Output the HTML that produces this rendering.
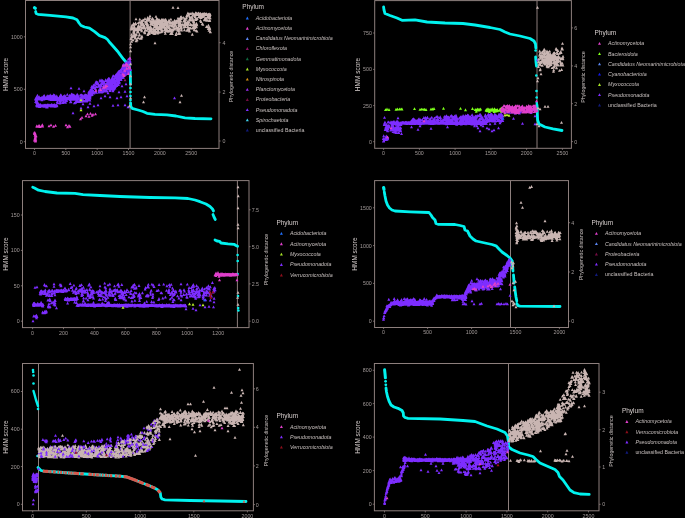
<!DOCTYPE html>
<html><head><meta charset="utf-8"><title>HMM score vs phylogenetic distance</title>
<style>
html,body{margin:0;padding:0;background:#000;}
body{width:685px;height:518px;overflow:hidden;font-family:"Liberation Sans",sans-serif;}
svg{display:block;filter:blur(0.35px);}
text{font-family:"Liberation Sans",sans-serif;}
</style></head><body>
<svg width="685" height="518" viewBox="0 0 685 518" font-family="Liberation Sans, sans-serif">
<line x1="130.1" y1="0.5" x2="130.1" y2="148.4" stroke="#8d7f7d" stroke-width="1"/>
<rect x="25.5" y="0.5" width="193.5" height="147.9" fill="none" stroke="#8d7f7d" stroke-width="1"/>
<text x="34.5" y="155.3" font-size="5.3" text-anchor="middle" fill="#a39b9a">0</text>
<text x="65.8" y="155.3" font-size="5.3" text-anchor="middle" fill="#a39b9a">500</text>
<text x="97.2" y="155.3" font-size="5.3" text-anchor="middle" fill="#a39b9a">1000</text>
<text x="128.5" y="155.3" font-size="5.3" text-anchor="middle" fill="#a39b9a">1500</text>
<text x="159.9" y="155.3" font-size="5.3" text-anchor="middle" fill="#a39b9a">2000</text>
<text x="191.2" y="155.3" font-size="5.3" text-anchor="middle" fill="#a39b9a">2500</text>
<text x="22.7" y="143.6" font-size="5.3" text-anchor="end" fill="#a39b9a">0</text>
<text x="22.7" y="91.2" font-size="5.3" text-anchor="end" fill="#a39b9a">500</text>
<text x="22.7" y="38.7" font-size="5.3" text-anchor="end" fill="#a39b9a">1000</text>
<text x="222.4" y="142.9" font-size="5.3" text-anchor="start" fill="#a39b9a">0</text>
<text x="222.4" y="94" font-size="5.3" text-anchor="start" fill="#a39b9a">2</text>
<text x="222.4" y="44.6" font-size="5.3" text-anchor="start" fill="#a39b9a">4</text>
<path stroke="#8d7f7d" stroke-width="0.8" fill="none" d="M34.5 148.4v1.6M65.8 148.4v1.6M97.2 148.4v1.6M128.5 148.4v1.6M159.9 148.4v1.6M191.2 148.4v1.6M25.5 141.7h-1.6M25.5 89.3h-1.6M25.5 36.8h-1.6M219 141h1.6M219 92.1h1.6M219 42.7h1.6"/>
<text x="8" y="74.5" font-size="6.5" text-anchor="middle" fill="#d8d0cf" transform="rotate(-90 8 74.5)">HMM score</text>
<text x="233.4" y="76.5" font-size="5.3" text-anchor="middle" fill="#c8c0bf" transform="rotate(-90 233.4 76.5)">Phylogenetic distance</text>
<polyline fill="none" stroke="#00f2ee" stroke-width="3.2" stroke-linecap="round" stroke-linejoin="round" points="34.5,7.7 35.3,8.3"/>
<polyline fill="none" stroke="#00f2ee" stroke-width="2.8" stroke-linecap="round" stroke-linejoin="round" points="35.6,11.5 36.2,13.5 38,14.3 50,15.3 66,16.8 73,18 77,19.8 79,23 81,25.5 84.5,27 89.5,28.2 94.6,31.6 99.5,35.6 105,37.6 107.5,39.5 110,42.8 114,47.3 117.5,51.2 120,54.6 123.6,59.3 126,62 128.5,64.4 129.5,68"/>
<polyline fill="none" stroke="#00f2ee" stroke-width="2.8" stroke-linecap="round" stroke-linejoin="round" points="129.5,68 130.2,72 130.4,78 130.5,84"/>
<circle cx="130.5" cy="88" r="1.35" fill="#00f2ee"/>
<circle cx="130.5" cy="92" r="1.35" fill="#00f2ee"/>
<circle cx="130.5" cy="96" r="1.35" fill="#00f2ee"/>
<circle cx="130.5" cy="100" r="1.35" fill="#00f2ee"/>
<polyline fill="none" stroke="#00f2ee" stroke-width="2.8" stroke-linecap="round" stroke-linejoin="round" points="130.6,103 130.8,106.5"/>
<polyline fill="none" stroke="#00f2ee" stroke-width="2.8" stroke-linecap="round" stroke-linejoin="round" points="130.8,106.5 132,108.3 138,110 143,111.5 147,113.3 155,114.3 167,114.8 176,116 185,117.8 195,118.5 211,118.8"/>
<polyline fill="none" stroke="#7d2dff" stroke-width="2.6" points="36,98.5 78,98.5"/>
<polyline fill="none" stroke="#7d2dff" stroke-width="2.4" points="36.5,105.6 56.5,105.6"/>
<path fill="#7d2dff" d="M62.1 97l1.5 2.9h-3zM73.6 96.5l1.5 2.9h-3zM68.5 96.8l1.5 2.9h-3zM45.1 96.6l1.5 2.9h-3zM48.3 97l1.5 2.9h-3zM72.6 96.7l1.5 2.9h-3zM35.7 96.8l1.5 2.9h-3zM70.4 96l1.5 2.9h-3zM69.4 96.4l1.5 2.9h-3zM55.4 98.1l1.5 2.9h-3zM48.4 96.5l1.5 2.9h-3zM47.3 96.3l1.5 2.9h-3zM46.3 97.2l1.5 2.9h-3zM54.4 98l1.5 2.9h-3zM56.9 96l1.5 2.9h-3zM59 96.8l1.5 2.9h-3zM77.8 96.5l1.5 2.9h-3zM69.2 95.8l1.5 2.9h-3zM61.9 97.5l1.5 2.9h-3zM77.5 97l1.5 2.9h-3zM44.7 97l1.5 2.9h-3zM42.3 96.5l1.5 2.9h-3zM61.5 97.3l1.5 2.9h-3zM37.4 96.6l1.5 2.9h-3zM37 96.9l1.5 2.9h-3zM57.4 96.2l1.5 2.9h-3zM55.3 96.1l1.5 2.9h-3zM74.5 97.9l1.5 2.9h-3zM62.2 96.6l1.5 2.9h-3zM57.3 97.2l1.5 2.9h-3zM56.6 97l1.5 2.9h-3zM46 96.7l1.5 2.9h-3zM36 96.6l1.5 2.9h-3zM43.7 97.4l1.5 2.9h-3zM64.9 96.8l1.5 2.9h-3zM44 96.9l1.5 2.9h-3zM51.2 97l1.5 2.9h-3zM35.7 97.8l1.5 2.9h-3zM70.8 97.5l1.5 2.9h-3zM42.1 97.3l1.5 2.9h-3zM46.9 96.6l1.5 2.9h-3zM72.9 96l1.5 2.9h-3zM57.2 97.7l1.5 2.9h-3zM71.5 97.7l1.5 2.9h-3zM62.7 96.9l1.5 2.9h-3zM67 97.4l1.5 2.9h-3zM39.4 97.5l1.5 2.9h-3zM58.5 97.6l1.5 2.9h-3zM57.1 97.6l1.5 2.9h-3zM72.5 96.7l1.5 2.9h-3zM50.9 98.1l1.5 2.9h-3zM60.9 96.1l1.5 2.9h-3zM38 97.6l1.5 2.9h-3zM52 97.3l1.5 2.9h-3zM49.2 97.6l1.5 2.9h-3zM41.9 98.3l1.5 2.9h-3zM70.2 98l1.5 2.9h-3zM51.6 96.2l1.5 2.9h-3zM77.1 95.8l1.5 2.9h-3zM60.6 97.6l1.5 2.9h-3zM61.2 96.3l1.5 2.9h-3zM62.6 97l1.5 2.9h-3zM64.2 97.6l1.5 2.9h-3zM41.9 95.8l1.5 2.9h-3zM54.2 95.5l1.5 2.9h-3zM45.7 97.2l1.5 2.9h-3zM52.6 97l1.5 2.9h-3zM39.6 96.8l1.5 2.9h-3zM76.6 97l1.5 2.9h-3zM44.6 96.4l1.5 2.9h-3zM64.1 95.9l1.5 2.9h-3zM48.3 96.9l1.5 2.9h-3zM72.6 96.3l1.5 2.9h-3zM63.6 95.8l1.5 2.9h-3zM41.1 97.3l1.5 2.9h-3zM71.4 96.9l1.5 2.9h-3zM75.7 97.3l1.5 2.9h-3zM73.9 96.3l1.5 2.9h-3zM59.7 96.5l1.5 2.9h-3zM41.7 96.3l1.5 2.9h-3zM43.7 96.4l1.5 2.9h-3zM74.9 97.1l1.5 2.9h-3zM59 96.4l1.5 2.9h-3zM43.2 97.2l1.5 2.9h-3zM73.1 97.2l1.5 2.9h-3zM62.8 98.4l1.5 2.9h-3zM59.7 96l1.5 2.9h-3zM51.5 97.6l1.5 2.9h-3zM53 96.9l1.5 2.9h-3zM45.7 97l1.5 2.9h-3zM37.1 96l1.5 2.9h-3zM72.7 96.7l1.5 2.9h-3zM55.4 97.5l1.5 2.9h-3zM58.8 96.9l1.5 2.9h-3zM49.2 97l1.5 2.9h-3zM67.4 96.8l1.5 2.9h-3zM36.6 97.8l1.5 2.9h-3zM51.3 97l1.5 2.9h-3zM36.8 95.5l1.5 2.9h-3zM40.7 96.5l1.5 2.9h-3zM76.6 95.6l1.5 2.9h-3zM63.5 94.7l1.5 2.9h-3zM53.7 96.6l1.5 2.9h-3zM57.8 97.9l1.5 2.9h-3zM72.6 97l1.5 2.9h-3zM50.1 96.2l1.5 2.9h-3zM60.6 96.3l1.5 2.9h-3zM64.6 97.8l1.5 2.9h-3zM50.6 97.1l1.5 2.9h-3zM57.6 97l1.5 2.9h-3zM68 97l1.5 2.9h-3zM74.1 97l1.5 2.9h-3zM41.9 97.6l1.5 2.9h-3zM75.2 97.4l1.5 2.9h-3zM35.7 97.1l1.5 2.9h-3zM67.5 96.3l1.5 2.9h-3zM69.9 97.3l1.5 2.9h-3zM41.3 96.5l1.5 2.9h-3zM53.3 97.8l1.5 2.9h-3zM70.1 96.1l1.5 2.9h-3zM36.1 96.9l1.5 2.9h-3zM62.2 97l1.5 2.9h-3zM69.2 96.1l1.5 2.9h-3zM57.3 98.2l1.5 2.9h-3zM66.3 98l1.5 2.9h-3zM45.1 96.7l1.5 2.9h-3zM43.9 97.5l1.5 2.9h-3zM50.9 97.3l1.5 2.9h-3zM43.1 95.2l1.5 2.9h-3zM50.2 97.2l1.5 2.9h-3zM75.8 96.9l1.5 2.9h-3zM59.9 97l1.5 2.9h-3zM50 96.2l1.5 2.9h-3zM47 96.8l1.5 2.9h-3zM76 96.9l1.5 2.9h-3zM54.4 97.8l1.5 2.9h-3zM77.2 97.2l1.5 2.9h-3zM57.4 97l1.5 2.9h-3zM57.6 98.1l1.5 2.9h-3zM73.6 96.6l1.5 2.9h-3zM67.1 96.7l1.5 2.9h-3zM60.2 95.7l1.5 2.9h-3zM53.6 98.1l1.5 2.9h-3zM72.8 97.7l1.5 2.9h-3zM53 97.6l1.5 2.9h-3zM74.7 97.5l1.5 2.9h-3zM38.4 97.1l1.5 2.9h-3zM53.8 97.1l1.5 2.9h-3zM57.6 96.8l1.5 2.9h-3zM75.9 96.8l1.5 2.9h-3zM51.9 102.9l1.5 2.9h-3zM51.1 103.2l1.5 2.9h-3zM45.3 104.6l1.5 2.9h-3zM43.9 104.5l1.5 2.9h-3zM44.8 104l1.5 2.9h-3zM36.7 103.1l1.5 2.9h-3zM53.7 103.9l1.5 2.9h-3zM47.4 103.7l1.5 2.9h-3zM44.1 104.5l1.5 2.9h-3zM47.5 105.4l1.5 2.9h-3zM51.2 104.2l1.5 2.9h-3zM44 103.6l1.5 2.9h-3zM53.4 103.4l1.5 2.9h-3zM55.3 104.1l1.5 2.9h-3zM44.1 104l1.5 2.9h-3zM38.9 103.4l1.5 2.9h-3zM52 104.2l1.5 2.9h-3zM56.9 103.4l1.5 2.9h-3zM39.1 104.8l1.5 2.9h-3zM51 104.7l1.5 2.9h-3zM53.3 104.7l1.5 2.9h-3zM55.3 103.8l1.5 2.9h-3zM38.6 104.4l1.5 2.9h-3zM37.9 104l1.5 2.9h-3zM56.7 103.9l1.5 2.9h-3zM38.5 103.9l1.5 2.9h-3zM39.7 103.3l1.5 2.9h-3zM48.1 103.2l1.5 2.9h-3zM45.4 104.6l1.5 2.9h-3zM51.8 104l1.5 2.9h-3zM40 104.2l1.5 2.9h-3zM55.2 104.7l1.5 2.9h-3zM40.6 103.1l1.5 2.9h-3zM52.2 103.6l1.5 2.9h-3zM37.4 104.2l1.5 2.9h-3zM45.9 104.3l1.5 2.9h-3zM36.7 103.9l1.5 2.9h-3zM42.6 104.7l1.5 2.9h-3zM42.6 104.2l1.5 2.9h-3zM51.1 103.4l1.5 2.9h-3zM45.6 103.5l1.5 2.9h-3zM37.2 104.6l1.5 2.9h-3zM56.9 104.4l1.5 2.9h-3zM54.7 103l1.5 2.9h-3zM55.2 104.9l1.5 2.9h-3zM41.2 104.5l1.5 2.9h-3zM44.3 104.9l1.5 2.9h-3zM40.8 103.9l1.5 2.9h-3zM38.6 103.9l1.5 2.9h-3zM36.7 103.4l1.5 2.9h-3zM46.6 105.6l1.5 2.9h-3zM38.6 104l1.5 2.9h-3zM39.7 105l1.5 2.9h-3zM54.1 103.7l1.5 2.9h-3zM46.2 104.2l1.5 2.9h-3zM39.9 103.1l1.5 2.9h-3zM50.1 103.9l1.5 2.9h-3zM41.6 104.7l1.5 2.9h-3zM47.1 103.3l1.5 2.9h-3zM41.9 104.7l1.5 2.9h-3zM46.8 104.3l1.5 2.9h-3zM49.2 103.5l1.5 2.9h-3zM47.3 103.8l1.5 2.9h-3zM44.3 103.8l1.5 2.9h-3zM52.6 104.1l1.5 2.9h-3zM54.3 103.8l1.5 2.9h-3zM39.8 103.6l1.5 2.9h-3zM38.9 103.9l1.5 2.9h-3zM38.4 103.5l1.5 2.9h-3zM56.6 103.3l1.5 2.9h-3zM37.6 100.8l1.5 2.9h-3zM35.6 100.2l1.5 2.9h-3zM36.4 99.6l1.5 2.9h-3zM37.3 101l1.5 2.9h-3zM37.1 100.2l1.5 2.9h-3zM36.7 101l1.5 2.9h-3zM37.4 100.3l1.5 2.9h-3zM36.4 99.3l1.5 2.9h-3zM36.9 100.3l1.5 2.9h-3zM37.5 100.4l1.5 2.9h-3zM50.2 93.6l1.5 2.9h-3zM70.7 94.4l1.5 2.9h-3zM52 95.8l1.5 2.9h-3zM71.5 92.4l1.5 2.9h-3zM69 95.1l1.5 2.9h-3zM54.8 93.8l1.5 2.9h-3zM65.9 95.5l1.5 2.9h-3zM37.4 93.8l1.5 2.9h-3zM52.4 94.5l1.5 2.9h-3zM72.1 93.5l1.5 2.9h-3zM60.3 93.9l1.5 2.9h-3zM59.4 95.8l1.5 2.9h-3zM63.9 95.3l1.5 2.9h-3zM64.5 94.4l1.5 2.9h-3zM60.5 94l1.5 2.9h-3zM53.7 93.2l1.5 2.9h-3zM43.7 94.4l1.5 2.9h-3zM48.3 94.7l1.5 2.9h-3zM48.3 94.6l1.5 2.9h-3zM54.1 94.6l1.5 2.9h-3zM78 93.8l1.5 2.9h-3zM50.8 94.6l1.5 2.9h-3zM54.8 94.7l1.5 2.9h-3zM51.6 95.7l1.5 2.9h-3zM60.4 96.2l1.5 2.9h-3zM75.8 94.6l1.5 2.9h-3zM73.3 94.1l1.5 2.9h-3zM51.8 94.6l1.5 2.9h-3zM47.2 94.2l1.5 2.9h-3zM73.1 94.1l1.5 2.9h-3zM56.7 94.6l1.5 2.9h-3zM64.8 93.9l1.5 2.9h-3zM39.1 95.2l1.5 2.9h-3zM72.4 94.6l1.5 2.9h-3zM49.1 94.9l1.5 2.9h-3zM56.8 94.5l1.5 2.9h-3zM44.3 94.1l1.5 2.9h-3zM53.7 93.9l1.5 2.9h-3zM70.8 94.5l1.5 2.9h-3zM70.8 94.3l1.5 2.9h-3zM73.1 96.2l1.5 2.9h-3zM72.8 92.9l1.5 2.9h-3zM64.2 100.4l1.5 2.9h-3zM62.4 96.9l1.5 2.9h-3zM66.2 96.6l1.5 2.9h-3zM67.3 92.9l1.5 2.9h-3zM60 98.9l1.5 2.9h-3zM66.3 96.9l1.5 2.9h-3zM70.4 100.3l1.5 2.9h-3zM59.9 101.1l1.5 2.9h-3zM59.9 101.7l1.5 2.9h-3zM60.6 95.3l1.5 2.9h-3zM62.9 96.1l1.5 2.9h-3zM77.2 92.7l1.5 2.9h-3zM57.5 100.4l1.5 2.9h-3zM60.9 98.7l1.5 2.9h-3zM60.5 100.4l1.5 2.9h-3zM67 96.9l1.5 2.9h-3zM57.3 100l1.5 2.9h-3zM66.6 99.1l1.5 2.9h-3zM60.4 96.1l1.5 2.9h-3zM62.7 101l1.5 2.9h-3zM73.6 93.5l1.5 2.9h-3zM60.9 93.3l1.5 2.9h-3zM70 94.7l1.5 2.9h-3zM65.5 100.9l1.5 2.9h-3zM65.8 99.4l1.5 2.9h-3zM74.2 93.7l1.5 2.9h-3zM60.4 99.2l1.5 2.9h-3zM76.4 99.1l1.5 2.9h-3zM75.8 94.4l1.5 2.9h-3zM71 100.4l1.5 2.9h-3zM58 98.7l1.5 2.9h-3zM70.9 96.4l1.5 2.9h-3zM69.6 93.8l1.5 2.9h-3zM73.2 97.9l1.5 2.9h-3zM61.5 94.2l1.5 2.9h-3zM77 95.1l1.5 2.9h-3zM75.6 100.9l1.5 2.9h-3zM59.4 95.6l1.5 2.9h-3zM63.6 99.9l1.5 2.9h-3zM57.7 101.2l1.5 2.9h-3zM74.4 101.4l1.5 2.9h-3zM76.2 99.3l1.5 2.9h-3zM77.8 95.4l1.5 2.9h-3zM76.7 96.8l1.5 2.9h-3zM79 96.6l1.5 2.9h-3zM77.8 95.7l1.5 2.9h-3zM82.5 97.5l1.5 2.9h-3zM81 95.4l1.5 2.9h-3zM84.2 93.6l1.5 2.9h-3zM79.9 98l1.5 2.9h-3zM76.5 95.9l1.5 2.9h-3zM80.6 98.6l1.5 2.9h-3zM86.6 99l1.5 2.9h-3zM79.6 97.1l1.5 2.9h-3zM81.7 99.7l1.5 2.9h-3zM86.6 99.6l1.5 2.9h-3zM81.7 93.6l1.5 2.9h-3zM88.4 94.7l1.5 2.9h-3zM88.9 98.3l1.5 2.9h-3zM80.3 93.5l1.5 2.9h-3zM86.3 97.5l1.5 2.9h-3zM79.5 100l1.5 2.9h-3zM78 94.9l1.5 2.9h-3zM82.1 93.9l1.5 2.9h-3zM84.4 94.2l1.5 2.9h-3zM89.1 98.6l1.5 2.9h-3zM78 96.8l1.5 2.9h-3zM86 93.7l1.5 2.9h-3zM82.7 99l1.5 2.9h-3zM77.8 95.5l1.5 2.9h-3zM89.6 93l1.5 2.9h-3zM85.7 95.3l1.5 2.9h-3zM77.8 99.1l1.5 2.9h-3zM88.7 96.6l1.5 2.9h-3zM77.4 100.2l1.5 2.9h-3zM77.3 98.1l1.5 2.9h-3zM80.6 96.9l1.5 2.9h-3zM89.1 97.3l1.5 2.9h-3zM76.5 94l1.5 2.9h-3zM88.9 96.4l1.5 2.9h-3zM84.6 96.1l1.5 2.9h-3zM76.9 98.5l1.5 2.9h-3zM84 99.7l1.5 2.9h-3zM82.4 98.5l1.5 2.9h-3zM83.9 99.2l1.5 2.9h-3zM86.3 94.2l1.5 2.9h-3zM85.5 93.3l1.5 2.9h-3zM90 95.7l1.5 2.9h-3zM78.2 95.5l1.5 2.9h-3zM87.4 95.3l1.5 2.9h-3zM81.8 99.6l1.5 2.9h-3zM87 96.4l1.5 2.9h-3zM88.5 94.3l1.5 2.9h-3zM89.9 98.5l1.5 2.9h-3zM79.7 98.9l1.5 2.9h-3zM82.3 95.1l1.5 2.9h-3zM89.2 97.5l1.5 2.9h-3zM89.2 93.8l1.5 2.9h-3zM81.2 93.5l1.5 2.9h-3zM89.2 95.6l1.5 2.9h-3zM81.7 97.8l1.5 2.9h-3zM81.2 97.9l1.5 2.9h-3zM86.6 96.1l1.5 2.9h-3zM82.6 99.1l1.5 2.9h-3zM82.3 93.8l1.5 2.9h-3zM81.4 99.9l1.5 2.9h-3zM82.1 96.1l1.5 2.9h-3zM78 94.4l1.5 2.9h-3zM76.9 97.9l1.5 2.9h-3zM86.6 93.8l1.5 2.9h-3zM83.9 94.5l1.5 2.9h-3zM85.4 98.5l1.5 2.9h-3zM87.2 97.9l1.5 2.9h-3zM130.2 67.9l1.5 2.9h-3zM118.6 70l1.5 2.9h-3zM106 89.5l1.5 2.9h-3zM105.6 83.3l1.5 2.9h-3zM121.1 69.3l1.5 2.9h-3zM95.5 90.1l1.5 2.9h-3zM115.2 76.2l1.5 2.9h-3zM118.6 74.6l1.5 2.9h-3zM109.9 88.6l1.5 2.9h-3zM125.1 73.1l1.5 2.9h-3zM107.9 87.1l1.5 2.9h-3zM107.8 86.2l1.5 2.9h-3zM100.1 83.5l1.5 2.9h-3zM127.1 63.4l1.5 2.9h-3zM101.4 84.4l1.5 2.9h-3zM117.5 75.6l1.5 2.9h-3zM105.4 85.7l1.5 2.9h-3zM127.8 71.9l1.5 2.9h-3zM128.3 57.5l1.5 2.9h-3zM89.3 90.5l1.5 2.9h-3zM130.3 67l1.5 2.9h-3zM113.7 84.9l1.5 2.9h-3zM91.1 93.3l1.5 2.9h-3zM109.1 84.9l1.5 2.9h-3zM90.1 96.5l1.5 2.9h-3zM111.3 86.9l1.5 2.9h-3zM95.9 85.3l1.5 2.9h-3zM103.6 84.2l1.5 2.9h-3zM100.9 83.7l1.5 2.9h-3zM113.6 78.8l1.5 2.9h-3zM123 74.6l1.5 2.9h-3zM127.8 60.4l1.5 2.9h-3zM102 81.1l1.5 2.9h-3zM112.2 76.3l1.5 2.9h-3zM88.3 93.6l1.5 2.9h-3zM103.8 89l1.5 2.9h-3zM128.8 60.5l1.5 2.9h-3zM93.1 89.2l1.5 2.9h-3zM125 72.5l1.5 2.9h-3zM115.7 74.6l1.5 2.9h-3zM100.5 87.7l1.5 2.9h-3zM121.1 78l1.5 2.9h-3zM100.3 84.5l1.5 2.9h-3zM126 60.7l1.5 2.9h-3zM91.5 92.8l1.5 2.9h-3zM93.1 91.2l1.5 2.9h-3zM119.9 72.1l1.5 2.9h-3zM107.1 87.2l1.5 2.9h-3zM94.3 85.9l1.5 2.9h-3zM109.8 85.6l1.5 2.9h-3zM100.6 83l1.5 2.9h-3zM111.3 83.4l1.5 2.9h-3zM119.6 77.9l1.5 2.9h-3zM124.4 67l1.5 2.9h-3zM90.5 93l1.5 2.9h-3zM113.2 88.2l1.5 2.9h-3zM129.8 56.9l1.5 2.9h-3zM107.5 79.1l1.5 2.9h-3zM120.7 74.3l1.5 2.9h-3zM92.1 91.6l1.5 2.9h-3zM125.1 65l1.5 2.9h-3zM112.7 78.3l1.5 2.9h-3zM125.8 72l1.5 2.9h-3zM121.5 73l1.5 2.9h-3zM124.9 64.2l1.5 2.9h-3zM90.4 90l1.5 2.9h-3zM118.4 83l1.5 2.9h-3zM96.4 90.9l1.5 2.9h-3zM99.3 88.9l1.5 2.9h-3zM101.8 78.6l1.5 2.9h-3zM113.1 81.1l1.5 2.9h-3zM114.7 85.1l1.5 2.9h-3zM127.6 60.8l1.5 2.9h-3zM88.5 96.6l1.5 2.9h-3zM96.2 90.7l1.5 2.9h-3zM103.4 80.1l1.5 2.9h-3zM122.8 64.9l1.5 2.9h-3zM111.4 85.9l1.5 2.9h-3zM109.8 88.2l1.5 2.9h-3zM120.3 72.4l1.5 2.9h-3zM115.8 79.3l1.5 2.9h-3zM100.3 79.7l1.5 2.9h-3zM91.7 85.1l1.5 2.9h-3zM107.6 81.3l1.5 2.9h-3zM125.4 62.9l1.5 2.9h-3zM113.4 79.6l1.5 2.9h-3zM90.3 88.3l1.5 2.9h-3zM106.7 89.7l1.5 2.9h-3zM104.3 84.4l1.5 2.9h-3zM112.8 77.4l1.5 2.9h-3zM113 76.8l1.5 2.9h-3zM128.4 69.7l1.5 2.9h-3zM102.4 82.3l1.5 2.9h-3zM105.3 79l1.5 2.9h-3zM114.1 80.9l1.5 2.9h-3zM125.7 65.8l1.5 2.9h-3zM118 72.5l1.5 2.9h-3zM108 84.5l1.5 2.9h-3zM122.6 72.8l1.5 2.9h-3zM108.6 76.8l1.5 2.9h-3zM128.9 67.8l1.5 2.9h-3zM100 90.1l1.5 2.9h-3zM93.4 83.5l1.5 2.9h-3zM123.3 63l1.5 2.9h-3zM100.6 88l1.5 2.9h-3zM124 64.8l1.5 2.9h-3zM113.9 79.3l1.5 2.9h-3zM109.6 83.2l1.5 2.9h-3zM91.7 86.8l1.5 2.9h-3zM121.4 70.1l1.5 2.9h-3zM90.8 90l1.5 2.9h-3zM129 64.2l1.5 2.9h-3zM125.3 62.8l1.5 2.9h-3zM100.9 87.9l1.5 2.9h-3zM93.4 84.2l1.5 2.9h-3zM125.6 72.3l1.5 2.9h-3zM108.4 78.9l1.5 2.9h-3zM93.3 86l1.5 2.9h-3zM109.2 82.7l1.5 2.9h-3zM98.5 82.7l1.5 2.9h-3zM105.3 89.5l1.5 2.9h-3zM115.2 84.9l1.5 2.9h-3zM126.9 63.9l1.5 2.9h-3zM122 70.2l1.5 2.9h-3zM94.8 83.3l1.5 2.9h-3zM108.3 77.9l1.5 2.9h-3zM108.9 80.4l1.5 2.9h-3zM130.1 59.3l1.5 2.9h-3zM91.7 89.9l1.5 2.9h-3zM109.7 83.7l1.5 2.9h-3zM126.9 68.7l1.5 2.9h-3zM105 83.8l1.5 2.9h-3zM99.1 90.7l1.5 2.9h-3zM111.6 80.4l1.5 2.9h-3zM101.6 79.6l1.5 2.9h-3zM127.4 61.6l1.5 2.9h-3zM91.6 88.8l1.5 2.9h-3zM96.8 80.3l1.5 2.9h-3zM91.6 91.4l1.5 2.9h-3zM118.3 76.8l1.5 2.9h-3zM100.5 86l1.5 2.9h-3zM126.3 62.7l1.5 2.9h-3zM126 61.5l1.5 2.9h-3zM127.8 61l1.5 2.9h-3zM98.9 83.6l1.5 2.9h-3zM88 97.4l1.5 2.9h-3zM104.5 81.1l1.5 2.9h-3zM128.9 70.8l1.5 2.9h-3zM120.5 68.5l1.5 2.9h-3zM90.5 92l1.5 2.9h-3zM117.9 81.5l1.5 2.9h-3zM127 68l1.5 2.9h-3zM129.1 67.4l1.5 2.9h-3zM118.4 74.1l1.5 2.9h-3zM124.7 64.1l1.5 2.9h-3zM123.8 63.5l1.5 2.9h-3zM103.2 81l1.5 2.9h-3zM92.2 93.2l1.5 2.9h-3zM118.9 71.9l1.5 2.9h-3zM93.8 89.8l1.5 2.9h-3zM104.3 85.9l1.5 2.9h-3zM130.3 60.8l1.5 2.9h-3zM111.8 81l1.5 2.9h-3zM110.2 89.1l1.5 2.9h-3zM128.3 69l1.5 2.9h-3zM100.1 88.7l1.5 2.9h-3zM130.5 68.2l1.5 2.9h-3zM126.8 68.3l1.5 2.9h-3zM103.5 87.3l1.5 2.9h-3zM101.9 90.5l1.5 2.9h-3zM93.4 90l1.5 2.9h-3zM126.9 63.2l1.5 2.9h-3zM95.9 80.4l1.5 2.9h-3zM88.4 92.6l1.5 2.9h-3zM125.8 70.6l1.5 2.9h-3zM113.4 81.7l1.5 2.9h-3zM116.6 77.9l1.5 2.9h-3zM119.2 77.5l1.5 2.9h-3zM89.8 93.9l1.5 2.9h-3zM91.9 91.7l1.5 2.9h-3zM109.2 86.7l1.5 2.9h-3zM90.1 94.9l1.5 2.9h-3zM109.4 77.1l1.5 2.9h-3zM119.3 69.5l1.5 2.9h-3zM115.9 84l1.5 2.9h-3zM114.2 86.4l1.5 2.9h-3zM90 91.1l1.5 2.9h-3zM98.1 81.7l1.5 2.9h-3zM126.1 67.1l1.5 2.9h-3zM93.2 90.2l1.5 2.9h-3zM110.7 83.9l1.5 2.9h-3zM90.1 94.2l1.5 2.9h-3zM127.9 70.5l1.5 2.9h-3zM95.3 87.2l1.5 2.9h-3zM105.4 88.4l1.5 2.9h-3zM111.2 79.6l1.5 2.9h-3zM118.5 73.7l1.5 2.9h-3zM127.8 63.9l1.5 2.9h-3zM119.3 80.1l1.5 2.9h-3zM102.8 79.1l1.5 2.9h-3zM91.2 89.1l1.5 2.9h-3zM118.1 79.1l1.5 2.9h-3zM129.3 61.4l1.5 2.9h-3zM88.7 93l1.5 2.9h-3zM120.9 76.7l1.5 2.9h-3zM95.5 81.5l1.5 2.9h-3zM107.5 77.9l1.5 2.9h-3zM110.2 84.8l1.5 2.9h-3zM114.1 86.4l1.5 2.9h-3zM130.1 56.8l1.5 2.9h-3zM117.2 82.8l1.5 2.9h-3zM104.7 85.9l1.5 2.9h-3zM118.4 79.6l1.5 2.9h-3zM107.8 84.5l1.5 2.9h-3zM105.6 78.3l1.5 2.9h-3zM103.5 79.9l1.5 2.9h-3zM109 84.8l1.5 2.9h-3zM100 78.6l1.5 2.9h-3zM98.3 84.9l1.5 2.9h-3zM94.3 85.9l1.5 2.9h-3zM106.7 89.5l1.5 2.9h-3zM100.5 79.5l1.5 2.9h-3zM123.6 72.3l1.5 2.9h-3zM124 70.9l1.5 2.9h-3zM102.6 90l1.5 2.9h-3zM114.3 83.4l1.5 2.9h-3zM126.3 68.5l1.5 2.9h-3zM103.3 86l1.5 2.9h-3zM111.6 83.1l1.5 2.9h-3zM106.9 81.3l1.5 2.9h-3zM115.6 73.5l1.5 2.9h-3zM128.8 68.7l1.5 2.9h-3zM93.9 91.7l1.5 2.9h-3zM129 61.6l1.5 2.9h-3zM116.3 82.8l1.5 2.9h-3zM121.8 72.1l1.5 2.9h-3zM115 86.5l1.5 2.9h-3zM125 67.7l1.5 2.9h-3zM101.9 89.6l1.5 2.9h-3zM118.1 77.7l1.5 2.9h-3zM99.2 89.6l1.5 2.9h-3zM109.6 79.5l1.5 2.9h-3zM117 78.1l1.5 2.9h-3zM96.5 85.1l1.5 2.9h-3zM90.6 92.8l1.5 2.9h-3zM121.6 73.3l1.5 2.9h-3zM122.4 71.3l1.5 2.9h-3zM116.3 76.2l1.5 2.9h-3zM101.7 79.3l1.5 2.9h-3zM116 75.7l1.5 2.9h-3zM91.6 88.2l1.5 2.9h-3zM116.2 83.8l1.5 2.9h-3zM112.5 86.9l1.5 2.9h-3zM114.2 77.6l1.5 2.9h-3zM107 89.3l1.5 2.9h-3zM97.6 80.9l1.5 2.9h-3zM118.8 75.8l1.5 2.9h-3zM107.7 85.4l1.5 2.9h-3zM119.7 72.6l1.5 2.9h-3zM103.5 84.4l1.5 2.9h-3zM91.7 89.3l1.5 2.9h-3zM111.1 83l1.5 2.9h-3zM114.5 81.4l1.5 2.9h-3zM127.2 66.3l1.5 2.9h-3zM125.7 61.3l1.5 2.9h-3zM90.4 89.1l1.5 2.9h-3zM120.8 74.2l1.5 2.9h-3zM99.1 88l1.5 2.9h-3zM117.6 79.2l1.5 2.9h-3zM104.1 84.1l1.5 2.9h-3zM101.7 82.2l1.5 2.9h-3zM108.8 79.9l1.5 2.9h-3zM110.5 79.2l1.5 2.9h-3zM117.5 78.5l1.5 2.9h-3zM115.1 84l1.5 2.9h-3zM116.8 78.4l1.5 2.9h-3zM104.3 83.8l1.5 2.9h-3zM116.8 78.1l1.5 2.9h-3zM102.7 82l1.5 2.9h-3zM113.8 87.4l1.5 2.9h-3zM107.5 82.1l1.5 2.9h-3zM111.9 82.8l1.5 2.9h-3zM88.7 90.6l1.5 2.9h-3zM109.2 81.5l1.5 2.9h-3zM97.3 82.1l1.5 2.9h-3zM104.4 86.5l1.5 2.9h-3zM91.1 90.1l1.5 2.9h-3zM115.9 78.3l1.5 2.9h-3zM126 66.6l1.5 2.9h-3zM103.1 87.1l1.5 2.9h-3zM110.6 82.2l1.5 2.9h-3zM125.2 66l1.5 2.9h-3zM112.1 83.7l1.5 2.9h-3zM119.2 81.1l1.5 2.9h-3zM112.8 83.8l1.5 2.9h-3zM122.7 72.5l1.5 2.9h-3zM111.6 80.4l1.5 2.9h-3zM115.6 83.7l1.5 2.9h-3zM112 80.3l1.5 2.9h-3zM123.5 68.7l1.5 2.9h-3zM119.1 70.5l1.5 2.9h-3zM119.4 81.4l1.5 2.9h-3zM113.7 74.3l1.5 2.9h-3zM111.2 79.4l1.5 2.9h-3zM123.4 75.8l1.5 2.9h-3zM121.8 75.1l1.5 2.9h-3zM121.2 68.6l1.5 2.9h-3zM125.9 66.3l1.5 2.9h-3zM118.1 70.4l1.5 2.9h-3zM111.2 78.8l1.5 2.9h-3zM119 73l1.5 2.9h-3zM113.2 80.1l1.5 2.9h-3zM117.2 73.4l1.5 2.9h-3zM116.3 78l1.5 2.9h-3zM118.1 78.7l1.5 2.9h-3zM124.6 63.6l1.5 2.9h-3zM122.6 71.9l1.5 2.9h-3zM115.5 84.5l1.5 2.9h-3zM122.7 74.5l1.5 2.9h-3zM123.5 67.4l1.5 2.9h-3zM121.9 75.6l1.5 2.9h-3zM117.9 75.2l1.5 2.9h-3zM124.2 69.5l1.5 2.9h-3zM116.9 83.3l1.5 2.9h-3zM109.9 78.8l1.5 2.9h-3zM112.9 74.6l1.5 2.9h-3zM119.8 76.6l1.5 2.9h-3zM114.8 80.5l1.5 2.9h-3zM115.6 74.6l1.5 2.9h-3zM115.2 81.4l1.5 2.9h-3zM111.5 82.1l1.5 2.9h-3zM109.7 80.5l1.5 2.9h-3zM108.9 85.5l1.5 2.9h-3zM120.1 76.4l1.5 2.9h-3zM113.8 79.5l1.5 2.9h-3zM116.2 73.3l1.5 2.9h-3zM124.8 69.2l1.5 2.9h-3zM119.3 72l1.5 2.9h-3zM122.6 65.9l1.5 2.9h-3zM121.7 67.1l1.5 2.9h-3zM125.2 63.9l1.5 2.9h-3zM109.2 81.8l1.5 2.9h-3zM114.9 79.3l1.5 2.9h-3zM125.1 69.9l1.5 2.9h-3zM116.4 84.2l1.5 2.9h-3zM125.1 63.1l1.5 2.9h-3zM111.3 80.7l1.5 2.9h-3zM109.1 78.2l1.5 2.9h-3zM124.1 67.4l1.5 2.9h-3zM115.4 74.5l1.5 2.9h-3zM117.1 79.9l1.5 2.9h-3zM124.9 69.6l1.5 2.9h-3zM111.9 87.7l1.5 2.9h-3zM125.4 68.8l1.5 2.9h-3zM115.1 80.6l1.5 2.9h-3zM112.5 83.4l1.5 2.9h-3zM112.2 78l1.5 2.9h-3zM117.3 74.7l1.5 2.9h-3zM116.4 82.4l1.5 2.9h-3zM123.9 70.5l1.5 2.9h-3zM108.9 79.1l1.5 2.9h-3zM108.8 84.9l1.5 2.9h-3zM110.8 85.4l1.5 2.9h-3zM118.9 74.3l1.5 2.9h-3zM122.1 76.2l1.5 2.9h-3zM116.6 83.8l1.5 2.9h-3zM119 80.2l1.5 2.9h-3zM119.6 76.2l1.5 2.9h-3zM108.3 86.6l1.5 2.9h-3zM112.4 75.8l1.5 2.9h-3zM126 68.8l1.5 2.9h-3zM114 80.4l1.5 2.9h-3zM125 69.6l1.5 2.9h-3zM116.9 72.2l1.5 2.9h-3zM112 85.2l1.5 2.9h-3zM108 80.9l1.5 2.9h-3zM111.9 78.1l1.5 2.9h-3zM113.8 84.5l1.5 2.9h-3zM115.9 73.9l1.5 2.9h-3zM116 76l1.5 2.9h-3zM73 111.4l1.5 2.9h-3zM81 106.4l1.5 2.9h-3zM88 105.4l1.5 2.9h-3zM94 104.4l1.5 2.9h-3zM98 103.4l1.5 2.9h-3zM113 103.9l1.5 2.9h-3zM118 103.4l1.5 2.9h-3zM125 103.4l1.5 2.9h-3zM128 105.4l1.5 2.9h-3zM119 90.4l1.5 2.9h-3zM125 89.9l1.5 2.9h-3zM117 96.4l1.5 2.9h-3zM121 95.4l1.5 2.9h-3zM110 95.4l1.5 2.9h-3zM105 94.4l1.5 2.9h-3zM71 86.4l1.5 2.9h-3zM79 86.9l1.5 2.9h-3zM84 89.4l1.5 2.9h-3zM83 102.4l1.5 2.9h-3zM90 101.9l1.5 2.9h-3zM101 96.4l1.5 2.9h-3zM108 91.4l1.5 2.9h-3zM113 89.4l1.5 2.9h-3zM122 84.4l1.5 2.9h-3zM126 82.4l1.5 2.9h-3zM127 94.4l1.5 2.9h-3zM174.5 96.4l1.5 2.9h-3z"/>
<path fill="#e03fcb" d="M34.3 130.9l1.5 2.9h-3zM35.1 131.5l1.5 2.9h-3zM34.4 132.1l1.5 2.9h-3zM35.3 132.7l1.5 2.9h-3zM35.3 133.2l1.5 2.9h-3zM35.1 133.8l1.5 2.9h-3zM36.1 134.4l1.5 2.9h-3zM35.4 135l1.5 2.9h-3zM35.4 135.6l1.5 2.9h-3zM35.2 136.2l1.5 2.9h-3zM35 136.8l1.5 2.9h-3zM35.6 137.3l1.5 2.9h-3zM35.7 137.9l1.5 2.9h-3zM34.4 138.5l1.5 2.9h-3zM35.6 139.1l1.5 2.9h-3zM35.4 139.7l1.5 2.9h-3zM37.3 124.9l1.5 2.9h-3zM39.5 124.7l1.5 2.9h-3zM36.7 124.5l1.5 2.9h-3zM39.6 124.9l1.5 2.9h-3zM40 125.1l1.5 2.9h-3zM42.3 123.2l1.5 2.9h-3zM36.9 124.5l1.5 2.9h-3zM39.2 124.1l1.5 2.9h-3zM42.2 123.8l1.5 2.9h-3zM38.7 124.3l1.5 2.9h-3zM42.7 124.6l1.5 2.9h-3zM41.7 124.5l1.5 2.9h-3zM49 124.4l1.5 2.9h-3zM51 123.4l1.5 2.9h-3zM53.5 124.9l1.5 2.9h-3zM55.5 123.9l1.5 2.9h-3zM66 123.4l1.5 2.9h-3zM67.5 125.4l1.5 2.9h-3zM69 123.9l1.5 2.9h-3zM70 124.9l1.5 2.9h-3zM80.5 117.4l1.5 2.9h-3zM82 115.9l1.5 2.9h-3zM86 114.4l1.5 2.9h-3zM87.5 112.4l1.5 2.9h-3zM89 114.9l1.5 2.9h-3zM90.5 111.9l1.5 2.9h-3zM92 113.9l1.5 2.9h-3zM93 112.9l1.5 2.9h-3zM95.5 112.4l1.5 2.9h-3zM126.8 66.6l1.5 2.9h-3zM129.6 65.3l1.5 2.9h-3zM126.9 66.8l1.5 2.9h-3zM124.3 73.8l1.5 2.9h-3zM129.9 56.6l1.5 2.9h-3zM125.2 63.7l1.5 2.9h-3zM123.8 74.1l1.5 2.9h-3zM126.4 62.3l1.5 2.9h-3zM124.8 68.9l1.5 2.9h-3zM122.9 72.6l1.5 2.9h-3zM127.7 63.4l1.5 2.9h-3zM127.5 63.8l1.5 2.9h-3zM129.8 66.6l1.5 2.9h-3zM123.1 63.8l1.5 2.9h-3zM129.3 65.6l1.5 2.9h-3zM128.4 72.1l1.5 2.9h-3zM105.6 84.3l1.5 2.9h-3zM105.5 85.5l1.5 2.9h-3zM106.9 84.2l1.5 2.9h-3zM100.7 88l1.5 2.9h-3zM96 88.8l1.5 2.9h-3zM103.4 85.8l1.5 2.9h-3z"/>
<path fill="#b9f028" d="M81 98.4l1.5 2.9h-3zM81 108.4l1.5 2.9h-3z"/>
<path fill="#8c1468" d="M125 78.4l1.5 2.9h-3z"/>
<path fill="#c9b5b2" d="M131.6 39.9l1.5 2.9h-3zM132.2 35.1l1.5 2.9h-3zM141.7 35.6l1.5 2.9h-3zM135.6 21.6l1.5 2.9h-3zM139.3 33.5l1.5 2.9h-3zM139.5 32.8l1.5 2.9h-3zM136.2 39l1.5 2.9h-3zM139.8 27.6l1.5 2.9h-3zM136.5 32.8l1.5 2.9h-3zM137.5 30.1l1.5 2.9h-3zM134.7 33.6l1.5 2.9h-3zM131 37l1.5 2.9h-3zM138.1 36l1.5 2.9h-3zM134.2 28.7l1.5 2.9h-3zM134.3 28.5l1.5 2.9h-3zM141.5 23l1.5 2.9h-3zM135.3 33.9l1.5 2.9h-3zM132.2 27.6l1.5 2.9h-3zM138.6 23.7l1.5 2.9h-3zM137.5 25.7l1.5 2.9h-3zM131.7 24.8l1.5 2.9h-3zM135.2 36.5l1.5 2.9h-3zM138.3 21.2l1.5 2.9h-3zM134.4 22.9l1.5 2.9h-3zM142.8 22.2l1.5 2.9h-3zM140.6 24.4l1.5 2.9h-3zM137.1 27l1.5 2.9h-3zM142 26.3l1.5 2.9h-3zM131.4 35.6l1.5 2.9h-3zM133.7 26.7l1.5 2.9h-3zM142 19.4l1.5 2.9h-3zM137.1 38.3l1.5 2.9h-3zM133 38.3l1.5 2.9h-3zM137.8 28.5l1.5 2.9h-3zM139.8 17.7l1.5 2.9h-3zM138.2 26l1.5 2.9h-3zM131.6 32.9l1.5 2.9h-3zM131.4 27.7l1.5 2.9h-3zM135.9 22.3l1.5 2.9h-3zM131.2 26.6l1.5 2.9h-3zM132 23.7l1.5 2.9h-3zM138.7 25l1.5 2.9h-3zM136.3 39.3l1.5 2.9h-3zM132 26.1l1.5 2.9h-3zM141.5 28l1.5 2.9h-3zM135.4 33.2l1.5 2.9h-3zM141.6 19.7l1.5 2.9h-3zM138.3 30.5l1.5 2.9h-3zM138.5 28l1.5 2.9h-3zM136.1 28.3l1.5 2.9h-3zM139.1 27.3l1.5 2.9h-3zM133.9 31.5l1.5 2.9h-3zM134.1 30.5l1.5 2.9h-3zM141.5 20.8l1.5 2.9h-3zM133.4 23.7l1.5 2.9h-3zM135.6 36.3l1.5 2.9h-3zM139.9 20.3l1.5 2.9h-3zM135 35l1.5 2.9h-3zM135.4 35.8l1.5 2.9h-3zM141.9 34.6l1.5 2.9h-3zM133.5 30.5l1.5 2.9h-3zM133.9 34.3l1.5 2.9h-3zM141.6 19.5l1.5 2.9h-3zM134.3 24.9l1.5 2.9h-3zM135 27.9l1.5 2.9h-3zM141.6 29.3l1.5 2.9h-3zM134.9 26.3l1.5 2.9h-3zM143 26.2l1.5 2.9h-3zM140.9 21.8l1.5 2.9h-3zM141.2 36.9l1.5 2.9h-3zM133.7 33.9l1.5 2.9h-3zM133.6 21.9l1.5 2.9h-3zM140 36.9l1.5 2.9h-3zM140.9 25.5l1.5 2.9h-3zM133.7 29.3l1.5 2.9h-3zM171.6 28.1l1.5 2.9h-3zM157.7 31.7l1.5 2.9h-3zM153.8 18.3l1.5 2.9h-3zM196.2 18l1.5 2.9h-3zM147.9 27l1.5 2.9h-3zM161.5 22.1l1.5 2.9h-3zM176.4 26.5l1.5 2.9h-3zM164.9 27.5l1.5 2.9h-3zM144 24.9l1.5 2.9h-3zM189.8 26.6l1.5 2.9h-3zM155.9 20l1.5 2.9h-3zM165.3 31.8l1.5 2.9h-3zM192.1 11.6l1.5 2.9h-3zM195.4 17.1l1.5 2.9h-3zM192.4 26.5l1.5 2.9h-3zM165.2 19.5l1.5 2.9h-3zM183.2 15.9l1.5 2.9h-3zM188.8 26.4l1.5 2.9h-3zM153.7 27l1.5 2.9h-3zM195.4 17.6l1.5 2.9h-3zM148.5 26.1l1.5 2.9h-3zM178.5 17.8l1.5 2.9h-3zM155.9 29.8l1.5 2.9h-3zM154.6 32.1l1.5 2.9h-3zM150.4 19.9l1.5 2.9h-3zM193.9 20.2l1.5 2.9h-3zM149.9 25.4l1.5 2.9h-3zM192.3 32.8l1.5 2.9h-3zM151.9 17.6l1.5 2.9h-3zM160.8 22.9l1.5 2.9h-3zM154.4 25l1.5 2.9h-3zM196.3 22l1.5 2.9h-3zM148 17.2l1.5 2.9h-3zM189.5 18l1.5 2.9h-3zM159.2 25.4l1.5 2.9h-3zM194.4 23.7l1.5 2.9h-3zM183.5 23.7l1.5 2.9h-3zM157.2 22l1.5 2.9h-3zM170.5 32.2l1.5 2.9h-3zM151.7 29l1.5 2.9h-3zM165 28l1.5 2.9h-3zM144.4 30.5l1.5 2.9h-3zM179.8 21.9l1.5 2.9h-3zM175 23.2l1.5 2.9h-3zM157.7 17.7l1.5 2.9h-3zM143.7 23.1l1.5 2.9h-3zM193.7 12.3l1.5 2.9h-3zM149.7 28.4l1.5 2.9h-3zM160.7 21.8l1.5 2.9h-3zM144.4 24.5l1.5 2.9h-3zM163.7 25.2l1.5 2.9h-3zM164.7 23.6l1.5 2.9h-3zM171.8 23.8l1.5 2.9h-3zM160.5 21.8l1.5 2.9h-3zM156.5 17.6l1.5 2.9h-3zM185.4 23.2l1.5 2.9h-3zM158.1 21.1l1.5 2.9h-3zM160.9 25.3l1.5 2.9h-3zM169.5 23.8l1.5 2.9h-3zM157.8 19.1l1.5 2.9h-3zM182.2 22.8l1.5 2.9h-3zM147.5 24.8l1.5 2.9h-3zM160.4 25.3l1.5 2.9h-3zM165.7 28.3l1.5 2.9h-3zM156.9 25l1.5 2.9h-3zM188.4 21.1l1.5 2.9h-3zM162.1 24l1.5 2.9h-3zM165.7 19.8l1.5 2.9h-3zM168.3 29.8l1.5 2.9h-3zM187.8 28.1l1.5 2.9h-3zM154.8 28.5l1.5 2.9h-3zM187.8 13.9l1.5 2.9h-3zM194.2 28.4l1.5 2.9h-3zM157.4 19.5l1.5 2.9h-3zM152.1 21.5l1.5 2.9h-3zM185.6 22.2l1.5 2.9h-3zM159.9 18.9l1.5 2.9h-3zM155.3 31.3l1.5 2.9h-3zM147.2 23.6l1.5 2.9h-3zM176.1 25.8l1.5 2.9h-3zM193.6 22.8l1.5 2.9h-3zM190.6 22.6l1.5 2.9h-3zM174.8 18.9l1.5 2.9h-3zM166.7 20.6l1.5 2.9h-3zM195.7 16.6l1.5 2.9h-3zM178.7 23.1l1.5 2.9h-3zM194.6 26.1l1.5 2.9h-3zM180.2 22.3l1.5 2.9h-3zM180.6 15.4l1.5 2.9h-3zM180.9 19.5l1.5 2.9h-3zM149.8 16.4l1.5 2.9h-3zM156.6 21.8l1.5 2.9h-3zM146.6 20.8l1.5 2.9h-3zM193.4 19.9l1.5 2.9h-3zM196.7 17.2l1.5 2.9h-3zM175.7 20.6l1.5 2.9h-3zM151.4 27.1l1.5 2.9h-3zM149.7 30.9l1.5 2.9h-3zM167.1 24.4l1.5 2.9h-3zM164.1 23.3l1.5 2.9h-3zM153.6 31.7l1.5 2.9h-3zM147.8 33.2l1.5 2.9h-3zM178 16.7l1.5 2.9h-3zM185.8 17.9l1.5 2.9h-3zM146.4 21.8l1.5 2.9h-3zM159.7 25.1l1.5 2.9h-3zM159.2 30.9l1.5 2.9h-3zM172.3 32.2l1.5 2.9h-3zM175.6 23.3l1.5 2.9h-3zM165.2 22.8l1.5 2.9h-3zM189.8 17.1l1.5 2.9h-3zM164.1 25.1l1.5 2.9h-3zM159.4 25.3l1.5 2.9h-3zM184.4 28.4l1.5 2.9h-3zM188.5 22.8l1.5 2.9h-3zM190.4 23.2l1.5 2.9h-3zM152.1 27.2l1.5 2.9h-3zM153.6 29l1.5 2.9h-3zM168 25.3l1.5 2.9h-3zM195.2 13.7l1.5 2.9h-3zM176.5 25.2l1.5 2.9h-3zM176.7 20.5l1.5 2.9h-3zM160.6 22.7l1.5 2.9h-3zM196.5 25.4l1.5 2.9h-3zM152.9 19.3l1.5 2.9h-3zM173.2 22.6l1.5 2.9h-3zM179.4 27.9l1.5 2.9h-3zM186.7 14l1.5 2.9h-3zM186.9 28.8l1.5 2.9h-3zM163.9 25.9l1.5 2.9h-3zM157.6 19.9l1.5 2.9h-3zM195.9 17.6l1.5 2.9h-3zM172.9 27.8l1.5 2.9h-3zM158.2 26.3l1.5 2.9h-3zM150.5 24.9l1.5 2.9h-3zM186.4 23l1.5 2.9h-3zM188.8 20l1.5 2.9h-3zM173.8 25.3l1.5 2.9h-3zM163.7 19.7l1.5 2.9h-3zM178.6 32l1.5 2.9h-3zM195.9 13.1l1.5 2.9h-3zM174.2 24.1l1.5 2.9h-3zM185.5 20.7l1.5 2.9h-3zM190.6 26.5l1.5 2.9h-3zM183.9 25.7l1.5 2.9h-3zM169.3 26.1l1.5 2.9h-3zM152.6 31.2l1.5 2.9h-3zM180.6 15.9l1.5 2.9h-3zM187.9 11.6l1.5 2.9h-3zM195 23.6l1.5 2.9h-3zM151.2 22.3l1.5 2.9h-3zM149.1 30.8l1.5 2.9h-3zM177.4 26.8l1.5 2.9h-3zM187.7 24.5l1.5 2.9h-3zM147.1 22.4l1.5 2.9h-3zM176.2 19.7l1.5 2.9h-3zM157.4 17.9l1.5 2.9h-3zM197 29.7l1.5 2.9h-3zM162.5 21.9l1.5 2.9h-3zM147.4 22.8l1.5 2.9h-3zM185.3 23.2l1.5 2.9h-3zM159.2 27l1.5 2.9h-3zM165.6 26.4l1.5 2.9h-3zM150 29.1l1.5 2.9h-3zM160.9 21.8l1.5 2.9h-3zM150.2 26.3l1.5 2.9h-3zM156.9 30.3l1.5 2.9h-3zM174.3 19.2l1.5 2.9h-3zM159.1 22.2l1.5 2.9h-3zM179 29.7l1.5 2.9h-3zM191.7 15.2l1.5 2.9h-3zM174.1 21.3l1.5 2.9h-3zM144.5 29.8l1.5 2.9h-3zM194.8 26.2l1.5 2.9h-3zM153.7 29.6l1.5 2.9h-3zM161.7 23.1l1.5 2.9h-3zM171.4 31.3l1.5 2.9h-3zM176.4 31.6l1.5 2.9h-3zM161.5 27l1.5 2.9h-3zM166.8 22.8l1.5 2.9h-3zM176.8 19.4l1.5 2.9h-3zM167.7 29l1.5 2.9h-3zM158.3 28.6l1.5 2.9h-3zM165.2 27.3l1.5 2.9h-3zM163.8 18l1.5 2.9h-3zM158.8 19.8l1.5 2.9h-3zM175.4 20.1l1.5 2.9h-3zM170.7 20.9l1.5 2.9h-3zM165.2 27.6l1.5 2.9h-3zM181.3 25.3l1.5 2.9h-3zM186.9 14.6l1.5 2.9h-3zM178 27l1.5 2.9h-3zM161.4 27.8l1.5 2.9h-3zM193.6 19.1l1.5 2.9h-3zM148.6 17.5l1.5 2.9h-3zM186.5 16.4l1.5 2.9h-3zM165.7 17.8l1.5 2.9h-3zM164.4 28.2l1.5 2.9h-3zM188.5 22.8l1.5 2.9h-3zM178.4 26.3l1.5 2.9h-3zM195.6 11.3l1.5 2.9h-3zM190.4 12.2l1.5 2.9h-3zM149.3 32l1.5 2.9h-3zM170.2 23.2l1.5 2.9h-3zM184.5 18.4l1.5 2.9h-3zM147.5 18.9l1.5 2.9h-3zM172.3 24l1.5 2.9h-3zM196.6 22l1.5 2.9h-3zM155.9 27l1.5 2.9h-3zM149.3 28.6l1.5 2.9h-3zM158.6 29.9l1.5 2.9h-3zM161.6 18l1.5 2.9h-3zM158.4 30.4l1.5 2.9h-3zM166.3 18.9l1.5 2.9h-3zM188 25.5l1.5 2.9h-3zM170.9 17.7l1.5 2.9h-3zM174.8 19.3l1.5 2.9h-3zM148.9 17.4l1.5 2.9h-3zM146.5 21.4l1.5 2.9h-3zM194.4 24.3l1.5 2.9h-3zM161.7 25.6l1.5 2.9h-3zM194.2 23.3l1.5 2.9h-3zM161.1 19l1.5 2.9h-3zM177.5 28l1.5 2.9h-3zM178.7 23.1l1.5 2.9h-3zM147.9 17.7l1.5 2.9h-3zM146.8 25.9l1.5 2.9h-3zM166.9 29.2l1.5 2.9h-3zM149.9 26.7l1.5 2.9h-3zM159 18.1l1.5 2.9h-3zM153.6 21.7l1.5 2.9h-3zM159.9 22.7l1.5 2.9h-3zM167.6 22l1.5 2.9h-3zM159.8 26.1l1.5 2.9h-3zM161.1 23.4l1.5 2.9h-3zM169.2 28.4l1.5 2.9h-3zM179.9 31.8l1.5 2.9h-3zM145.3 20.7l1.5 2.9h-3zM196.9 11.5l1.5 2.9h-3zM166.3 23.3l1.5 2.9h-3zM192.8 13.8l1.5 2.9h-3zM143.4 24.4l1.5 2.9h-3zM146.1 22.3l1.5 2.9h-3zM148.4 31.3l1.5 2.9h-3zM192.3 11.7l1.5 2.9h-3zM165.2 19.2l1.5 2.9h-3zM188.7 27.2l1.5 2.9h-3zM180.5 19.7l1.5 2.9h-3zM147.7 16l1.5 2.9h-3zM162.5 20.8l1.5 2.9h-3zM160.9 30.4l1.5 2.9h-3zM167.5 23.4l1.5 2.9h-3zM183.7 19.5l1.5 2.9h-3zM147.5 18.2l1.5 2.9h-3zM193 18l1.5 2.9h-3zM168.7 25.6l1.5 2.9h-3zM162.8 18.9l1.5 2.9h-3zM180.7 23.7l1.5 2.9h-3zM157.9 28.7l1.5 2.9h-3zM181.5 28.5l1.5 2.9h-3zM165.5 23.2l1.5 2.9h-3zM168.8 19.4l1.5 2.9h-3zM153.2 20.1l1.5 2.9h-3zM154 21.2l1.5 2.9h-3zM189.5 29.6l1.5 2.9h-3zM174.1 20.4l1.5 2.9h-3zM165.8 20.5l1.5 2.9h-3zM184.8 16.9l1.5 2.9h-3zM192.3 16.2l1.5 2.9h-3zM151.6 20l1.5 2.9h-3zM196.9 23.3l1.5 2.9h-3zM143.8 18.8l1.5 2.9h-3zM176.2 20l1.5 2.9h-3zM157.2 21.6l1.5 2.9h-3zM156.6 26.3l1.5 2.9h-3zM169.7 28.6l1.5 2.9h-3zM175.6 23.4l1.5 2.9h-3zM166.6 26.8l1.5 2.9h-3zM181.6 28.6l1.5 2.9h-3zM194.3 28.1l1.5 2.9h-3zM152.1 29.9l1.5 2.9h-3zM155.8 19.4l1.5 2.9h-3zM175.9 33.2l1.5 2.9h-3zM165.2 30l1.5 2.9h-3zM160 20l1.5 2.9h-3zM170.2 21.2l1.5 2.9h-3zM180.6 22.3l1.5 2.9h-3zM192.1 18.6l1.5 2.9h-3zM193.8 25.8l1.5 2.9h-3zM187.3 20.1l1.5 2.9h-3zM161.7 25.8l1.5 2.9h-3zM190.7 18.7l1.5 2.9h-3zM181.3 15.3l1.5 2.9h-3zM152.4 16.7l1.5 2.9h-3zM194.5 23.8l1.5 2.9h-3zM156.4 21.6l1.5 2.9h-3zM179.8 24.3l1.5 2.9h-3zM180.5 17.1l1.5 2.9h-3zM192 23.6l1.5 2.9h-3zM179 24.4l1.5 2.9h-3zM196.1 28.9l1.5 2.9h-3zM146.2 19.6l1.5 2.9h-3zM145 31.4l1.5 2.9h-3zM153.6 29.6l1.5 2.9h-3zM174.1 20.3l1.5 2.9h-3zM165.9 21.2l1.5 2.9h-3zM147.5 22l1.5 2.9h-3zM153.9 21.5l1.5 2.9h-3zM174.3 27.1l1.5 2.9h-3zM164.7 21.5l1.5 2.9h-3zM184.2 22.4l1.5 2.9h-3zM168.2 20.7l1.5 2.9h-3zM190.4 16.9l1.5 2.9h-3zM184 18.8l1.5 2.9h-3zM169.7 29.3l1.5 2.9h-3zM162.3 21.9l1.5 2.9h-3zM154.5 23.6l1.5 2.9h-3zM158.8 30.4l1.5 2.9h-3zM162.2 18l1.5 2.9h-3zM162.5 23.3l1.5 2.9h-3zM152.7 23.1l1.5 2.9h-3zM168.6 25.3l1.5 2.9h-3zM149 17.8l1.5 2.9h-3zM189.9 15.2l1.5 2.9h-3zM172.7 20.9l1.5 2.9h-3zM148.1 23.7l1.5 2.9h-3zM160.7 19.4l1.5 2.9h-3zM156.8 22.8l1.5 2.9h-3zM151.4 30.8l1.5 2.9h-3zM169 20.7l1.5 2.9h-3zM152.9 29.7l1.5 2.9h-3zM151.2 26.7l1.5 2.9h-3zM180.9 26.6l1.5 2.9h-3zM166.2 29.1l1.5 2.9h-3zM179.3 19.6l1.5 2.9h-3zM168.4 24.9l1.5 2.9h-3zM170.2 27l1.5 2.9h-3zM159.8 24.4l1.5 2.9h-3zM166 22.2l1.5 2.9h-3zM169 18.6l1.5 2.9h-3zM161.5 30l1.5 2.9h-3zM187.6 22.4l1.5 2.9h-3zM156.3 24.7l1.5 2.9h-3zM154.9 23.5l1.5 2.9h-3zM161.6 25.3l1.5 2.9h-3zM185.4 25l1.5 2.9h-3zM188.8 13.7l1.5 2.9h-3zM173.5 21.4l1.5 2.9h-3zM162.5 20.3l1.5 2.9h-3zM178 28.9l1.5 2.9h-3zM187.6 21.5l1.5 2.9h-3zM156.1 24l1.5 2.9h-3zM179 17.8l1.5 2.9h-3zM181.3 26.7l1.5 2.9h-3zM164.1 18.2l1.5 2.9h-3zM150.8 21.9l1.5 2.9h-3zM175.8 21.3l1.5 2.9h-3zM154.3 20.8l1.5 2.9h-3zM162.9 19.6l1.5 2.9h-3zM172.4 22l1.5 2.9h-3zM195 15.1l1.5 2.9h-3zM150.9 26.4l1.5 2.9h-3zM147 28.8l1.5 2.9h-3zM172.1 29.5l1.5 2.9h-3zM193.9 20.6l1.5 2.9h-3zM145.5 28.4l1.5 2.9h-3zM177.7 26.6l1.5 2.9h-3zM144.5 26.5l1.5 2.9h-3zM172.8 28.6l1.5 2.9h-3zM149.4 18.6l1.5 2.9h-3zM178.6 21.3l1.5 2.9h-3zM162.5 29.3l1.5 2.9h-3zM178.3 18.9l1.5 2.9h-3zM156.9 17.4l1.5 2.9h-3zM147 17.9l1.5 2.9h-3zM152.8 21.7l1.5 2.9h-3zM157.8 26.9l1.5 2.9h-3zM151.9 21.6l1.5 2.9h-3zM153.7 21.5l1.5 2.9h-3zM172.4 24.6l1.5 2.9h-3zM166.6 21.5l1.5 2.9h-3zM187.6 21.8l1.5 2.9h-3zM169.9 28.5l1.5 2.9h-3zM172.1 29.8l1.5 2.9h-3zM181.3 17.2l1.5 2.9h-3zM189.1 12.2l1.5 2.9h-3zM174.6 27.5l1.5 2.9h-3zM145 17l1.5 2.9h-3zM167.8 23.7l1.5 2.9h-3zM144.7 26.1l1.5 2.9h-3zM175.7 20.3l1.5 2.9h-3zM146.5 20.5l1.5 2.9h-3zM172.1 20.4l1.5 2.9h-3zM151.1 28.2l1.5 2.9h-3zM189.2 28.6l1.5 2.9h-3zM148.1 32l1.5 2.9h-3zM178.6 25.8l1.5 2.9h-3zM181 25.7l1.5 2.9h-3zM157.9 24.9l1.5 2.9h-3zM175 19.4l1.5 2.9h-3zM199.1 12.9l1.5 2.9h-3zM198.9 13.2l1.5 2.9h-3zM206.5 25.1l1.5 2.9h-3zM201.1 15l1.5 2.9h-3zM204.4 17.8l1.5 2.9h-3zM201.1 20l1.5 2.9h-3zM209.8 18.6l1.5 2.9h-3zM204.7 12l1.5 2.9h-3zM198.8 15.1l1.5 2.9h-3zM207.1 15.8l1.5 2.9h-3zM200.8 13.7l1.5 2.9h-3zM202.9 22.8l1.5 2.9h-3zM200.7 16.2l1.5 2.9h-3zM203.4 14.3l1.5 2.9h-3zM201 16.1l1.5 2.9h-3zM201.2 15.9l1.5 2.9h-3zM199 15.4l1.5 2.9h-3zM209.5 16.3l1.5 2.9h-3zM199.7 14.4l1.5 2.9h-3zM200.7 12l1.5 2.9h-3zM202.3 12.6l1.5 2.9h-3zM198.5 11.4l1.5 2.9h-3zM200 11.9l1.5 2.9h-3zM202.3 22.2l1.5 2.9h-3zM204.6 18.4l1.5 2.9h-3zM204 12.5l1.5 2.9h-3zM201.8 15.2l1.5 2.9h-3zM205.8 16.4l1.5 2.9h-3zM206.7 18.8l1.5 2.9h-3zM200.4 18.9l1.5 2.9h-3zM200.1 13.3l1.5 2.9h-3zM205.1 17.4l1.5 2.9h-3zM202.3 15.2l1.5 2.9h-3zM207.8 18.7l1.5 2.9h-3zM197.1 17l1.5 2.9h-3zM204 14.9l1.5 2.9h-3zM210.2 30.3l1.5 2.9h-3zM209.5 19.2l1.5 2.9h-3zM210.2 12.8l1.5 2.9h-3zM209.7 13.6l1.5 2.9h-3zM209.6 26l1.5 2.9h-3zM209.1 26.4l1.5 2.9h-3zM208.1 14.2l1.5 2.9h-3zM208.3 27.2l1.5 2.9h-3zM209.9 27.3l1.5 2.9h-3zM208.4 23.7l1.5 2.9h-3zM209.6 12.6l1.5 2.9h-3zM208.4 15.9l1.5 2.9h-3zM209.7 14l1.5 2.9h-3zM210.2 16.4l1.5 2.9h-3zM208.4 12.8l1.5 2.9h-3zM204.2 12.5l1.5 2.9h-3zM206.4 13l1.5 2.9h-3zM202.5 12.6l1.5 2.9h-3zM198.1 12.8l1.5 2.9h-3zM208.7 12.7l1.5 2.9h-3zM199 12.2l1.5 2.9h-3zM197.6 12.9l1.5 2.9h-3zM204.7 12.6l1.5 2.9h-3zM196.3 12.2l1.5 2.9h-3zM206.5 12.3l1.5 2.9h-3zM205.7 12.9l1.5 2.9h-3zM200.7 12.5l1.5 2.9h-3zM202.7 12.6l1.5 2.9h-3zM202.3 12.8l1.5 2.9h-3zM196.1 12.6l1.5 2.9h-3zM196.2 12.1l1.5 2.9h-3zM200.3 12.8l1.5 2.9h-3zM195.1 12.9l1.5 2.9h-3zM197.8 12.9l1.5 2.9h-3zM200.5 13.2l1.5 2.9h-3zM204.4 12.7l1.5 2.9h-3zM202.7 12.9l1.5 2.9h-3zM197.6 13.1l1.5 2.9h-3zM206.4 12.5l1.5 2.9h-3zM206.9 13.2l1.5 2.9h-3zM204.9 13.2l1.5 2.9h-3zM205.3 12.9l1.5 2.9h-3zM198.8 13.2l1.5 2.9h-3zM207.6 12.9l1.5 2.9h-3zM203.8 12.3l1.5 2.9h-3zM197.7 13l1.5 2.9h-3zM205.3 12.7l1.5 2.9h-3zM204.4 12.7l1.5 2.9h-3zM203.5 12.6l1.5 2.9h-3zM202.1 13.1l1.5 2.9h-3zM206.5 12.8l1.5 2.9h-3zM206 12.3l1.5 2.9h-3zM203.8 12.8l1.5 2.9h-3zM196 12.8l1.5 2.9h-3zM198.5 12.3l1.5 2.9h-3zM209.7 12.4l1.5 2.9h-3zM201 12.5l1.5 2.9h-3zM204.5 12.4l1.5 2.9h-3zM197 12.7l1.5 2.9h-3zM203.6 12.9l1.5 2.9h-3zM204.1 13.3l1.5 2.9h-3zM206.4 13l1.5 2.9h-3zM209.5 12.9l1.5 2.9h-3zM201.8 13l1.5 2.9h-3zM130.6 42.4l1.5 2.9h-3zM130.6 45.4l1.5 2.9h-3zM130.6 49.4l1.5 2.9h-3zM130.6 62.4l1.5 2.9h-3zM130.6 74.4l1.5 2.9h-3zM130.6 82.4l1.5 2.9h-3zM130.6 96.4l1.5 2.9h-3zM129.5 104.4l1.5 2.9h-3zM173 5.9l1.5 2.9h-3zM178 6.2l1.5 2.9h-3zM150 14.4l1.5 2.9h-3zM156 14.9l1.5 2.9h-3zM136 17.4l1.5 2.9h-3zM143 18.4l1.5 2.9h-3zM155 41.4l1.5 2.9h-3zM208 25.4l1.5 2.9h-3zM209 28.9l1.5 2.9h-3zM210.5 30.4l1.5 2.9h-3zM144.5 95.4l1.5 2.9h-3zM143.5 100.4l1.5 2.9h-3zM181.5 93.9l1.5 2.9h-3zM180 100.4l1.5 2.9h-3z"/>
<line x1="537" y1="0.6" x2="537" y2="148.3" stroke="#8d7f7d" stroke-width="1"/>
<rect x="374.7" y="0.6" width="196.7" height="147.7" fill="none" stroke="#8d7f7d" stroke-width="1"/>
<text x="383.6" y="155.2" font-size="5.3" text-anchor="middle" fill="#a39b9a">0</text>
<text x="419.4" y="155.2" font-size="5.3" text-anchor="middle" fill="#a39b9a">500</text>
<text x="455.1" y="155.2" font-size="5.3" text-anchor="middle" fill="#a39b9a">1000</text>
<text x="490.9" y="155.2" font-size="5.3" text-anchor="middle" fill="#a39b9a">1500</text>
<text x="526.6" y="155.2" font-size="5.3" text-anchor="middle" fill="#a39b9a">2000</text>
<text x="562.4" y="155.2" font-size="5.3" text-anchor="middle" fill="#a39b9a">2500</text>
<text x="371.9" y="143.6" font-size="5.3" text-anchor="end" fill="#a39b9a">0</text>
<text x="371.9" y="107.5" font-size="5.3" text-anchor="end" fill="#a39b9a">250</text>
<text x="371.9" y="71.3" font-size="5.3" text-anchor="end" fill="#a39b9a">500</text>
<text x="371.9" y="34.9" font-size="5.3" text-anchor="end" fill="#a39b9a">750</text>
<text x="574.3" y="143.5" font-size="5.3" text-anchor="start" fill="#a39b9a">0</text>
<text x="574.3" y="105.6" font-size="5.3" text-anchor="start" fill="#a39b9a">2</text>
<text x="574.3" y="67.8" font-size="5.3" text-anchor="start" fill="#a39b9a">4</text>
<text x="574.3" y="29.8" font-size="5.3" text-anchor="start" fill="#a39b9a">6</text>
<path stroke="#8d7f7d" stroke-width="0.8" fill="none" d="M383.6 148.3v1.6M419.4 148.3v1.6M455.1 148.3v1.6M490.9 148.3v1.6M526.6 148.3v1.6M562.4 148.3v1.6M374.7 141.7h-1.6M374.7 105.6h-1.6M374.7 69.4h-1.6M374.7 33h-1.6M571.4 141.6h1.6M571.4 103.7h1.6M571.4 65.9h1.6M571.4 27.9h1.6"/>
<text x="360.1" y="74.5" font-size="6.5" text-anchor="middle" fill="#d8d0cf" transform="rotate(-90 360.1 74.5)">HMM score</text>
<text x="585.3" y="77.1" font-size="5.3" text-anchor="middle" fill="#c8c0bf" transform="rotate(-90 585.3 77.1)">Phylogenetic distance</text>
<polyline fill="none" stroke="#00f2ee" stroke-width="2.8" stroke-linecap="round" stroke-linejoin="round" points="383.6,7 384,10 385,13.5 390,15.5 397,18 402,20.3 415,19.8 427,22 445,23 463,23.5 475,25 490,27.5 500,29.5 505,32 510,34 520,36 530,38.5 534,41 535.5,44 535.8,48"/>
<circle cx="535.6" cy="50.5" r="1.3" fill="#00f2ee"/>
<circle cx="536.3" cy="75.5" r="1.3" fill="#00f2ee"/>
<circle cx="536.5" cy="91" r="1.3" fill="#00f2ee"/>
<circle cx="536.7" cy="97.5" r="1.3" fill="#00f2ee"/>
<circle cx="536.8" cy="103" r="1.3" fill="#00f2ee"/>
<polyline fill="none" stroke="#00f2ee" stroke-width="2.8" stroke-linecap="round" stroke-linejoin="round" points="535.6,57 536,62 536.5,66"/>
<polyline fill="none" stroke="#00f2ee" stroke-width="2.8" stroke-linecap="round" stroke-linejoin="round" points="537,105 537.3,113 537.6,120 539,124 545,127 553,128.8 562,130.5"/>
<path fill="#7dff1a" d="M385.5 108.2l1.5 2.9h-3zM387 107.5l1.5 2.9h-3zM389 108l1.5 2.9h-3zM396 107.8l1.5 2.9h-3zM397.5 107.6l1.5 2.9h-3zM399.5 107.5l1.5 2.9h-3zM401 107.5l1.5 2.9h-3zM402 107.6l1.5 2.9h-3zM414.5 107.2l1.5 2.9h-3zM420 107.9l1.5 2.9h-3zM421.5 107.7l1.5 2.9h-3zM423 107.7l1.5 2.9h-3zM424.5 107.8l1.5 2.9h-3zM426 108l1.5 2.9h-3zM431 107.5l1.5 2.9h-3zM432.5 107.6l1.5 2.9h-3zM434 107l1.5 2.9h-3zM443.5 106.8l1.5 2.9h-3zM460.5 106.9l1.5 2.9h-3zM465.5 108.3l1.5 2.9h-3zM472.5 107l1.5 2.9h-3zM477.5 107.6l1.5 2.9h-3zM476.2 109.8l1.5 2.9h-3zM479 108.1l1.5 2.9h-3zM479.3 108.4l1.5 2.9h-3zM479.4 108l1.5 2.9h-3zM477.1 108.5l1.5 2.9h-3zM478.6 108.3l1.5 2.9h-3zM476.2 108.2l1.5 2.9h-3zM480.6 107.7l1.5 2.9h-3zM480.6 107.5l1.5 2.9h-3zM475.2 108l1.5 2.9h-3zM478.4 108.6l1.5 2.9h-3zM493.7 108.8l1.5 2.9h-3zM491.6 108.4l1.5 2.9h-3zM499.8 108.8l1.5 2.9h-3zM496.7 109.4l1.5 2.9h-3zM492.2 107.2l1.5 2.9h-3zM487.9 108.5l1.5 2.9h-3zM494.1 108.3l1.5 2.9h-3zM502 108.4l1.5 2.9h-3zM500.3 107.2l1.5 2.9h-3zM487.1 109.1l1.5 2.9h-3zM491.7 108l1.5 2.9h-3zM493.5 108.5l1.5 2.9h-3zM492.5 108.3l1.5 2.9h-3zM487.8 107.4l1.5 2.9h-3zM489 108.3l1.5 2.9h-3zM494.6 107.3l1.5 2.9h-3zM497.5 108l1.5 2.9h-3zM497.5 108.4l1.5 2.9h-3zM496.8 108.6l1.5 2.9h-3zM496.8 108.7l1.5 2.9h-3zM486.1 108.5l1.5 2.9h-3zM489.5 110.1l1.5 2.9h-3zM491.4 108.9l1.5 2.9h-3zM490.1 107.8l1.5 2.9h-3zM492.2 108.2l1.5 2.9h-3zM492.4 108.2l1.5 2.9h-3zM491.4 108.5l1.5 2.9h-3zM486.2 108.2l1.5 2.9h-3zM499.8 108l1.5 2.9h-3zM501.3 109.8l1.5 2.9h-3zM495.9 108.6l1.5 2.9h-3zM490.4 108.4l1.5 2.9h-3zM493.2 108.4l1.5 2.9h-3zM500.6 108.5l1.5 2.9h-3zM495.6 109.6l1.5 2.9h-3zM497.1 108.9l1.5 2.9h-3zM497.2 109.4l1.5 2.9h-3zM501.7 106.4l1.5 2.9h-3zM496.5 108.8l1.5 2.9h-3zM487.7 109.4l1.5 2.9h-3zM494.1 110l1.5 2.9h-3zM500.8 108.6l1.5 2.9h-3zM488.1 107.4l1.5 2.9h-3zM486.8 109l1.5 2.9h-3zM486.8 108.2l1.5 2.9h-3z"/>
<polyline fill="none" stroke="#7d2dff" stroke-width="2.6" points="402,122.9 486,123.2"/>
<path fill="#7d2dff" d="M482.4 121.5l1.5 2.9h-3zM438 121.3l1.5 2.9h-3zM482 121.9l1.5 2.9h-3zM416.9 121l1.5 2.9h-3zM439.4 121.7l1.5 2.9h-3zM439.4 121.3l1.5 2.9h-3zM422.5 121.6l1.5 2.9h-3zM442.9 121.6l1.5 2.9h-3zM465.9 121.7l1.5 2.9h-3zM410.8 121l1.5 2.9h-3zM442.6 121.2l1.5 2.9h-3zM446.4 121.2l1.5 2.9h-3zM418.3 121.5l1.5 2.9h-3zM456.4 121.9l1.5 2.9h-3zM423.1 121.9l1.5 2.9h-3zM450.3 121.4l1.5 2.9h-3zM450.4 121.6l1.5 2.9h-3zM465.5 121l1.5 2.9h-3zM481.4 120.8l1.5 2.9h-3zM480.7 121.3l1.5 2.9h-3zM444.4 121.3l1.5 2.9h-3zM424 120.8l1.5 2.9h-3zM422.2 120.8l1.5 2.9h-3zM468.7 121.8l1.5 2.9h-3zM466.5 121.3l1.5 2.9h-3zM469.4 121l1.5 2.9h-3zM472.8 122.6l1.5 2.9h-3zM449.8 121.6l1.5 2.9h-3zM478.2 121.5l1.5 2.9h-3zM457.7 121.9l1.5 2.9h-3zM455.5 121.3l1.5 2.9h-3zM473.1 122.3l1.5 2.9h-3zM457.3 121l1.5 2.9h-3zM467.2 121.1l1.5 2.9h-3zM481 121.6l1.5 2.9h-3zM435.3 121.2l1.5 2.9h-3zM465.7 122.2l1.5 2.9h-3zM427 120.8l1.5 2.9h-3zM443.1 121.2l1.5 2.9h-3zM476.2 121.7l1.5 2.9h-3zM484.7 121.9l1.5 2.9h-3zM482.5 122.1l1.5 2.9h-3zM466.3 121.7l1.5 2.9h-3zM474 122.5l1.5 2.9h-3zM477.1 121.5l1.5 2.9h-3zM453.6 121.6l1.5 2.9h-3zM422.3 121.8l1.5 2.9h-3zM403 121.3l1.5 2.9h-3zM466.6 121.5l1.5 2.9h-3zM466.5 121.4l1.5 2.9h-3zM464 121.3l1.5 2.9h-3zM451.1 121.1l1.5 2.9h-3zM457.7 121.4l1.5 2.9h-3zM462.9 121l1.5 2.9h-3zM447 121.7l1.5 2.9h-3zM457.8 120.9l1.5 2.9h-3zM420.7 122.3l1.5 2.9h-3zM447.2 122.2l1.5 2.9h-3zM455.2 122l1.5 2.9h-3zM450.1 121.5l1.5 2.9h-3zM423.5 121.2l1.5 2.9h-3zM412.3 121.9l1.5 2.9h-3zM457.5 121.6l1.5 2.9h-3zM411.1 121.6l1.5 2.9h-3zM469.4 121.3l1.5 2.9h-3zM417.1 121.9l1.5 2.9h-3zM467.5 121.3l1.5 2.9h-3zM431.9 121.5l1.5 2.9h-3zM478.6 121l1.5 2.9h-3zM420.8 121.2l1.5 2.9h-3zM415 121.6l1.5 2.9h-3zM459.2 121.4l1.5 2.9h-3zM467.6 121.4l1.5 2.9h-3zM431.4 121.8l1.5 2.9h-3zM441.9 121.5l1.5 2.9h-3zM458.1 122.1l1.5 2.9h-3zM426.7 120.5l1.5 2.9h-3zM434.8 121.7l1.5 2.9h-3zM449.9 121.7l1.5 2.9h-3zM427.4 120.8l1.5 2.9h-3zM414 120.9l1.5 2.9h-3zM479.2 122l1.5 2.9h-3zM412 121l1.5 2.9h-3zM485.9 121.4l1.5 2.9h-3zM473.7 121.9l1.5 2.9h-3zM439.7 121.4l1.5 2.9h-3zM475.1 121.8l1.5 2.9h-3zM407 121l1.5 2.9h-3zM449.6 121.7l1.5 2.9h-3zM431.7 121.9l1.5 2.9h-3zM427.2 121.6l1.5 2.9h-3zM478 120.8l1.5 2.9h-3zM404.8 121.6l1.5 2.9h-3zM475.2 121.7l1.5 2.9h-3zM408.2 121l1.5 2.9h-3zM459.4 122.1l1.5 2.9h-3zM425.9 120.8l1.5 2.9h-3zM446.6 122.3l1.5 2.9h-3zM480.6 121.4l1.5 2.9h-3zM469.7 122.2l1.5 2.9h-3zM410 121.4l1.5 2.9h-3zM427.6 120.9l1.5 2.9h-3zM443.2 121.6l1.5 2.9h-3zM462.8 121.7l1.5 2.9h-3zM402 121.6l1.5 2.9h-3zM475.4 122.1l1.5 2.9h-3zM473.5 121.3l1.5 2.9h-3zM483.3 121.9l1.5 2.9h-3zM418.8 121.7l1.5 2.9h-3zM419.7 121.3l1.5 2.9h-3zM472.7 121.2l1.5 2.9h-3zM445.5 121.1l1.5 2.9h-3zM422.5 121.7l1.5 2.9h-3zM403 121.7l1.5 2.9h-3zM420 121.1l1.5 2.9h-3zM459.2 121l1.5 2.9h-3zM464.2 122.1l1.5 2.9h-3zM431.8 120.9l1.5 2.9h-3zM480 121.7l1.5 2.9h-3zM445.1 121.2l1.5 2.9h-3zM445.8 120.8l1.5 2.9h-3zM435.2 121.5l1.5 2.9h-3zM436 121.4l1.5 2.9h-3zM432.2 122l1.5 2.9h-3zM472 122.5l1.5 2.9h-3zM439.1 121.4l1.5 2.9h-3zM421.3 121.8l1.5 2.9h-3zM438.7 121.9l1.5 2.9h-3zM480.6 121.4l1.5 2.9h-3zM456.1 121.2l1.5 2.9h-3zM410.5 122l1.5 2.9h-3zM437.3 121.3l1.5 2.9h-3zM441.4 121.5l1.5 2.9h-3zM402.7 121.3l1.5 2.9h-3zM483.7 121.6l1.5 2.9h-3zM479.8 121.4l1.5 2.9h-3zM410.2 121.7l1.5 2.9h-3zM448.7 122l1.5 2.9h-3zM428.2 121.3l1.5 2.9h-3zM419.6 120.9l1.5 2.9h-3zM424.9 121.5l1.5 2.9h-3zM406.1 120.8l1.5 2.9h-3zM460.3 121.3l1.5 2.9h-3zM432.8 122l1.5 2.9h-3zM461.3 122.5l1.5 2.9h-3zM471.2 121.8l1.5 2.9h-3zM450.5 121.1l1.5 2.9h-3zM430.9 121.8l1.5 2.9h-3zM413.5 120.5l1.5 2.9h-3zM457.2 121.3l1.5 2.9h-3zM459.2 122.2l1.5 2.9h-3zM468.3 121.9l1.5 2.9h-3zM413.3 120.9l1.5 2.9h-3zM405.4 120.7l1.5 2.9h-3zM476.7 122l1.5 2.9h-3zM453.3 121.5l1.5 2.9h-3zM409.6 121.2l1.5 2.9h-3zM462.1 121.7l1.5 2.9h-3zM406.3 121.2l1.5 2.9h-3zM455.5 120.8l1.5 2.9h-3zM448.9 121.9l1.5 2.9h-3zM462.7 121.3l1.5 2.9h-3zM409.5 121l1.5 2.9h-3zM479.2 121.1l1.5 2.9h-3zM481.9 121.8l1.5 2.9h-3zM485.7 121.3l1.5 2.9h-3zM467 121.8l1.5 2.9h-3zM428.1 121.4l1.5 2.9h-3zM485.2 122.1l1.5 2.9h-3zM454 121.4l1.5 2.9h-3zM462.9 121.3l1.5 2.9h-3zM458 120.8l1.5 2.9h-3zM419.2 121l1.5 2.9h-3zM474.4 121.9l1.5 2.9h-3zM456.8 122.8l1.5 2.9h-3zM420.4 120.9l1.5 2.9h-3zM433.8 121.1l1.5 2.9h-3zM413.8 121.5l1.5 2.9h-3zM438.5 121.7l1.5 2.9h-3zM486.1 121.4l1.5 2.9h-3zM434.3 121.5l1.5 2.9h-3zM435.3 120.8l1.5 2.9h-3zM470.2 121.5l1.5 2.9h-3zM408.6 121.8l1.5 2.9h-3zM411.7 122.1l1.5 2.9h-3zM465.3 121.5l1.5 2.9h-3zM412.6 121.3l1.5 2.9h-3zM453.8 121.7l1.5 2.9h-3zM471.3 122.1l1.5 2.9h-3zM449.6 121.7l1.5 2.9h-3zM408.4 121.1l1.5 2.9h-3zM419.2 121.6l1.5 2.9h-3zM447.7 121.9l1.5 2.9h-3zM483.1 121.4l1.5 2.9h-3zM457.4 121l1.5 2.9h-3zM461.1 121.8l1.5 2.9h-3zM452.4 121.7l1.5 2.9h-3zM429.4 121.9l1.5 2.9h-3zM453.5 121.6l1.5 2.9h-3zM402.3 121.1l1.5 2.9h-3zM436.9 121.3l1.5 2.9h-3zM470.9 121.2l1.5 2.9h-3zM419 121.1l1.5 2.9h-3zM456.9 121.3l1.5 2.9h-3zM463.1 121.4l1.5 2.9h-3zM414.9 121.9l1.5 2.9h-3zM474.8 121.1l1.5 2.9h-3zM422.3 121.4l1.5 2.9h-3zM483.8 121.4l1.5 2.9h-3zM431 122.1l1.5 2.9h-3zM453.8 121.7l1.5 2.9h-3zM482.6 121.5l1.5 2.9h-3zM471.6 121.9l1.5 2.9h-3zM443 121.5l1.5 2.9h-3zM418.1 121.2l1.5 2.9h-3zM454.1 122.2l1.5 2.9h-3zM451.8 121.8l1.5 2.9h-3zM407 122.1l1.5 2.9h-3zM434.2 121.9l1.5 2.9h-3zM480.2 122l1.5 2.9h-3zM446.5 121.6l1.5 2.9h-3zM417 121l1.5 2.9h-3zM456.6 121.8l1.5 2.9h-3zM440.3 121.5l1.5 2.9h-3zM479.6 121.9l1.5 2.9h-3zM443.4 121.5l1.5 2.9h-3zM403.7 121.1l1.5 2.9h-3zM415.3 121l1.5 2.9h-3zM416.5 121.7l1.5 2.9h-3zM482.8 122.2l1.5 2.9h-3zM432.2 121.4l1.5 2.9h-3zM431.3 121.7l1.5 2.9h-3zM485 122.2l1.5 2.9h-3zM419.1 121.1l1.5 2.9h-3zM454.7 121.4l1.5 2.9h-3zM482.5 121.2l1.5 2.9h-3zM479.3 122.1l1.5 2.9h-3zM415.2 121.5l1.5 2.9h-3zM441.8 121.3l1.5 2.9h-3zM423.1 120.8l1.5 2.9h-3zM461.3 121.5l1.5 2.9h-3zM422.5 121.8l1.5 2.9h-3zM416.6 121.3l1.5 2.9h-3zM424.7 121.3l1.5 2.9h-3zM412.7 121.7l1.5 2.9h-3zM462.8 121.1l1.5 2.9h-3zM425.4 121.5l1.5 2.9h-3zM435.7 121.7l1.5 2.9h-3zM425 121.1l1.5 2.9h-3zM434 121.2l1.5 2.9h-3zM427.6 121.6l1.5 2.9h-3zM431.7 121.4l1.5 2.9h-3zM462.1 121.5l1.5 2.9h-3zM416.4 121.5l1.5 2.9h-3zM460.2 121.7l1.5 2.9h-3zM431.2 121.1l1.5 2.9h-3zM409.5 121.1l1.5 2.9h-3zM411.7 121.6l1.5 2.9h-3zM478.5 122.1l1.5 2.9h-3zM405.1 121.9l1.5 2.9h-3zM425.1 121.1l1.5 2.9h-3zM475.3 122.1l1.5 2.9h-3zM408.3 121.7l1.5 2.9h-3zM419.5 121.4l1.5 2.9h-3zM424.5 121.7l1.5 2.9h-3zM473 122l1.5 2.9h-3zM411.4 122.1l1.5 2.9h-3zM482.3 121.2l1.5 2.9h-3zM411.8 121.7l1.5 2.9h-3zM449.9 121.5l1.5 2.9h-3zM467.6 121.5l1.5 2.9h-3zM449.3 122l1.5 2.9h-3zM444.9 121.9l1.5 2.9h-3zM438.9 121.1l1.5 2.9h-3zM423.1 121.3l1.5 2.9h-3zM486.4 121.8l1.5 2.9h-3zM436 120.9l1.5 2.9h-3zM456.2 121.9l1.5 2.9h-3zM451.3 121.5l1.5 2.9h-3zM483.7 121.7l1.5 2.9h-3zM422.4 121.6l1.5 2.9h-3zM414.8 122.1l1.5 2.9h-3zM478.4 121.7l1.5 2.9h-3zM445 121.4l1.5 2.9h-3zM456.3 122.3l1.5 2.9h-3zM455 121.4l1.5 2.9h-3zM468.4 121.4l1.5 2.9h-3zM473.1 121.1l1.5 2.9h-3zM461.5 122l1.5 2.9h-3zM401.9 121.5l1.5 2.9h-3zM473.1 121.8l1.5 2.9h-3zM405.1 121.5l1.5 2.9h-3zM474.8 121.6l1.5 2.9h-3zM401.6 121.1l1.5 2.9h-3zM467.7 121.3l1.5 2.9h-3zM456.1 121.7l1.5 2.9h-3zM403.7 121.4l1.5 2.9h-3zM465.9 122.3l1.5 2.9h-3zM451.1 121.3l1.5 2.9h-3zM411.8 121.2l1.5 2.9h-3zM476.5 121.2l1.5 2.9h-3zM452 122.1l1.5 2.9h-3zM441.1 121l1.5 2.9h-3zM482.3 122l1.5 2.9h-3zM418.9 122l1.5 2.9h-3zM416.6 121.4l1.5 2.9h-3zM477.8 121.9l1.5 2.9h-3zM415.2 120.6l1.5 2.9h-3zM471.4 121.5l1.5 2.9h-3zM419.4 120.8l1.5 2.9h-3zM471.1 121.7l1.5 2.9h-3zM436.4 121.5l1.5 2.9h-3zM454.3 121.3l1.5 2.9h-3zM453.4 121.9l1.5 2.9h-3zM435.3 121.6l1.5 2.9h-3zM445.8 121.3l1.5 2.9h-3zM457 121.4l1.5 2.9h-3zM413.2 120.8l1.5 2.9h-3zM479.8 121.6l1.5 2.9h-3zM471.9 122.5l1.5 2.9h-3zM419.3 121.2l1.5 2.9h-3zM420.8 121.6l1.5 2.9h-3zM435.2 121.3l1.5 2.9h-3zM467.5 121.9l1.5 2.9h-3zM445.7 121.7l1.5 2.9h-3zM428.4 121.4l1.5 2.9h-3zM467.2 120.9l1.5 2.9h-3zM418.2 121.2l1.5 2.9h-3zM462.1 122.1l1.5 2.9h-3zM465.9 121.5l1.5 2.9h-3zM400.6 126l1.5 2.9h-3zM387.6 125.9l1.5 2.9h-3zM392.8 122.7l1.5 2.9h-3zM399.1 123l1.5 2.9h-3zM391.7 122.1l1.5 2.9h-3zM384.5 121.6l1.5 2.9h-3zM393.5 121.3l1.5 2.9h-3zM392.3 127l1.5 2.9h-3zM400.7 121.2l1.5 2.9h-3zM396 122.8l1.5 2.9h-3zM398 120.7l1.5 2.9h-3zM390.6 128.6l1.5 2.9h-3zM400.1 128.4l1.5 2.9h-3zM398.9 122.6l1.5 2.9h-3zM385.6 126.7l1.5 2.9h-3zM395.9 120.5l1.5 2.9h-3zM400.3 127.5l1.5 2.9h-3zM395.7 122.2l1.5 2.9h-3zM401.5 132.2l1.5 2.9h-3zM388.7 124l1.5 2.9h-3zM394.6 121.3l1.5 2.9h-3zM393.6 125.2l1.5 2.9h-3zM389.3 125.7l1.5 2.9h-3zM398.1 121.6l1.5 2.9h-3zM391.8 123.4l1.5 2.9h-3zM395.7 130.5l1.5 2.9h-3zM398.1 131l1.5 2.9h-3zM397.1 128.2l1.5 2.9h-3zM385.8 125.4l1.5 2.9h-3zM385 120.7l1.5 2.9h-3zM398.8 128.1l1.5 2.9h-3zM395.7 126.7l1.5 2.9h-3zM386.7 123l1.5 2.9h-3zM386.3 126.6l1.5 2.9h-3zM393 130.2l1.5 2.9h-3zM387.2 125.8l1.5 2.9h-3zM400.8 129.3l1.5 2.9h-3zM388 120.5l1.5 2.9h-3zM401 123l1.5 2.9h-3zM396.9 121.1l1.5 2.9h-3zM394 127.9l1.5 2.9h-3zM396.1 126.6l1.5 2.9h-3zM396.5 128.8l1.5 2.9h-3zM389.1 123.9l1.5 2.9h-3zM392.8 121.5l1.5 2.9h-3zM385.2 128.1l1.5 2.9h-3zM384.9 123.1l1.5 2.9h-3zM401 122.2l1.5 2.9h-3zM399.3 127.1l1.5 2.9h-3zM397.6 126.7l1.5 2.9h-3zM385.9 126.5l1.5 2.9h-3zM395.2 128.4l1.5 2.9h-3zM396.9 126.7l1.5 2.9h-3zM391.7 126.8l1.5 2.9h-3zM390.8 121l1.5 2.9h-3zM397.1 122.9l1.5 2.9h-3zM384.2 123l1.5 2.9h-3zM392.5 123.1l1.5 2.9h-3zM388.6 125l1.5 2.9h-3zM392 124.8l1.5 2.9h-3zM393.9 126.6l1.5 2.9h-3zM391.6 128l1.5 2.9h-3zM399.8 122l1.5 2.9h-3zM399.9 121.3l1.5 2.9h-3zM397.7 126.5l1.5 2.9h-3zM398.3 120.9l1.5 2.9h-3zM393 120.5l1.5 2.9h-3zM388.9 120.5l1.5 2.9h-3zM398.7 128.1l1.5 2.9h-3zM386.1 126.3l1.5 2.9h-3zM394.7 130.6l1.5 2.9h-3zM395.4 126.9l1.5 2.9h-3zM386 128.2l1.5 2.9h-3zM387.7 129.4l1.5 2.9h-3zM396.1 128.7l1.5 2.9h-3zM399.4 122.7l1.5 2.9h-3zM391 120.2l1.5 2.9h-3zM393.6 128.2l1.5 2.9h-3zM396.7 127.3l1.5 2.9h-3zM394.5 121.7l1.5 2.9h-3zM392.3 121.5l1.5 2.9h-3zM395.5 126.1l1.5 2.9h-3zM396.8 125.3l1.5 2.9h-3zM398.4 123.5l1.5 2.9h-3zM394.1 119.9l1.5 2.9h-3zM395.9 121.3l1.5 2.9h-3zM387.5 128.8l1.5 2.9h-3zM386.9 127.6l1.5 2.9h-3zM398.6 125l1.5 2.9h-3zM388 127.3l1.5 2.9h-3zM391.9 127.7l1.5 2.9h-3zM399.9 129l1.5 2.9h-3zM386.6 125.2l1.5 2.9h-3zM396.2 131l1.5 2.9h-3zM388.5 123.9l1.5 2.9h-3zM395.3 122l1.5 2.9h-3zM398.7 121.4l1.5 2.9h-3zM398.8 131l1.5 2.9h-3zM398 120.2l1.5 2.9h-3zM393.3 120.3l1.5 2.9h-3zM393.8 122.1l1.5 2.9h-3zM387.1 125.4l1.5 2.9h-3zM386.1 128.1l1.5 2.9h-3zM397.5 120.6l1.5 2.9h-3zM384.9 120.7l1.5 2.9h-3zM400.8 126.3l1.5 2.9h-3zM387.3 124.1l1.5 2.9h-3zM397 119.4l1.5 2.9h-3zM392.1 120.7l1.5 2.9h-3zM395 128.7l1.5 2.9h-3zM383.3 137.1l1.5 2.9h-3zM386.2 138.2l1.5 2.9h-3zM383.8 139.5l1.5 2.9h-3zM387.2 136.5l1.5 2.9h-3zM386.3 134.6l1.5 2.9h-3zM385.6 135.7l1.5 2.9h-3zM387.7 135.7l1.5 2.9h-3zM383.7 134.3l1.5 2.9h-3zM384.5 137.9l1.5 2.9h-3zM385.5 137.8l1.5 2.9h-3zM387.8 137.3l1.5 2.9h-3zM383.4 139.5l1.5 2.9h-3zM386 136.3l1.5 2.9h-3zM387.6 136l1.5 2.9h-3zM383.7 138.8l1.5 2.9h-3zM386.5 138.2l1.5 2.9h-3zM386.5 136.7l1.5 2.9h-3zM384.8 137.5l1.5 2.9h-3zM413.8 118.4l1.5 2.9h-3zM436.1 115.4l1.5 2.9h-3zM436.4 115.3l1.5 2.9h-3zM432.5 118.9l1.5 2.9h-3zM427.6 116l1.5 2.9h-3zM426.7 118.2l1.5 2.9h-3zM431.2 119.1l1.5 2.9h-3zM414.7 118.1l1.5 2.9h-3zM438 119.9l1.5 2.9h-3zM437.4 117.5l1.5 2.9h-3zM434.1 117.1l1.5 2.9h-3zM419 117.2l1.5 2.9h-3zM418.3 119.8l1.5 2.9h-3zM444.3 117.7l1.5 2.9h-3zM443.3 118.5l1.5 2.9h-3zM436.4 118.7l1.5 2.9h-3zM437.7 115.1l1.5 2.9h-3zM426.6 118.1l1.5 2.9h-3zM440.8 117.9l1.5 2.9h-3zM434.5 116.7l1.5 2.9h-3zM425.9 117.6l1.5 2.9h-3zM434.2 118l1.5 2.9h-3zM413.7 120.5l1.5 2.9h-3zM424.4 119.7l1.5 2.9h-3zM439.7 116.2l1.5 2.9h-3zM427.3 115.9l1.5 2.9h-3zM429.9 117.7l1.5 2.9h-3zM430.1 116.9l1.5 2.9h-3zM443.1 117.8l1.5 2.9h-3zM417.8 120.6l1.5 2.9h-3zM434.2 116.8l1.5 2.9h-3zM426.3 119.7l1.5 2.9h-3zM419 117.4l1.5 2.9h-3zM412.6 117.8l1.5 2.9h-3zM431.8 115.8l1.5 2.9h-3zM417.2 119.3l1.5 2.9h-3zM430.8 119.7l1.5 2.9h-3zM425.6 115.9l1.5 2.9h-3zM424.8 118.8l1.5 2.9h-3zM441.2 119.1l1.5 2.9h-3zM414.1 119.5l1.5 2.9h-3zM430.1 120.4l1.5 2.9h-3zM425.1 118.1l1.5 2.9h-3zM416.1 119.1l1.5 2.9h-3zM424.4 120.5l1.5 2.9h-3zM440.5 116.2l1.5 2.9h-3zM417.7 119.5l1.5 2.9h-3zM434.1 119l1.5 2.9h-3zM420.1 118.5l1.5 2.9h-3zM428.7 119l1.5 2.9h-3zM429.7 120.5l1.5 2.9h-3zM413.4 117.2l1.5 2.9h-3zM438.5 118l1.5 2.9h-3zM423.9 116l1.5 2.9h-3zM418.1 119l1.5 2.9h-3zM418.1 118.3l1.5 2.9h-3zM444.5 117.9l1.5 2.9h-3zM443.1 120.2l1.5 2.9h-3zM427 118.7l1.5 2.9h-3zM420.2 119.8l1.5 2.9h-3zM435.1 120l1.5 2.9h-3zM412.8 119.3l1.5 2.9h-3zM440.2 115.3l1.5 2.9h-3zM411.2 119.6l1.5 2.9h-3zM412.7 119.4l1.5 2.9h-3zM422.4 118.1l1.5 2.9h-3zM426.5 117.9l1.5 2.9h-3zM411.2 119.3l1.5 2.9h-3zM420.7 118.2l1.5 2.9h-3zM444.4 114.9l1.5 2.9h-3zM476.7 115.3l1.5 2.9h-3zM454.2 115.6l1.5 2.9h-3zM466.5 114.8l1.5 2.9h-3zM490 114.9l1.5 2.9h-3zM452.7 115.3l1.5 2.9h-3zM483.5 120.1l1.5 2.9h-3zM463.7 115.5l1.5 2.9h-3zM498.2 115.1l1.5 2.9h-3zM465.3 118.8l1.5 2.9h-3zM463.7 116.3l1.5 2.9h-3zM460.8 115.3l1.5 2.9h-3zM476.3 116.5l1.5 2.9h-3zM500.3 114.4l1.5 2.9h-3zM476.3 114.5l1.5 2.9h-3zM488 118l1.5 2.9h-3zM475.2 119.8l1.5 2.9h-3zM449.8 120.5l1.5 2.9h-3zM479 114l1.5 2.9h-3zM479.5 119.6l1.5 2.9h-3zM479.6 118.1l1.5 2.9h-3zM462.3 118.9l1.5 2.9h-3zM460.5 119.8l1.5 2.9h-3zM464.1 115.1l1.5 2.9h-3zM446.8 117.5l1.5 2.9h-3zM454.3 115.2l1.5 2.9h-3zM461.6 120.3l1.5 2.9h-3zM474.7 118.8l1.5 2.9h-3zM497.9 117.4l1.5 2.9h-3zM485.7 114.6l1.5 2.9h-3zM474.9 115.7l1.5 2.9h-3zM486.6 116l1.5 2.9h-3zM470.8 116.7l1.5 2.9h-3zM447.7 115.6l1.5 2.9h-3zM484.8 114.4l1.5 2.9h-3zM485.9 119.9l1.5 2.9h-3zM483 117l1.5 2.9h-3zM494.4 117.5l1.5 2.9h-3zM490.3 114.8l1.5 2.9h-3zM493.1 119.5l1.5 2.9h-3zM447.7 117.3l1.5 2.9h-3zM503 114.6l1.5 2.9h-3zM479.1 118l1.5 2.9h-3zM479.4 117.2l1.5 2.9h-3zM480.6 113.1l1.5 2.9h-3zM460.7 117.8l1.5 2.9h-3zM462.6 117.2l1.5 2.9h-3zM495.9 116.9l1.5 2.9h-3zM479.8 114l1.5 2.9h-3zM500.7 116.2l1.5 2.9h-3zM457.1 117.6l1.5 2.9h-3zM479 120l1.5 2.9h-3zM479.8 113l1.5 2.9h-3zM447.1 117.9l1.5 2.9h-3zM481.3 116.6l1.5 2.9h-3zM467.3 117.7l1.5 2.9h-3zM469.9 117.1l1.5 2.9h-3zM455.8 114.9l1.5 2.9h-3zM479.5 120l1.5 2.9h-3zM484.1 120.3l1.5 2.9h-3zM496.7 115.1l1.5 2.9h-3zM493.8 116.5l1.5 2.9h-3zM501.9 114l1.5 2.9h-3zM501.6 119l1.5 2.9h-3zM485.6 117.2l1.5 2.9h-3zM461.3 118.3l1.5 2.9h-3zM476.3 119.6l1.5 2.9h-3zM449.8 117.3l1.5 2.9h-3zM477.8 114.2l1.5 2.9h-3zM462.7 119.2l1.5 2.9h-3zM476.1 118.4l1.5 2.9h-3zM488.5 119.7l1.5 2.9h-3zM448.5 115.4l1.5 2.9h-3zM495.8 115.1l1.5 2.9h-3zM447.2 119.5l1.5 2.9h-3zM473.4 120.6l1.5 2.9h-3zM457.7 117.7l1.5 2.9h-3zM447.3 115.9l1.5 2.9h-3zM472.8 117.3l1.5 2.9h-3zM460.2 118.5l1.5 2.9h-3zM449.6 118.3l1.5 2.9h-3zM492.8 115.8l1.5 2.9h-3zM459.2 116.5l1.5 2.9h-3zM499.4 118.3l1.5 2.9h-3zM480.3 116.8l1.5 2.9h-3zM465.6 114.1l1.5 2.9h-3zM448.5 118.1l1.5 2.9h-3zM494.6 115.1l1.5 2.9h-3zM451.3 118.7l1.5 2.9h-3zM490 119.2l1.5 2.9h-3zM475.7 117.9l1.5 2.9h-3zM471.4 116.6l1.5 2.9h-3zM449.7 118.1l1.5 2.9h-3zM469.4 120l1.5 2.9h-3zM446 115.3l1.5 2.9h-3zM489.3 118.1l1.5 2.9h-3zM486 119.4l1.5 2.9h-3zM452.9 120l1.5 2.9h-3zM474.6 120.1l1.5 2.9h-3zM455.3 118.4l1.5 2.9h-3zM486.3 118.8l1.5 2.9h-3zM456 113.7l1.5 2.9h-3zM455 117.3l1.5 2.9h-3zM461.5 116.9l1.5 2.9h-3zM501.4 118.2l1.5 2.9h-3zM492.5 118.8l1.5 2.9h-3zM468.4 113.8l1.5 2.9h-3zM491.1 117.9l1.5 2.9h-3zM466 116.7l1.5 2.9h-3zM455.9 119.6l1.5 2.9h-3zM497 117.4l1.5 2.9h-3zM447.1 115.8l1.5 2.9h-3zM491 117.4l1.5 2.9h-3zM500.7 119.8l1.5 2.9h-3zM449.9 119.1l1.5 2.9h-3zM494.8 113.5l1.5 2.9h-3zM490.2 117.6l1.5 2.9h-3zM447.5 120.2l1.5 2.9h-3zM470.8 118.4l1.5 2.9h-3zM460.1 115.9l1.5 2.9h-3zM467.3 114.9l1.5 2.9h-3zM467.1 116.4l1.5 2.9h-3zM467.9 116.5l1.5 2.9h-3zM445.6 115.2l1.5 2.9h-3zM460.7 115.6l1.5 2.9h-3zM461.8 117.8l1.5 2.9h-3zM482.7 116.5l1.5 2.9h-3zM485.4 113.3l1.5 2.9h-3zM488.5 119.3l1.5 2.9h-3zM481.9 115.2l1.5 2.9h-3zM496.9 114.5l1.5 2.9h-3zM477.3 120.1l1.5 2.9h-3zM463.2 115.9l1.5 2.9h-3zM447.3 120.4l1.5 2.9h-3zM487.2 118.5l1.5 2.9h-3zM477.6 114.3l1.5 2.9h-3zM454.5 114.6l1.5 2.9h-3zM474.7 116.1l1.5 2.9h-3zM499.8 114.8l1.5 2.9h-3zM480.1 113.4l1.5 2.9h-3zM462.9 117.2l1.5 2.9h-3zM491.8 116.3l1.5 2.9h-3zM467.9 117.6l1.5 2.9h-3zM445.9 116.6l1.5 2.9h-3zM449.6 118.4l1.5 2.9h-3zM500.8 115l1.5 2.9h-3zM450.4 118l1.5 2.9h-3zM490.4 118.7l1.5 2.9h-3zM446.8 118.8l1.5 2.9h-3zM469.6 115.2l1.5 2.9h-3zM461.4 115.6l1.5 2.9h-3zM465 116.7l1.5 2.9h-3zM450.3 118.5l1.5 2.9h-3zM468.3 119.6l1.5 2.9h-3zM489 115.6l1.5 2.9h-3zM475.4 120l1.5 2.9h-3zM452.7 115.6l1.5 2.9h-3zM491.7 115.8l1.5 2.9h-3zM495.5 119.7l1.5 2.9h-3zM471.5 119.2l1.5 2.9h-3zM465.8 120.2l1.5 2.9h-3zM446 115.1l1.5 2.9h-3zM449.1 120l1.5 2.9h-3zM466.8 117.9l1.5 2.9h-3zM451.6 118.1l1.5 2.9h-3zM501.2 112.7l1.5 2.9h-3zM482.4 118.7l1.5 2.9h-3zM463.1 114.1l1.5 2.9h-3zM478.9 119.8l1.5 2.9h-3zM454.8 115.3l1.5 2.9h-3zM498.2 117.4l1.5 2.9h-3zM474 117.8l1.5 2.9h-3zM485.6 120.2l1.5 2.9h-3zM455.6 117.3l1.5 2.9h-3zM472.5 118.9l1.5 2.9h-3zM486.4 115.8l1.5 2.9h-3zM467.5 113.4l1.5 2.9h-3zM448.8 118.4l1.5 2.9h-3zM472.2 117.1l1.5 2.9h-3zM492.8 116.9l1.5 2.9h-3zM471.8 116.8l1.5 2.9h-3zM501.8 116.5l1.5 2.9h-3zM477.5 119.8l1.5 2.9h-3zM496.2 116.3l1.5 2.9h-3zM446.9 115l1.5 2.9h-3zM481.6 115.7l1.5 2.9h-3zM474.6 115.6l1.5 2.9h-3zM465.8 117.7l1.5 2.9h-3zM497.3 119l1.5 2.9h-3zM450.3 114.9l1.5 2.9h-3zM473.2 115.3l1.5 2.9h-3zM462.8 118.5l1.5 2.9h-3zM500.7 115.1l1.5 2.9h-3zM490.3 115.5l1.5 2.9h-3zM456.6 118.3l1.5 2.9h-3zM452.4 117.9l1.5 2.9h-3zM446.4 114.2l1.5 2.9h-3zM455.4 117.3l1.5 2.9h-3zM498.9 112.8l1.5 2.9h-3zM495.6 115.9l1.5 2.9h-3zM491.4 112.6l1.5 2.9h-3zM468.2 116.9l1.5 2.9h-3zM472.9 119.5l1.5 2.9h-3zM478.4 120.5l1.5 2.9h-3zM492 113l1.5 2.9h-3zM445.2 118.1l1.5 2.9h-3zM455.5 115.7l1.5 2.9h-3zM478.7 118.8l1.5 2.9h-3zM453.2 116.8l1.5 2.9h-3zM499.4 119.4l1.5 2.9h-3zM447.6 118l1.5 2.9h-3zM501.5 119.2l1.5 2.9h-3zM457.4 117.7l1.5 2.9h-3zM456.2 120l1.5 2.9h-3zM469.6 119.4l1.5 2.9h-3zM482 117.2l1.5 2.9h-3zM501.8 115.6l1.5 2.9h-3zM472.6 120.3l1.5 2.9h-3zM497.1 115.7l1.5 2.9h-3zM496.6 116.5l1.5 2.9h-3zM502.1 117.6l1.5 2.9h-3zM465.9 118.8l1.5 2.9h-3zM472.5 118.1l1.5 2.9h-3zM446.3 116.2l1.5 2.9h-3zM467.3 117.2l1.5 2.9h-3zM465.5 117.3l1.5 2.9h-3zM452.2 119.9l1.5 2.9h-3zM493.3 119.1l1.5 2.9h-3zM461.2 115.3l1.5 2.9h-3zM452.6 117.5l1.5 2.9h-3zM451.7 114l1.5 2.9h-3zM446.4 117.6l1.5 2.9h-3zM488.8 114.2l1.5 2.9h-3zM475.9 118.6l1.5 2.9h-3zM475.4 114.6l1.5 2.9h-3zM469 116.6l1.5 2.9h-3zM500.9 114.7l1.5 2.9h-3zM466.9 119.4l1.5 2.9h-3zM472.5 114.5l1.5 2.9h-3zM485 114.1l1.5 2.9h-3zM498.9 118.4l1.5 2.9h-3zM494.8 112.4l1.5 2.9h-3zM496.1 116.5l1.5 2.9h-3zM455.6 115.2l1.5 2.9h-3zM499.8 112.9l1.5 2.9h-3zM492.8 114.3l1.5 2.9h-3zM464.1 117.8l1.5 2.9h-3zM491.7 113.8l1.5 2.9h-3zM500.3 112.8l1.5 2.9h-3zM488.1 112.9l1.5 2.9h-3zM487.8 119.7l1.5 2.9h-3zM493.6 118.8l1.5 2.9h-3zM496 113.8l1.5 2.9h-3zM490.3 112.7l1.5 2.9h-3zM449.5 118.5l1.5 2.9h-3zM457.1 117.7l1.5 2.9h-3zM452 120.1l1.5 2.9h-3zM472 117.9l1.5 2.9h-3zM448.8 118.5l1.5 2.9h-3zM476.9 120.4l1.5 2.9h-3zM498.6 114.3l1.5 2.9h-3zM501.9 113l1.5 2.9h-3zM447.2 117.6l1.5 2.9h-3zM484.6 118.9l1.5 2.9h-3zM453.3 115.7l1.5 2.9h-3zM495 116.7l1.5 2.9h-3zM446.8 117.9l1.5 2.9h-3zM451 114.4l1.5 2.9h-3zM463.8 116l1.5 2.9h-3zM445.3 116.8l1.5 2.9h-3zM483.4 119.1l1.5 2.9h-3zM456.9 116.1l1.5 2.9h-3zM486.8 120.2l1.5 2.9h-3zM500.1 114.5l1.5 2.9h-3zM472.3 115.7l1.5 2.9h-3zM472.3 115.8l1.5 2.9h-3zM502.8 119.1l1.5 2.9h-3zM463.2 117.6l1.5 2.9h-3zM496.4 114.8l1.5 2.9h-3zM486.4 119l1.5 2.9h-3zM445.5 117l1.5 2.9h-3zM462.3 120.1l1.5 2.9h-3zM486.8 115.5l1.5 2.9h-3zM447.6 118.6l1.5 2.9h-3zM494.7 119.4l1.5 2.9h-3zM497.9 118.4l1.5 2.9h-3zM489 113.9l1.5 2.9h-3zM492 113.5l1.5 2.9h-3zM479.7 118.7l1.5 2.9h-3zM491.9 119.4l1.5 2.9h-3zM472.1 113.2l1.5 2.9h-3zM468.7 115.5l1.5 2.9h-3zM485.8 115.6l1.5 2.9h-3zM472 118.2l1.5 2.9h-3zM463 115l1.5 2.9h-3zM460.4 118.5l1.5 2.9h-3zM470.4 115.3l1.5 2.9h-3zM467.2 116.6l1.5 2.9h-3zM488.7 113l1.5 2.9h-3zM490.5 113.8l1.5 2.9h-3zM491.3 118.3l1.5 2.9h-3zM474.5 124.4l1.5 2.9h-3zM478 126.4l1.5 2.9h-3zM480 129.4l1.5 2.9h-3zM483 124.4l1.5 2.9h-3zM487 126.4l1.5 2.9h-3zM489 127.4l1.5 2.9h-3zM492 129.4l1.5 2.9h-3zM494 128.4l1.5 2.9h-3zM498.5 126.4l1.5 2.9h-3zM476 122.9l1.5 2.9h-3zM481 123.4l1.5 2.9h-3zM490 122.4l1.5 2.9h-3zM495 121.9l1.5 2.9h-3zM500 121.4l1.5 2.9h-3zM384.5 115.9l1.5 2.9h-3zM398 116.4l1.5 2.9h-3zM411.5 125.4l1.5 2.9h-3zM418 127.9l1.5 2.9h-3zM420 124.4l1.5 2.9h-3zM431 126.9l1.5 2.9h-3zM447.5 125.4l1.5 2.9h-3zM477 124.4l1.5 2.9h-3zM513.5 116.9l1.5 2.9h-3zM522.5 121.9l1.5 2.9h-3zM535 114.4l1.5 2.9h-3zM535 122.4l1.5 2.9h-3zM537.5 58.4l1.5 2.9h-3zM519.4 110.9l1.5 2.9h-3zM521 109.9l1.5 2.9h-3zM532.4 108.2l1.5 2.9h-3zM531.3 109.9l1.5 2.9h-3zM505 110l1.5 2.9h-3zM507.5 110.5l1.5 2.9h-3zM515.2 111.7l1.5 2.9h-3zM528 109.1l1.5 2.9h-3zM508.3 110.3l1.5 2.9h-3zM527.8 107.6l1.5 2.9h-3zM522 107.7l1.5 2.9h-3zM531.1 111l1.5 2.9h-3zM514 110.3l1.5 2.9h-3zM515.9 110.7l1.5 2.9h-3zM504.9 110.5l1.5 2.9h-3zM519.6 110.2l1.5 2.9h-3zM527.8 110.1l1.5 2.9h-3zM519.4 111.5l1.5 2.9h-3zM519.7 109l1.5 2.9h-3zM532.3 107.7l1.5 2.9h-3zM527.5 109.7l1.5 2.9h-3zM513.1 110.3l1.5 2.9h-3zM533.2 108.1l1.5 2.9h-3zM526.2 109l1.5 2.9h-3zM512.6 110.6l1.5 2.9h-3zM509.8 110.9l1.5 2.9h-3z"/>
<path fill="#e03fcb" d="M530.2 107.7l1.5 2.9h-3zM515.5 108.7l1.5 2.9h-3zM534.5 105.8l1.5 2.9h-3zM514.1 110.1l1.5 2.9h-3zM518.7 111.2l1.5 2.9h-3zM504.8 104.3l1.5 2.9h-3zM511 107.7l1.5 2.9h-3zM516 108.3l1.5 2.9h-3zM533.1 104.3l1.5 2.9h-3zM522.1 107.2l1.5 2.9h-3zM530.1 108.5l1.5 2.9h-3zM531.7 106.5l1.5 2.9h-3zM504.2 108.4l1.5 2.9h-3zM512.3 105.4l1.5 2.9h-3zM531 104.8l1.5 2.9h-3zM528.2 108.8l1.5 2.9h-3zM521.3 107.8l1.5 2.9h-3zM515.5 111.4l1.5 2.9h-3zM519 104.2l1.5 2.9h-3zM501.5 106.9l1.5 2.9h-3zM505.6 108.5l1.5 2.9h-3zM513.8 110.5l1.5 2.9h-3zM506 108.4l1.5 2.9h-3zM509.3 104.1l1.5 2.9h-3zM530 104.7l1.5 2.9h-3zM528.7 104l1.5 2.9h-3zM527.3 110.1l1.5 2.9h-3zM521.4 105.3l1.5 2.9h-3zM534.2 110l1.5 2.9h-3zM509.3 108l1.5 2.9h-3zM523.3 110.7l1.5 2.9h-3zM516.1 105.6l1.5 2.9h-3zM534.9 106.9l1.5 2.9h-3zM513.4 108l1.5 2.9h-3zM509.6 106.6l1.5 2.9h-3zM528.6 108.4l1.5 2.9h-3zM530.2 109.5l1.5 2.9h-3zM526.9 105.9l1.5 2.9h-3zM529.2 106.7l1.5 2.9h-3zM507.9 110.2l1.5 2.9h-3zM522.8 106.5l1.5 2.9h-3zM520.3 108.5l1.5 2.9h-3zM533.7 107.6l1.5 2.9h-3zM515.3 105.4l1.5 2.9h-3zM509.8 104.7l1.5 2.9h-3zM512.1 110.5l1.5 2.9h-3zM519.4 106.5l1.5 2.9h-3zM536.4 109.3l1.5 2.9h-3zM526.1 105.9l1.5 2.9h-3zM526.9 109l1.5 2.9h-3zM517.8 111.1l1.5 2.9h-3zM515.3 104.6l1.5 2.9h-3zM534.5 107.6l1.5 2.9h-3zM517.2 110.2l1.5 2.9h-3zM505.5 108.6l1.5 2.9h-3zM529.1 107.4l1.5 2.9h-3zM508.3 105.1l1.5 2.9h-3zM515 107.4l1.5 2.9h-3zM523 106.8l1.5 2.9h-3zM531 110.3l1.5 2.9h-3zM501.2 107.8l1.5 2.9h-3zM524.5 106l1.5 2.9h-3zM505.9 107.4l1.5 2.9h-3zM523.7 107.7l1.5 2.9h-3zM522.8 110.4l1.5 2.9h-3zM519.6 108.3l1.5 2.9h-3zM516.3 107.9l1.5 2.9h-3zM520.5 108.8l1.5 2.9h-3zM535.5 109.7l1.5 2.9h-3zM513.7 109.9l1.5 2.9h-3zM518 109.5l1.5 2.9h-3zM506.3 104.7l1.5 2.9h-3zM515 109l1.5 2.9h-3zM502.9 109.7l1.5 2.9h-3zM533.7 107l1.5 2.9h-3zM513.4 106.3l1.5 2.9h-3zM534.8 107.8l1.5 2.9h-3zM505.9 105.5l1.5 2.9h-3zM524.8 110.7l1.5 2.9h-3zM522.7 106.1l1.5 2.9h-3zM524.8 109.1l1.5 2.9h-3zM529.6 110.7l1.5 2.9h-3zM503.7 109.1l1.5 2.9h-3zM527.6 105.5l1.5 2.9h-3zM501.9 109.1l1.5 2.9h-3zM511.9 107.6l1.5 2.9h-3zM531.5 109.3l1.5 2.9h-3zM521.5 105.4l1.5 2.9h-3zM534.5 109.8l1.5 2.9h-3zM532 109.6l1.5 2.9h-3zM516.2 105.5l1.5 2.9h-3zM511.1 105.5l1.5 2.9h-3zM508.3 109.5l1.5 2.9h-3zM502.5 105.9l1.5 2.9h-3zM526.8 107.3l1.5 2.9h-3zM530 108l1.5 2.9h-3zM502.7 109.2l1.5 2.9h-3zM518.7 109.5l1.5 2.9h-3zM530.9 106.3l1.5 2.9h-3zM524 110.5l1.5 2.9h-3zM516 104.3l1.5 2.9h-3zM535.2 104l1.5 2.9h-3zM516.2 107.2l1.5 2.9h-3zM512.2 109.4l1.5 2.9h-3zM518.9 106.9l1.5 2.9h-3zM513.5 110.4l1.5 2.9h-3zM515.1 107.2l1.5 2.9h-3zM518.9 107.7l1.5 2.9h-3zM503.8 104.3l1.5 2.9h-3zM522.7 105.4l1.5 2.9h-3zM522 107.6l1.5 2.9h-3zM526.6 104.7l1.5 2.9h-3zM509.7 109.6l1.5 2.9h-3zM502.5 106.2l1.5 2.9h-3zM526.5 109.4l1.5 2.9h-3zM514.3 106.1l1.5 2.9h-3zM522.5 107.3l1.5 2.9h-3zM510.7 108.6l1.5 2.9h-3zM513.5 107.2l1.5 2.9h-3zM510.5 107.9l1.5 2.9h-3zM518.7 108.4l1.5 2.9h-3zM524.3 108.5l1.5 2.9h-3zM509.5 104.4l1.5 2.9h-3zM512.4 104.8l1.5 2.9h-3zM517.6 108.5l1.5 2.9h-3zM526.1 110.7l1.5 2.9h-3zM514.3 105.8l1.5 2.9h-3zM503.2 109.8l1.5 2.9h-3zM519.7 105l1.5 2.9h-3zM517.4 104.3l1.5 2.9h-3zM536.9 108.9l1.5 2.9h-3zM521.9 108.3l1.5 2.9h-3zM502.7 108.4l1.5 2.9h-3zM524.2 106.5l1.5 2.9h-3zM504 108.2l1.5 2.9h-3zM514.4 108.9l1.5 2.9h-3zM502.3 109.7l1.5 2.9h-3zM522.6 108l1.5 2.9h-3zM507.2 104.3l1.5 2.9h-3zM535 104.5l1.5 2.9h-3zM508 106.2l1.5 2.9h-3zM535.9 106.3l1.5 2.9h-3zM533.9 105.7l1.5 2.9h-3zM519.6 105.8l1.5 2.9h-3zM517.7 110.4l1.5 2.9h-3zM515 109.4l1.5 2.9h-3zM528 105.5l1.5 2.9h-3zM507.8 108.2l1.5 2.9h-3zM513.8 106.8l1.5 2.9h-3zM503.1 106.7l1.5 2.9h-3zM516.4 107.9l1.5 2.9h-3zM507.9 109.7l1.5 2.9h-3zM534.1 104.3l1.5 2.9h-3zM517.2 109.4l1.5 2.9h-3zM509 107.5l1.5 2.9h-3zM510.9 107.2l1.5 2.9h-3zM507.4 109.3l1.5 2.9h-3zM504.2 107.8l1.5 2.9h-3zM502.9 107.3l1.5 2.9h-3zM526.8 109.3l1.5 2.9h-3zM504.8 111.3l1.5 2.9h-3zM531.3 106.1l1.5 2.9h-3zM535.8 108.9l1.5 2.9h-3zM533.9 105.9l1.5 2.9h-3zM507.4 104l1.5 2.9h-3zM529.5 107.1l1.5 2.9h-3zM522.5 104.4l1.5 2.9h-3zM535 105.4l1.5 2.9h-3zM511.6 107.4l1.5 2.9h-3zM522.8 110.6l1.5 2.9h-3zM387.5 135.4l1.5 2.9h-3zM391 126.4l1.5 2.9h-3zM424 119.4l1.5 2.9h-3zM536.5 99.4l1.5 2.9h-3z"/>
<path fill="#b9f028" d="M505 113.6l1.5 2.9h-3zM507 113.2l1.5 2.9h-3zM509 113.8l1.5 2.9h-3z"/>
<path fill="#2a62ff" d="M503 116.9l1.5 2.9h-3z"/>
<path fill="#c9b5b2" d="M558.4 54.4l1.5 2.9h-3zM555.2 54.6l1.5 2.9h-3zM555.3 54.3l1.5 2.9h-3zM552 57l1.5 2.9h-3zM546.1 55l1.5 2.9h-3zM557.9 49l1.5 2.9h-3zM541.3 60.1l1.5 2.9h-3zM552.5 54.9l1.5 2.9h-3zM540.7 63.4l1.5 2.9h-3zM556.6 60.1l1.5 2.9h-3zM550.5 60.5l1.5 2.9h-3zM553.8 58.4l1.5 2.9h-3zM542.3 63.9l1.5 2.9h-3zM548.4 55.8l1.5 2.9h-3zM554.5 52.5l1.5 2.9h-3zM549 59.2l1.5 2.9h-3zM556.1 46.9l1.5 2.9h-3zM540.1 55.6l1.5 2.9h-3zM547 58.5l1.5 2.9h-3zM540.7 55.4l1.5 2.9h-3zM556.5 63.7l1.5 2.9h-3zM547.9 60.9l1.5 2.9h-3zM556.7 58l1.5 2.9h-3zM556.9 55.5l1.5 2.9h-3zM538.9 62.9l1.5 2.9h-3zM553.5 54.1l1.5 2.9h-3zM558.1 55.4l1.5 2.9h-3zM560.9 61.1l1.5 2.9h-3zM540.2 60.4l1.5 2.9h-3zM540.3 67.5l1.5 2.9h-3zM549.1 56.4l1.5 2.9h-3zM556.8 48.1l1.5 2.9h-3zM540.8 60.7l1.5 2.9h-3zM562.9 63.7l1.5 2.9h-3zM555.8 56.6l1.5 2.9h-3zM538.4 65.2l1.5 2.9h-3zM556.6 66.3l1.5 2.9h-3zM548.7 54.1l1.5 2.9h-3zM542.4 55l1.5 2.9h-3zM554.6 51.2l1.5 2.9h-3zM555.9 60.1l1.5 2.9h-3zM553.5 61l1.5 2.9h-3zM544.3 60.4l1.5 2.9h-3zM542.5 51.3l1.5 2.9h-3zM539.5 53.6l1.5 2.9h-3zM542.2 50.3l1.5 2.9h-3zM547 49.4l1.5 2.9h-3zM546.4 50.7l1.5 2.9h-3zM539.7 49.6l1.5 2.9h-3zM559.1 56.5l1.5 2.9h-3zM542.7 59.5l1.5 2.9h-3zM540 60.5l1.5 2.9h-3zM543.2 57.3l1.5 2.9h-3zM549 54.1l1.5 2.9h-3zM553.6 57.4l1.5 2.9h-3zM540 60.2l1.5 2.9h-3zM541.8 55.9l1.5 2.9h-3zM538.7 57.7l1.5 2.9h-3zM548 55.9l1.5 2.9h-3zM563 54.8l1.5 2.9h-3zM557.5 57.6l1.5 2.9h-3zM559.3 51.9l1.5 2.9h-3zM560.8 62.6l1.5 2.9h-3zM543.5 49.7l1.5 2.9h-3zM554.2 59.7l1.5 2.9h-3zM548.4 50.7l1.5 2.9h-3zM547.1 64.9l1.5 2.9h-3zM557 61.7l1.5 2.9h-3zM552.1 53.4l1.5 2.9h-3zM553.6 55.2l1.5 2.9h-3zM544.8 51.8l1.5 2.9h-3zM561.5 57.1l1.5 2.9h-3zM554.4 59.4l1.5 2.9h-3zM553.7 68.4l1.5 2.9h-3zM557 50.6l1.5 2.9h-3zM560.8 63.5l1.5 2.9h-3zM542.4 54.5l1.5 2.9h-3zM544.6 58.8l1.5 2.9h-3zM562.3 61.7l1.5 2.9h-3zM554.8 60.1l1.5 2.9h-3zM560.2 59.5l1.5 2.9h-3zM546.3 56.4l1.5 2.9h-3zM562.7 57.4l1.5 2.9h-3zM548.8 58.1l1.5 2.9h-3zM558.1 63.3l1.5 2.9h-3zM560.8 50.1l1.5 2.9h-3zM550.9 55l1.5 2.9h-3zM548.4 51.2l1.5 2.9h-3zM550.4 52.6l1.5 2.9h-3zM541.2 53.5l1.5 2.9h-3zM539.8 62.8l1.5 2.9h-3zM561.6 68l1.5 2.9h-3zM554.3 64.1l1.5 2.9h-3zM540.1 51.5l1.5 2.9h-3zM552.7 57.8l1.5 2.9h-3zM544.2 51.8l1.5 2.9h-3zM559 59.6l1.5 2.9h-3zM547 63.7l1.5 2.9h-3zM538.4 60.3l1.5 2.9h-3zM554.6 61.7l1.5 2.9h-3zM562.9 56.7l1.5 2.9h-3zM556.4 47.7l1.5 2.9h-3zM562 47.6l1.5 2.9h-3zM540.6 56.9l1.5 2.9h-3zM545.3 60.2l1.5 2.9h-3zM557.4 63.7l1.5 2.9h-3zM549.6 55.7l1.5 2.9h-3zM542.5 57.8l1.5 2.9h-3zM546.6 58.7l1.5 2.9h-3zM545.1 62.6l1.5 2.9h-3zM555.6 57l1.5 2.9h-3zM557.3 52l1.5 2.9h-3zM556.4 62.7l1.5 2.9h-3zM554.7 59.4l1.5 2.9h-3zM556.7 59.3l1.5 2.9h-3zM561.1 51.1l1.5 2.9h-3zM544.6 57.4l1.5 2.9h-3zM545 48.9l1.5 2.9h-3zM562.5 47.5l1.5 2.9h-3zM560 56.2l1.5 2.9h-3zM554.6 55.2l1.5 2.9h-3zM557.8 60.2l1.5 2.9h-3zM554.1 64.5l1.5 2.9h-3zM545.7 57.2l1.5 2.9h-3zM552.1 66.2l1.5 2.9h-3zM544.1 54.5l1.5 2.9h-3zM540.5 61.2l1.5 2.9h-3zM546.5 51.1l1.5 2.9h-3zM558.2 58l1.5 2.9h-3zM541.5 55.8l1.5 2.9h-3zM548.2 54.8l1.5 2.9h-3zM551.1 54.1l1.5 2.9h-3zM542.2 54.9l1.5 2.9h-3zM549.4 61.5l1.5 2.9h-3zM546.1 55.1l1.5 2.9h-3zM549.4 55.9l1.5 2.9h-3zM550.4 55.8l1.5 2.9h-3zM547.7 59.9l1.5 2.9h-3zM547.7 64.5l1.5 2.9h-3zM544.9 54.1l1.5 2.9h-3zM551 59.4l1.5 2.9h-3zM546.6 57.8l1.5 2.9h-3zM550.6 56.3l1.5 2.9h-3zM543.9 59.2l1.5 2.9h-3zM553.9 52.8l1.5 2.9h-3zM545.3 60.4l1.5 2.9h-3zM553.2 58.2l1.5 2.9h-3zM547.4 53.8l1.5 2.9h-3zM551 63.1l1.5 2.9h-3zM548.5 60.4l1.5 2.9h-3zM551.4 61.6l1.5 2.9h-3zM549 52.2l1.5 2.9h-3zM553.6 56.4l1.5 2.9h-3zM551.4 55.5l1.5 2.9h-3zM551.4 59.6l1.5 2.9h-3zM555 62.2l1.5 2.9h-3zM546.5 50.6l1.5 2.9h-3zM553.7 57.5l1.5 2.9h-3zM549.3 56.9l1.5 2.9h-3zM543.7 61l1.5 2.9h-3zM550.7 57.2l1.5 2.9h-3zM548.3 52.8l1.5 2.9h-3zM555.1 56.7l1.5 2.9h-3zM547.2 53.7l1.5 2.9h-3zM549.2 54.6l1.5 2.9h-3zM549.8 57.5l1.5 2.9h-3zM542.2 55.7l1.5 2.9h-3zM550.8 58.4l1.5 2.9h-3zM545.4 52l1.5 2.9h-3zM554.1 65.7l1.5 2.9h-3zM555 61.9l1.5 2.9h-3zM549 60l1.5 2.9h-3zM543.3 52.8l1.5 2.9h-3zM549.7 49.7l1.5 2.9h-3zM549.6 54.3l1.5 2.9h-3zM551.6 56.6l1.5 2.9h-3zM547.9 65.4l1.5 2.9h-3zM544.7 62.1l1.5 2.9h-3zM548.5 55.5l1.5 2.9h-3zM545.7 61.7l1.5 2.9h-3zM555.4 61.8l1.5 2.9h-3zM546.5 57.4l1.5 2.9h-3zM546.7 61.7l1.5 2.9h-3zM548.8 58.6l1.5 2.9h-3zM544.5 55l1.5 2.9h-3zM547.4 53.2l1.5 2.9h-3zM548.5 57l1.5 2.9h-3zM547.2 61l1.5 2.9h-3zM548.1 52.5l1.5 2.9h-3zM553.5 51.6l1.5 2.9h-3zM550.6 59.4l1.5 2.9h-3zM544.2 47.7l1.5 2.9h-3zM547.5 63.9l1.5 2.9h-3zM551.7 55.8l1.5 2.9h-3zM546.7 60l1.5 2.9h-3zM549.3 64l1.5 2.9h-3zM548.9 52.2l1.5 2.9h-3zM550.9 53.6l1.5 2.9h-3zM548.4 65.4l1.5 2.9h-3zM548.5 56.4l1.5 2.9h-3zM545.9 56.9l1.5 2.9h-3zM550.3 58.2l1.5 2.9h-3zM545.7 61.2l1.5 2.9h-3zM555.2 62.1l1.5 2.9h-3zM548.9 57.8l1.5 2.9h-3zM548.2 56.2l1.5 2.9h-3zM551.8 57.3l1.5 2.9h-3zM548.7 58.5l1.5 2.9h-3zM549.3 62.1l1.5 2.9h-3zM548.8 57.9l1.5 2.9h-3zM562.5 41.9l1.5 2.9h-3zM562 46.4l1.5 2.9h-3zM537.5 5.9l1.5 2.9h-3zM553.5 69.9l1.5 2.9h-3zM559.5 68.9l1.5 2.9h-3zM540 68.4l1.5 2.9h-3zM541 72.4l1.5 2.9h-3zM538 76.4l1.5 2.9h-3zM537.5 79.4l1.5 2.9h-3zM538 106.4l1.5 2.9h-3zM540 107.4l1.5 2.9h-3zM545 104.9l1.5 2.9h-3zM548 104.9l1.5 2.9h-3zM561.5 120.9l1.5 2.9h-3zM537 122.4l1.5 2.9h-3zM539 124.4l1.5 2.9h-3z"/>
<line x1="237.4" y1="180.6" x2="237.4" y2="327.6" stroke="#8d7f7d" stroke-width="1"/>
<rect x="22.5" y="180.6" width="226.5" height="147" fill="none" stroke="#8d7f7d" stroke-width="1"/>
<text x="32.6" y="334.5" font-size="5.3" text-anchor="middle" fill="#a39b9a">0</text>
<text x="63.5" y="334.5" font-size="5.3" text-anchor="middle" fill="#a39b9a">200</text>
<text x="94.4" y="334.5" font-size="5.3" text-anchor="middle" fill="#a39b9a">400</text>
<text x="125.3" y="334.5" font-size="5.3" text-anchor="middle" fill="#a39b9a">600</text>
<text x="156.3" y="334.5" font-size="5.3" text-anchor="middle" fill="#a39b9a">800</text>
<text x="187.2" y="334.5" font-size="5.3" text-anchor="middle" fill="#a39b9a">1000</text>
<text x="218.2" y="334.5" font-size="5.3" text-anchor="middle" fill="#a39b9a">1200</text>
<text x="19.7" y="323.1" font-size="5.3" text-anchor="end" fill="#a39b9a">0</text>
<text x="19.7" y="287.7" font-size="5.3" text-anchor="end" fill="#a39b9a">50</text>
<text x="19.7" y="252.3" font-size="5.3" text-anchor="end" fill="#a39b9a">100</text>
<text x="19.7" y="216.9" font-size="5.3" text-anchor="end" fill="#a39b9a">150</text>
<text x="251.7" y="323.1" font-size="5.3" text-anchor="start" fill="#a39b9a">0.0</text>
<text x="251.7" y="285.8" font-size="5.3" text-anchor="start" fill="#a39b9a">2.5</text>
<text x="251.7" y="248.6" font-size="5.3" text-anchor="start" fill="#a39b9a">5.0</text>
<text x="251.7" y="211.7" font-size="5.3" text-anchor="start" fill="#a39b9a">7.5</text>
<path stroke="#8d7f7d" stroke-width="0.8" fill="none" d="M32.6 327.6v1.6M63.5 327.6v1.6M94.4 327.6v1.6M125.3 327.6v1.6M156.3 327.6v1.6M187.2 327.6v1.6M218.2 327.6v1.6M22.5 321.2h-1.6M22.5 285.8h-1.6M22.5 250.4h-1.6M22.5 215h-1.6M249 321.2h1.6M249 283.9h1.6M249 246.7h1.6M249 209.8h1.6"/>
<text x="8" y="254.1" font-size="6.5" text-anchor="middle" fill="#d8d0cf" transform="rotate(-90 8 254.1)">HMM score</text>
<text x="267.9" y="259.5" font-size="5.3" text-anchor="middle" fill="#c8c0bf" transform="rotate(-90 267.9 259.5)">Phylogenetic distance</text>
<polyline fill="none" stroke="#00f2ee" stroke-width="2.8" stroke-linecap="round" stroke-linejoin="round" points="32.7,187.2 34.5,188 38.5,190.2 45,191.5 57,193 75,193.4 83,194.6 100,195.5 120,196.5 150,197.5 175,197.8 188,198.5 195,200 200,201.7 206,204 210,206.5 212.5,209 213.5,211"/>
<polyline fill="none" stroke="#00f2ee" stroke-width="2.8" stroke-linecap="round" stroke-linejoin="round" points="213,214.5 214,217 215.3,219.5"/>
<polyline fill="none" stroke="#00f2ee" stroke-width="2.8" stroke-linecap="round" stroke-linejoin="round" points="215,240 217,241 219.5,241.3 221,243 228,243.8 234,244.3 236,245.5 237.6,246.3"/>
<circle cx="237.6" cy="255" r="1.3" fill="#00f2ee"/>
<circle cx="237.7" cy="261" r="1.3" fill="#00f2ee"/>
<circle cx="237.6" cy="274" r="1.3" fill="#00f2ee"/>
<circle cx="238" cy="296" r="1.3" fill="#00f2ee"/>
<circle cx="238.2" cy="308" r="1.3" fill="#00f2ee"/>
<circle cx="238.4" cy="310.5" r="1.3" fill="#00f2ee"/>
<polyline fill="none" stroke="#7d2dff" stroke-width="2.4" points="77,304.9 186,305.7"/>
<polyline fill="none" stroke="#7d2dff" stroke-width="2.3" points="65.5,299.1 77.5,299.1"/>
<polyline fill="none" stroke="#7d2dff" stroke-width="2.3" points="56,290.9 66.5,290.9"/>
<polyline fill="none" stroke="#e03fcb" stroke-width="2.5" points="215.5,274.6 237,274.6"/>
<path fill="#7d2dff" d="M180.7 303.5l1.5 2.9h-3zM125.9 304.1l1.5 2.9h-3zM142.7 303.7l1.5 2.9h-3zM112.4 304.2l1.5 2.9h-3zM181.9 304.3l1.5 2.9h-3zM106.7 303l1.5 2.9h-3zM178.5 304.4l1.5 2.9h-3zM113.8 303.2l1.5 2.9h-3zM160.5 304.1l1.5 2.9h-3zM147.3 304.5l1.5 2.9h-3zM161.7 305l1.5 2.9h-3zM98.8 303.5l1.5 2.9h-3zM185.9 304.5l1.5 2.9h-3zM130.9 303.9l1.5 2.9h-3zM84.6 303.8l1.5 2.9h-3zM151.2 302.8l1.5 2.9h-3zM84.9 303.3l1.5 2.9h-3zM147.4 304.1l1.5 2.9h-3zM155 304.2l1.5 2.9h-3zM98.7 303.2l1.5 2.9h-3zM89.1 303.9l1.5 2.9h-3zM91.2 304l1.5 2.9h-3zM148.4 304l1.5 2.9h-3zM158.3 303.9l1.5 2.9h-3zM177.2 304l1.5 2.9h-3zM112 303.7l1.5 2.9h-3zM87.1 304l1.5 2.9h-3zM145.4 304.6l1.5 2.9h-3zM168.1 303.9l1.5 2.9h-3zM156 303.6l1.5 2.9h-3zM130.1 303.4l1.5 2.9h-3zM105.8 304.1l1.5 2.9h-3zM156.3 304.1l1.5 2.9h-3zM170.3 304.2l1.5 2.9h-3zM100.4 303.8l1.5 2.9h-3zM154.3 304.2l1.5 2.9h-3zM160.9 304l1.5 2.9h-3zM185.6 303.7l1.5 2.9h-3zM117.5 303.4l1.5 2.9h-3zM119.5 303.8l1.5 2.9h-3zM81.3 303.6l1.5 2.9h-3zM93.9 303.4l1.5 2.9h-3zM158 303.8l1.5 2.9h-3zM106.3 304.3l1.5 2.9h-3zM176.3 303.9l1.5 2.9h-3zM111.3 303.8l1.5 2.9h-3zM163.7 303.9l1.5 2.9h-3zM115.9 303.3l1.5 2.9h-3zM159.3 303.3l1.5 2.9h-3zM124.4 303.5l1.5 2.9h-3zM99.5 303.2l1.5 2.9h-3zM98.9 304l1.5 2.9h-3zM107.8 303.1l1.5 2.9h-3zM89.4 303.3l1.5 2.9h-3zM171.4 304.4l1.5 2.9h-3zM177.4 304.1l1.5 2.9h-3zM163.7 304.3l1.5 2.9h-3zM76.9 303.8l1.5 2.9h-3zM173.1 303.4l1.5 2.9h-3zM163.5 303.9l1.5 2.9h-3zM168.7 303.6l1.5 2.9h-3zM145.6 304.5l1.5 2.9h-3zM99.2 303.5l1.5 2.9h-3zM109 303.9l1.5 2.9h-3zM119 304.5l1.5 2.9h-3zM96.6 303.4l1.5 2.9h-3zM79.5 303.5l1.5 2.9h-3zM180.9 304.4l1.5 2.9h-3zM119.1 303.6l1.5 2.9h-3zM143.1 304.5l1.5 2.9h-3zM88.2 303.9l1.5 2.9h-3zM170.4 304.6l1.5 2.9h-3zM158.8 304l1.5 2.9h-3zM80.8 303.3l1.5 2.9h-3zM98.4 303.4l1.5 2.9h-3zM158 303.8l1.5 2.9h-3zM82.6 302.7l1.5 2.9h-3zM79 303.6l1.5 2.9h-3zM89.4 303.9l1.5 2.9h-3zM92 303.5l1.5 2.9h-3zM161.2 303.8l1.5 2.9h-3zM162.1 304.1l1.5 2.9h-3zM139.1 304l1.5 2.9h-3zM109.9 303.8l1.5 2.9h-3zM162.3 304.9l1.5 2.9h-3zM145.9 303.5l1.5 2.9h-3zM83.1 303.6l1.5 2.9h-3zM97.1 303.9l1.5 2.9h-3zM152.6 304l1.5 2.9h-3zM138.5 303.8l1.5 2.9h-3zM119.6 303.3l1.5 2.9h-3zM134.5 303.6l1.5 2.9h-3zM103 303.9l1.5 2.9h-3zM140.6 304.5l1.5 2.9h-3zM91.5 303.2l1.5 2.9h-3zM184.6 304.4l1.5 2.9h-3zM166.7 304.3l1.5 2.9h-3zM130.9 304.3l1.5 2.9h-3zM183.6 304.3l1.5 2.9h-3zM150.7 304.2l1.5 2.9h-3zM139.8 304.3l1.5 2.9h-3zM147.3 303.4l1.5 2.9h-3zM153.3 304l1.5 2.9h-3zM184.9 303.4l1.5 2.9h-3zM162.3 303.1l1.5 2.9h-3zM102.4 303.2l1.5 2.9h-3zM82.9 302.8l1.5 2.9h-3zM177.3 304.4l1.5 2.9h-3zM157.3 304.5l1.5 2.9h-3zM140.3 303.7l1.5 2.9h-3zM130 303.7l1.5 2.9h-3zM180.5 304.1l1.5 2.9h-3zM81 303.3l1.5 2.9h-3zM93.4 303.6l1.5 2.9h-3zM111.2 303.8l1.5 2.9h-3zM185.7 304l1.5 2.9h-3zM152.6 303.6l1.5 2.9h-3zM142.2 303.7l1.5 2.9h-3zM114 304l1.5 2.9h-3zM93.7 303.3l1.5 2.9h-3zM78.2 304.1l1.5 2.9h-3zM92 303.4l1.5 2.9h-3zM95.5 304.2l1.5 2.9h-3zM132.4 303.3l1.5 2.9h-3zM116.5 303.4l1.5 2.9h-3zM183.6 304.4l1.5 2.9h-3zM177.4 304.4l1.5 2.9h-3zM137.3 303.8l1.5 2.9h-3zM94.6 304.5l1.5 2.9h-3zM111.2 303.7l1.5 2.9h-3zM79.3 303.6l1.5 2.9h-3zM148.9 303.7l1.5 2.9h-3zM118.6 304.5l1.5 2.9h-3zM178 304.5l1.5 2.9h-3zM111.1 303.8l1.5 2.9h-3zM169.7 303.3l1.5 2.9h-3zM119.6 303.9l1.5 2.9h-3zM148 303.7l1.5 2.9h-3zM115.3 303.9l1.5 2.9h-3zM165.1 304.5l1.5 2.9h-3zM101 303.2l1.5 2.9h-3zM93.9 303.6l1.5 2.9h-3zM82.1 303.8l1.5 2.9h-3zM118.2 303.8l1.5 2.9h-3zM156.8 303.8l1.5 2.9h-3zM127.1 303.3l1.5 2.9h-3zM168.8 303.8l1.5 2.9h-3zM140.7 303.3l1.5 2.9h-3zM134.9 304.3l1.5 2.9h-3zM131.1 303.9l1.5 2.9h-3zM80.8 302.9l1.5 2.9h-3zM141.1 303.9l1.5 2.9h-3zM97.3 303l1.5 2.9h-3zM85.5 302l1.5 2.9h-3zM87.6 304l1.5 2.9h-3zM94.5 304.1l1.5 2.9h-3zM144.4 303.2l1.5 2.9h-3zM107.8 303.3l1.5 2.9h-3zM108.7 303.7l1.5 2.9h-3zM121.7 303.6l1.5 2.9h-3zM181.2 303.8l1.5 2.9h-3zM104.7 303.4l1.5 2.9h-3zM109.4 303.5l1.5 2.9h-3zM103.9 303.4l1.5 2.9h-3zM110.9 303.8l1.5 2.9h-3zM109 303.5l1.5 2.9h-3zM167.4 303.7l1.5 2.9h-3zM183.7 304.2l1.5 2.9h-3zM119.5 303l1.5 2.9h-3zM171.5 304.8l1.5 2.9h-3zM88 302.7l1.5 2.9h-3zM129.2 303.8l1.5 2.9h-3zM166.5 304.2l1.5 2.9h-3zM86.3 303.7l1.5 2.9h-3zM185.8 304.3l1.5 2.9h-3zM120.2 304.3l1.5 2.9h-3zM131.1 303.3l1.5 2.9h-3zM180.1 304.1l1.5 2.9h-3zM177.2 304.2l1.5 2.9h-3zM99.3 303.3l1.5 2.9h-3zM126.4 303.5l1.5 2.9h-3zM157 304.6l1.5 2.9h-3zM126.8 303.5l1.5 2.9h-3zM179.4 303.9l1.5 2.9h-3zM98.3 303.4l1.5 2.9h-3zM183.3 304.1l1.5 2.9h-3zM144.5 304l1.5 2.9h-3zM143.7 303.8l1.5 2.9h-3zM151.3 304.1l1.5 2.9h-3zM105.4 303.7l1.5 2.9h-3zM125.1 304l1.5 2.9h-3zM100.4 304.2l1.5 2.9h-3zM164.7 303.7l1.5 2.9h-3zM112.7 304.4l1.5 2.9h-3zM92.1 303.3l1.5 2.9h-3zM173.9 304.4l1.5 2.9h-3zM114.1 303.8l1.5 2.9h-3zM180.5 304l1.5 2.9h-3zM125.2 302.9l1.5 2.9h-3zM147.7 304.6l1.5 2.9h-3zM162.5 303.7l1.5 2.9h-3zM132.9 303.5l1.5 2.9h-3zM179.9 304.6l1.5 2.9h-3zM165.1 304.1l1.5 2.9h-3zM174.1 305l1.5 2.9h-3zM134.7 304.6l1.5 2.9h-3zM90.6 303.8l1.5 2.9h-3zM95.3 303.7l1.5 2.9h-3zM92.4 303.9l1.5 2.9h-3zM135 303.2l1.5 2.9h-3zM180.6 304.2l1.5 2.9h-3zM137 303.9l1.5 2.9h-3zM123.5 303.5l1.5 2.9h-3zM88.7 303.6l1.5 2.9h-3zM117.5 303l1.5 2.9h-3zM96.6 304l1.5 2.9h-3zM126.4 304.3l1.5 2.9h-3zM126.7 303.2l1.5 2.9h-3zM178.8 304.2l1.5 2.9h-3zM119.8 304.4l1.5 2.9h-3zM173.2 304.3l1.5 2.9h-3zM81 303l1.5 2.9h-3zM114.3 303.2l1.5 2.9h-3zM155.5 304.4l1.5 2.9h-3zM125.4 304.6l1.5 2.9h-3zM85.1 303l1.5 2.9h-3zM115.5 303.7l1.5 2.9h-3zM137.1 303.5l1.5 2.9h-3zM181.2 304l1.5 2.9h-3zM102.4 303.7l1.5 2.9h-3zM86.2 303.5l1.5 2.9h-3zM159.4 303.7l1.5 2.9h-3zM143.9 304.8l1.5 2.9h-3zM114.7 303.6l1.5 2.9h-3zM119.3 303.6l1.5 2.9h-3zM112.3 304.2l1.5 2.9h-3zM149.1 303.9l1.5 2.9h-3zM171.3 304l1.5 2.9h-3zM109.3 304.1l1.5 2.9h-3zM176.1 303.7l1.5 2.9h-3zM122.3 304.1l1.5 2.9h-3zM130.3 304.3l1.5 2.9h-3zM104.5 303.9l1.5 2.9h-3zM85.9 303.4l1.5 2.9h-3zM98.5 303.6l1.5 2.9h-3zM103.9 302.8l1.5 2.9h-3zM124.4 303.7l1.5 2.9h-3zM130.5 303.9l1.5 2.9h-3zM169 304.5l1.5 2.9h-3zM115.8 303.8l1.5 2.9h-3zM160.3 303.8l1.5 2.9h-3zM104.2 303.2l1.5 2.9h-3zM128.8 303.8l1.5 2.9h-3zM84.8 303.5l1.5 2.9h-3zM174.2 304.7l1.5 2.9h-3zM115 303.7l1.5 2.9h-3zM146.6 303.7l1.5 2.9h-3zM138 303.8l1.5 2.9h-3zM129.9 303.6l1.5 2.9h-3zM102.6 303.5l1.5 2.9h-3zM166.7 303.1l1.5 2.9h-3zM128.2 303.1l1.5 2.9h-3zM90.8 303l1.5 2.9h-3zM87.3 303.7l1.5 2.9h-3zM131.6 303.8l1.5 2.9h-3zM138.3 303.9l1.5 2.9h-3zM106.7 304.1l1.5 2.9h-3zM102.1 303.1l1.5 2.9h-3zM167.4 304.6l1.5 2.9h-3zM151.4 304.1l1.5 2.9h-3zM92.1 303.2l1.5 2.9h-3zM165 304.7l1.5 2.9h-3zM82.7 302.8l1.5 2.9h-3zM168.8 303.6l1.5 2.9h-3zM168.1 304l1.5 2.9h-3zM90 303.7l1.5 2.9h-3zM185 304.1l1.5 2.9h-3zM175.1 303.2l1.5 2.9h-3zM96 303.4l1.5 2.9h-3zM148 303.9l1.5 2.9h-3zM127.3 304.9l1.5 2.9h-3zM92.3 304.1l1.5 2.9h-3zM99 303.6l1.5 2.9h-3zM99 303.1l1.5 2.9h-3zM150 304.1l1.5 2.9h-3zM139.1 303.3l1.5 2.9h-3zM182.8 304.3l1.5 2.9h-3zM110 303.8l1.5 2.9h-3zM129.1 303.6l1.5 2.9h-3zM117.2 303.8l1.5 2.9h-3zM118.3 303.6l1.5 2.9h-3zM140.4 303.6l1.5 2.9h-3zM162.5 304.7l1.5 2.9h-3zM151.3 304.2l1.5 2.9h-3zM89 303.4l1.5 2.9h-3zM106.6 303.3l1.5 2.9h-3zM145.1 304l1.5 2.9h-3zM159.9 304.3l1.5 2.9h-3zM171.5 304.5l1.5 2.9h-3zM116 304.3l1.5 2.9h-3zM75 297.2l1.5 2.9h-3zM77.5 297.2l1.5 2.9h-3zM76.3 296.6l1.5 2.9h-3zM68.1 297.1l1.5 2.9h-3zM70.5 297.1l1.5 2.9h-3zM76.2 298.4l1.5 2.9h-3zM75.9 298.1l1.5 2.9h-3zM65.8 297l1.5 2.9h-3zM68.6 298.5l1.5 2.9h-3zM72.7 297.9l1.5 2.9h-3zM67.5 297.5l1.5 2.9h-3zM65.3 298l1.5 2.9h-3zM67.9 297.8l1.5 2.9h-3zM72 297.3l1.5 2.9h-3zM74.3 296.8l1.5 2.9h-3zM74.6 297.2l1.5 2.9h-3zM72.4 297.6l1.5 2.9h-3zM72.8 297.4l1.5 2.9h-3zM71.8 297.3l1.5 2.9h-3zM75.3 298l1.5 2.9h-3zM73.5 297.1l1.5 2.9h-3zM73.9 298l1.5 2.9h-3zM76.7 297.4l1.5 2.9h-3zM66.5 297.6l1.5 2.9h-3zM65.5 297.1l1.5 2.9h-3zM71.9 297.6l1.5 2.9h-3zM70.8 297.2l1.5 2.9h-3zM76.8 296.8l1.5 2.9h-3zM69 297.6l1.5 2.9h-3zM73.8 297.6l1.5 2.9h-3zM74 298l1.5 2.9h-3zM68.1 297.7l1.5 2.9h-3zM65.1 297.1l1.5 2.9h-3zM70.4 297.3l1.5 2.9h-3zM67.6 296.5l1.5 2.9h-3zM67.5 297.1l1.5 2.9h-3zM71 298.2l1.5 2.9h-3zM67.3 298.3l1.5 2.9h-3zM72.3 297.9l1.5 2.9h-3zM73 297.7l1.5 2.9h-3zM58.3 289.1l1.5 2.9h-3zM57.2 290.1l1.5 2.9h-3zM66.1 289.5l1.5 2.9h-3zM63.9 288.5l1.5 2.9h-3zM59.1 289.3l1.5 2.9h-3zM57.7 289l1.5 2.9h-3zM65.3 288.9l1.5 2.9h-3zM57.2 289.1l1.5 2.9h-3zM61.5 289.2l1.5 2.9h-3zM63.2 289.4l1.5 2.9h-3zM66.3 289l1.5 2.9h-3zM63.4 288.6l1.5 2.9h-3zM56.7 289.2l1.5 2.9h-3zM61.5 289.8l1.5 2.9h-3zM66 288.8l1.5 2.9h-3zM58.6 289.7l1.5 2.9h-3zM56.5 289.6l1.5 2.9h-3zM56.2 289.2l1.5 2.9h-3zM65.1 289.5l1.5 2.9h-3zM66.2 289.1l1.5 2.9h-3zM60.8 289.2l1.5 2.9h-3zM59 288.9l1.5 2.9h-3zM60.1 289.6l1.5 2.9h-3zM57.5 290l1.5 2.9h-3zM60.5 289.1l1.5 2.9h-3zM60.9 289.9l1.5 2.9h-3zM61.6 288.4l1.5 2.9h-3zM56.7 289l1.5 2.9h-3zM66.7 288.9l1.5 2.9h-3zM62.7 290.2l1.5 2.9h-3zM62.1 289.1l1.5 2.9h-3zM65 289.7l1.5 2.9h-3zM56.1 288.5l1.5 2.9h-3zM62.2 289.4l1.5 2.9h-3zM59.7 289.6l1.5 2.9h-3zM62.9 289.4l1.5 2.9h-3zM54.9 293.3l1.5 2.9h-3zM45.5 291.7l1.5 2.9h-3zM52.2 291.9l1.5 2.9h-3zM48.5 290.5l1.5 2.9h-3zM51.8 294l1.5 2.9h-3zM52.6 289.1l1.5 2.9h-3zM49.4 293.7l1.5 2.9h-3zM44.6 289.4l1.5 2.9h-3zM48.5 290.1l1.5 2.9h-3zM51.6 292.3l1.5 2.9h-3zM52.1 288.9l1.5 2.9h-3zM49.1 289.1l1.5 2.9h-3zM46.3 293.9l1.5 2.9h-3zM40.3 290l1.5 2.9h-3zM40.9 291.1l1.5 2.9h-3zM49.3 294.1l1.5 2.9h-3zM45.3 288.4l1.5 2.9h-3zM49.8 289l1.5 2.9h-3zM47.3 293.2l1.5 2.9h-3zM45.4 291.6l1.5 2.9h-3zM42.3 291.3l1.5 2.9h-3zM52.6 289.5l1.5 2.9h-3zM43.3 289.9l1.5 2.9h-3zM49.1 290.5l1.5 2.9h-3zM40.6 292.6l1.5 2.9h-3zM54.4 291.4l1.5 2.9h-3zM41.4 290.4l1.5 2.9h-3zM47.1 293.4l1.5 2.9h-3zM52 288.8l1.5 2.9h-3zM42.7 291.8l1.5 2.9h-3zM49.3 289.6l1.5 2.9h-3zM45.5 290.6l1.5 2.9h-3zM54.4 290.5l1.5 2.9h-3zM41.1 289.2l1.5 2.9h-3zM42.1 290.2l1.5 2.9h-3zM47.7 291.9l1.5 2.9h-3zM49.9 290.4l1.5 2.9h-3zM48.2 289.3l1.5 2.9h-3zM41.9 289.4l1.5 2.9h-3zM46.8 293.2l1.5 2.9h-3zM40 291.9l1.5 2.9h-3zM49.8 294l1.5 2.9h-3zM44.3 292l1.5 2.9h-3zM54.4 289.3l1.5 2.9h-3zM45.4 291.8l1.5 2.9h-3zM38.3 303.6l1.5 2.9h-3zM33.6 304.1l1.5 2.9h-3zM33.3 302l1.5 2.9h-3zM41.1 300.8l1.5 2.9h-3zM38 302.3l1.5 2.9h-3zM42.4 302.7l1.5 2.9h-3zM43.1 303.2l1.5 2.9h-3zM37.3 302.4l1.5 2.9h-3zM38.5 302.8l1.5 2.9h-3zM42.2 303l1.5 2.9h-3zM34.6 301.5l1.5 2.9h-3zM42.7 304.5l1.5 2.9h-3zM37.4 301.9l1.5 2.9h-3zM36 303.1l1.5 2.9h-3zM38.6 303.9l1.5 2.9h-3zM40.8 302.2l1.5 2.9h-3zM43.1 302.9l1.5 2.9h-3zM42.9 304.4l1.5 2.9h-3zM33.4 302.6l1.5 2.9h-3zM35 303.8l1.5 2.9h-3zM37.1 303.2l1.5 2.9h-3zM33.7 303.1l1.5 2.9h-3zM38.4 303.5l1.5 2.9h-3zM38.4 302.7l1.5 2.9h-3zM39.3 302.7l1.5 2.9h-3zM37.2 303.8l1.5 2.9h-3zM35.9 303.1l1.5 2.9h-3zM40.1 303.3l1.5 2.9h-3zM33.7 301.8l1.5 2.9h-3zM33.5 302.9l1.5 2.9h-3zM41.9 304l1.5 2.9h-3zM35.3 303.7l1.5 2.9h-3zM49.8 297.6l1.5 2.9h-3zM49.1 298.5l1.5 2.9h-3zM55.1 301.4l1.5 2.9h-3zM56.5 306.4l1.5 2.9h-3zM52.9 300.8l1.5 2.9h-3zM49.5 298.7l1.5 2.9h-3zM49.4 305.7l1.5 2.9h-3zM53.9 302.8l1.5 2.9h-3zM54.2 300.9l1.5 2.9h-3zM55.2 299l1.5 2.9h-3zM48.4 304l1.5 2.9h-3zM49 302.2l1.5 2.9h-3zM50.4 299l1.5 2.9h-3zM51.3 301.4l1.5 2.9h-3zM55.1 303.6l1.5 2.9h-3zM47.9 298.6l1.5 2.9h-3zM50 305.1l1.5 2.9h-3zM48.2 305.3l1.5 2.9h-3zM55 298.4l1.5 2.9h-3zM54.1 300.1l1.5 2.9h-3zM46.5 309.7l1.5 2.9h-3zM45.1 310.1l1.5 2.9h-3zM45.1 309.6l1.5 2.9h-3zM44.5 310.2l1.5 2.9h-3zM42.6 310.5l1.5 2.9h-3zM44.4 311.4l1.5 2.9h-3zM43 311.4l1.5 2.9h-3zM45.5 310.9l1.5 2.9h-3zM44.7 311.1l1.5 2.9h-3zM46.2 310.6l1.5 2.9h-3zM33.9 314.5l1.5 2.9h-3zM35.2 314.6l1.5 2.9h-3zM36.5 313.7l1.5 2.9h-3zM36.3 315.1l1.5 2.9h-3zM33.7 314.5l1.5 2.9h-3zM37 315l1.5 2.9h-3zM33 319.4l1.5 2.9h-3zM36.5 316.4l1.5 2.9h-3zM35 285.9l1.5 2.9h-3zM37 285.4l1.5 2.9h-3zM45 283.9l1.5 2.9h-3zM46.5 284.4l1.5 2.9h-3zM54 282.4l1.5 2.9h-3zM60 282.9l1.5 2.9h-3zM65 286.4l1.5 2.9h-3zM54 284.9l1.5 2.9h-3zM69 288.4l1.5 2.9h-3zM110 287.2l1.5 2.9h-3zM71 286l1.5 2.9h-3zM120.7 296.4l1.5 2.9h-3zM71.2 297.2l1.5 2.9h-3zM115.4 298.1l1.5 2.9h-3zM87.9 298.3l1.5 2.9h-3zM76.5 301.1l1.5 2.9h-3zM75.9 287.4l1.5 2.9h-3zM133.1 292.8l1.5 2.9h-3zM81.3 289.1l1.5 2.9h-3zM98.4 292.1l1.5 2.9h-3zM76.8 295.2l1.5 2.9h-3zM99.8 288.2l1.5 2.9h-3zM122.6 290.4l1.5 2.9h-3zM83.2 299.6l1.5 2.9h-3zM115.3 288.1l1.5 2.9h-3zM90.5 293.5l1.5 2.9h-3zM74.6 300.7l1.5 2.9h-3zM122.1 292.6l1.5 2.9h-3zM89.7 287.5l1.5 2.9h-3zM110.1 293.7l1.5 2.9h-3zM131.7 285.7l1.5 2.9h-3zM115.9 298.2l1.5 2.9h-3zM88.8 294l1.5 2.9h-3zM108.4 301.1l1.5 2.9h-3zM117.7 289.3l1.5 2.9h-3zM80.9 289.3l1.5 2.9h-3zM131.9 299.6l1.5 2.9h-3zM81.7 294l1.5 2.9h-3zM68.6 287.7l1.5 2.9h-3zM102.7 297.5l1.5 2.9h-3zM98.7 293.8l1.5 2.9h-3zM76.7 291.1l1.5 2.9h-3zM99.3 298.1l1.5 2.9h-3zM84.8 289.2l1.5 2.9h-3zM122.1 291.4l1.5 2.9h-3zM99.9 298l1.5 2.9h-3zM102.2 301.6l1.5 2.9h-3zM75.9 292l1.5 2.9h-3zM131.3 296l1.5 2.9h-3zM83.5 299.1l1.5 2.9h-3zM106.3 289.8l1.5 2.9h-3zM119.6 296.2l1.5 2.9h-3zM101.9 294.4l1.5 2.9h-3zM88.1 291.8l1.5 2.9h-3zM110.4 293.9l1.5 2.9h-3zM115.5 297.2l1.5 2.9h-3zM75.6 298.4l1.5 2.9h-3zM83.6 296.4l1.5 2.9h-3zM78.6 291.4l1.5 2.9h-3zM67.6 301.5l1.5 2.9h-3zM108.9 291.8l1.5 2.9h-3zM134.9 298.9l1.5 2.9h-3zM84.8 302.1l1.5 2.9h-3zM130.7 291.5l1.5 2.9h-3zM92.6 289.1l1.5 2.9h-3zM129 295.4l1.5 2.9h-3zM72.5 288.5l1.5 2.9h-3zM87.9 291.4l1.5 2.9h-3zM124.4 295.6l1.5 2.9h-3zM128.7 290.3l1.5 2.9h-3zM121.4 296l1.5 2.9h-3zM113.1 289l1.5 2.9h-3zM87.4 290.4l1.5 2.9h-3zM134 293.9l1.5 2.9h-3zM105.6 289.1l1.5 2.9h-3zM122.5 295.8l1.5 2.9h-3zM93.5 300.9l1.5 2.9h-3zM130.7 292l1.5 2.9h-3zM109 300.9l1.5 2.9h-3zM82 292.9l1.5 2.9h-3zM76.3 286.4l1.5 2.9h-3zM81.9 286.7l1.5 2.9h-3zM81.9 292.4l1.5 2.9h-3zM78.8 289.5l1.5 2.9h-3zM80.3 289.3l1.5 2.9h-3zM79.3 289.1l1.5 2.9h-3zM80.1 287.8l1.5 2.9h-3zM81.8 290.2l1.5 2.9h-3zM78.2 289.2l1.5 2.9h-3zM82.3 289.4l1.5 2.9h-3zM81.9 291.9l1.5 2.9h-3zM86.1 296.7l1.5 2.9h-3zM93.6 291l1.5 2.9h-3zM82.7 293.1l1.5 2.9h-3zM98.1 289.9l1.5 2.9h-3zM85.5 290.4l1.5 2.9h-3zM91.8 291l1.5 2.9h-3zM92.9 295l1.5 2.9h-3zM89.9 294.9l1.5 2.9h-3zM92.3 292.5l1.5 2.9h-3zM89.6 296.1l1.5 2.9h-3zM84.2 289.8l1.5 2.9h-3zM91 292.2l1.5 2.9h-3zM93.7 289.6l1.5 2.9h-3zM88.1 294.3l1.5 2.9h-3zM84.4 290.9l1.5 2.9h-3zM88 293.4l1.5 2.9h-3zM91 295.4l1.5 2.9h-3zM90.9 285.4l1.5 2.9h-3zM93.5 296.6l1.5 2.9h-3zM91.7 291.7l1.5 2.9h-3zM91.6 290l1.5 2.9h-3zM83.4 285.8l1.5 2.9h-3zM105.5 299.1l1.5 2.9h-3zM96.4 290.5l1.5 2.9h-3zM107.3 301.3l1.5 2.9h-3zM106.2 292.4l1.5 2.9h-3zM115.3 291.7l1.5 2.9h-3zM105.4 296.4l1.5 2.9h-3zM111.9 291.6l1.5 2.9h-3zM112.3 293.5l1.5 2.9h-3zM116.4 289.2l1.5 2.9h-3zM105.8 288.5l1.5 2.9h-3zM110.4 290.1l1.5 2.9h-3zM100 293.1l1.5 2.9h-3zM101.8 290.3l1.5 2.9h-3zM105.7 286.3l1.5 2.9h-3zM106.8 293.8l1.5 2.9h-3zM101.4 291.9l1.5 2.9h-3zM105.1 291.5l1.5 2.9h-3zM110.2 290.5l1.5 2.9h-3zM104.9 285.4l1.5 2.9h-3zM106.2 297.3l1.5 2.9h-3zM102.9 290.9l1.5 2.9h-3zM113.3 294l1.5 2.9h-3zM115.2 296.7l1.5 2.9h-3zM107.9 295.9l1.5 2.9h-3zM106.4 293l1.5 2.9h-3zM114.6 292.4l1.5 2.9h-3zM109.2 293.3l1.5 2.9h-3zM103.9 295.2l1.5 2.9h-3zM100.7 294.2l1.5 2.9h-3zM104.2 291l1.5 2.9h-3zM123.4 293.1l1.5 2.9h-3zM123.2 293.1l1.5 2.9h-3zM124.1 297.6l1.5 2.9h-3zM122.6 294.6l1.5 2.9h-3zM126.2 293.2l1.5 2.9h-3zM122.6 296.2l1.5 2.9h-3zM124.7 291.1l1.5 2.9h-3zM122.1 294.7l1.5 2.9h-3zM120.2 294.3l1.5 2.9h-3zM119.1 294.1l1.5 2.9h-3zM121.5 291.5l1.5 2.9h-3zM123.6 296.8l1.5 2.9h-3zM125.9 298.5l1.5 2.9h-3zM121.7 291.1l1.5 2.9h-3zM134.4 286.8l1.5 2.9h-3zM136 286.7l1.5 2.9h-3zM140.9 296.2l1.5 2.9h-3zM132.7 295.8l1.5 2.9h-3zM131.1 289.1l1.5 2.9h-3zM134 295l1.5 2.9h-3zM140.2 293.5l1.5 2.9h-3zM134.2 294.1l1.5 2.9h-3zM134.8 290.9l1.5 2.9h-3zM139.5 292l1.5 2.9h-3zM142.4 291.3l1.5 2.9h-3zM146.2 294.3l1.5 2.9h-3zM145.1 287.6l1.5 2.9h-3zM152.9 294.6l1.5 2.9h-3zM148.6 285.7l1.5 2.9h-3zM139.5 296.7l1.5 2.9h-3zM147.7 285.2l1.5 2.9h-3zM151.9 282.7l1.5 2.9h-3zM147.2 293.6l1.5 2.9h-3zM150.5 290.7l1.5 2.9h-3zM172.5 286.5l1.5 2.9h-3zM173.8 289.1l1.5 2.9h-3zM171.9 295.8l1.5 2.9h-3zM168.4 290.3l1.5 2.9h-3zM172.9 293.9l1.5 2.9h-3zM173.4 288.4l1.5 2.9h-3zM174 293.2l1.5 2.9h-3zM180.1 288.6l1.5 2.9h-3zM169 287.9l1.5 2.9h-3zM172.3 291.9l1.5 2.9h-3zM174.3 291.6l1.5 2.9h-3zM170.2 297.4l1.5 2.9h-3zM108 283.4l1.5 2.9h-3zM117.5 283.4l1.5 2.9h-3zM119 284.9l1.5 2.9h-3zM133 285.4l1.5 2.9h-3zM100 284.4l1.5 2.9h-3zM72 285.4l1.5 2.9h-3zM163.7 282.7l1.5 2.9h-3zM88.7 283.5l1.5 2.9h-3zM81.5 283.2l1.5 2.9h-3zM139 284.1l1.5 2.9h-3zM61.1 283.5l1.5 2.9h-3zM80.1 284l1.5 2.9h-3zM181 282.4l1.5 2.9h-3zM166.9 284.3l1.5 2.9h-3zM44.5 283l1.5 2.9h-3zM118.3 282.5l1.5 2.9h-3zM109.8 282.6l1.5 2.9h-3zM169.3 283.1l1.5 2.9h-3zM114.5 284.4l1.5 2.9h-3zM79.8 284.1l1.5 2.9h-3zM187.3 282.7l1.5 2.9h-3zM73.9 283.7l1.5 2.9h-3zM153.3 283.5l1.5 2.9h-3zM89.4 282.5l1.5 2.9h-3zM148.3 282.9l1.5 2.9h-3zM70.2 282.1l1.5 2.9h-3zM193.3 283l1.5 2.9h-3zM104.7 281.7l1.5 2.9h-3zM159.1 283l1.5 2.9h-3zM171.2 282.9l1.5 2.9h-3zM121.8 283l1.5 2.9h-3zM134.3 283l1.5 2.9h-3zM60.8 284.4l1.5 2.9h-3zM134.7 283.3l1.5 2.9h-3zM133.1 283.8l1.5 2.9h-3zM196.6 284.1l1.5 2.9h-3zM90.1 288.4l1.5 2.9h-3zM73.4 290.8l1.5 2.9h-3zM116.4 288.7l1.5 2.9h-3zM75.4 290.7l1.5 2.9h-3zM111.4 289.8l1.5 2.9h-3zM100.5 289.8l1.5 2.9h-3zM120.9 288.6l1.5 2.9h-3zM99.8 289.6l1.5 2.9h-3zM109.4 289.7l1.5 2.9h-3zM84.9 288.5l1.5 2.9h-3zM127 288.2l1.5 2.9h-3zM82.1 288.6l1.5 2.9h-3zM118.5 290.4l1.5 2.9h-3zM109.6 289.3l1.5 2.9h-3zM97.9 290l1.5 2.9h-3zM91.7 289.4l1.5 2.9h-3zM75 289.3l1.5 2.9h-3zM116 289.4l1.5 2.9h-3zM83.2 288.9l1.5 2.9h-3zM120.6 290.2l1.5 2.9h-3zM121.5 289.3l1.5 2.9h-3zM82.2 289.4l1.5 2.9h-3zM86.9 288.1l1.5 2.9h-3zM111.2 289.4l1.5 2.9h-3zM114.3 288.6l1.5 2.9h-3zM72.8 288.8l1.5 2.9h-3zM117.9 290l1.5 2.9h-3zM117.4 288.3l1.5 2.9h-3zM106.1 289l1.5 2.9h-3zM121.7 289.7l1.5 2.9h-3zM126.6 290.1l1.5 2.9h-3zM81.9 288.8l1.5 2.9h-3zM124.7 289.5l1.5 2.9h-3zM120 289.4l1.5 2.9h-3zM157 289.1l1.5 2.9h-3zM175.8 289.4l1.5 2.9h-3zM161 291.2l1.5 2.9h-3zM151.2 288.8l1.5 2.9h-3zM169 289.5l1.5 2.9h-3zM179.6 288.8l1.5 2.9h-3zM166.5 288.9l1.5 2.9h-3zM158.5 288.7l1.5 2.9h-3zM170.3 293.1l1.5 2.9h-3zM176 290.7l1.5 2.9h-3zM139.1 294.7l1.5 2.9h-3zM136.2 291.4l1.5 2.9h-3zM139.5 299.1l1.5 2.9h-3zM174.3 298.4l1.5 2.9h-3zM162.8 296.6l1.5 2.9h-3zM152.9 292.4l1.5 2.9h-3zM178.9 296.6l1.5 2.9h-3zM177.5 294.4l1.5 2.9h-3zM154.1 285l1.5 2.9h-3zM151.6 300.1l1.5 2.9h-3zM159 297.1l1.5 2.9h-3zM161.7 291.4l1.5 2.9h-3zM172.9 300l1.5 2.9h-3zM174.5 292.2l1.5 2.9h-3zM147.8 294.6l1.5 2.9h-3zM173.4 298.2l1.5 2.9h-3zM138.5 293.4l1.5 2.9h-3zM144.4 301.4l1.5 2.9h-3zM153.9 300.6l1.5 2.9h-3zM138.4 294.6l1.5 2.9h-3zM150.6 292.8l1.5 2.9h-3zM136.2 285.7l1.5 2.9h-3zM171.3 291.3l1.5 2.9h-3zM165.4 295.5l1.5 2.9h-3zM146.7 299.9l1.5 2.9h-3zM158.5 298.2l1.5 2.9h-3zM152.5 296l1.5 2.9h-3zM171.9 290.4l1.5 2.9h-3zM148.2 293.8l1.5 2.9h-3zM145.6 286.1l1.5 2.9h-3zM169.9 284.8l1.5 2.9h-3zM169 291.1l1.5 2.9h-3zM199 291.5l1.5 2.9h-3zM191.3 294.4l1.5 2.9h-3zM184.5 289.5l1.5 2.9h-3zM195.2 292.4l1.5 2.9h-3zM201.8 288.2l1.5 2.9h-3zM198.6 292.5l1.5 2.9h-3zM193.8 289.2l1.5 2.9h-3zM200 293.1l1.5 2.9h-3zM198.2 295.3l1.5 2.9h-3zM181 290.9l1.5 2.9h-3zM204.8 293.6l1.5 2.9h-3zM208.4 284.2l1.5 2.9h-3zM196.6 287.3l1.5 2.9h-3zM203.5 295.4l1.5 2.9h-3zM188.7 288.3l1.5 2.9h-3zM206.3 289.6l1.5 2.9h-3zM196.4 291.3l1.5 2.9h-3zM203.1 293.4l1.5 2.9h-3zM204.2 291.7l1.5 2.9h-3zM195.5 290.9l1.5 2.9h-3zM186.7 295.3l1.5 2.9h-3zM213.8 288.5l1.5 2.9h-3zM209.8 292.7l1.5 2.9h-3zM193.8 289.1l1.5 2.9h-3zM193.6 294.6l1.5 2.9h-3zM210.5 294.2l1.5 2.9h-3zM207.1 289.7l1.5 2.9h-3zM190 292.3l1.5 2.9h-3zM209.6 287.5l1.5 2.9h-3zM192.2 285l1.5 2.9h-3zM210.3 285.3l1.5 2.9h-3zM184 288.2l1.5 2.9h-3zM214.1 296.8l1.5 2.9h-3zM193.2 289.1l1.5 2.9h-3zM213.2 290.5l1.5 2.9h-3zM188.9 289.6l1.5 2.9h-3zM193.4 288.1l1.5 2.9h-3zM189.1 286l1.5 2.9h-3zM201.1 288.6l1.5 2.9h-3zM189.1 292.2l1.5 2.9h-3zM204.3 290.7l1.5 2.9h-3zM204.5 287.4l1.5 2.9h-3zM207.6 290.3l1.5 2.9h-3zM196.3 289.6l1.5 2.9h-3zM195.4 295.4l1.5 2.9h-3zM189 289.5l1.5 2.9h-3zM197.5 290.1l1.5 2.9h-3zM199 289.4l1.5 2.9h-3zM190 294.7l1.5 2.9h-3zM200.1 293.6l1.5 2.9h-3zM186.2 292.7l1.5 2.9h-3zM195.1 291l1.5 2.9h-3zM191.7 290.1l1.5 2.9h-3zM199.2 294.9l1.5 2.9h-3zM207.9 291.4l1.5 2.9h-3zM181.1 298.4l1.5 2.9h-3zM195.8 295.5l1.5 2.9h-3zM183.6 293l1.5 2.9h-3zM192.8 291.7l1.5 2.9h-3zM206.5 293.6l1.5 2.9h-3zM202.9 295.4l1.5 2.9h-3zM205.8 291.1l1.5 2.9h-3zM209.3 290.6l1.5 2.9h-3zM192.3 292.6l1.5 2.9h-3zM193.4 294l1.5 2.9h-3zM186.8 292.6l1.5 2.9h-3zM191.8 288.3l1.5 2.9h-3zM202.3 286.6l1.5 2.9h-3zM204.1 290.3l1.5 2.9h-3zM205.6 298.3l1.5 2.9h-3zM199.3 288.6l1.5 2.9h-3zM181.8 294.5l1.5 2.9h-3zM203.2 296.9l1.5 2.9h-3zM210.5 293.7l1.5 2.9h-3zM211.4 294.5l1.5 2.9h-3zM180.8 293.5l1.5 2.9h-3zM193.6 294.9l1.5 2.9h-3zM197.7 293.3l1.5 2.9h-3zM202.5 289l1.5 2.9h-3zM208.7 287.2l1.5 2.9h-3zM181 289.3l1.5 2.9h-3zM212.4 281l1.5 2.9h-3zM195.7 296.8l1.5 2.9h-3zM214.8 286.1l1.5 2.9h-3zM208.4 286.7l1.5 2.9h-3zM194.3 294l1.5 2.9h-3zM214.2 289.6l1.5 2.9h-3zM196.7 287.2l1.5 2.9h-3zM183.9 293.2l1.5 2.9h-3zM187.2 295.8l1.5 2.9h-3zM199.3 290.4l1.5 2.9h-3zM207.3 290.4l1.5 2.9h-3zM191.2 286.2l1.5 2.9h-3zM213.8 287.1l1.5 2.9h-3zM189.2 290.3l1.5 2.9h-3zM215.2 288.4l1.5 2.9h-3zM203.4 293.3l1.5 2.9h-3zM206.4 286l1.5 2.9h-3zM193.9 284.8l1.5 2.9h-3zM199.1 295.1l1.5 2.9h-3zM192.7 290.5l1.5 2.9h-3zM198.2 285.9l1.5 2.9h-3zM210.3 298.7l1.5 2.9h-3zM207.6 286.5l1.5 2.9h-3zM209.7 294.1l1.5 2.9h-3zM186 307.4l1.5 2.9h-3zM193 306.9l1.5 2.9h-3zM196 308.4l1.5 2.9h-3zM200 303.4l1.5 2.9h-3zM205 305.4l1.5 2.9h-3zM209 304.9l1.5 2.9h-3zM213.5 305.4l1.5 2.9h-3zM214 300.4l1.5 2.9h-3z"/>
<path fill="#e03fcb" d="M218.7 273l1.5 2.9h-3zM235.5 273.3l1.5 2.9h-3zM215.9 272.6l1.5 2.9h-3zM221 272.1l1.5 2.9h-3zM227.8 273l1.5 2.9h-3zM217.1 273l1.5 2.9h-3zM225.7 272.6l1.5 2.9h-3zM225.9 272.6l1.5 2.9h-3zM228.4 273.5l1.5 2.9h-3zM235.8 273l1.5 2.9h-3zM224.1 272.8l1.5 2.9h-3zM235.4 272.7l1.5 2.9h-3zM219.8 273.2l1.5 2.9h-3zM229.6 273.1l1.5 2.9h-3zM224.5 273l1.5 2.9h-3zM232.4 272.3l1.5 2.9h-3zM226.6 272.9l1.5 2.9h-3zM234.2 272.7l1.5 2.9h-3zM218.3 273.1l1.5 2.9h-3zM220.8 273.8l1.5 2.9h-3zM227.2 273.6l1.5 2.9h-3zM229.2 273.4l1.5 2.9h-3zM223.4 273.1l1.5 2.9h-3zM233 272.9l1.5 2.9h-3zM223.4 273.3l1.5 2.9h-3zM236 272.8l1.5 2.9h-3zM235.9 272.9l1.5 2.9h-3zM215.8 272.6l1.5 2.9h-3zM229.4 273l1.5 2.9h-3zM234.3 273l1.5 2.9h-3zM215.9 274.1l1.5 2.9h-3zM231.6 273.4l1.5 2.9h-3zM228 272.8l1.5 2.9h-3zM226.5 273.5l1.5 2.9h-3zM221 272.8l1.5 2.9h-3zM231.5 273.7l1.5 2.9h-3zM219.8 273.5l1.5 2.9h-3zM218.9 274.8l1.5 2.9h-3zM222.7 272.4l1.5 2.9h-3zM237.3 273l1.5 2.9h-3zM224 273l1.5 2.9h-3zM218 273.2l1.5 2.9h-3zM223.9 273.5l1.5 2.9h-3zM232.2 272.5l1.5 2.9h-3zM229 272.6l1.5 2.9h-3zM231.1 273.2l1.5 2.9h-3zM233.6 273.6l1.5 2.9h-3zM221.4 272.4l1.5 2.9h-3zM222.7 272.2l1.5 2.9h-3zM234.3 273.7l1.5 2.9h-3zM223.5 273.6l1.5 2.9h-3zM226.4 273.7l1.5 2.9h-3zM233.7 272.5l1.5 2.9h-3zM229.1 273l1.5 2.9h-3zM235.5 273.2l1.5 2.9h-3zM215.1 273.3l1.5 2.9h-3zM228.9 273l1.5 2.9h-3zM226.4 273l1.5 2.9h-3zM224.1 273.7l1.5 2.9h-3zM221.5 272.8l1.5 2.9h-3zM223.3 272.8l1.5 2.9h-3zM233.4 272.8l1.5 2.9h-3zM225.6 272.8l1.5 2.9h-3zM219.8 273.1l1.5 2.9h-3zM230.5 272.9l1.5 2.9h-3zM233.4 272.8l1.5 2.9h-3zM224 273.9l1.5 2.9h-3zM217.8 273.2l1.5 2.9h-3zM231.7 272.9l1.5 2.9h-3zM230.5 273.8l1.5 2.9h-3zM230.5 272.8l1.5 2.9h-3zM215.1 273.1l1.5 2.9h-3zM217.5 273l1.5 2.9h-3zM236.7 272.7l1.5 2.9h-3zM227.4 272.8l1.5 2.9h-3zM219.5 278.4l1.5 2.9h-3zM237 278.4l1.5 2.9h-3zM216 271.4l1.5 2.9h-3zM218 271l1.5 2.9h-3z"/>
<path fill="#9c0f22" d="M210 290.4l1.5 2.9h-3zM211 292.4l1.5 2.9h-3zM210.3 294.4l1.5 2.9h-3zM211 295.9l1.5 2.9h-3zM213 290.4l1.5 2.9h-3z"/>
<path fill="#2a62ff" d="M204.5 298.4l1.5 2.9h-3z"/>
<path fill="#b9f028" d="M123 305.9l1.5 2.9h-3zM189.5 302.4l1.5 2.9h-3zM193 302.9l1.5 2.9h-3zM203 303.4l1.5 2.9h-3z"/>
<path fill="#c9b5b2" d="M238 185.4l1.5 2.9h-3zM238.2 194.4l1.5 2.9h-3zM238 206.4l1.5 2.9h-3zM238 222.9l1.5 2.9h-3zM238.1 226.4l1.5 2.9h-3zM238 290.9l1.5 2.9h-3zM237.6 295.9l1.5 2.9h-3zM238 302.9l1.5 2.9h-3z"/>
<line x1="510.5" y1="180.6" x2="510.5" y2="327.5" stroke="#8d7f7d" stroke-width="1"/>
<rect x="374.6" y="180.6" width="193.9" height="146.9" fill="none" stroke="#8d7f7d" stroke-width="1"/>
<text x="383.6" y="334.4" font-size="5.3" text-anchor="middle" fill="#a39b9a">0</text>
<text x="427.6" y="334.4" font-size="5.3" text-anchor="middle" fill="#a39b9a">500</text>
<text x="471.6" y="334.4" font-size="5.3" text-anchor="middle" fill="#a39b9a">1000</text>
<text x="515.5" y="334.4" font-size="5.3" text-anchor="middle" fill="#a39b9a">1500</text>
<text x="559.4" y="334.4" font-size="5.3" text-anchor="middle" fill="#a39b9a">2000</text>
<text x="371.8" y="323.1" font-size="5.3" text-anchor="end" fill="#a39b9a">0</text>
<text x="371.8" y="285.3" font-size="5.3" text-anchor="end" fill="#a39b9a">500</text>
<text x="371.8" y="247.5" font-size="5.3" text-anchor="end" fill="#a39b9a">1000</text>
<text x="371.8" y="209.7" font-size="5.3" text-anchor="end" fill="#a39b9a">1500</text>
<text x="571.3" y="323.1" font-size="5.3" text-anchor="start" fill="#a39b9a">0</text>
<text x="571.3" y="273.9" font-size="5.3" text-anchor="start" fill="#a39b9a">2</text>
<text x="571.3" y="224.6" font-size="5.3" text-anchor="start" fill="#a39b9a">4</text>
<path stroke="#8d7f7d" stroke-width="0.8" fill="none" d="M383.6 327.5v1.6M427.6 327.5v1.6M471.6 327.5v1.6M515.5 327.5v1.6M559.4 327.5v1.6M374.6 321.2h-1.6M374.6 283.4h-1.6M374.6 245.6h-1.6M374.6 207.8h-1.6M568.5 321.2h1.6M568.5 272h1.6M568.5 222.7h1.6"/>
<text x="357.4" y="254.1" font-size="6.5" text-anchor="middle" fill="#d8d0cf" transform="rotate(-90 357.4 254.1)">HMM score</text>
<text x="582.7" y="254.5" font-size="5.3" text-anchor="middle" fill="#c8c0bf" transform="rotate(-90 582.7 254.5)">Phylogenetic distance</text>
<polyline fill="none" stroke="#00f2ee" stroke-width="3.2" stroke-linecap="round" stroke-linejoin="round" points="383.6,187.5 384,189.5"/>
<polyline fill="none" stroke="#00f2ee" stroke-width="2.8" stroke-linecap="round" stroke-linejoin="round" points="384.3,192 385,196 386,201 387.5,205 389.5,208 392,210 395,211 410,211.8 429,212.5 431,215 432.5,217.5 435,220 436,223.5 438,224.3 455,224.5 460,225.5 464,226.5 465,230 467.5,231 470,236 473,239 476,241 485,243 492,244.5 496,245.8 499,249 502,252 507,255.5 510.5,258.5 512,261"/>
<polyline fill="none" stroke="#00f2ee" stroke-width="2.8" stroke-linecap="round" stroke-linejoin="round" points="512,261 512.6,266 513,271"/>
<polyline fill="none" stroke="#00f2ee" stroke-width="2.8" stroke-linecap="round" stroke-linejoin="round" points="513.5,275 513.8,279 514.2,283"/>
<polyline fill="none" stroke="#00f2ee" stroke-width="2.8" stroke-linecap="round" stroke-linejoin="round" points="514.7,287 515.3,292 516,297 516.8,301"/>
<polyline fill="none" stroke="#00f2ee" stroke-width="2.8" stroke-linecap="round" stroke-linejoin="round" points="516.8,303.5 518,305.6 520,306.2 540,306.4 560,306.5"/>
<polyline fill="none" stroke="#7d2dff" stroke-width="3.2" points="393,302.9 433,302.4"/>
<polyline fill="none" stroke="#7d2dff" stroke-width="2.3" points="437.5,296.5 465.5,296.5"/>
<path fill="#7d2dff" d="M388.3 305.1l1.5 2.9h-3zM392.8 301.1l1.5 2.9h-3zM390 303.6l1.5 2.9h-3zM390.8 302.3l1.5 2.9h-3zM383.8 316.3l1.5 2.9h-3zM387.3 307l1.5 2.9h-3zM390.6 301.8l1.5 2.9h-3zM385.1 310l1.5 2.9h-3zM390.9 301.6l1.5 2.9h-3zM392.3 301.8l1.5 2.9h-3zM390.7 302.9l1.5 2.9h-3zM390.4 303.4l1.5 2.9h-3zM386.1 307.6l1.5 2.9h-3zM384.6 310.9l1.5 2.9h-3zM392.4 301.8l1.5 2.9h-3zM387.5 306.2l1.5 2.9h-3zM392.1 302.6l1.5 2.9h-3zM389.8 305l1.5 2.9h-3zM392.3 302.1l1.5 2.9h-3zM383.7 316.1l1.5 2.9h-3zM391.1 301.9l1.5 2.9h-3zM390.5 302.8l1.5 2.9h-3zM388.8 304.9l1.5 2.9h-3zM385 309.4l1.5 2.9h-3zM385.4 309.3l1.5 2.9h-3zM392.3 302.2l1.5 2.9h-3zM387.2 305.3l1.5 2.9h-3zM390.6 303.1l1.5 2.9h-3zM392.8 300.9l1.5 2.9h-3zM385.7 308.1l1.5 2.9h-3zM384.1 314.2l1.5 2.9h-3zM383.8 316.4l1.5 2.9h-3zM387.6 304.5l1.5 2.9h-3zM391.3 302.6l1.5 2.9h-3zM391.1 300.7l1.5 2.9h-3zM389.1 303.6l1.5 2.9h-3zM383.5 317.8l1.5 2.9h-3zM385.8 309.1l1.5 2.9h-3zM384.9 311.2l1.5 2.9h-3zM385 310.1l1.5 2.9h-3zM384.8 310.8l1.5 2.9h-3zM383.8 316.3l1.5 2.9h-3zM388.3 304.1l1.5 2.9h-3zM386.7 308.3l1.5 2.9h-3zM386.8 304.4l1.5 2.9h-3zM398.1 302.4l1.5 2.9h-3zM412.6 301.2l1.5 2.9h-3zM420 301.1l1.5 2.9h-3zM405.4 302.7l1.5 2.9h-3zM425.7 302.1l1.5 2.9h-3zM429.3 300.1l1.5 2.9h-3zM401.7 301.5l1.5 2.9h-3zM408.4 299.4l1.5 2.9h-3zM426.4 301l1.5 2.9h-3zM413.1 301.5l1.5 2.9h-3zM422.9 299.2l1.5 2.9h-3zM405.5 302.9l1.5 2.9h-3zM425.7 303.1l1.5 2.9h-3zM426.4 301.5l1.5 2.9h-3zM424 302l1.5 2.9h-3zM428.2 302.5l1.5 2.9h-3zM408.6 301l1.5 2.9h-3zM413.7 302.2l1.5 2.9h-3zM425.3 301.4l1.5 2.9h-3zM421.9 299.4l1.5 2.9h-3zM414.5 300.2l1.5 2.9h-3zM394.4 300.8l1.5 2.9h-3zM401.7 302.4l1.5 2.9h-3zM411.2 301.3l1.5 2.9h-3zM423.1 302.1l1.5 2.9h-3zM429.2 300.4l1.5 2.9h-3zM432.5 299.5l1.5 2.9h-3zM408.4 303.4l1.5 2.9h-3zM431.6 303.8l1.5 2.9h-3zM408.3 301.6l1.5 2.9h-3zM400.3 301.1l1.5 2.9h-3zM430.1 302.2l1.5 2.9h-3zM397.2 300.2l1.5 2.9h-3zM412.1 300.9l1.5 2.9h-3zM424 299.5l1.5 2.9h-3zM418.1 301.6l1.5 2.9h-3zM427 301.2l1.5 2.9h-3zM414.2 300.7l1.5 2.9h-3zM410.8 300.5l1.5 2.9h-3zM406.5 299.6l1.5 2.9h-3zM417.9 300.2l1.5 2.9h-3zM415.6 302.4l1.5 2.9h-3zM413.3 300.8l1.5 2.9h-3zM420.2 302.4l1.5 2.9h-3zM413.2 300.2l1.5 2.9h-3zM420.8 301l1.5 2.9h-3zM413 300.7l1.5 2.9h-3zM424 300.7l1.5 2.9h-3zM401.1 302.1l1.5 2.9h-3zM407.4 299l1.5 2.9h-3zM405.2 302l1.5 2.9h-3zM428.1 301.7l1.5 2.9h-3zM416.2 301.1l1.5 2.9h-3zM430.7 301l1.5 2.9h-3zM415.3 300.9l1.5 2.9h-3zM430.4 301.7l1.5 2.9h-3zM422.6 301.1l1.5 2.9h-3zM428.8 300l1.5 2.9h-3zM404.9 301.4l1.5 2.9h-3zM432.8 301.9l1.5 2.9h-3zM405 301.6l1.5 2.9h-3zM423 301.1l1.5 2.9h-3zM417.8 301.3l1.5 2.9h-3zM407.2 300.7l1.5 2.9h-3zM397.2 300.9l1.5 2.9h-3zM394.8 299.4l1.5 2.9h-3zM393.4 301.2l1.5 2.9h-3zM415 302.2l1.5 2.9h-3zM415.4 300.7l1.5 2.9h-3zM397.3 300.4l1.5 2.9h-3zM394.5 302.3l1.5 2.9h-3zM393.8 301.6l1.5 2.9h-3zM416.2 301.3l1.5 2.9h-3zM423.2 301.5l1.5 2.9h-3zM428.9 301.7l1.5 2.9h-3zM411.8 301.1l1.5 2.9h-3zM422.7 300.1l1.5 2.9h-3zM402.5 303.1l1.5 2.9h-3zM395 301.4l1.5 2.9h-3zM416 300.3l1.5 2.9h-3zM406 301.4l1.5 2.9h-3zM409 302.5l1.5 2.9h-3zM397.6 299.8l1.5 2.9h-3zM420.7 302.4l1.5 2.9h-3zM428.3 300.8l1.5 2.9h-3zM422.7 303.1l1.5 2.9h-3zM398.4 302l1.5 2.9h-3zM403.9 301.1l1.5 2.9h-3zM400.8 302.6l1.5 2.9h-3zM432.6 302.2l1.5 2.9h-3zM408.6 300.8l1.5 2.9h-3zM398.9 301.6l1.5 2.9h-3zM425.6 300.4l1.5 2.9h-3zM401.5 302.3l1.5 2.9h-3zM396.1 299.9l1.5 2.9h-3zM407.9 301l1.5 2.9h-3zM394.5 299.1l1.5 2.9h-3zM411.3 301.8l1.5 2.9h-3zM410.4 298.8l1.5 2.9h-3zM405.5 300.1l1.5 2.9h-3zM415.3 301.4l1.5 2.9h-3zM424.5 300.6l1.5 2.9h-3zM406.7 300.8l1.5 2.9h-3zM403.9 300.2l1.5 2.9h-3zM418.5 300.6l1.5 2.9h-3zM409.8 299.3l1.5 2.9h-3zM403.4 301.6l1.5 2.9h-3zM430.8 301.8l1.5 2.9h-3zM401.4 302.1l1.5 2.9h-3zM409 301.2l1.5 2.9h-3zM404.7 302.5l1.5 2.9h-3zM425.4 301.5l1.5 2.9h-3zM419.6 302.1l1.5 2.9h-3zM429.4 301.4l1.5 2.9h-3zM403.8 301.3l1.5 2.9h-3zM426 300.2l1.5 2.9h-3zM419.7 298.3l1.5 2.9h-3zM397.5 302l1.5 2.9h-3zM403 301.2l1.5 2.9h-3zM426.6 303.1l1.5 2.9h-3zM410.4 299.1l1.5 2.9h-3zM399.5 302.2l1.5 2.9h-3zM398.2 300.3l1.5 2.9h-3zM404.7 301.2l1.5 2.9h-3zM418.9 300.1l1.5 2.9h-3zM398.4 301.7l1.5 2.9h-3zM399.3 301.3l1.5 2.9h-3zM427.2 301.9l1.5 2.9h-3zM403.5 301.4l1.5 2.9h-3zM420.3 301.6l1.5 2.9h-3zM426.3 302.3l1.5 2.9h-3zM422.9 301.6l1.5 2.9h-3zM418.1 300.9l1.5 2.9h-3zM411 302.5l1.5 2.9h-3zM421.2 300.9l1.5 2.9h-3zM407.6 301.6l1.5 2.9h-3zM423.5 300.7l1.5 2.9h-3zM420.9 300.4l1.5 2.9h-3zM397.6 298.2l1.5 2.9h-3zM393.3 302.1l1.5 2.9h-3zM419.6 299.9l1.5 2.9h-3zM412.1 301.9l1.5 2.9h-3zM417.3 303l1.5 2.9h-3zM419.6 299.7l1.5 2.9h-3zM411.7 302.1l1.5 2.9h-3zM398.3 301.2l1.5 2.9h-3zM416.2 301.6l1.5 2.9h-3zM404.6 300l1.5 2.9h-3zM413 301.2l1.5 2.9h-3zM394.1 301.5l1.5 2.9h-3zM431.4 302.4l1.5 2.9h-3zM400.3 303.6l1.5 2.9h-3zM432.7 301.2l1.5 2.9h-3zM424.7 300.6l1.5 2.9h-3zM408.4 303.5l1.5 2.9h-3zM415.6 301l1.5 2.9h-3zM401.8 301.2l1.5 2.9h-3zM393.5 301.5l1.5 2.9h-3zM412.8 301.6l1.5 2.9h-3zM395.8 302.1l1.5 2.9h-3zM400.1 300.7l1.5 2.9h-3zM395.6 301.3l1.5 2.9h-3zM415.1 303.1l1.5 2.9h-3zM419.7 302.7l1.5 2.9h-3zM431.4 301.4l1.5 2.9h-3zM402.7 301.6l1.5 2.9h-3zM426.5 300.7l1.5 2.9h-3zM416.5 302.2l1.5 2.9h-3zM393.5 300.9l1.5 2.9h-3zM407.6 301.4l1.5 2.9h-3zM432.2 300.4l1.5 2.9h-3zM422.3 300.4l1.5 2.9h-3zM419.8 301.1l1.5 2.9h-3zM421 301.1l1.5 2.9h-3zM431.3 300.3l1.5 2.9h-3zM414.5 301.1l1.5 2.9h-3zM398.4 301.4l1.5 2.9h-3zM395 300.9l1.5 2.9h-3zM415.7 300.4l1.5 2.9h-3zM400.1 301.2l1.5 2.9h-3zM430.4 301.7l1.5 2.9h-3zM432.1 302.1l1.5 2.9h-3zM415.6 301.3l1.5 2.9h-3zM417.4 300.8l1.5 2.9h-3zM398.2 301.3l1.5 2.9h-3zM425.4 303l1.5 2.9h-3zM410 302.2l1.5 2.9h-3zM423.2 300l1.5 2.9h-3zM410.1 301.1l1.5 2.9h-3zM425.1 300.5l1.5 2.9h-3zM397.9 301l1.5 2.9h-3zM432 299.2l1.5 2.9h-3zM420.4 301.1l1.5 2.9h-3zM406.8 299.8l1.5 2.9h-3zM409.4 300.6l1.5 2.9h-3zM401.6 302.9l1.5 2.9h-3zM413.4 302.2l1.5 2.9h-3zM428.8 300.1l1.5 2.9h-3zM412.1 300.1l1.5 2.9h-3zM406.3 300.3l1.5 2.9h-3zM411.5 299.2l1.5 2.9h-3zM409.7 300.2l1.5 2.9h-3zM409.9 300.9l1.5 2.9h-3zM413.7 300.1l1.5 2.9h-3zM421.8 301.8l1.5 2.9h-3zM421.7 301l1.5 2.9h-3zM394.1 300.8l1.5 2.9h-3zM430.6 302.8l1.5 2.9h-3zM407.1 302l1.5 2.9h-3zM410.6 301.3l1.5 2.9h-3zM413.7 303.1l1.5 2.9h-3zM429.3 302.3l1.5 2.9h-3zM394.6 300.7l1.5 2.9h-3zM426.7 301.3l1.5 2.9h-3zM420.1 300.6l1.5 2.9h-3zM414.4 299.6l1.5 2.9h-3zM409.1 303.2l1.5 2.9h-3zM414.4 302.7l1.5 2.9h-3zM421 299.7l1.5 2.9h-3zM411.1 301.7l1.5 2.9h-3zM430 299.2l1.5 2.9h-3zM415.7 302.3l1.5 2.9h-3zM411.3 301.1l1.5 2.9h-3zM429.3 300.7l1.5 2.9h-3zM394.1 302.7l1.5 2.9h-3zM429.1 301l1.5 2.9h-3zM412.5 300.9l1.5 2.9h-3zM398.6 302.3l1.5 2.9h-3zM420.8 300.7l1.5 2.9h-3zM403.1 302.2l1.5 2.9h-3zM412.2 301.2l1.5 2.9h-3zM414.5 302l1.5 2.9h-3zM431.8 301.6l1.5 2.9h-3zM420.3 301.9l1.5 2.9h-3zM411.1 300.1l1.5 2.9h-3zM419 303.1l1.5 2.9h-3zM419.2 300.9l1.5 2.9h-3zM399 303.2l1.5 2.9h-3zM408.3 300.6l1.5 2.9h-3zM400 301l1.5 2.9h-3zM397.7 301.1l1.5 2.9h-3zM406.3 302.5l1.5 2.9h-3zM394.5 300.9l1.5 2.9h-3zM400.5 301.8l1.5 2.9h-3zM400.4 299.7l1.5 2.9h-3zM414.7 300.6l1.5 2.9h-3zM410.1 301.4l1.5 2.9h-3zM397.4 301.2l1.5 2.9h-3zM432.8 298.9l1.5 2.9h-3zM423.1 301.6l1.5 2.9h-3zM420.4 300.1l1.5 2.9h-3zM418.8 303.1l1.5 2.9h-3zM422.2 300.8l1.5 2.9h-3zM400.8 303.7l1.5 2.9h-3zM422.2 301.7l1.5 2.9h-3zM407.7 301.7l1.5 2.9h-3zM401.1 300.8l1.5 2.9h-3zM404.7 301.1l1.5 2.9h-3zM426.2 301.5l1.5 2.9h-3zM409.5 299.1l1.5 2.9h-3zM428.1 302l1.5 2.9h-3zM432.8 299.7l1.5 2.9h-3zM430.6 300.7l1.5 2.9h-3zM412.3 298.3l1.5 2.9h-3zM415.6 301.6l1.5 2.9h-3zM417.2 301.9l1.5 2.9h-3zM396.7 301.7l1.5 2.9h-3zM423.3 301.4l1.5 2.9h-3zM425.2 300.6l1.5 2.9h-3zM401.1 301.5l1.5 2.9h-3zM406.6 302.5l1.5 2.9h-3zM418.4 300.6l1.5 2.9h-3zM431.2 301.5l1.5 2.9h-3zM407.4 302l1.5 2.9h-3zM428.2 300.7l1.5 2.9h-3zM395.8 301.6l1.5 2.9h-3zM415 301.4l1.5 2.9h-3zM405 300.7l1.5 2.9h-3zM427.5 303.6l1.5 2.9h-3zM400.5 300.9l1.5 2.9h-3zM407.5 297.2l1.5 2.9h-3zM406 297.6l1.5 2.9h-3zM409.2 298.9l1.5 2.9h-3zM424.2 297.1l1.5 2.9h-3zM394.2 297l1.5 2.9h-3zM426.6 297.9l1.5 2.9h-3zM420.6 298.6l1.5 2.9h-3zM404.2 297l1.5 2.9h-3zM433.7 297.8l1.5 2.9h-3zM413.7 297.1l1.5 2.9h-3zM410 298.7l1.5 2.9h-3zM411 298.3l1.5 2.9h-3zM401.5 298.1l1.5 2.9h-3zM410.9 297.9l1.5 2.9h-3zM388.8 297.8l1.5 2.9h-3zM414.9 298l1.5 2.9h-3zM436.8 294l1.5 2.9h-3zM433.3 299.1l1.5 2.9h-3zM433.8 299l1.5 2.9h-3zM435 296.3l1.5 2.9h-3zM436 294.9l1.5 2.9h-3zM436.8 295.9l1.5 2.9h-3zM436.9 294.3l1.5 2.9h-3zM436.7 293.5l1.5 2.9h-3zM436.1 295.2l1.5 2.9h-3zM434.8 297.3l1.5 2.9h-3zM434.1 298.8l1.5 2.9h-3zM436.5 294.5l1.5 2.9h-3zM436 295.9l1.5 2.9h-3zM435.8 295.2l1.5 2.9h-3zM436.1 296.4l1.5 2.9h-3zM436.7 295l1.5 2.9h-3zM435.2 296.5l1.5 2.9h-3zM434 296.4l1.5 2.9h-3zM433 298l1.5 2.9h-3zM434 297.1l1.5 2.9h-3zM440.2 295.3l1.5 2.9h-3zM464.9 295l1.5 2.9h-3zM451.5 294.6l1.5 2.9h-3zM456.5 294.4l1.5 2.9h-3zM459.2 294.8l1.5 2.9h-3zM444.3 295.6l1.5 2.9h-3zM437.8 294.4l1.5 2.9h-3zM454.8 295.2l1.5 2.9h-3zM463.4 295.2l1.5 2.9h-3zM462.8 294l1.5 2.9h-3zM462.4 295.5l1.5 2.9h-3zM442.9 295l1.5 2.9h-3zM462.6 296.1l1.5 2.9h-3zM439.2 295.8l1.5 2.9h-3zM445.3 294.9l1.5 2.9h-3zM460.9 294.9l1.5 2.9h-3zM439.7 294.5l1.5 2.9h-3zM459.6 294.3l1.5 2.9h-3zM460.1 295.4l1.5 2.9h-3zM463.3 294.9l1.5 2.9h-3zM461.8 294.8l1.5 2.9h-3zM457.8 294.9l1.5 2.9h-3zM441.9 295.3l1.5 2.9h-3zM440.4 295.5l1.5 2.9h-3zM439.3 295l1.5 2.9h-3zM446 294.9l1.5 2.9h-3zM446 295.1l1.5 2.9h-3zM465.7 296l1.5 2.9h-3zM461.8 294l1.5 2.9h-3zM439.7 294.4l1.5 2.9h-3zM450.7 295.2l1.5 2.9h-3zM460.2 295.1l1.5 2.9h-3zM448.4 295.6l1.5 2.9h-3zM452.1 295.6l1.5 2.9h-3zM462.4 296l1.5 2.9h-3zM463.6 294.6l1.5 2.9h-3zM442 295.3l1.5 2.9h-3zM460.8 294.9l1.5 2.9h-3zM450 295.5l1.5 2.9h-3zM437.7 295.1l1.5 2.9h-3zM445.8 295.4l1.5 2.9h-3zM462.8 294.6l1.5 2.9h-3zM442.3 295.1l1.5 2.9h-3zM441.8 294.8l1.5 2.9h-3zM464.7 294.9l1.5 2.9h-3zM449.6 294.8l1.5 2.9h-3zM463.5 294.5l1.5 2.9h-3zM445.1 295.5l1.5 2.9h-3zM438.8 295.1l1.5 2.9h-3zM463.6 295.5l1.5 2.9h-3zM446.3 294.5l1.5 2.9h-3zM464.3 294l1.5 2.9h-3zM456.5 294.7l1.5 2.9h-3zM461.2 294.9l1.5 2.9h-3zM446.3 295.4l1.5 2.9h-3zM457.7 295.5l1.5 2.9h-3zM460.7 295.6l1.5 2.9h-3zM456.7 295.8l1.5 2.9h-3zM463.8 295.4l1.5 2.9h-3zM463.3 295.1l1.5 2.9h-3zM453.4 294.6l1.5 2.9h-3zM464.3 295.3l1.5 2.9h-3zM457.7 294.8l1.5 2.9h-3zM463.4 294.6l1.5 2.9h-3zM441.1 295.3l1.5 2.9h-3zM445.7 295.1l1.5 2.9h-3zM441.4 295.4l1.5 2.9h-3zM437.7 294.7l1.5 2.9h-3zM456 295.6l1.5 2.9h-3zM465.2 295.2l1.5 2.9h-3zM455.2 294.9l1.5 2.9h-3zM465.2 294.6l1.5 2.9h-3zM460.8 294.5l1.5 2.9h-3zM454.9 294.3l1.5 2.9h-3zM448.6 295.7l1.5 2.9h-3zM442.7 294.3l1.5 2.9h-3zM464.8 295.3l1.5 2.9h-3zM464.3 294.9l1.5 2.9h-3zM463.1 294.7l1.5 2.9h-3zM446.7 294.8l1.5 2.9h-3zM458.7 295l1.5 2.9h-3zM452.5 295.4l1.5 2.9h-3zM460.9 295.3l1.5 2.9h-3zM453.4 295l1.5 2.9h-3zM437.3 294.3l1.5 2.9h-3zM445 294.1l1.5 2.9h-3zM444.8 295.9l1.5 2.9h-3zM446.5 294.5l1.5 2.9h-3zM447 294.2l1.5 2.9h-3zM437.5 295.6l1.5 2.9h-3zM451.8 294.3l1.5 2.9h-3zM464.3 295.4l1.5 2.9h-3zM454.9 295.5l1.5 2.9h-3zM443.2 295.1l1.5 2.9h-3zM465.2 295.5l1.5 2.9h-3zM462.4 294.3l1.5 2.9h-3zM462.6 294.4l1.5 2.9h-3zM440.4 294.9l1.5 2.9h-3zM457.4 295l1.5 2.9h-3zM446.5 295l1.5 2.9h-3zM460.1 295.2l1.5 2.9h-3zM447.9 294.6l1.5 2.9h-3zM444.1 294l1.5 2.9h-3zM465.1 295.2l1.5 2.9h-3zM461.8 294.9l1.5 2.9h-3zM455.8 295.4l1.5 2.9h-3zM450.9 296l1.5 2.9h-3zM453.4 295l1.5 2.9h-3zM456.1 295.3l1.5 2.9h-3zM449.4 294.6l1.5 2.9h-3zM448.8 295.4l1.5 2.9h-3zM444.7 295.2l1.5 2.9h-3zM455.1 295.1l1.5 2.9h-3zM445.3 295.5l1.5 2.9h-3zM449.1 294.4l1.5 2.9h-3zM445.4 295.3l1.5 2.9h-3zM463.5 295.2l1.5 2.9h-3zM452.1 295.8l1.5 2.9h-3zM441.4 294.1l1.5 2.9h-3zM440.5 295l1.5 2.9h-3zM459.4 296.1l1.5 2.9h-3zM464.2 294.8l1.5 2.9h-3zM443.5 294.8l1.5 2.9h-3zM453.5 295.9l1.5 2.9h-3zM451.1 296.2l1.5 2.9h-3zM449.7 295.1l1.5 2.9h-3zM457.3 294.7l1.5 2.9h-3zM460.3 294.7l1.5 2.9h-3zM460.8 294.8l1.5 2.9h-3zM443.4 294.6l1.5 2.9h-3zM454.5 294.6l1.5 2.9h-3zM441.5 295.1l1.5 2.9h-3zM442.4 295l1.5 2.9h-3zM447 295.2l1.5 2.9h-3zM453.6 295l1.5 2.9h-3zM451.3 294.4l1.5 2.9h-3zM438.4 295.4l1.5 2.9h-3zM451.3 295.1l1.5 2.9h-3zM441.9 294.7l1.5 2.9h-3zM442 294.9l1.5 2.9h-3zM462 295.2l1.5 2.9h-3zM455.8 295l1.5 2.9h-3zM444.2 294.9l1.5 2.9h-3zM459.4 295.4l1.5 2.9h-3zM465.5 295.5l1.5 2.9h-3zM461.8 294.8l1.5 2.9h-3zM441.3 295l1.5 2.9h-3zM456.1 294.5l1.5 2.9h-3zM448.9 294.9l1.5 2.9h-3zM449.8 295.2l1.5 2.9h-3zM463.3 296.4l1.5 2.9h-3zM464.5 297.9l1.5 2.9h-3zM462.6 298.2l1.5 2.9h-3zM454.6 297.6l1.5 2.9h-3zM459.2 296.1l1.5 2.9h-3zM461.8 297l1.5 2.9h-3zM459.1 296.4l1.5 2.9h-3zM459.1 296.6l1.5 2.9h-3zM456.5 295.7l1.5 2.9h-3zM454.4 298.3l1.5 2.9h-3zM464.6 297.3l1.5 2.9h-3zM457.1 295.7l1.5 2.9h-3zM452.4 297.8l1.5 2.9h-3zM457 298.2l1.5 2.9h-3zM466 294.7l1.5 2.9h-3zM452.3 298.4l1.5 2.9h-3zM465.8 294.7l1.5 2.9h-3zM454.7 298.3l1.5 2.9h-3zM452.5 296.3l1.5 2.9h-3zM465.9 295.5l1.5 2.9h-3zM455.6 295.8l1.5 2.9h-3zM465.6 298l1.5 2.9h-3zM503.6 267.7l1.5 2.9h-3zM483.5 285.9l1.5 2.9h-3zM475 286.5l1.5 2.9h-3zM472.7 282.5l1.5 2.9h-3zM472.5 282.3l1.5 2.9h-3zM500.2 279.6l1.5 2.9h-3zM481.6 281.7l1.5 2.9h-3zM491.8 280.7l1.5 2.9h-3zM480.7 278.8l1.5 2.9h-3zM507 264.8l1.5 2.9h-3zM488.3 284.8l1.5 2.9h-3zM486 281.4l1.5 2.9h-3zM507.8 263.4l1.5 2.9h-3zM501.9 279.3l1.5 2.9h-3zM509.4 263.5l1.5 2.9h-3zM499.7 281.9l1.5 2.9h-3zM475.4 285.7l1.5 2.9h-3zM485.9 285.3l1.5 2.9h-3zM500.8 271l1.5 2.9h-3zM475.5 282.4l1.5 2.9h-3zM485.2 278.7l1.5 2.9h-3zM470.8 290.5l1.5 2.9h-3zM485.1 283l1.5 2.9h-3zM490.2 281.5l1.5 2.9h-3zM472.9 283l1.5 2.9h-3zM492.1 279l1.5 2.9h-3zM471.7 278.9l1.5 2.9h-3zM487.4 287.5l1.5 2.9h-3zM496.4 280.3l1.5 2.9h-3zM498.1 279.5l1.5 2.9h-3zM484.6 279.4l1.5 2.9h-3zM472.8 284.6l1.5 2.9h-3zM509.2 262.3l1.5 2.9h-3zM489.6 281.7l1.5 2.9h-3zM487.1 283.8l1.5 2.9h-3zM466.7 288l1.5 2.9h-3zM499.4 279l1.5 2.9h-3zM500.6 278.9l1.5 2.9h-3zM497.6 281.3l1.5 2.9h-3zM485.7 283.4l1.5 2.9h-3zM486 282.2l1.5 2.9h-3zM502.3 270.4l1.5 2.9h-3zM507.2 266.3l1.5 2.9h-3zM491.9 280.5l1.5 2.9h-3zM494 278.8l1.5 2.9h-3zM503 274.4l1.5 2.9h-3zM480.3 279.6l1.5 2.9h-3zM473 283.5l1.5 2.9h-3zM499.1 280.5l1.5 2.9h-3zM492.9 283.5l1.5 2.9h-3zM480.4 282.5l1.5 2.9h-3zM503.1 272.1l1.5 2.9h-3zM499.2 279.8l1.5 2.9h-3zM466.5 289.8l1.5 2.9h-3zM487.9 280.4l1.5 2.9h-3zM496.9 281.5l1.5 2.9h-3zM506.1 267.2l1.5 2.9h-3zM497.1 280.5l1.5 2.9h-3zM475.7 286.7l1.5 2.9h-3zM471.8 285.7l1.5 2.9h-3zM508.7 260.8l1.5 2.9h-3zM503.9 271l1.5 2.9h-3zM484.2 287.2l1.5 2.9h-3zM483.6 281.2l1.5 2.9h-3zM499.7 276.9l1.5 2.9h-3zM494.2 279.1l1.5 2.9h-3zM476.9 284.7l1.5 2.9h-3zM487 279.4l1.5 2.9h-3zM509.3 262.4l1.5 2.9h-3zM485.4 284.3l1.5 2.9h-3zM465.9 289.6l1.5 2.9h-3zM469.8 284.4l1.5 2.9h-3zM471.9 281.6l1.5 2.9h-3zM494.6 281l1.5 2.9h-3zM481.7 280.6l1.5 2.9h-3zM494.9 279.3l1.5 2.9h-3zM478 282.8l1.5 2.9h-3zM500.9 273.8l1.5 2.9h-3zM487.5 284.2l1.5 2.9h-3zM507.4 269.2l1.5 2.9h-3zM499.7 271.4l1.5 2.9h-3zM486.7 280.5l1.5 2.9h-3zM509.1 262.3l1.5 2.9h-3zM479.6 281l1.5 2.9h-3zM486.3 281.2l1.5 2.9h-3zM481.1 283.7l1.5 2.9h-3zM466.5 292.3l1.5 2.9h-3zM479.1 286.2l1.5 2.9h-3zM468.2 286.7l1.5 2.9h-3zM470.2 286.3l1.5 2.9h-3zM470.4 285.1l1.5 2.9h-3zM481.8 282.7l1.5 2.9h-3zM490.2 279.1l1.5 2.9h-3zM490.7 277.5l1.5 2.9h-3zM493.8 280.2l1.5 2.9h-3zM473.5 286.8l1.5 2.9h-3zM478.1 285.5l1.5 2.9h-3zM470.7 281.6l1.5 2.9h-3zM506 266.3l1.5 2.9h-3zM472.1 283.5l1.5 2.9h-3zM493.6 281.8l1.5 2.9h-3zM487.4 279.7l1.5 2.9h-3zM468.4 288.9l1.5 2.9h-3zM502.6 272.2l1.5 2.9h-3zM488 283.5l1.5 2.9h-3zM490.4 283.9l1.5 2.9h-3zM499 272.8l1.5 2.9h-3zM478.9 283.1l1.5 2.9h-3zM482.6 286.5l1.5 2.9h-3zM471.5 285.2l1.5 2.9h-3zM504.8 272.2l1.5 2.9h-3zM482.3 284l1.5 2.9h-3zM503.4 269.8l1.5 2.9h-3zM503.6 271.9l1.5 2.9h-3zM483.4 285.3l1.5 2.9h-3zM492 284.5l1.5 2.9h-3zM475.7 287.4l1.5 2.9h-3zM486.8 279.8l1.5 2.9h-3zM479.3 285.4l1.5 2.9h-3zM507.1 260.8l1.5 2.9h-3zM495.3 280.4l1.5 2.9h-3zM505.7 266.8l1.5 2.9h-3zM476.3 285.5l1.5 2.9h-3zM474.4 285.1l1.5 2.9h-3zM465.1 294.1l1.5 2.9h-3zM491.6 280.1l1.5 2.9h-3zM478.3 285.6l1.5 2.9h-3zM477.4 284.7l1.5 2.9h-3zM485.4 282.6l1.5 2.9h-3zM490.7 278.9l1.5 2.9h-3zM499 280l1.5 2.9h-3zM505.1 269.4l1.5 2.9h-3zM473.8 286.3l1.5 2.9h-3zM487.3 282.2l1.5 2.9h-3zM506.6 265l1.5 2.9h-3zM479.4 284.4l1.5 2.9h-3zM490.1 282.9l1.5 2.9h-3zM485.2 284.2l1.5 2.9h-3zM498.9 283.9l1.5 2.9h-3zM498 277.7l1.5 2.9h-3zM483.1 287.5l1.5 2.9h-3zM477 277.3l1.5 2.9h-3zM493.5 283.4l1.5 2.9h-3zM507.3 262.1l1.5 2.9h-3zM483.2 287.5l1.5 2.9h-3zM487.6 280.2l1.5 2.9h-3zM476.2 286.5l1.5 2.9h-3zM505.2 265.3l1.5 2.9h-3zM467.5 286.2l1.5 2.9h-3zM482.3 284.9l1.5 2.9h-3zM469.1 288.5l1.5 2.9h-3zM485 281l1.5 2.9h-3zM492.2 287.1l1.5 2.9h-3zM470 285.5l1.5 2.9h-3zM495.2 284.6l1.5 2.9h-3zM477 281.7l1.5 2.9h-3zM474.5 282.3l1.5 2.9h-3zM480.3 283.5l1.5 2.9h-3zM507.1 261.9l1.5 2.9h-3zM505 270.1l1.5 2.9h-3zM478.7 278.8l1.5 2.9h-3zM466.4 290.3l1.5 2.9h-3zM469.4 285.3l1.5 2.9h-3zM485.5 280.3l1.5 2.9h-3zM466.2 290.8l1.5 2.9h-3zM496.2 280l1.5 2.9h-3zM492.1 280.4l1.5 2.9h-3zM483.7 284.7l1.5 2.9h-3zM471.8 285.7l1.5 2.9h-3zM508.3 264l1.5 2.9h-3zM481.7 286.2l1.5 2.9h-3zM476.2 283.9l1.5 2.9h-3zM509.6 263.1l1.5 2.9h-3zM499 277.2l1.5 2.9h-3zM489.6 283.4l1.5 2.9h-3zM480.9 284.5l1.5 2.9h-3zM501.6 272.9l1.5 2.9h-3zM496.8 276.5l1.5 2.9h-3zM505.1 264.7l1.5 2.9h-3zM509.3 258.4l1.5 2.9h-3zM491.3 282.9l1.5 2.9h-3zM502.5 272.7l1.5 2.9h-3zM506.4 265.3l1.5 2.9h-3zM474.3 285.5l1.5 2.9h-3zM493.4 282.9l1.5 2.9h-3zM503.4 275.5l1.5 2.9h-3zM501.2 273.5l1.5 2.9h-3zM498.5 280.4l1.5 2.9h-3zM485.8 284.2l1.5 2.9h-3zM504.2 267.2l1.5 2.9h-3zM487.2 282.6l1.5 2.9h-3zM478.3 281.6l1.5 2.9h-3zM485.1 282.1l1.5 2.9h-3zM502.4 274.5l1.5 2.9h-3zM468.6 283.6l1.5 2.9h-3zM465.6 290.1l1.5 2.9h-3zM467.9 286.1l1.5 2.9h-3zM471 285.7l1.5 2.9h-3zM475.5 282.6l1.5 2.9h-3zM471.2 286.2l1.5 2.9h-3zM465.8 289.6l1.5 2.9h-3zM477.2 282.7l1.5 2.9h-3zM492.4 282.8l1.5 2.9h-3zM498.7 279.6l1.5 2.9h-3zM486.4 282.8l1.5 2.9h-3zM507 265.1l1.5 2.9h-3zM467 290.9l1.5 2.9h-3zM504.9 273l1.5 2.9h-3zM467.2 288.1l1.5 2.9h-3zM492.2 279.7l1.5 2.9h-3zM474.3 282.1l1.5 2.9h-3zM497.5 284.5l1.5 2.9h-3zM498.8 276l1.5 2.9h-3zM501.9 270.1l1.5 2.9h-3zM478.4 284.3l1.5 2.9h-3zM472.2 287.2l1.5 2.9h-3zM499.4 274.3l1.5 2.9h-3zM496.1 280.3l1.5 2.9h-3zM485.6 279.2l1.5 2.9h-3zM484.6 281.1l1.5 2.9h-3zM487.7 286l1.5 2.9h-3zM508.3 263.4l1.5 2.9h-3zM470.7 285.1l1.5 2.9h-3zM492 281.6l1.5 2.9h-3zM503.9 271.4l1.5 2.9h-3zM469.6 286.2l1.5 2.9h-3zM498.7 275.4l1.5 2.9h-3zM502.1 270.2l1.5 2.9h-3zM476.3 288.6l1.5 2.9h-3zM480.6 281.6l1.5 2.9h-3zM484.4 285.5l1.5 2.9h-3zM509.8 258.1l1.5 2.9h-3zM506.1 270.5l1.5 2.9h-3zM507.1 267.1l1.5 2.9h-3zM481.6 282.7l1.5 2.9h-3zM505.1 274.5l1.5 2.9h-3zM487.5 280.1l1.5 2.9h-3zM492.1 280.9l1.5 2.9h-3zM494.9 278.8l1.5 2.9h-3zM498.4 276.8l1.5 2.9h-3zM480.2 282.5l1.5 2.9h-3zM481.9 280.9l1.5 2.9h-3zM470.7 285l1.5 2.9h-3zM504.4 274.4l1.5 2.9h-3zM485.5 278.5l1.5 2.9h-3zM508.5 258.8l1.5 2.9h-3zM477 281.8l1.5 2.9h-3zM493.5 280l1.5 2.9h-3zM510.2 262.6l1.5 2.9h-3zM496.7 282.3l1.5 2.9h-3zM505.6 269.1l1.5 2.9h-3zM507.3 265.3l1.5 2.9h-3zM489.2 287.6l1.5 2.9h-3zM473.3 282.2l1.5 2.9h-3zM493.5 278.4l1.5 2.9h-3zM494.6 280.9l1.5 2.9h-3zM479.6 283.9l1.5 2.9h-3zM473.3 284.1l1.5 2.9h-3zM480.8 281.4l1.5 2.9h-3zM500.3 272.9l1.5 2.9h-3zM479.4 282.9l1.5 2.9h-3zM501 273.5l1.5 2.9h-3zM481.4 282.1l1.5 2.9h-3zM501.4 271.8l1.5 2.9h-3zM492.6 284.5l1.5 2.9h-3zM507.6 265.5l1.5 2.9h-3zM475.2 288.4l1.5 2.9h-3zM499.9 276l1.5 2.9h-3zM485.3 282.7l1.5 2.9h-3zM474.3 283.9l1.5 2.9h-3zM472.5 284.8l1.5 2.9h-3zM476.2 283.5l1.5 2.9h-3zM495.8 280.2l1.5 2.9h-3zM503.5 265.4l1.5 2.9h-3zM478.8 283l1.5 2.9h-3zM480.4 284.9l1.5 2.9h-3zM470.5 281.5l1.5 2.9h-3zM489 281.2l1.5 2.9h-3zM470 287.4l1.5 2.9h-3zM479.2 286.4l1.5 2.9h-3zM506 266.6l1.5 2.9h-3zM488.5 283.2l1.5 2.9h-3zM479 287.5l1.5 2.9h-3zM499.2 282l1.5 2.9h-3zM465 291.6l1.5 2.9h-3zM498.5 277.2l1.5 2.9h-3zM501.5 277.7l1.5 2.9h-3zM487.1 282.8l1.5 2.9h-3zM474.6 283.2l1.5 2.9h-3zM475.1 283.8l1.5 2.9h-3zM505.8 268.2l1.5 2.9h-3zM497.4 279.4l1.5 2.9h-3zM509.1 260.7l1.5 2.9h-3zM473.7 284.1l1.5 2.9h-3zM484 279.4l1.5 2.9h-3zM500.4 281.8l1.5 2.9h-3zM491.6 284.4l1.5 2.9h-3zM486.9 285.9l1.5 2.9h-3zM471 285.2l1.5 2.9h-3zM507.7 264.3l1.5 2.9h-3zM474.6 285.7l1.5 2.9h-3zM497.6 282l1.5 2.9h-3zM492.4 277.1l1.5 2.9h-3zM500.4 277.7l1.5 2.9h-3zM499.9 274.5l1.5 2.9h-3zM485.9 282.3l1.5 2.9h-3zM489.4 280.4l1.5 2.9h-3zM468.5 290.4l1.5 2.9h-3zM499 279.9l1.5 2.9h-3zM477.8 283.7l1.5 2.9h-3zM470.4 289l1.5 2.9h-3zM467 289l1.5 2.9h-3zM478.2 282.1l1.5 2.9h-3zM470.9 285.2l1.5 2.9h-3zM472.7 284l1.5 2.9h-3zM483.3 283l1.5 2.9h-3zM480.7 285.2l1.5 2.9h-3zM477.2 283.7l1.5 2.9h-3zM473.1 284.5l1.5 2.9h-3zM492.6 283.7l1.5 2.9h-3zM489.4 282.6l1.5 2.9h-3zM482.7 285.2l1.5 2.9h-3zM473.8 284.9l1.5 2.9h-3zM500.5 272.6l1.5 2.9h-3zM469.6 284l1.5 2.9h-3zM482.3 279.3l1.5 2.9h-3zM474.4 287l1.5 2.9h-3zM497.9 280.6l1.5 2.9h-3zM489.2 280.9l1.5 2.9h-3zM506.2 263.5l1.5 2.9h-3zM495.2 281.6l1.5 2.9h-3zM494.2 280.7l1.5 2.9h-3zM468.6 287.7l1.5 2.9h-3zM465.5 290.2l1.5 2.9h-3zM494 278.4l1.5 2.9h-3zM500.5 281.1l1.5 2.9h-3zM504 267.5l1.5 2.9h-3zM509.8 260.2l1.5 2.9h-3zM504.7 273.1l1.5 2.9h-3zM490 277.6l1.5 2.9h-3zM463 302.4l1.5 2.9h-3zM464.5 302l1.5 2.9h-3zM466 302.6l1.5 2.9h-3zM474 302.4l1.5 2.9h-3zM480 302.4l1.5 2.9h-3zM481.5 301.9l1.5 2.9h-3zM497 302.4l1.5 2.9h-3zM498.5 302l1.5 2.9h-3zM500 302.6l1.5 2.9h-3zM501.5 302.2l1.5 2.9h-3zM504 302.4l1.5 2.9h-3zM506 301.9l1.5 2.9h-3zM507.5 302.4l1.5 2.9h-3zM500.5 287.4l1.5 2.9h-3zM502 282.4l1.5 2.9h-3zM510 293.9l1.5 2.9h-3zM463 299.9l1.5 2.9h-3zM472 299.4l1.5 2.9h-3z"/>
<path fill="#e03fcb" d="M473 287.4l1.5 2.9h-3zM474.5 287l1.5 2.9h-3zM476 287.7l1.5 2.9h-3zM488 284.4l1.5 2.9h-3zM490 283.4l1.5 2.9h-3zM492 284.9l1.5 2.9h-3zM494 282.9l1.5 2.9h-3zM496 283.9l1.5 2.9h-3zM498 281.9l1.5 2.9h-3zM491 285.4l1.5 2.9h-3zM495 281.6l1.5 2.9h-3zM510 282.9l1.5 2.9h-3zM483 284.9l1.5 2.9h-3z"/>
<path fill="#c9b5b2" d="M558.6 233.6l1.5 2.9h-3zM550.5 232.9l1.5 2.9h-3zM556.7 236.1l1.5 2.9h-3zM541.7 236.3l1.5 2.9h-3zM518.6 232.7l1.5 2.9h-3zM549.2 233.6l1.5 2.9h-3zM532.1 234.6l1.5 2.9h-3zM545 234.1l1.5 2.9h-3zM535.5 235.9l1.5 2.9h-3zM541.3 236.4l1.5 2.9h-3zM523.2 235.7l1.5 2.9h-3zM556 236.5l1.5 2.9h-3zM530 236.3l1.5 2.9h-3zM554.3 234.6l1.5 2.9h-3zM556.4 234l1.5 2.9h-3zM541.4 233.5l1.5 2.9h-3zM523.2 236.1l1.5 2.9h-3zM533.9 236.2l1.5 2.9h-3zM538.6 236.4l1.5 2.9h-3zM528.9 234.2l1.5 2.9h-3zM519.4 234.1l1.5 2.9h-3zM558.3 235.2l1.5 2.9h-3zM542.9 236.8l1.5 2.9h-3zM538.8 235.3l1.5 2.9h-3zM520.5 235.1l1.5 2.9h-3zM539.2 233.3l1.5 2.9h-3zM551.9 235.5l1.5 2.9h-3zM524.1 235.6l1.5 2.9h-3zM556.7 233.1l1.5 2.9h-3zM525 237.7l1.5 2.9h-3zM521.9 233.2l1.5 2.9h-3zM550.2 236.3l1.5 2.9h-3zM524.3 234.4l1.5 2.9h-3zM555.4 235l1.5 2.9h-3zM527.8 233.4l1.5 2.9h-3zM519.8 233.8l1.5 2.9h-3zM543.6 235.9l1.5 2.9h-3zM516.8 234.4l1.5 2.9h-3zM520.9 234.1l1.5 2.9h-3zM542.1 236.2l1.5 2.9h-3zM549 235.9l1.5 2.9h-3zM538.4 235l1.5 2.9h-3zM553 235.1l1.5 2.9h-3zM523.5 237.6l1.5 2.9h-3zM551.7 234.4l1.5 2.9h-3zM536 235.4l1.5 2.9h-3zM554.2 235.4l1.5 2.9h-3zM522.2 232.4l1.5 2.9h-3zM540 231.5l1.5 2.9h-3zM520.2 234.9l1.5 2.9h-3zM523.5 236.2l1.5 2.9h-3zM531.7 235.1l1.5 2.9h-3zM540.6 233.8l1.5 2.9h-3zM541 233.6l1.5 2.9h-3zM526.8 236.1l1.5 2.9h-3zM529.5 234.2l1.5 2.9h-3zM559 232l1.5 2.9h-3zM517.2 235.9l1.5 2.9h-3zM533.7 235.1l1.5 2.9h-3zM553.7 235.4l1.5 2.9h-3zM546.4 236.5l1.5 2.9h-3zM541.7 236.9l1.5 2.9h-3zM523 235.7l1.5 2.9h-3zM527.3 234.4l1.5 2.9h-3zM560.2 231.2l1.5 2.9h-3zM541.2 235.2l1.5 2.9h-3zM528.9 234.5l1.5 2.9h-3zM557.4 236.9l1.5 2.9h-3zM552.4 236.9l1.5 2.9h-3zM549.7 235.5l1.5 2.9h-3zM526.3 237l1.5 2.9h-3zM534 234.6l1.5 2.9h-3zM553.6 234.6l1.5 2.9h-3zM528.6 233.3l1.5 2.9h-3zM558.9 234.2l1.5 2.9h-3zM534.6 235.1l1.5 2.9h-3zM538.5 236.5l1.5 2.9h-3zM550.1 233.5l1.5 2.9h-3zM520.4 236.1l1.5 2.9h-3zM543.7 238.6l1.5 2.9h-3zM542.8 232.5l1.5 2.9h-3zM523.5 234.3l1.5 2.9h-3zM523.6 234.7l1.5 2.9h-3zM517.3 236.4l1.5 2.9h-3zM532.4 238l1.5 2.9h-3zM544.6 236.8l1.5 2.9h-3zM519.3 234.7l1.5 2.9h-3zM539 233.3l1.5 2.9h-3zM523.7 234.6l1.5 2.9h-3zM552.5 234.6l1.5 2.9h-3zM519.1 235.1l1.5 2.9h-3zM516.2 233.2l1.5 2.9h-3zM545.6 237.3l1.5 2.9h-3zM531.7 233.5l1.5 2.9h-3zM556.5 235.9l1.5 2.9h-3zM533.3 235.1l1.5 2.9h-3zM551.2 232.9l1.5 2.9h-3zM537.3 234.8l1.5 2.9h-3zM537.8 234.7l1.5 2.9h-3zM533.3 234.4l1.5 2.9h-3zM547.1 236.1l1.5 2.9h-3zM517.5 233.9l1.5 2.9h-3zM552.1 239l1.5 2.9h-3zM545.4 236.6l1.5 2.9h-3zM548.6 233.2l1.5 2.9h-3zM520.6 230.5l1.5 2.9h-3zM547.9 236.8l1.5 2.9h-3zM538.9 235.1l1.5 2.9h-3zM547.9 234.8l1.5 2.9h-3zM539.4 233.1l1.5 2.9h-3zM555.6 232.3l1.5 2.9h-3zM552.1 231.6l1.5 2.9h-3zM541.4 239l1.5 2.9h-3zM559.9 237.4l1.5 2.9h-3zM539.1 233.8l1.5 2.9h-3zM531.4 237.9l1.5 2.9h-3zM554.4 231.6l1.5 2.9h-3zM524.3 235.9l1.5 2.9h-3zM550.2 235.9l1.5 2.9h-3zM540.4 233.3l1.5 2.9h-3zM559.7 233.9l1.5 2.9h-3zM518.2 233l1.5 2.9h-3zM529.2 234.8l1.5 2.9h-3zM557.1 236.9l1.5 2.9h-3zM541.9 236.4l1.5 2.9h-3zM525.4 235.4l1.5 2.9h-3zM547.3 236.6l1.5 2.9h-3zM538 231.7l1.5 2.9h-3zM541.4 238.1l1.5 2.9h-3zM523.7 234.6l1.5 2.9h-3zM517.4 232.5l1.5 2.9h-3zM556.3 234.1l1.5 2.9h-3zM545.6 233.6l1.5 2.9h-3zM559.1 234.9l1.5 2.9h-3zM538.1 235.2l1.5 2.9h-3zM528 230.8l1.5 2.9h-3zM518.3 236.8l1.5 2.9h-3zM540.8 237.6l1.5 2.9h-3zM550.7 233l1.5 2.9h-3zM557.2 237.2l1.5 2.9h-3zM532.8 236.8l1.5 2.9h-3zM528 236.4l1.5 2.9h-3zM526.6 237.5l1.5 2.9h-3zM557.7 232.4l1.5 2.9h-3zM546.2 235.9l1.5 2.9h-3zM539.7 233l1.5 2.9h-3zM556.9 238.7l1.5 2.9h-3zM549.2 233.1l1.5 2.9h-3zM539.8 232.6l1.5 2.9h-3zM550.4 236.6l1.5 2.9h-3zM545.6 235.7l1.5 2.9h-3zM549.4 234.7l1.5 2.9h-3zM530.9 234.9l1.5 2.9h-3zM547.3 235.7l1.5 2.9h-3zM523.2 237.6l1.5 2.9h-3zM518 233.5l1.5 2.9h-3zM538.3 233.7l1.5 2.9h-3zM550 233.7l1.5 2.9h-3zM525.9 234.6l1.5 2.9h-3zM555.5 234.7l1.5 2.9h-3zM536.8 232.5l1.5 2.9h-3zM545.6 235.2l1.5 2.9h-3zM554.7 232.6l1.5 2.9h-3zM551.5 234.2l1.5 2.9h-3zM545 234.3l1.5 2.9h-3zM528.4 234.3l1.5 2.9h-3zM523.9 237.2l1.5 2.9h-3zM541.4 237.5l1.5 2.9h-3zM542.3 236.5l1.5 2.9h-3zM542.6 237.4l1.5 2.9h-3zM544.3 231.1l1.5 2.9h-3zM536.3 230.2l1.5 2.9h-3zM555.2 230.8l1.5 2.9h-3zM542 232.4l1.5 2.9h-3zM551.4 229.1l1.5 2.9h-3zM558.8 230.8l1.5 2.9h-3zM551.4 231.5l1.5 2.9h-3zM525.6 231.1l1.5 2.9h-3zM531.2 231.4l1.5 2.9h-3zM518.1 230.2l1.5 2.9h-3zM534 229.4l1.5 2.9h-3zM535.8 229.7l1.5 2.9h-3zM530.4 230.6l1.5 2.9h-3zM532.8 231.7l1.5 2.9h-3zM525.1 231.1l1.5 2.9h-3zM552.6 232.6l1.5 2.9h-3zM533.5 231.1l1.5 2.9h-3zM516.9 231.2l1.5 2.9h-3zM535.8 231.2l1.5 2.9h-3zM532.3 229.3l1.5 2.9h-3zM524 231.6l1.5 2.9h-3zM547.2 229.9l1.5 2.9h-3zM534.5 230.6l1.5 2.9h-3zM550.7 233.3l1.5 2.9h-3zM543.3 229.8l1.5 2.9h-3zM558.5 231.1l1.5 2.9h-3zM531 231.3l1.5 2.9h-3zM517.7 231.1l1.5 2.9h-3zM524.2 231l1.5 2.9h-3zM549.7 230.4l1.5 2.9h-3zM524.7 233l1.5 2.9h-3zM542.4 229l1.5 2.9h-3zM521.1 230l1.5 2.9h-3zM554.1 232.5l1.5 2.9h-3zM516.9 224.4l1.5 2.9h-3zM516.2 225.5l1.5 2.9h-3zM516.2 226.7l1.5 2.9h-3zM516.5 227.8l1.5 2.9h-3zM517.9 228.9l1.5 2.9h-3zM516.8 230.1l1.5 2.9h-3zM516.1 231.2l1.5 2.9h-3zM516.7 232.3l1.5 2.9h-3zM516.3 233.5l1.5 2.9h-3zM517.3 234.6l1.5 2.9h-3zM516.7 235.7l1.5 2.9h-3zM517.2 236.9l1.5 2.9h-3zM516.7 238l1.5 2.9h-3zM517.6 239.1l1.5 2.9h-3zM516.8 240.3l1.5 2.9h-3zM516.7 241.4l1.5 2.9h-3zM529.7 185.9l1.5 2.9h-3zM531.5 185.1l1.5 2.9h-3zM521 200.9l1.5 2.9h-3zM522.5 205.9l1.5 2.9h-3zM545 219.4l1.5 2.9h-3zM516.5 221.4l1.5 2.9h-3zM511.5 260.4l1.5 2.9h-3zM512.5 262.4l1.5 2.9h-3zM513 264.4l1.5 2.9h-3zM512 266.4l1.5 2.9h-3zM513.5 261.4l1.5 2.9h-3zM513 281.4l1.5 2.9h-3zM515.5 279.9l1.5 2.9h-3zM514 288.4l1.5 2.9h-3zM512 299.4l1.5 2.9h-3zM513.5 300.9l1.5 2.9h-3zM514.5 302.4l1.5 2.9h-3zM513 303.4l1.5 2.9h-3zM516 305.4l1.5 2.9h-3zM554 304.4l1.5 2.9h-3z"/>
<line x1="38.5" y1="363.5" x2="38.5" y2="510.8" stroke="#8d7f7d" stroke-width="1"/>
<rect x="22.5" y="363.5" width="230.9" height="147.3" fill="none" stroke="#8d7f7d" stroke-width="1"/>
<text x="32.7" y="517.7" font-size="5.3" text-anchor="middle" fill="#a39b9a">0</text>
<text x="86.3" y="517.7" font-size="5.3" text-anchor="middle" fill="#a39b9a">500</text>
<text x="140.2" y="517.7" font-size="5.3" text-anchor="middle" fill="#a39b9a">1000</text>
<text x="193.8" y="517.7" font-size="5.3" text-anchor="middle" fill="#a39b9a">1500</text>
<text x="247.4" y="517.7" font-size="5.3" text-anchor="middle" fill="#a39b9a">2000</text>
<text x="19.7" y="506.2" font-size="5.3" text-anchor="end" fill="#a39b9a">0</text>
<text x="19.7" y="468.5" font-size="5.3" text-anchor="end" fill="#a39b9a">200</text>
<text x="19.7" y="431.1" font-size="5.3" text-anchor="end" fill="#a39b9a">400</text>
<text x="19.7" y="393.4" font-size="5.3" text-anchor="end" fill="#a39b9a">600</text>
<text x="255.7" y="506.5" font-size="5.3" text-anchor="start" fill="#a39b9a">0</text>
<text x="255.7" y="467.8" font-size="5.3" text-anchor="start" fill="#a39b9a">2</text>
<text x="255.7" y="429.2" font-size="5.3" text-anchor="start" fill="#a39b9a">4</text>
<text x="255.7" y="390.7" font-size="5.3" text-anchor="start" fill="#a39b9a">6</text>
<path stroke="#8d7f7d" stroke-width="0.8" fill="none" d="M32.7 510.8v1.6M86.3 510.8v1.6M140.2 510.8v1.6M193.8 510.8v1.6M247.4 510.8v1.6M22.5 504.3h-1.6M22.5 466.6h-1.6M22.5 429.2h-1.6M22.5 391.5h-1.6M253.4 504.6h1.6M253.4 465.9h1.6M253.4 427.3h1.6M253.4 388.8h1.6"/>
<text x="8" y="437.1" font-size="6.5" text-anchor="middle" fill="#d8d0cf" transform="rotate(-90 8 437.1)">HMM score</text>
<text x="267.9" y="440.6" font-size="5.3" text-anchor="middle" fill="#c8c0bf" transform="rotate(-90 267.9 440.6)">Phylogenetic distance</text>
<circle cx="33" cy="370" r="1.3" fill="#00f2ee"/>
<circle cx="33.2" cy="372" r="1.3" fill="#00f2ee"/>
<circle cx="33.5" cy="375.5" r="1.3" fill="#00f2ee"/>
<circle cx="33.5" cy="383.5" r="1.3" fill="#00f2ee"/>
<circle cx="38" cy="409" r="1.3" fill="#00f2ee"/>
<circle cx="37.5" cy="456" r="1.3" fill="#00f2ee"/>
<polyline fill="none" stroke="#00f2ee" stroke-width="2.4" stroke-linecap="round" stroke-linejoin="round" points="33.5,391 34.5,394.5 36,400 38,406"/>
<polyline fill="none" stroke="#00f2ee" stroke-width="2.8" stroke-linecap="round" stroke-linejoin="round" points="38,467.5 39.5,469 41,470.5 44,471.2 70,473 100,475 120,476.2 127,477 135,480 143,483.3 150,486 155,488.3 158,490 160.3,493 160.8,497 162,499 165,499.8 190,500.5 220,501 246,501.5"/>
<path fill="#7d2dff" d="M35.3 480.1l1.5 2.9h-3zM35.9 477.4l1.5 2.9h-3zM33.2 472.5l1.5 2.9h-3zM36.5 478.9l1.5 2.9h-3zM34.8 478.1l1.5 2.9h-3zM36.3 479.7l1.5 2.9h-3zM34.2 475.2l1.5 2.9h-3zM34.2 473.6l1.5 2.9h-3zM35.1 479.8l1.5 2.9h-3zM35.8 479l1.5 2.9h-3zM36.4 472.4l1.5 2.9h-3zM34.1 480l1.5 2.9h-3zM35.6 477.6l1.5 2.9h-3zM33.7 472.4l1.5 2.9h-3zM36 480.3l1.5 2.9h-3zM34.4 479.1l1.5 2.9h-3zM37.2 476.7l1.5 2.9h-3zM36.2 478l1.5 2.9h-3zM32.7 477.5l1.5 2.9h-3zM35.7 480l1.5 2.9h-3zM34.3 477l1.5 2.9h-3zM34 479l1.5 2.9h-3zM33.4 472.6l1.5 2.9h-3zM36 474.5l1.5 2.9h-3zM36.8 473.1l1.5 2.9h-3zM34.7 480.1l1.5 2.9h-3zM34.9 479.4l1.5 2.9h-3zM34.1 473.7l1.5 2.9h-3zM36.6 477.8l1.5 2.9h-3zM37.5 472.5l1.5 2.9h-3zM34.7 475.3l1.5 2.9h-3zM34.7 475.1l1.5 2.9h-3zM33.3 474.1l1.5 2.9h-3zM33.8 474.7l1.5 2.9h-3zM34.4 475.5l1.5 2.9h-3zM34.5 478.8l1.5 2.9h-3zM33.2 478l1.5 2.9h-3zM34.2 478.7l1.5 2.9h-3zM32.6 474.4l1.5 2.9h-3zM33.8 478.2l1.5 2.9h-3zM35.8 473l1.5 2.9h-3zM37.1 476.8l1.5 2.9h-3zM33.5 472.6l1.5 2.9h-3zM36 477.8l1.5 2.9h-3zM33.5 476.2l1.5 2.9h-3zM37.3 472.9l1.5 2.9h-3zM33.6 476.4l1.5 2.9h-3zM32.6 476.4l1.5 2.9h-3zM37.3 474.1l1.5 2.9h-3zM34.1 475.3l1.5 2.9h-3zM33.4 475.5l1.5 2.9h-3zM34.7 474.1l1.5 2.9h-3zM36.8 476.9l1.5 2.9h-3zM34.4 477.1l1.5 2.9h-3zM34.7 475.8l1.5 2.9h-3zM37.1 484.8l1.5 2.9h-3zM37 488.3l1.5 2.9h-3zM37.9 488.2l1.5 2.9h-3zM35.7 489.5l1.5 2.9h-3zM37.5 484.8l1.5 2.9h-3zM35.5 490.1l1.5 2.9h-3zM35.9 489.3l1.5 2.9h-3zM35.3 484.3l1.5 2.9h-3zM36.6 489.5l1.5 2.9h-3zM35.3 485.8l1.5 2.9h-3zM35.5 489.1l1.5 2.9h-3zM37 489.2l1.5 2.9h-3zM37.1 489.9l1.5 2.9h-3zM35.6 490.3l1.5 2.9h-3zM33.5 498.4l1.5 2.9h-3zM33.1 502.4l1.5 2.9h-3zM38.6 467.2l1.5 2.9h-3z"/>
<path fill="#7d2dff" d="M45.6 439.7l1.5 2.9h-3zM75.9 438.3l1.5 2.9h-3zM45.1 438.8l1.5 2.9h-3zM75.5 439.4l1.5 2.9h-3zM60.3 439l1.5 2.9h-3zM58.6 439.7l1.5 2.9h-3zM46.4 440.3l1.5 2.9h-3zM55.4 438.7l1.5 2.9h-3zM53.9 439.2l1.5 2.9h-3zM65.7 436.7l1.5 2.9h-3zM75.4 438.7l1.5 2.9h-3zM53 439.5l1.5 2.9h-3zM42.9 438.1l1.5 2.9h-3zM74.8 440.1l1.5 2.9h-3zM58.5 437.5l1.5 2.9h-3zM56 440.1l1.5 2.9h-3zM67.8 438.6l1.5 2.9h-3zM63.8 438.2l1.5 2.9h-3zM60.3 438.6l1.5 2.9h-3zM46.8 438.8l1.5 2.9h-3zM97.5 438.9l1.5 2.9h-3zM99.7 438.9l1.5 2.9h-3zM83.8 439.4l1.5 2.9h-3zM91.4 439.7l1.5 2.9h-3zM88.2 441l1.5 2.9h-3zM94.5 439.9l1.5 2.9h-3zM93.8 439.4l1.5 2.9h-3zM120.8 436.6l1.5 2.9h-3zM101.7 438.6l1.5 2.9h-3zM106.3 441.9l1.5 2.9h-3zM117.8 438.2l1.5 2.9h-3zM110.5 436.5l1.5 2.9h-3zM116.8 440.7l1.5 2.9h-3zM102 437.9l1.5 2.9h-3zM124.4 438.4l1.5 2.9h-3zM110.2 438.4l1.5 2.9h-3zM121.5 439.6l1.5 2.9h-3zM110.8 439.6l1.5 2.9h-3zM121.6 438.4l1.5 2.9h-3zM100.8 440.1l1.5 2.9h-3zM107.2 437.4l1.5 2.9h-3zM125.8 439.5l1.5 2.9h-3zM101.9 437.8l1.5 2.9h-3zM55.5 433.9l1.5 2.9h-3zM118 435.4l1.5 2.9h-3zM144 426.4l1.5 2.9h-3zM120.7 446.8l1.5 2.9h-3zM151.8 445.2l1.5 2.9h-3zM95.2 447.5l1.5 2.9h-3zM63.2 453.2l1.5 2.9h-3zM79 447.3l1.5 2.9h-3zM135.3 440.2l1.5 2.9h-3zM152.2 438.5l1.5 2.9h-3zM71 453.5l1.5 2.9h-3zM138.5 447.7l1.5 2.9h-3zM130.9 443.6l1.5 2.9h-3zM65.9 453.9l1.5 2.9h-3zM138.6 438.4l1.5 2.9h-3zM89.7 454.8l1.5 2.9h-3zM56.1 448.3l1.5 2.9h-3zM106.8 451.8l1.5 2.9h-3zM69.3 444.9l1.5 2.9h-3zM104 444.2l1.5 2.9h-3zM154.5 439.1l1.5 2.9h-3zM62.7 445.5l1.5 2.9h-3zM105.6 446.3l1.5 2.9h-3zM100.8 449.6l1.5 2.9h-3zM59.1 446.3l1.5 2.9h-3zM112.5 453.3l1.5 2.9h-3zM68.7 446.8l1.5 2.9h-3zM148.7 426.1l1.5 2.9h-3zM142.5 441.9l1.5 2.9h-3zM102.9 447.2l1.5 2.9h-3zM68.3 451.7l1.5 2.9h-3zM55.9 447.4l1.5 2.9h-3zM66.4 447.4l1.5 2.9h-3zM102.5 451.7l1.5 2.9h-3zM109.6 454.1l1.5 2.9h-3zM55.1 447.7l1.5 2.9h-3zM129.4 444.8l1.5 2.9h-3zM97.6 446.4l1.5 2.9h-3zM156.9 434.6l1.5 2.9h-3zM86.6 446.7l1.5 2.9h-3zM94.7 445.3l1.5 2.9h-3zM134.6 447.4l1.5 2.9h-3zM88.4 447.4l1.5 2.9h-3zM133.5 451.2l1.5 2.9h-3zM104 444.9l1.5 2.9h-3zM52.8 449l1.5 2.9h-3zM148.4 427.8l1.5 2.9h-3zM147.8 426.6l1.5 2.9h-3zM53.9 447.5l1.5 2.9h-3zM78.6 453.7l1.5 2.9h-3zM107.4 446.9l1.5 2.9h-3zM51.3 452.1l1.5 2.9h-3zM87.5 449.5l1.5 2.9h-3zM46.5 447.5l1.5 2.9h-3zM103.1 449.4l1.5 2.9h-3zM97.1 446.9l1.5 2.9h-3zM151.3 422.5l1.5 2.9h-3zM136.2 436.4l1.5 2.9h-3zM71.3 448.1l1.5 2.9h-3zM121.2 454l1.5 2.9h-3zM154.8 421.1l1.5 2.9h-3zM54.1 444.7l1.5 2.9h-3zM103.1 454.7l1.5 2.9h-3zM56 446.1l1.5 2.9h-3zM69.3 454.6l1.5 2.9h-3zM98.5 454.4l1.5 2.9h-3zM39.7 450.9l1.5 2.9h-3zM97 450.1l1.5 2.9h-3zM74.5 447.8l1.5 2.9h-3zM46.1 448.8l1.5 2.9h-3zM103.1 454l1.5 2.9h-3zM62.9 454.8l1.5 2.9h-3zM62.9 454.4l1.5 2.9h-3zM152.9 437.2l1.5 2.9h-3zM91.5 452.1l1.5 2.9h-3zM104.9 448.3l1.5 2.9h-3zM51 450.3l1.5 2.9h-3zM154.1 418.9l1.5 2.9h-3zM109.8 448.3l1.5 2.9h-3zM74.3 453.6l1.5 2.9h-3zM119.1 442.8l1.5 2.9h-3zM116.8 442.5l1.5 2.9h-3zM97.5 450.8l1.5 2.9h-3zM90.3 450.4l1.5 2.9h-3zM50 447.2l1.5 2.9h-3zM130.8 440.4l1.5 2.9h-3zM43.2 450.6l1.5 2.9h-3zM46.3 450.9l1.5 2.9h-3zM114.4 450.9l1.5 2.9h-3zM144.6 435.7l1.5 2.9h-3zM147.8 438l1.5 2.9h-3zM65.3 445.9l1.5 2.9h-3zM137.5 445.1l1.5 2.9h-3zM60.7 451.9l1.5 2.9h-3zM61.8 453.9l1.5 2.9h-3zM94.6 451.7l1.5 2.9h-3zM108.3 448.8l1.5 2.9h-3zM103 447.8l1.5 2.9h-3zM149.6 443.7l1.5 2.9h-3zM99 444.9l1.5 2.9h-3zM82.5 447.2l1.5 2.9h-3zM94.7 453.9l1.5 2.9h-3zM61 451.6l1.5 2.9h-3zM126.1 439.7l1.5 2.9h-3zM60 454.7l1.5 2.9h-3zM97.1 448.2l1.5 2.9h-3zM49.7 447.6l1.5 2.9h-3zM126.2 451l1.5 2.9h-3zM82.6 445.6l1.5 2.9h-3zM133.9 437.3l1.5 2.9h-3zM58.9 453.4l1.5 2.9h-3zM97.8 450.2l1.5 2.9h-3zM144.6 431.5l1.5 2.9h-3zM127.2 438.5l1.5 2.9h-3zM63.6 446.7l1.5 2.9h-3zM50.4 449.5l1.5 2.9h-3zM111 443.9l1.5 2.9h-3zM157.5 433.8l1.5 2.9h-3zM87.7 455.4l1.5 2.9h-3zM123.9 449.1l1.5 2.9h-3zM121.3 449.3l1.5 2.9h-3zM157.3 417.8l1.5 2.9h-3zM87.9 454.5l1.5 2.9h-3zM49.4 447.1l1.5 2.9h-3zM50.5 444.9l1.5 2.9h-3zM149 440.1l1.5 2.9h-3zM64.6 446.5l1.5 2.9h-3zM109.5 446.5l1.5 2.9h-3zM115.9 444.3l1.5 2.9h-3zM147.9 447l1.5 2.9h-3zM90.1 451.4l1.5 2.9h-3zM69 454.3l1.5 2.9h-3zM148.7 440l1.5 2.9h-3zM113.1 454.5l1.5 2.9h-3zM159 432.1l1.5 2.9h-3zM133.1 445.7l1.5 2.9h-3zM119.2 452.6l1.5 2.9h-3zM96 450.8l1.5 2.9h-3zM38.6 452.5l1.5 2.9h-3zM138.4 443.7l1.5 2.9h-3zM81.9 448.4l1.5 2.9h-3zM45.5 453.1l1.5 2.9h-3zM128.3 444.2l1.5 2.9h-3zM158.2 435.6l1.5 2.9h-3zM127.9 439.8l1.5 2.9h-3zM59.7 451.5l1.5 2.9h-3zM80.3 447.4l1.5 2.9h-3zM80 444.6l1.5 2.9h-3zM75.4 450.2l1.5 2.9h-3zM121.5 441.1l1.5 2.9h-3zM126.2 448.1l1.5 2.9h-3zM72.4 445.1l1.5 2.9h-3zM86 449l1.5 2.9h-3zM77.5 449.6l1.5 2.9h-3zM69.9 447.8l1.5 2.9h-3zM118.2 450.1l1.5 2.9h-3zM135.9 434.9l1.5 2.9h-3zM125.4 450.7l1.5 2.9h-3zM155.4 433.7l1.5 2.9h-3zM152.9 439.9l1.5 2.9h-3zM155.5 421.6l1.5 2.9h-3zM133.6 436.6l1.5 2.9h-3zM83.4 445.1l1.5 2.9h-3zM129.1 453.7l1.5 2.9h-3zM156 430l1.5 2.9h-3zM71.9 448.4l1.5 2.9h-3zM81.2 445l1.5 2.9h-3zM41.4 451.7l1.5 2.9h-3zM148.7 441.2l1.5 2.9h-3zM135.2 439.9l1.5 2.9h-3zM53.4 449.3l1.5 2.9h-3zM92.5 446.2l1.5 2.9h-3zM73.8 446.1l1.5 2.9h-3zM135.7 436.4l1.5 2.9h-3zM128.9 436.1l1.5 2.9h-3zM128.8 436.6l1.5 2.9h-3zM130.6 438.6l1.5 2.9h-3zM130 439.3l1.5 2.9h-3zM129.4 437.2l1.5 2.9h-3zM132.2 435.6l1.5 2.9h-3zM128 435l1.5 2.9h-3zM127.8 438.2l1.5 2.9h-3zM131.4 432.7l1.5 2.9h-3zM135.5 436.8l1.5 2.9h-3zM128.8 436.2l1.5 2.9h-3z"/>
<path fill="#c9b5b2" d="M45.8 450.9l1.5 2.9h-3zM89.1 451.5l1.5 2.9h-3zM64.6 454.3l1.5 2.9h-3zM50.4 449.8l1.5 2.9h-3zM63.8 450l1.5 2.9h-3zM67.8 454.8l1.5 2.9h-3zM84.6 448.2l1.5 2.9h-3zM48.5 453.6l1.5 2.9h-3zM69.2 454.8l1.5 2.9h-3zM85.5 444l1.5 2.9h-3zM88.6 449.7l1.5 2.9h-3zM47.8 453.9l1.5 2.9h-3zM60.9 447.5l1.5 2.9h-3zM81.7 445.7l1.5 2.9h-3zM59.3 447.3l1.5 2.9h-3zM79.1 452.6l1.5 2.9h-3zM54.6 454.4l1.5 2.9h-3zM58.4 449.5l1.5 2.9h-3zM43.1 455.1l1.5 2.9h-3zM78 447.4l1.5 2.9h-3zM56.6 451.6l1.5 2.9h-3zM43.8 453.1l1.5 2.9h-3zM54.6 452.1l1.5 2.9h-3zM49.6 455.1l1.5 2.9h-3zM61.5 454.7l1.5 2.9h-3zM97.2 447.8l1.5 2.9h-3zM95 452.8l1.5 2.9h-3zM90.1 448.5l1.5 2.9h-3zM87.7 453.5l1.5 2.9h-3zM94.2 447.7l1.5 2.9h-3zM48.9 452.1l1.5 2.9h-3zM69.1 453.3l1.5 2.9h-3zM86.8 450.1l1.5 2.9h-3zM96.3 452.3l1.5 2.9h-3zM76.1 451.1l1.5 2.9h-3zM46.8 453.1l1.5 2.9h-3zM59.9 449.9l1.5 2.9h-3zM50.1 445.9l1.5 2.9h-3zM85.6 451.2l1.5 2.9h-3zM88 448.9l1.5 2.9h-3zM62.9 446.5l1.5 2.9h-3zM38.5 446.5l1.5 2.9h-3zM95.3 454.4l1.5 2.9h-3zM92.6 447.6l1.5 2.9h-3zM95.7 451.1l1.5 2.9h-3zM84.4 451.2l1.5 2.9h-3zM99.4 453.7l1.5 2.9h-3zM55.3 450.6l1.5 2.9h-3zM46.3 451.1l1.5 2.9h-3zM89.7 455.2l1.5 2.9h-3zM88.6 451.7l1.5 2.9h-3zM54.9 452.4l1.5 2.9h-3zM75.4 446.6l1.5 2.9h-3zM44.2 449l1.5 2.9h-3zM47.6 446.8l1.5 2.9h-3zM98.2 451.1l1.5 2.9h-3zM92.1 444.7l1.5 2.9h-3zM49.2 448.6l1.5 2.9h-3zM78.7 451.3l1.5 2.9h-3zM82.2 454.7l1.5 2.9h-3zM71.1 446.8l1.5 2.9h-3zM69.3 451.6l1.5 2.9h-3zM80.4 451.7l1.5 2.9h-3zM40.1 450.2l1.5 2.9h-3zM97.8 450.4l1.5 2.9h-3zM76 451.9l1.5 2.9h-3zM67.8 453.7l1.5 2.9h-3zM55.8 453.4l1.5 2.9h-3zM55.3 450.5l1.5 2.9h-3zM76.4 451.8l1.5 2.9h-3zM50.4 454.9l1.5 2.9h-3zM81.6 454.1l1.5 2.9h-3zM43.8 454.1l1.5 2.9h-3zM62.3 445.6l1.5 2.9h-3zM55.9 454.7l1.5 2.9h-3zM38.6 453.4l1.5 2.9h-3zM81.3 451l1.5 2.9h-3zM93.1 448.8l1.5 2.9h-3zM62.4 447.3l1.5 2.9h-3zM53.3 451.6l1.5 2.9h-3zM78.9 452.6l1.5 2.9h-3zM45.5 447.5l1.5 2.9h-3zM90.9 454.2l1.5 2.9h-3zM69.6 449l1.5 2.9h-3zM80.4 451l1.5 2.9h-3zM57.3 446.7l1.5 2.9h-3zM70.9 449.5l1.5 2.9h-3zM73.3 444.7l1.5 2.9h-3zM76.7 449.4l1.5 2.9h-3zM87.1 449.4l1.5 2.9h-3zM65 455.1l1.5 2.9h-3zM65 445.3l1.5 2.9h-3zM64.8 451.6l1.5 2.9h-3zM40.9 451.5l1.5 2.9h-3zM61.3 453.5l1.5 2.9h-3zM95.5 452.6l1.5 2.9h-3zM80.3 450.5l1.5 2.9h-3zM61.5 451.6l1.5 2.9h-3zM88.9 449.2l1.5 2.9h-3zM55.3 444.8l1.5 2.9h-3zM64.1 447.2l1.5 2.9h-3zM56.3 450.1l1.5 2.9h-3zM63.6 450.5l1.5 2.9h-3zM47.1 448.4l1.5 2.9h-3zM73.7 449.6l1.5 2.9h-3zM47.2 450.2l1.5 2.9h-3zM66.3 447.1l1.5 2.9h-3zM85.3 444.5l1.5 2.9h-3zM93.6 454l1.5 2.9h-3zM79.1 452.6l1.5 2.9h-3zM62 445l1.5 2.9h-3zM51 449.4l1.5 2.9h-3zM55.7 448.6l1.5 2.9h-3zM55.2 453.9l1.5 2.9h-3zM79.4 449.9l1.5 2.9h-3zM85.7 452.4l1.5 2.9h-3zM47.3 449.9l1.5 2.9h-3zM66.4 447.3l1.5 2.9h-3zM85.1 455.1l1.5 2.9h-3zM81.4 451.8l1.5 2.9h-3zM45.2 452.4l1.5 2.9h-3zM73.8 449.5l1.5 2.9h-3zM96 451.8l1.5 2.9h-3zM91.2 448.4l1.5 2.9h-3zM53.1 453.3l1.5 2.9h-3zM90.2 451.4l1.5 2.9h-3zM99 451.2l1.5 2.9h-3zM96 452.2l1.5 2.9h-3zM91.9 455.7l1.5 2.9h-3zM45.9 452.1l1.5 2.9h-3zM65.2 455.2l1.5 2.9h-3zM79 452.6l1.5 2.9h-3zM91.9 451.2l1.5 2.9h-3zM89.6 454.7l1.5 2.9h-3zM63.9 455.5l1.5 2.9h-3zM60.4 452.4l1.5 2.9h-3zM81.5 450.6l1.5 2.9h-3zM55.5 454.8l1.5 2.9h-3zM64.4 449.8l1.5 2.9h-3zM90.9 454.1l1.5 2.9h-3zM55.8 450.3l1.5 2.9h-3zM90.7 450.8l1.5 2.9h-3zM42 445.6l1.5 2.9h-3zM43.8 448.9l1.5 2.9h-3zM60.9 453l1.5 2.9h-3zM80.3 453.5l1.5 2.9h-3zM52.2 445.5l1.5 2.9h-3zM97.6 452.5l1.5 2.9h-3zM75.3 452.5l1.5 2.9h-3zM43.3 448.7l1.5 2.9h-3zM53 450.4l1.5 2.9h-3zM91.4 452.2l1.5 2.9h-3zM45.4 451.8l1.5 2.9h-3zM40 454l1.5 2.9h-3zM53.7 453.6l1.5 2.9h-3zM40.2 454.4l1.5 2.9h-3zM50.9 454.4l1.5 2.9h-3zM68.6 449.7l1.5 2.9h-3zM89.5 446.8l1.5 2.9h-3zM66.6 448.3l1.5 2.9h-3zM72.6 451.4l1.5 2.9h-3zM45.6 447.8l1.5 2.9h-3zM59.7 450.6l1.5 2.9h-3zM78.5 446l1.5 2.9h-3zM68.1 447.5l1.5 2.9h-3zM96.3 445.5l1.5 2.9h-3zM64.2 450.8l1.5 2.9h-3zM95.3 452l1.5 2.9h-3zM51.4 447l1.5 2.9h-3zM80.2 446l1.5 2.9h-3zM85.8 453.8l1.5 2.9h-3zM97.9 448.8l1.5 2.9h-3zM49.1 450.8l1.5 2.9h-3zM76.5 453.5l1.5 2.9h-3zM95.7 449.6l1.5 2.9h-3zM69.2 446.6l1.5 2.9h-3zM99 454.1l1.5 2.9h-3zM94.2 449.2l1.5 2.9h-3zM56.7 455.3l1.5 2.9h-3zM68.4 449l1.5 2.9h-3zM58.5 445.4l1.5 2.9h-3zM88.1 451.8l1.5 2.9h-3zM41.9 453.5l1.5 2.9h-3zM80.8 449.4l1.5 2.9h-3zM38.8 453.7l1.5 2.9h-3zM41.9 446l1.5 2.9h-3zM86.4 450.3l1.5 2.9h-3zM51.6 451.5l1.5 2.9h-3zM73.6 448.1l1.5 2.9h-3zM94.6 452.8l1.5 2.9h-3zM49.4 452.5l1.5 2.9h-3zM62.7 450.2l1.5 2.9h-3zM86.3 446.1l1.5 2.9h-3zM76.3 455.2l1.5 2.9h-3zM77 454.8l1.5 2.9h-3zM50.3 451.2l1.5 2.9h-3zM70.8 453.8l1.5 2.9h-3zM90.1 452.1l1.5 2.9h-3zM70.9 447.5l1.5 2.9h-3zM77.8 446.4l1.5 2.9h-3zM81.5 448.3l1.5 2.9h-3zM61 455.3l1.5 2.9h-3zM70.2 448.7l1.5 2.9h-3zM60.4 444.8l1.5 2.9h-3zM55.5 453.6l1.5 2.9h-3zM43.1 453.6l1.5 2.9h-3zM93.1 445.1l1.5 2.9h-3zM59.6 450.5l1.5 2.9h-3zM82.3 448.4l1.5 2.9h-3zM51.2 447.4l1.5 2.9h-3zM75.2 444l1.5 2.9h-3zM84.1 453.5l1.5 2.9h-3zM81.4 448.6l1.5 2.9h-3zM67.8 454.1l1.5 2.9h-3zM99.2 446.9l1.5 2.9h-3zM47.9 447.4l1.5 2.9h-3zM84.2 451.2l1.5 2.9h-3zM46 450.9l1.5 2.9h-3zM69.4 454.2l1.5 2.9h-3zM38.9 447.5l1.5 2.9h-3zM42.3 452.4l1.5 2.9h-3zM93.9 453.1l1.5 2.9h-3zM84.1 455.1l1.5 2.9h-3zM40.8 454l1.5 2.9h-3zM43.7 451.1l1.5 2.9h-3zM45 452.1l1.5 2.9h-3zM90.3 454.3l1.5 2.9h-3zM67.9 443.4l1.5 2.9h-3zM89.8 454l1.5 2.9h-3zM75.5 452.4l1.5 2.9h-3zM85.7 454.9l1.5 2.9h-3zM46.5 450.3l1.5 2.9h-3zM82.8 451.8l1.5 2.9h-3zM56.7 455.5l1.5 2.9h-3zM77.7 453.7l1.5 2.9h-3zM47.9 453.8l1.5 2.9h-3zM58.7 453.7l1.5 2.9h-3zM87.8 449.9l1.5 2.9h-3zM43.1 447.5l1.5 2.9h-3zM48 451.1l1.5 2.9h-3zM56.1 453.5l1.5 2.9h-3zM51.4 447.6l1.5 2.9h-3zM89.6 445.7l1.5 2.9h-3zM92.5 445l1.5 2.9h-3zM89.5 451.2l1.5 2.9h-3zM65.4 454.3l1.5 2.9h-3zM77.4 448l1.5 2.9h-3zM73.6 452.7l1.5 2.9h-3zM78 445.8l1.5 2.9h-3zM76.3 454.7l1.5 2.9h-3zM95.3 447.4l1.5 2.9h-3zM78.5 451.6l1.5 2.9h-3zM40.5 451.7l1.5 2.9h-3zM84.7 454l1.5 2.9h-3zM72.7 449.1l1.5 2.9h-3zM86.9 449.3l1.5 2.9h-3zM59.2 445l1.5 2.9h-3zM51.3 446.1l1.5 2.9h-3zM69.6 448.9l1.5 2.9h-3zM52.5 454.7l1.5 2.9h-3zM74.7 449.5l1.5 2.9h-3zM72 453.7l1.5 2.9h-3zM81 454.4l1.5 2.9h-3zM40 448.6l1.5 2.9h-3zM86.9 455l1.5 2.9h-3zM45.9 448.9l1.5 2.9h-3zM67.7 451.8l1.5 2.9h-3zM64.2 452.1l1.5 2.9h-3zM98.8 452.3l1.5 2.9h-3zM87.5 454.7l1.5 2.9h-3zM94.6 448.5l1.5 2.9h-3zM55 444.9l1.5 2.9h-3zM69.3 453.3l1.5 2.9h-3zM92.3 447.9l1.5 2.9h-3zM91.2 451.2l1.5 2.9h-3zM75 450.7l1.5 2.9h-3zM69.4 448.8l1.5 2.9h-3zM54 448l1.5 2.9h-3zM71 453.6l1.5 2.9h-3zM91.7 454.3l1.5 2.9h-3zM82.7 450.3l1.5 2.9h-3zM89 451.9l1.5 2.9h-3zM75.7 451.5l1.5 2.9h-3zM44.4 450.5l1.5 2.9h-3zM50 449.1l1.5 2.9h-3zM64.4 452.9l1.5 2.9h-3zM93.2 447l1.5 2.9h-3zM67.8 450.1l1.5 2.9h-3zM96.2 454.4l1.5 2.9h-3zM67.9 451.4l1.5 2.9h-3zM83.5 449l1.5 2.9h-3zM81.1 450.6l1.5 2.9h-3zM39.2 449.9l1.5 2.9h-3zM65.2 453.3l1.5 2.9h-3zM73.7 446.6l1.5 2.9h-3zM99 450.6l1.5 2.9h-3zM88.7 448.8l1.5 2.9h-3zM53.1 454.3l1.5 2.9h-3zM56.7 451.5l1.5 2.9h-3zM68.5 450.1l1.5 2.9h-3zM60.7 453.8l1.5 2.9h-3zM61 445.3l1.5 2.9h-3zM73.4 454.5l1.5 2.9h-3zM41.4 453.4l1.5 2.9h-3zM64.9 451.1l1.5 2.9h-3zM42.9 448.9l1.5 2.9h-3zM39.5 455.3l1.5 2.9h-3zM90.9 446.6l1.5 2.9h-3zM42.2 453l1.5 2.9h-3zM78.9 455.6l1.5 2.9h-3zM86 450l1.5 2.9h-3zM43.5 447.8l1.5 2.9h-3zM43.3 446.3l1.5 2.9h-3zM40.3 453.5l1.5 2.9h-3zM92.3 448l1.5 2.9h-3zM67.9 449.6l1.5 2.9h-3zM47.7 452.6l1.5 2.9h-3zM98.7 447.4l1.5 2.9h-3zM76.3 452.1l1.5 2.9h-3zM92.9 444.3l1.5 2.9h-3zM44.5 454.6l1.5 2.9h-3zM74.4 453.9l1.5 2.9h-3zM85.1 451.8l1.5 2.9h-3zM65.8 453.5l1.5 2.9h-3zM69 454.8l1.5 2.9h-3zM41.7 449.6l1.5 2.9h-3zM51.6 455.3l1.5 2.9h-3zM54.3 447.9l1.5 2.9h-3zM65.7 452.2l1.5 2.9h-3zM39.4 454.4l1.5 2.9h-3zM43.9 445.5l1.5 2.9h-3zM74.7 445.5l1.5 2.9h-3zM99.1 454.2l1.5 2.9h-3zM54.3 455.5l1.5 2.9h-3zM71 452.6l1.5 2.9h-3zM69 454.7l1.5 2.9h-3zM86 454.9l1.5 2.9h-3zM71.2 446.5l1.5 2.9h-3zM69.9 453.8l1.5 2.9h-3zM41 448.5l1.5 2.9h-3zM39.4 449.7l1.5 2.9h-3zM65.8 455.1l1.5 2.9h-3zM46.1 454.1l1.5 2.9h-3zM58.2 453.4l1.5 2.9h-3zM47.7 454.6l1.5 2.9h-3zM87.3 450.3l1.5 2.9h-3zM56.5 448.7l1.5 2.9h-3zM78.4 444.8l1.5 2.9h-3zM74.9 455l1.5 2.9h-3zM81.5 449.7l1.5 2.9h-3zM55.2 447.9l1.5 2.9h-3zM48.4 455.4l1.5 2.9h-3zM92 452.3l1.5 2.9h-3zM68.8 454.4l1.5 2.9h-3zM82.6 454l1.5 2.9h-3zM65.8 450.5l1.5 2.9h-3zM40.1 448l1.5 2.9h-3zM46 454.1l1.5 2.9h-3zM47.6 451l1.5 2.9h-3zM40.5 445.8l1.5 2.9h-3zM139.2 451l1.5 2.9h-3zM140.7 447l1.5 2.9h-3zM116 450.8l1.5 2.9h-3zM111.9 449.8l1.5 2.9h-3zM143.7 441.9l1.5 2.9h-3zM148.1 438.2l1.5 2.9h-3zM117.3 447.8l1.5 2.9h-3zM118.9 443l1.5 2.9h-3zM147.6 445.4l1.5 2.9h-3zM148.2 442.8l1.5 2.9h-3zM110.3 452.5l1.5 2.9h-3zM115.7 447.6l1.5 2.9h-3zM145.5 437.9l1.5 2.9h-3zM142.4 449.2l1.5 2.9h-3zM122.9 450.1l1.5 2.9h-3zM148 431.6l1.5 2.9h-3zM141.4 442.7l1.5 2.9h-3zM126.2 454.5l1.5 2.9h-3zM129.8 438l1.5 2.9h-3zM112.6 451.6l1.5 2.9h-3zM124.4 443l1.5 2.9h-3zM106.8 445.9l1.5 2.9h-3zM131 441.5l1.5 2.9h-3zM104.4 453.8l1.5 2.9h-3zM100.6 446.2l1.5 2.9h-3zM157.8 426.5l1.5 2.9h-3zM108.2 444.1l1.5 2.9h-3zM119.2 450.3l1.5 2.9h-3zM153 421.2l1.5 2.9h-3zM105 446.8l1.5 2.9h-3zM134.6 452.1l1.5 2.9h-3zM130 440.4l1.5 2.9h-3zM135.2 439.7l1.5 2.9h-3zM139.3 443.4l1.5 2.9h-3zM129.8 440.7l1.5 2.9h-3zM154.1 423.8l1.5 2.9h-3zM138.5 451.9l1.5 2.9h-3zM109.4 449.7l1.5 2.9h-3zM134.7 453.2l1.5 2.9h-3zM103.1 454.6l1.5 2.9h-3zM115.7 452.5l1.5 2.9h-3zM154.2 440.9l1.5 2.9h-3zM103.4 451.9l1.5 2.9h-3zM120.6 454.1l1.5 2.9h-3zM104.1 452.7l1.5 2.9h-3zM153.6 426l1.5 2.9h-3zM103.4 448l1.5 2.9h-3zM133.8 445.7l1.5 2.9h-3zM127.7 438.7l1.5 2.9h-3zM152.9 433.8l1.5 2.9h-3zM102.9 445.8l1.5 2.9h-3zM100.9 449.4l1.5 2.9h-3zM149.5 431.7l1.5 2.9h-3zM111 455l1.5 2.9h-3zM126.3 452.2l1.5 2.9h-3zM154.6 438.7l1.5 2.9h-3zM119.1 449.1l1.5 2.9h-3zM112.8 450.1l1.5 2.9h-3zM149.6 447.3l1.5 2.9h-3zM148.1 445.4l1.5 2.9h-3zM159.6 416.8l1.5 2.9h-3zM147.6 440.9l1.5 2.9h-3zM136 440.8l1.5 2.9h-3zM112.5 451.3l1.5 2.9h-3zM145.2 444.8l1.5 2.9h-3zM133.3 449.6l1.5 2.9h-3zM125.3 447.7l1.5 2.9h-3zM135.1 446.5l1.5 2.9h-3zM109.3 448.8l1.5 2.9h-3zM156 424.7l1.5 2.9h-3zM122.4 440.4l1.5 2.9h-3zM155.8 429.4l1.5 2.9h-3zM146.8 432.1l1.5 2.9h-3zM138.9 434.6l1.5 2.9h-3zM116.9 454.2l1.5 2.9h-3zM142 448.2l1.5 2.9h-3zM122 449.3l1.5 2.9h-3zM155.1 439.2l1.5 2.9h-3zM121.7 446.5l1.5 2.9h-3zM151.5 426.3l1.5 2.9h-3zM102.8 449.8l1.5 2.9h-3zM148.4 424.8l1.5 2.9h-3zM130.1 449.4l1.5 2.9h-3zM136 438.7l1.5 2.9h-3zM137.2 434.7l1.5 2.9h-3zM158.9 426.9l1.5 2.9h-3zM137.2 441.4l1.5 2.9h-3zM156.8 424l1.5 2.9h-3zM142.4 449.8l1.5 2.9h-3zM127 447.3l1.5 2.9h-3zM155.2 425.2l1.5 2.9h-3zM145.4 444.1l1.5 2.9h-3zM141.9 434l1.5 2.9h-3zM155.1 435.4l1.5 2.9h-3zM111.4 443.9l1.5 2.9h-3zM110.8 448.9l1.5 2.9h-3zM136.2 452.1l1.5 2.9h-3zM121 444.2l1.5 2.9h-3zM109.4 447.4l1.5 2.9h-3zM116.2 446.5l1.5 2.9h-3zM102.4 451.2l1.5 2.9h-3zM150 426.7l1.5 2.9h-3zM107.3 449.4l1.5 2.9h-3zM101.6 448.7l1.5 2.9h-3zM133.3 445.6l1.5 2.9h-3zM115.8 448.4l1.5 2.9h-3zM109.1 449.6l1.5 2.9h-3zM131.2 450.7l1.5 2.9h-3zM125 449.8l1.5 2.9h-3zM123.2 439.7l1.5 2.9h-3zM139.6 442.8l1.5 2.9h-3zM109.9 447.9l1.5 2.9h-3zM129.4 449l1.5 2.9h-3zM155.2 429.3l1.5 2.9h-3zM121.7 449.1l1.5 2.9h-3zM144.1 445.6l1.5 2.9h-3zM122.5 452.4l1.5 2.9h-3zM114.5 452.4l1.5 2.9h-3zM123.5 453l1.5 2.9h-3zM104.3 443.9l1.5 2.9h-3zM117.2 445l1.5 2.9h-3zM118.6 441.2l1.5 2.9h-3zM149.7 425.3l1.5 2.9h-3zM151.1 438.3l1.5 2.9h-3zM145.9 448.2l1.5 2.9h-3zM129.8 449.3l1.5 2.9h-3zM104.3 451.5l1.5 2.9h-3zM141.3 449.8l1.5 2.9h-3zM130.2 453.2l1.5 2.9h-3zM148.5 423.9l1.5 2.9h-3zM128.9 448.3l1.5 2.9h-3zM102.7 449.2l1.5 2.9h-3zM131.2 452.5l1.5 2.9h-3zM107.5 454.6l1.5 2.9h-3zM153.5 442.2l1.5 2.9h-3zM103 447.4l1.5 2.9h-3zM126.1 448.6l1.5 2.9h-3zM108.2 452.9l1.5 2.9h-3zM133.6 437.6l1.5 2.9h-3zM103 452.2l1.5 2.9h-3zM158.7 433.5l1.5 2.9h-3zM139.1 434l1.5 2.9h-3zM150.2 445.9l1.5 2.9h-3zM122.8 443.7l1.5 2.9h-3zM120.6 452.9l1.5 2.9h-3zM124.6 442.1l1.5 2.9h-3zM101.5 447.8l1.5 2.9h-3zM141.7 448.6l1.5 2.9h-3zM132.4 443.1l1.5 2.9h-3zM137 441.8l1.5 2.9h-3zM118.5 455.5l1.5 2.9h-3zM103.3 454.9l1.5 2.9h-3zM139.9 449.1l1.5 2.9h-3zM150.1 442.2l1.5 2.9h-3zM124.1 440.1l1.5 2.9h-3zM124.4 441.1l1.5 2.9h-3zM115.6 447.1l1.5 2.9h-3zM113.6 452.3l1.5 2.9h-3zM144.7 445.5l1.5 2.9h-3zM132.3 443.9l1.5 2.9h-3zM159.1 433.4l1.5 2.9h-3zM136.7 451.6l1.5 2.9h-3zM110.6 452.7l1.5 2.9h-3zM115.7 453.8l1.5 2.9h-3zM140.5 441.8l1.5 2.9h-3zM121.4 453.6l1.5 2.9h-3zM142.3 444.7l1.5 2.9h-3zM139.4 452.2l1.5 2.9h-3zM147 436l1.5 2.9h-3zM136.1 441.1l1.5 2.9h-3zM129.8 453.1l1.5 2.9h-3zM130.3 448.6l1.5 2.9h-3zM115.8 448.3l1.5 2.9h-3zM111.9 449.8l1.5 2.9h-3zM150.1 427l1.5 2.9h-3zM140.7 436.2l1.5 2.9h-3zM134.5 443.7l1.5 2.9h-3zM147.4 426.3l1.5 2.9h-3zM105.5 455l1.5 2.9h-3zM135.9 441.6l1.5 2.9h-3zM150.4 430l1.5 2.9h-3zM134.3 452.4l1.5 2.9h-3zM152.5 436.4l1.5 2.9h-3zM107.5 450.2l1.5 2.9h-3zM157.1 419.1l1.5 2.9h-3zM117.5 450.3l1.5 2.9h-3zM142.1 439.7l1.5 2.9h-3zM157.8 426.4l1.5 2.9h-3zM133.5 438.2l1.5 2.9h-3zM117.1 450.4l1.5 2.9h-3zM158.8 427.5l1.5 2.9h-3zM115.5 445.9l1.5 2.9h-3zM143 445.1l1.5 2.9h-3zM135.4 445.8l1.5 2.9h-3zM130.9 450.4l1.5 2.9h-3zM146.7 443.6l1.5 2.9h-3zM155.5 437.2l1.5 2.9h-3zM157.2 421.6l1.5 2.9h-3zM146.8 425.4l1.5 2.9h-3zM149.4 440.9l1.5 2.9h-3zM101.8 448.8l1.5 2.9h-3zM122.3 448.3l1.5 2.9h-3zM133.7 441.6l1.5 2.9h-3zM128.5 450.8l1.5 2.9h-3zM156.1 429.6l1.5 2.9h-3zM155 419.1l1.5 2.9h-3zM128.9 441.1l1.5 2.9h-3zM155.2 425.5l1.5 2.9h-3zM121.3 453.3l1.5 2.9h-3zM147.6 439.1l1.5 2.9h-3zM108 448.1l1.5 2.9h-3zM159.4 438.1l1.5 2.9h-3zM127.1 446.2l1.5 2.9h-3zM158.4 420.3l1.5 2.9h-3zM115.4 454.6l1.5 2.9h-3zM116.7 452.1l1.5 2.9h-3zM116.8 452.8l1.5 2.9h-3zM117.6 454l1.5 2.9h-3zM105.3 453.8l1.5 2.9h-3zM147.3 431.1l1.5 2.9h-3zM130.6 450l1.5 2.9h-3zM130.9 453.9l1.5 2.9h-3zM115.9 455.5l1.5 2.9h-3zM128.9 451.1l1.5 2.9h-3zM127.6 449.6l1.5 2.9h-3zM101 455.2l1.5 2.9h-3zM118 449.1l1.5 2.9h-3zM110.3 445.3l1.5 2.9h-3zM117.9 447.1l1.5 2.9h-3zM125.7 449.1l1.5 2.9h-3zM159.2 438.2l1.5 2.9h-3zM122.5 439.4l1.5 2.9h-3zM153.5 420.9l1.5 2.9h-3zM144.4 430.9l1.5 2.9h-3zM159.2 424l1.5 2.9h-3zM149 447l1.5 2.9h-3zM156.5 423.4l1.5 2.9h-3zM108.8 453.1l1.5 2.9h-3zM147 446.3l1.5 2.9h-3zM121 455l1.5 2.9h-3zM123.5 445.3l1.5 2.9h-3zM106.6 444.6l1.5 2.9h-3zM108.6 449.2l1.5 2.9h-3zM140.7 431l1.5 2.9h-3zM113.2 451.1l1.5 2.9h-3zM138.8 435.7l1.5 2.9h-3zM121.3 443.7l1.5 2.9h-3zM138.1 450.9l1.5 2.9h-3zM137.6 443.2l1.5 2.9h-3zM112.9 451.7l1.5 2.9h-3zM154.5 424.4l1.5 2.9h-3zM142.8 443.5l1.5 2.9h-3zM133.9 448.1l1.5 2.9h-3zM137.1 437.4l1.5 2.9h-3zM138.9 441.8l1.5 2.9h-3zM121.3 449.1l1.5 2.9h-3zM136.6 443.9l1.5 2.9h-3zM109.4 451.3l1.5 2.9h-3zM159.3 429.5l1.5 2.9h-3zM142 435.1l1.5 2.9h-3zM146 441l1.5 2.9h-3zM144.8 449.6l1.5 2.9h-3zM151 444.2l1.5 2.9h-3zM127.7 453l1.5 2.9h-3zM115.3 445.7l1.5 2.9h-3zM101.9 448.1l1.5 2.9h-3zM130.9 437.7l1.5 2.9h-3zM109.3 451.8l1.5 2.9h-3zM127.9 448.5l1.5 2.9h-3zM103.7 447.9l1.5 2.9h-3zM146.6 448.6l1.5 2.9h-3zM121.4 440.4l1.5 2.9h-3zM118.4 452.7l1.5 2.9h-3zM148.1 432.9l1.5 2.9h-3zM123.9 452.4l1.5 2.9h-3zM128.2 441.5l1.5 2.9h-3zM139.8 451.9l1.5 2.9h-3zM102 444.2l1.5 2.9h-3zM118.6 454.3l1.5 2.9h-3zM159.7 420.6l1.5 2.9h-3zM141.1 439.6l1.5 2.9h-3zM107.8 451.5l1.5 2.9h-3zM157 417.6l1.5 2.9h-3zM155.8 430.8l1.5 2.9h-3zM139.3 451.6l1.5 2.9h-3zM101 454.4l1.5 2.9h-3zM125 452.9l1.5 2.9h-3zM123.1 451.2l1.5 2.9h-3zM110.7 446.1l1.5 2.9h-3zM136.2 434.8l1.5 2.9h-3zM117.3 448.4l1.5 2.9h-3zM140.2 433.8l1.5 2.9h-3zM114.8 448.7l1.5 2.9h-3zM154.7 425.7l1.5 2.9h-3zM116.5 444.3l1.5 2.9h-3zM100.9 449.8l1.5 2.9h-3zM150.9 431.9l1.5 2.9h-3zM113.4 453.9l1.5 2.9h-3zM102.6 444.9l1.5 2.9h-3zM156.9 428.6l1.5 2.9h-3zM198.6 411.1l1.5 2.9h-3zM225.6 416.8l1.5 2.9h-3zM227.1 416.3l1.5 2.9h-3zM216.7 415.3l1.5 2.9h-3zM175.5 417.4l1.5 2.9h-3zM240.4 417.5l1.5 2.9h-3zM201.3 422.7l1.5 2.9h-3zM220.7 416.5l1.5 2.9h-3zM182.4 413.8l1.5 2.9h-3zM169.3 414.5l1.5 2.9h-3zM164.5 417.8l1.5 2.9h-3zM165 421.2l1.5 2.9h-3zM241.5 417.5l1.5 2.9h-3zM167.2 417.3l1.5 2.9h-3zM171.9 416.6l1.5 2.9h-3zM235.7 414.6l1.5 2.9h-3zM160.7 416.1l1.5 2.9h-3zM229.2 412.5l1.5 2.9h-3zM224.9 417.9l1.5 2.9h-3zM236.2 417.2l1.5 2.9h-3zM213.7 416.4l1.5 2.9h-3zM181.2 413.5l1.5 2.9h-3zM242.8 415.1l1.5 2.9h-3zM224.8 414.3l1.5 2.9h-3zM182.1 416.7l1.5 2.9h-3zM182.9 415.1l1.5 2.9h-3zM224 416.9l1.5 2.9h-3zM206 418.4l1.5 2.9h-3zM234.5 419.3l1.5 2.9h-3zM189.9 413.1l1.5 2.9h-3zM176.4 415l1.5 2.9h-3zM222.1 412.9l1.5 2.9h-3zM165.2 419.3l1.5 2.9h-3zM185.5 413.5l1.5 2.9h-3zM194.8 419.6l1.5 2.9h-3zM206.8 414.5l1.5 2.9h-3zM203.2 418.7l1.5 2.9h-3zM234.2 414.4l1.5 2.9h-3zM229.2 415.3l1.5 2.9h-3zM173.8 416.2l1.5 2.9h-3zM172 416.1l1.5 2.9h-3zM215.1 415.5l1.5 2.9h-3zM191.3 417.7l1.5 2.9h-3zM241.9 419.2l1.5 2.9h-3zM185 418.2l1.5 2.9h-3zM176.6 414.6l1.5 2.9h-3zM188.8 410.8l1.5 2.9h-3zM218.8 416.2l1.5 2.9h-3zM207.4 408.1l1.5 2.9h-3zM180.8 417.7l1.5 2.9h-3zM235.9 417.6l1.5 2.9h-3zM238.1 412.5l1.5 2.9h-3zM227.6 417.5l1.5 2.9h-3zM184.9 414.1l1.5 2.9h-3zM164.9 419.4l1.5 2.9h-3zM213.9 413.8l1.5 2.9h-3zM215.3 413.6l1.5 2.9h-3zM234.8 414.1l1.5 2.9h-3zM162.1 416.5l1.5 2.9h-3zM179.6 413l1.5 2.9h-3zM238.1 422.1l1.5 2.9h-3zM243.2 414.9l1.5 2.9h-3zM188.7 420.7l1.5 2.9h-3zM232.5 415.1l1.5 2.9h-3zM228.6 415l1.5 2.9h-3zM169.3 413.9l1.5 2.9h-3zM224.1 413.8l1.5 2.9h-3zM193.8 417.1l1.5 2.9h-3zM187.1 419.2l1.5 2.9h-3zM219.5 416.2l1.5 2.9h-3zM195.9 413.4l1.5 2.9h-3zM233.8 416.5l1.5 2.9h-3zM183.5 413.7l1.5 2.9h-3zM180.3 408.5l1.5 2.9h-3zM166.5 416.2l1.5 2.9h-3zM231 411.1l1.5 2.9h-3zM191.8 414.2l1.5 2.9h-3zM165.1 416l1.5 2.9h-3zM241.6 414.8l1.5 2.9h-3zM173 415.2l1.5 2.9h-3zM178.4 420.1l1.5 2.9h-3zM216.5 418.5l1.5 2.9h-3zM241.1 420l1.5 2.9h-3zM240.6 416.5l1.5 2.9h-3zM242.6 416.5l1.5 2.9h-3zM188.6 420.7l1.5 2.9h-3zM189.4 414.2l1.5 2.9h-3zM165 416.8l1.5 2.9h-3zM224.4 416.3l1.5 2.9h-3zM231.8 416.7l1.5 2.9h-3zM161.9 417.5l1.5 2.9h-3zM187.4 416.2l1.5 2.9h-3zM234.4 418.1l1.5 2.9h-3zM194.4 413.6l1.5 2.9h-3zM226.2 417.2l1.5 2.9h-3zM194.9 413l1.5 2.9h-3zM240.4 418.8l1.5 2.9h-3zM167.4 418.6l1.5 2.9h-3zM221.2 415.3l1.5 2.9h-3zM238.5 414.5l1.5 2.9h-3zM226.3 415.8l1.5 2.9h-3zM231 417.4l1.5 2.9h-3zM186.4 411.7l1.5 2.9h-3zM205.8 413.1l1.5 2.9h-3zM202 418.4l1.5 2.9h-3zM162.8 415.3l1.5 2.9h-3zM226.2 412.4l1.5 2.9h-3zM165.5 409.8l1.5 2.9h-3zM178.9 414.6l1.5 2.9h-3zM184 411.1l1.5 2.9h-3zM238.1 416.2l1.5 2.9h-3zM236.1 415.6l1.5 2.9h-3zM188.8 420.9l1.5 2.9h-3zM190.9 412.4l1.5 2.9h-3zM175 417.6l1.5 2.9h-3zM183.2 412.6l1.5 2.9h-3zM166.9 413l1.5 2.9h-3zM236.4 415.3l1.5 2.9h-3zM188.7 413.5l1.5 2.9h-3zM176.9 420.8l1.5 2.9h-3zM167.6 415.7l1.5 2.9h-3zM172.2 413.8l1.5 2.9h-3zM162.9 422.1l1.5 2.9h-3zM194.1 413.6l1.5 2.9h-3zM228.8 414.8l1.5 2.9h-3zM236.8 415.2l1.5 2.9h-3zM180.3 413.7l1.5 2.9h-3zM169.3 417.4l1.5 2.9h-3zM191.4 419l1.5 2.9h-3zM161.7 412.3l1.5 2.9h-3zM227.8 414.5l1.5 2.9h-3zM185.6 414.8l1.5 2.9h-3zM185.5 412l1.5 2.9h-3zM233.6 412.2l1.5 2.9h-3zM238.1 414.8l1.5 2.9h-3zM235.6 413.3l1.5 2.9h-3zM202.4 416.6l1.5 2.9h-3zM188 418l1.5 2.9h-3zM166.8 416.3l1.5 2.9h-3zM239.8 416.5l1.5 2.9h-3zM163 413.3l1.5 2.9h-3zM228.8 414.1l1.5 2.9h-3zM231.3 416.8l1.5 2.9h-3zM227.8 417.3l1.5 2.9h-3zM230.8 415.5l1.5 2.9h-3zM195.6 417.2l1.5 2.9h-3zM232.2 415.1l1.5 2.9h-3zM190.1 412.6l1.5 2.9h-3zM238.7 416.6l1.5 2.9h-3zM164.2 414.6l1.5 2.9h-3zM232.2 411.1l1.5 2.9h-3zM191.5 418l1.5 2.9h-3zM208.1 416.8l1.5 2.9h-3zM163 417.7l1.5 2.9h-3zM161 414.5l1.5 2.9h-3zM168.5 419.8l1.5 2.9h-3zM178.9 417l1.5 2.9h-3zM185.2 418.4l1.5 2.9h-3zM213.5 414l1.5 2.9h-3zM195.4 414.9l1.5 2.9h-3zM211.5 419.2l1.5 2.9h-3zM182.8 415.7l1.5 2.9h-3zM168.6 415.8l1.5 2.9h-3zM223.7 419.8l1.5 2.9h-3zM209.3 418.9l1.5 2.9h-3zM232.9 416.4l1.5 2.9h-3zM236.6 420.9l1.5 2.9h-3zM198.6 411.7l1.5 2.9h-3zM176.4 415.6l1.5 2.9h-3zM174.4 414.3l1.5 2.9h-3zM197.5 419.7l1.5 2.9h-3zM184.5 420l1.5 2.9h-3zM219.4 414.5l1.5 2.9h-3zM199 416.2l1.5 2.9h-3zM208.4 418.3l1.5 2.9h-3zM188.9 417.2l1.5 2.9h-3zM224.9 416.5l1.5 2.9h-3zM203 418.5l1.5 2.9h-3zM231 421l1.5 2.9h-3zM199.4 416.1l1.5 2.9h-3zM230.9 412.8l1.5 2.9h-3zM228.3 415.5l1.5 2.9h-3zM183.7 415.7l1.5 2.9h-3zM184.6 414.8l1.5 2.9h-3zM242.6 417.7l1.5 2.9h-3zM193.9 417.8l1.5 2.9h-3zM212.4 418.2l1.5 2.9h-3zM235.9 417.1l1.5 2.9h-3zM205 416.5l1.5 2.9h-3zM165.6 413l1.5 2.9h-3zM194.2 414.9l1.5 2.9h-3zM204.2 413.5l1.5 2.9h-3zM239 416.6l1.5 2.9h-3zM238.5 415.5l1.5 2.9h-3zM182.8 415.7l1.5 2.9h-3zM169.4 417.2l1.5 2.9h-3zM201.4 415l1.5 2.9h-3zM194.9 418.6l1.5 2.9h-3zM223.2 418.6l1.5 2.9h-3zM200.4 413.3l1.5 2.9h-3zM173.3 419.3l1.5 2.9h-3zM193.3 414.9l1.5 2.9h-3zM175.8 413.9l1.5 2.9h-3zM225.9 414.9l1.5 2.9h-3zM204.1 412.4l1.5 2.9h-3zM222.8 416.7l1.5 2.9h-3zM170.6 419l1.5 2.9h-3zM243.5 411.7l1.5 2.9h-3zM196.9 416.9l1.5 2.9h-3zM212.2 417.3l1.5 2.9h-3zM225.9 417.5l1.5 2.9h-3zM218.7 417.5l1.5 2.9h-3zM238.4 417l1.5 2.9h-3zM172.6 414.5l1.5 2.9h-3zM222.7 418.2l1.5 2.9h-3zM239.9 416.7l1.5 2.9h-3zM225.5 417.9l1.5 2.9h-3zM227.9 416.6l1.5 2.9h-3zM170.5 415.1l1.5 2.9h-3zM180.8 415.7l1.5 2.9h-3zM242.2 417.4l1.5 2.9h-3zM187.8 418.6l1.5 2.9h-3zM213.1 410.7l1.5 2.9h-3zM208.1 412.4l1.5 2.9h-3zM242.5 411.4l1.5 2.9h-3zM188 414.4l1.5 2.9h-3zM180.9 414l1.5 2.9h-3zM201.4 416.3l1.5 2.9h-3zM227.7 415l1.5 2.9h-3zM181.2 419.3l1.5 2.9h-3zM167.7 414.1l1.5 2.9h-3zM177.5 413.9l1.5 2.9h-3zM220.2 413.6l1.5 2.9h-3zM168.4 415l1.5 2.9h-3zM209.4 416.2l1.5 2.9h-3zM241.1 414.5l1.5 2.9h-3zM234.4 413.3l1.5 2.9h-3zM181.9 412.1l1.5 2.9h-3zM161 416.3l1.5 2.9h-3zM162.4 414.3l1.5 2.9h-3zM226.1 413.2l1.5 2.9h-3zM227.6 415.1l1.5 2.9h-3zM170.4 416.7l1.5 2.9h-3zM213.5 421.2l1.5 2.9h-3zM176.9 420.1l1.5 2.9h-3zM186.6 413.4l1.5 2.9h-3zM205.6 414.6l1.5 2.9h-3zM240.4 410.6l1.5 2.9h-3zM164.7 410.5l1.5 2.9h-3zM219.8 410.8l1.5 2.9h-3zM233.6 418.2l1.5 2.9h-3zM198.8 415.4l1.5 2.9h-3zM236.1 411.8l1.5 2.9h-3zM191.9 414l1.5 2.9h-3zM162.8 414.4l1.5 2.9h-3zM194.8 414l1.5 2.9h-3zM201 419.7l1.5 2.9h-3zM210.6 410.6l1.5 2.9h-3zM164.5 414.5l1.5 2.9h-3zM163.7 416.4l1.5 2.9h-3zM170.8 417l1.5 2.9h-3zM172.1 410l1.5 2.9h-3zM177.7 416.2l1.5 2.9h-3zM212.4 412.4l1.5 2.9h-3zM189.8 414.2l1.5 2.9h-3zM232.7 411.5l1.5 2.9h-3zM233.1 417.8l1.5 2.9h-3zM234.6 424l1.5 2.9h-3zM231 418.4l1.5 2.9h-3zM243.3 415l1.5 2.9h-3zM205.9 411.1l1.5 2.9h-3zM192.9 418.1l1.5 2.9h-3zM196 418.9l1.5 2.9h-3zM169.1 412.8l1.5 2.9h-3zM173.4 418.3l1.5 2.9h-3zM240.4 411l1.5 2.9h-3zM219.1 412.4l1.5 2.9h-3zM233.5 416.1l1.5 2.9h-3zM233.9 412l1.5 2.9h-3zM229.5 417.8l1.5 2.9h-3zM190.8 419.6l1.5 2.9h-3zM164.1 415.9l1.5 2.9h-3zM196.4 417.1l1.5 2.9h-3zM241.9 420l1.5 2.9h-3zM170.1 417.2l1.5 2.9h-3zM204.9 419.3l1.5 2.9h-3zM173.8 419.6l1.5 2.9h-3zM228.1 413l1.5 2.9h-3zM230.5 421.6l1.5 2.9h-3zM169.5 419l1.5 2.9h-3zM212.8 416.2l1.5 2.9h-3zM242.8 418l1.5 2.9h-3zM186.5 416.7l1.5 2.9h-3zM201.6 416.4l1.5 2.9h-3zM196.5 413.2l1.5 2.9h-3zM192 414.8l1.5 2.9h-3zM201.8 415l1.5 2.9h-3zM176.6 418.7l1.5 2.9h-3zM202.2 417.1l1.5 2.9h-3zM197.1 416.9l1.5 2.9h-3zM238.8 415.6l1.5 2.9h-3zM192.4 419.2l1.5 2.9h-3zM236 409.3l1.5 2.9h-3zM219.1 413.4l1.5 2.9h-3zM236.8 418.4l1.5 2.9h-3zM239.2 414.8l1.5 2.9h-3zM232.8 417.6l1.5 2.9h-3zM199.5 420.1l1.5 2.9h-3zM216.6 418l1.5 2.9h-3zM174.3 411.9l1.5 2.9h-3zM239.5 415.3l1.5 2.9h-3zM231 412.8l1.5 2.9h-3zM199.9 417.1l1.5 2.9h-3zM227.5 418.6l1.5 2.9h-3zM212.8 415.2l1.5 2.9h-3zM165.2 417.2l1.5 2.9h-3zM185.7 415.3l1.5 2.9h-3zM164.7 421l1.5 2.9h-3zM213.6 416.2l1.5 2.9h-3zM231.3 416.5l1.5 2.9h-3zM172.4 417.4l1.5 2.9h-3zM169.7 418.7l1.5 2.9h-3zM165.3 417.7l1.5 2.9h-3zM202.9 415.8l1.5 2.9h-3zM241.3 416l1.5 2.9h-3zM239.1 417.2l1.5 2.9h-3zM215.2 417.5l1.5 2.9h-3zM187.7 414.9l1.5 2.9h-3zM233.2 414.3l1.5 2.9h-3zM161.7 415.3l1.5 2.9h-3zM201 417.1l1.5 2.9h-3zM208.6 414.7l1.5 2.9h-3zM242.8 413l1.5 2.9h-3zM188.7 415l1.5 2.9h-3zM242.1 414.6l1.5 2.9h-3zM192.3 417.5l1.5 2.9h-3zM239.7 414.5l1.5 2.9h-3zM209 414.8l1.5 2.9h-3zM187 420.9l1.5 2.9h-3zM205.6 417.1l1.5 2.9h-3zM221 423.2l1.5 2.9h-3zM229 420.7l1.5 2.9h-3zM162.8 413.4l1.5 2.9h-3zM208.2 417l1.5 2.9h-3zM185.3 422.3l1.5 2.9h-3zM209.9 420.2l1.5 2.9h-3zM212.9 424.1l1.5 2.9h-3zM193.7 410.9l1.5 2.9h-3zM231.7 418.3l1.5 2.9h-3zM228.1 424l1.5 2.9h-3zM165 418l1.5 2.9h-3zM234.3 421l1.5 2.9h-3zM222 409.6l1.5 2.9h-3zM231 411.6l1.5 2.9h-3zM185.5 409.7l1.5 2.9h-3zM193.9 421l1.5 2.9h-3zM222.4 411.4l1.5 2.9h-3zM232.3 410.9l1.5 2.9h-3zM184.5 409.9l1.5 2.9h-3zM216.9 422.2l1.5 2.9h-3zM192.7 419.1l1.5 2.9h-3zM199.2 422.8l1.5 2.9h-3zM200.8 417.8l1.5 2.9h-3zM192.2 422.2l1.5 2.9h-3zM234.2 415.6l1.5 2.9h-3zM229.8 419l1.5 2.9h-3zM163.6 418.6l1.5 2.9h-3zM165.3 414.6l1.5 2.9h-3zM166.7 420.4l1.5 2.9h-3zM172.2 413.5l1.5 2.9h-3zM177.9 418.6l1.5 2.9h-3zM176.5 415.7l1.5 2.9h-3zM183.7 411l1.5 2.9h-3zM192.6 423.8l1.5 2.9h-3zM220.5 416.5l1.5 2.9h-3zM209.9 422.8l1.5 2.9h-3zM170.4 420.7l1.5 2.9h-3zM216.2 412.9l1.5 2.9h-3zM208.5 423.9l1.5 2.9h-3zM160.2 411.4l1.5 2.9h-3zM232.6 422.1l1.5 2.9h-3zM177.3 410.8l1.5 2.9h-3zM201.8 423.8l1.5 2.9h-3zM203.3 414.1l1.5 2.9h-3zM164.8 419l1.5 2.9h-3zM172.1 420.2l1.5 2.9h-3zM174.3 422l1.5 2.9h-3zM236.9 420.6l1.5 2.9h-3zM235 411.2l1.5 2.9h-3zM233.6 424.1l1.5 2.9h-3zM180.6 419.6l1.5 2.9h-3zM194.9 418.3l1.5 2.9h-3zM205.5 415.1l1.5 2.9h-3zM164.6 424.9l1.5 2.9h-3zM171.3 413.4l1.5 2.9h-3zM199.6 418.8l1.5 2.9h-3zM169.2 425.2l1.5 2.9h-3zM198.5 419.7l1.5 2.9h-3zM204.3 415.5l1.5 2.9h-3zM162.5 423.2l1.5 2.9h-3zM224.7 421.1l1.5 2.9h-3zM192.3 409.6l1.5 2.9h-3zM199.7 412.7l1.5 2.9h-3zM214.8 416.1l1.5 2.9h-3zM232.7 420.4l1.5 2.9h-3zM173.3 412.6l1.5 2.9h-3zM175 413.9l1.5 2.9h-3zM213 420.2l1.5 2.9h-3zM234.3 418.7l1.5 2.9h-3zM178.2 411.3l1.5 2.9h-3zM199.1 425l1.5 2.9h-3zM163.4 422l1.5 2.9h-3zM160.7 425.1l1.5 2.9h-3zM237.5 410.4l1.5 2.9h-3zM223.7 411.7l1.5 2.9h-3zM218.2 413.3l1.5 2.9h-3zM164.5 423.6l1.5 2.9h-3zM218.4 410.3l1.5 2.9h-3zM220 419.1l1.5 2.9h-3zM188.3 423.7l1.5 2.9h-3zM227.5 415.9l1.5 2.9h-3zM243.3 423.3l1.5 2.9h-3zM180.7 423.6l1.5 2.9h-3zM163.1 423.1l1.5 2.9h-3zM184.1 422.7l1.5 2.9h-3zM216.5 411.8l1.5 2.9h-3zM235.1 413.1l1.5 2.9h-3zM238.6 419.1l1.5 2.9h-3zM227.8 418l1.5 2.9h-3zM211.2 425.3l1.5 2.9h-3zM177.6 414.5l1.5 2.9h-3zM186.7 415.6l1.5 2.9h-3zM177.5 411.5l1.5 2.9h-3zM208.2 412.1l1.5 2.9h-3zM168 412.8l1.5 2.9h-3zM226.4 412.9l1.5 2.9h-3zM213.9 423.5l1.5 2.9h-3zM226.4 413.4l1.5 2.9h-3zM219.2 423.8l1.5 2.9h-3zM215.6 413.2l1.5 2.9h-3zM191 412.3l1.5 2.9h-3zM207.2 412.1l1.5 2.9h-3zM192.3 412.1l1.5 2.9h-3zM200.1 412.2l1.5 2.9h-3zM194.9 412.3l1.5 2.9h-3zM209.8 411.5l1.5 2.9h-3zM194.9 412.5l1.5 2.9h-3zM197.5 412.4l1.5 2.9h-3zM207.5 412.6l1.5 2.9h-3zM192.1 411.9l1.5 2.9h-3zM204.2 412l1.5 2.9h-3zM194.2 412.8l1.5 2.9h-3zM194.7 412.1l1.5 2.9h-3zM215.9 412.7l1.5 2.9h-3zM192.1 412.1l1.5 2.9h-3zM196.5 411.8l1.5 2.9h-3zM198.9 411.7l1.5 2.9h-3zM208.5 412.1l1.5 2.9h-3zM195.1 412.2l1.5 2.9h-3zM193.4 411.8l1.5 2.9h-3zM197 413.1l1.5 2.9h-3zM205.6 412.4l1.5 2.9h-3zM215.2 412l1.5 2.9h-3zM205 413.2l1.5 2.9h-3zM190.4 412.8l1.5 2.9h-3zM199.9 412l1.5 2.9h-3zM204.2 411.9l1.5 2.9h-3zM210.9 412.3l1.5 2.9h-3zM215.6 412.8l1.5 2.9h-3zM193.5 411.7l1.5 2.9h-3zM211.2 413l1.5 2.9h-3zM208.4 412.2l1.5 2.9h-3zM206.8 412.8l1.5 2.9h-3zM204.3 412.3l1.5 2.9h-3zM206.9 412.7l1.5 2.9h-3zM198.4 412.7l1.5 2.9h-3zM191.8 413.1l1.5 2.9h-3zM196.8 412.1l1.5 2.9h-3zM190.6 413.4l1.5 2.9h-3zM210.3 411.8l1.5 2.9h-3zM239.5 367.9l1.5 2.9h-3zM214 385.9l1.5 2.9h-3zM231.5 390.9l1.5 2.9h-3zM242 388.4l1.5 2.9h-3zM243 391.4l1.5 2.9h-3zM241 393.9l1.5 2.9h-3zM241.5 400.9l1.5 2.9h-3zM188 402.4l1.5 2.9h-3zM190.5 402.4l1.5 2.9h-3zM203.5 399.9l1.5 2.9h-3zM225 406.4l1.5 2.9h-3zM227 406.4l1.5 2.9h-3zM240.5 406.9l1.5 2.9h-3zM194.5 430.4l1.5 2.9h-3zM235 435.9l1.5 2.9h-3zM195.5 453.9l1.5 2.9h-3zM62.5 433.9l1.5 2.9h-3zM170 437.4l1.5 2.9h-3zM160.5 407.4l1.5 2.9h-3zM192 427.4l1.5 2.9h-3zM200 429.4l1.5 2.9h-3zM215 428.4l1.5 2.9h-3zM228 429.4l1.5 2.9h-3z"/>
<path fill="#7d2dff" d="M123.2 454.7l1.5 2.9h-3zM136.3 442.3l1.5 2.9h-3zM69.4 454.5l1.5 2.9h-3zM143.6 437l1.5 2.9h-3zM66.8 454.9l1.5 2.9h-3zM84.3 445.3l1.5 2.9h-3zM136.5 445.3l1.5 2.9h-3zM146.1 443.2l1.5 2.9h-3zM150.7 428.6l1.5 2.9h-3zM132.4 442.6l1.5 2.9h-3zM41 451.4l1.5 2.9h-3zM141.4 446.3l1.5 2.9h-3zM143.4 442.9l1.5 2.9h-3zM149.1 447.7l1.5 2.9h-3zM79.6 446.6l1.5 2.9h-3zM55.2 454.8l1.5 2.9h-3zM137.2 443l1.5 2.9h-3zM72 453.7l1.5 2.9h-3zM88.3 451.8l1.5 2.9h-3zM147.3 449l1.5 2.9h-3zM60.4 450.2l1.5 2.9h-3zM72.4 454.8l1.5 2.9h-3zM78.9 454.4l1.5 2.9h-3zM136.9 449.7l1.5 2.9h-3zM153.9 423.9l1.5 2.9h-3zM58.8 447l1.5 2.9h-3zM72.9 447.4l1.5 2.9h-3zM132.2 442.4l1.5 2.9h-3zM64.5 447.6l1.5 2.9h-3zM111.2 450l1.5 2.9h-3zM93.9 448.7l1.5 2.9h-3zM140.5 438.6l1.5 2.9h-3zM70.5 453.3l1.5 2.9h-3zM102 450.7l1.5 2.9h-3zM109.8 452.6l1.5 2.9h-3zM43.4 447.7l1.5 2.9h-3zM46.5 450.6l1.5 2.9h-3zM63.3 452.3l1.5 2.9h-3zM43.5 446.8l1.5 2.9h-3zM85.3 450.7l1.5 2.9h-3zM106.9 444.7l1.5 2.9h-3zM97.6 454.3l1.5 2.9h-3zM116.1 445.1l1.5 2.9h-3zM108.9 443.8l1.5 2.9h-3zM125.4 441.3l1.5 2.9h-3zM142 430.8l1.5 2.9h-3zM41.2 453.9l1.5 2.9h-3zM46.5 452.9l1.5 2.9h-3zM42 454.9l1.5 2.9h-3zM106.1 444.3l1.5 2.9h-3zM57.4 450.1l1.5 2.9h-3zM98 454.6l1.5 2.9h-3zM72.2 449l1.5 2.9h-3zM89.6 446.6l1.5 2.9h-3zM91.7 449.6l1.5 2.9h-3zM110.7 444l1.5 2.9h-3zM41.4 454.6l1.5 2.9h-3zM99.3 452.2l1.5 2.9h-3zM75.2 450.8l1.5 2.9h-3zM106 445.3l1.5 2.9h-3zM127.5 433.9l1.5 2.9h-3zM135.6 434.4l1.5 2.9h-3zM127.4 436.8l1.5 2.9h-3zM128.7 433.8l1.5 2.9h-3zM128.1 440.3l1.5 2.9h-3z"/>
<path fill="#e03fcb" d="M208.5 418.9l1.5 2.9h-3zM222 426.4l1.5 2.9h-3z"/>
<polyline fill="none" stroke="#d6584c" stroke-width="3.1" points="42.9,470.9 44.9,471.3 46.9,471.4 48.7,471.5"/>
<polyline fill="none" stroke="#d6584c" stroke-width="3.1" points="49.3,471.6 51.3,471.7 51.6,471.7"/>
<polyline fill="none" stroke="#d6584c" stroke-width="3.1" points="52.8,471.8 54.8,471.9 55.7,472"/>
<polyline fill="none" stroke="#d6584c" stroke-width="3.1" points="57.5,472.1 59.2,472.3"/>
<polyline fill="none" stroke="#d6584c" stroke-width="3.1" points="60.1,472.3 62.1,472.5"/>
<polyline fill="none" stroke="#d6584c" stroke-width="3.1" points="63.1,472.5 64.5,472.6"/>
<polyline fill="none" stroke="#d6584c" stroke-width="3.1" points="65,472.7 66.8,472.8"/>
<polyline fill="none" stroke="#d6584c" stroke-width="3.1" points="68,472.9 69.7,473"/>
<polyline fill="none" stroke="#d6584c" stroke-width="3.1" points="70.3,473 72.3,473.2 72.6,473.2"/>
<polyline fill="none" stroke="#d6584c" stroke-width="3.1" points="73.2,473.2 75.2,473.3 77.2,473.5 79.1,473.6"/>
<polyline fill="none" stroke="#d6584c" stroke-width="3.1" points="80.2,473.7 82.2,473.8 83.7,473.9"/>
<polyline fill="none" stroke="#d6584c" stroke-width="3.1" points="88.4,474.2 90.4,474.4 91.9,474.5"/>
<polyline fill="none" stroke="#d6584c" stroke-width="3.1" points="92.5,474.5 94.5,474.6 95.4,474.7"/>
<polyline fill="none" stroke="#d6584c" stroke-width="3.1" points="96,474.7 98,474.9 98.9,474.9"/>
<polyline fill="none" stroke="#d6584c" stroke-width="3.1" points="99.5,475 100.7,475"/>
<polyline fill="none" stroke="#d6584c" stroke-width="3.1" points="101.8,475.1 103.6,475.2"/>
<polyline fill="none" stroke="#d6584c" stroke-width="3.1" points="104.8,475.3 106.8,475.4 107.1,475.4"/>
<polyline fill="none" stroke="#d6584c" stroke-width="3.1" points="107.7,475.5 109.2,475.6"/>
<polyline fill="none" stroke="#d6584c" stroke-width="3.1" points="109.8,475.6 111.8,475.7 112.3,475.7"/>
<polyline fill="none" stroke="#d6584c" stroke-width="3.1" points="114.9,475.9 116.9,476 117.5,476.1"/>
<polyline fill="none" stroke="#d6584c" stroke-width="3.1" points="118.4,476.1 120.4,476.2 121,476.3"/>
<polyline fill="none" stroke="#d6584c" stroke-width="3.1" points="123.6,476.6 125.6,476.8 127.6,477.2 129.6,478 131.6,478.7 133.6,479.5 135.6,480.2 137.6,481.1 137.7,481.1"/>
<polyline fill="none" stroke="#d6584c" stroke-width="3.1" points="138.5,481.4 140.5,482.3 142.5,483.1 143.8,483.6"/>
<polyline fill="none" stroke="#d6584c" stroke-width="3.1" points="145.5,484.3 147.5,485 149.5,485.8 149.9,486"/>
<polyline fill="none" stroke="#d6584c" stroke-width="3.1" points="150.8,486.4 152.8,487.3 154.8,488.2 155.2,488.4"/>
<polyline fill="none" stroke="#d6584c" stroke-width="3.1" points="157.8,489.9 159.8,492.3 160.2,492.9"/>
<path fill="#9c0f22" d="M76 451l1.4 2.7h-2.8zM106.5 453.5l1.4 2.7h-2.8z"/>
<path fill="#d6584c" d="M204 499.5l1.4 2.7h-2.8zM244 500l1.4 2.7h-2.8z"/>
<line x1="508.5" y1="363.5" x2="508.5" y2="510.8" stroke="#8d7f7d" stroke-width="1"/>
<rect x="374.4" y="363.5" width="224.6" height="147.3" fill="none" stroke="#8d7f7d" stroke-width="1"/>
<text x="384.5" y="517.7" font-size="5.3" text-anchor="middle" fill="#a39b9a">0</text>
<text x="425.3" y="517.7" font-size="5.3" text-anchor="middle" fill="#a39b9a">500</text>
<text x="466.1" y="517.7" font-size="5.3" text-anchor="middle" fill="#a39b9a">1000</text>
<text x="506.9" y="517.7" font-size="5.3" text-anchor="middle" fill="#a39b9a">1500</text>
<text x="547.7" y="517.7" font-size="5.3" text-anchor="middle" fill="#a39b9a">2000</text>
<text x="588.5" y="517.7" font-size="5.3" text-anchor="middle" fill="#a39b9a">2500</text>
<text x="371.6" y="506.1" font-size="5.3" text-anchor="end" fill="#a39b9a">0</text>
<text x="371.6" y="472.5" font-size="5.3" text-anchor="end" fill="#a39b9a">200</text>
<text x="371.6" y="439" font-size="5.3" text-anchor="end" fill="#a39b9a">400</text>
<text x="371.6" y="405.5" font-size="5.3" text-anchor="end" fill="#a39b9a">600</text>
<text x="371.6" y="372.2" font-size="5.3" text-anchor="end" fill="#a39b9a">800</text>
<text x="602.2" y="506.2" font-size="5.3" text-anchor="start" fill="#a39b9a">0</text>
<text x="602.2" y="468.9" font-size="5.3" text-anchor="start" fill="#a39b9a">1</text>
<text x="602.2" y="431.6" font-size="5.3" text-anchor="start" fill="#a39b9a">2</text>
<text x="602.2" y="394.1" font-size="5.3" text-anchor="start" fill="#a39b9a">3</text>
<path stroke="#8d7f7d" stroke-width="0.8" fill="none" d="M384.5 510.8v1.6M425.3 510.8v1.6M466.1 510.8v1.6M506.9 510.8v1.6M547.7 510.8v1.6M588.5 510.8v1.6M374.4 504.2h-1.6M374.4 470.6h-1.6M374.4 437.1h-1.6M374.4 403.6h-1.6M374.4 370.3h-1.6M599 504.3h1.6M599 467h1.6M599 429.7h1.6M599 392.2h1.6"/>
<text x="359.7" y="437.1" font-size="6.5" text-anchor="middle" fill="#d8d0cf" transform="rotate(-90 359.7 437.1)">HMM score</text>
<text x="612.6" y="441.1" font-size="5.3" text-anchor="middle" fill="#c8c0bf" transform="rotate(-90 612.6 441.1)">Phylogenetic distance</text>
<polyline fill="none" stroke="#00f2ee" stroke-width="3.0" stroke-linecap="round" stroke-linejoin="round" points="384.6,369.8 385,373.5 385.4,377.8"/>
<circle cx="385.6" cy="381.3" r="1.4" fill="#00f2ee"/>
<circle cx="385.8" cy="384.8" r="1.4" fill="#00f2ee"/>
<polyline fill="none" stroke="#00f2ee" stroke-width="2.8" stroke-linecap="round" stroke-linejoin="round" points="386,388 386.5,392 387.5,396.5 389,401 391,405 394,407 398,408.3 402,410.5 403.3,413 403.5,416 405,417.5 408,418.3 440,419 463,420.5 475,421.5 487,426 497,429 505,432.5 507.5,436 508.3,441 508.6,447 512,449.5 520,453 528,455 533,456.5 536,459.5 540,463 548,466.5 555,469.5 558,472.5 559.5,476.5 563,480 566.5,485 570,490 574,492.7 580,494 589.2,494.4"/>
<polyline fill="none" stroke="#7d2dff" stroke-width="2.5" points="404,459.8 470,459.8"/>
<path fill="#7d2dff" d="M385.3 496.7l1.5 2.9h-3zM387.2 487.3l1.5 2.9h-3zM388.2 484l1.5 2.9h-3zM385.1 498.1l1.5 2.9h-3zM387.4 486.3l1.5 2.9h-3zM384.8 498.5l1.5 2.9h-3zM386.6 489.8l1.5 2.9h-3zM385.3 496.8l1.5 2.9h-3zM388.8 482.3l1.5 2.9h-3zM388.7 483.2l1.5 2.9h-3zM389 482.1l1.5 2.9h-3zM386.7 490.2l1.5 2.9h-3zM385.4 496.1l1.5 2.9h-3zM388.6 482.7l1.5 2.9h-3zM386.9 489.4l1.5 2.9h-3zM385.2 497.8l1.5 2.9h-3zM384.6 500.9l1.5 2.9h-3zM386.1 491.8l1.5 2.9h-3zM387.9 485.8l1.5 2.9h-3zM387.2 487.3l1.5 2.9h-3zM386.7 489.9l1.5 2.9h-3zM384.6 501.2l1.5 2.9h-3zM387.5 486.7l1.5 2.9h-3zM390 480.4l1.5 2.9h-3zM385.5 496.6l1.5 2.9h-3zM388.8 481.6l1.5 2.9h-3zM385 497.8l1.5 2.9h-3zM388.7 480.5l1.5 2.9h-3zM386.8 489.5l1.5 2.9h-3zM388.5 484.3l1.5 2.9h-3zM388 484.5l1.5 2.9h-3zM386.4 490.9l1.5 2.9h-3zM389.1 482.2l1.5 2.9h-3zM387 487.7l1.5 2.9h-3zM389.9 480.1l1.5 2.9h-3zM388.8 483.5l1.5 2.9h-3zM384.6 502.1l1.5 2.9h-3zM388.7 483.2l1.5 2.9h-3zM387.7 485.3l1.5 2.9h-3zM389.5 480.5l1.5 2.9h-3zM387.8 484.7l1.5 2.9h-3zM387.9 486.2l1.5 2.9h-3zM387.9 485.9l1.5 2.9h-3zM385.7 494.3l1.5 2.9h-3zM387.2 487.8l1.5 2.9h-3zM389.8 477.8l1.5 2.9h-3zM391.5 479.1l1.5 2.9h-3zM399 477.4l1.5 2.9h-3zM399.6 478.9l1.5 2.9h-3zM398.4 479.8l1.5 2.9h-3zM397.3 478.3l1.5 2.9h-3zM396 478.2l1.5 2.9h-3zM392.5 477.1l1.5 2.9h-3zM393.7 480.6l1.5 2.9h-3zM392.5 477.3l1.5 2.9h-3zM394.5 476.2l1.5 2.9h-3zM396.4 479.7l1.5 2.9h-3zM395.1 476.2l1.5 2.9h-3zM401 478.2l1.5 2.9h-3zM399.2 479.7l1.5 2.9h-3zM396.1 477.3l1.5 2.9h-3zM391 479l1.5 2.9h-3zM392.6 478.6l1.5 2.9h-3zM390.9 479.1l1.5 2.9h-3zM391.7 479.1l1.5 2.9h-3zM393.7 480.8l1.5 2.9h-3zM391.2 480.5l1.5 2.9h-3zM391.8 479.5l1.5 2.9h-3zM400.9 478.4l1.5 2.9h-3zM395 480.1l1.5 2.9h-3zM391 479.8l1.5 2.9h-3zM399.4 477.4l1.5 2.9h-3zM394.9 479.2l1.5 2.9h-3zM400.3 476.7l1.5 2.9h-3zM397.1 479.2l1.5 2.9h-3zM397 479l1.5 2.9h-3zM398.9 479.1l1.5 2.9h-3zM390.4 481.1l1.5 2.9h-3zM395.6 480.2l1.5 2.9h-3zM398.9 477.8l1.5 2.9h-3zM389.8 480.9l1.5 2.9h-3zM397.4 477.4l1.5 2.9h-3zM395.5 478.7l1.5 2.9h-3zM391.9 479.4l1.5 2.9h-3zM391.9 478.6l1.5 2.9h-3zM400.8 478.9l1.5 2.9h-3zM399.9 479l1.5 2.9h-3zM399.9 477.6l1.5 2.9h-3zM390.4 480.8l1.5 2.9h-3zM397.4 477.3l1.5 2.9h-3zM395.4 478.7l1.5 2.9h-3zM390.3 479.3l1.5 2.9h-3zM398.6 478.1l1.5 2.9h-3zM390.8 481.2l1.5 2.9h-3zM398.6 476.3l1.5 2.9h-3zM391.3 479.3l1.5 2.9h-3zM400.3 477.4l1.5 2.9h-3zM397.7 479.4l1.5 2.9h-3zM395.1 480.1l1.5 2.9h-3zM394.2 477.2l1.5 2.9h-3zM396 479.4l1.5 2.9h-3zM390.2 477.5l1.5 2.9h-3zM399.6 477.8l1.5 2.9h-3zM398.5 476.5l1.5 2.9h-3zM399.1 477.3l1.5 2.9h-3zM399.2 477.1l1.5 2.9h-3zM401.3 474.4l1.5 2.9h-3zM399.9 475.7l1.5 2.9h-3zM401.5 471.3l1.5 2.9h-3zM403.1 467.3l1.5 2.9h-3zM402.4 469.2l1.5 2.9h-3zM399.3 475.5l1.5 2.9h-3zM402.3 469.6l1.5 2.9h-3zM399.1 477.7l1.5 2.9h-3zM401.9 469l1.5 2.9h-3zM404.1 464.2l1.5 2.9h-3zM402.7 465.2l1.5 2.9h-3zM401.4 469.8l1.5 2.9h-3zM403.2 468l1.5 2.9h-3zM402.7 469.8l1.5 2.9h-3zM401.5 473.6l1.5 2.9h-3zM401.5 470l1.5 2.9h-3zM403.4 466.4l1.5 2.9h-3zM403.1 466.8l1.5 2.9h-3zM403.2 468.2l1.5 2.9h-3zM399.9 475.8l1.5 2.9h-3zM405.1 461.1l1.5 2.9h-3zM404.7 463.5l1.5 2.9h-3zM400 474.4l1.5 2.9h-3zM404 466l1.5 2.9h-3zM401.4 471.5l1.5 2.9h-3zM404.3 465.2l1.5 2.9h-3zM402.3 469.8l1.5 2.9h-3zM403.1 467.5l1.5 2.9h-3zM403 466.4l1.5 2.9h-3zM403.2 465.3l1.5 2.9h-3zM403.1 465.6l1.5 2.9h-3zM431.9 458.9l1.5 2.9h-3zM469.6 457.7l1.5 2.9h-3zM467.5 457.8l1.5 2.9h-3zM447.1 459l1.5 2.9h-3zM458 458.2l1.5 2.9h-3zM414.9 457.4l1.5 2.9h-3zM466 458.7l1.5 2.9h-3zM461.8 458.9l1.5 2.9h-3zM438.2 457.9l1.5 2.9h-3zM419.6 457.6l1.5 2.9h-3zM440.1 458.3l1.5 2.9h-3zM452.8 458.5l1.5 2.9h-3zM438.7 458l1.5 2.9h-3zM440.9 457.8l1.5 2.9h-3zM429.8 458.6l1.5 2.9h-3zM445.6 458.6l1.5 2.9h-3zM456.7 457.5l1.5 2.9h-3zM458.4 457.7l1.5 2.9h-3zM417.5 458.1l1.5 2.9h-3zM459.7 458l1.5 2.9h-3zM446.4 458.4l1.5 2.9h-3zM425.9 458.6l1.5 2.9h-3zM460.8 459.3l1.5 2.9h-3zM417.9 458.5l1.5 2.9h-3zM412.8 458.8l1.5 2.9h-3zM453.8 457.5l1.5 2.9h-3zM468.7 457.9l1.5 2.9h-3zM424.4 458.8l1.5 2.9h-3zM437.4 457.5l1.5 2.9h-3zM426.4 459l1.5 2.9h-3zM444.7 458.6l1.5 2.9h-3zM460.9 458.4l1.5 2.9h-3zM462 458.2l1.5 2.9h-3zM448.3 457.7l1.5 2.9h-3zM449.8 457.7l1.5 2.9h-3zM425.9 458l1.5 2.9h-3zM431.3 458.1l1.5 2.9h-3zM406.5 458.9l1.5 2.9h-3zM414.3 457.7l1.5 2.9h-3zM417.3 458l1.5 2.9h-3zM445 457.4l1.5 2.9h-3zM445.1 458.4l1.5 2.9h-3zM405.7 458.3l1.5 2.9h-3zM420.3 458.8l1.5 2.9h-3zM450.4 459.3l1.5 2.9h-3zM459.9 458.6l1.5 2.9h-3zM449.2 457.8l1.5 2.9h-3zM439.1 458.4l1.5 2.9h-3zM405.4 458.4l1.5 2.9h-3zM435.3 458.2l1.5 2.9h-3zM469.9 457.7l1.5 2.9h-3zM414.3 458.5l1.5 2.9h-3zM419.2 457.6l1.5 2.9h-3zM457.4 458.2l1.5 2.9h-3zM456 458.1l1.5 2.9h-3zM457.5 456.9l1.5 2.9h-3zM432.4 458.6l1.5 2.9h-3zM405.1 459.4l1.5 2.9h-3zM455.7 458.1l1.5 2.9h-3zM464.5 458l1.5 2.9h-3zM439.8 458.8l1.5 2.9h-3zM429.5 457.6l1.5 2.9h-3zM413 458.3l1.5 2.9h-3zM422.2 458.4l1.5 2.9h-3zM438.4 458l1.5 2.9h-3zM454.8 458.2l1.5 2.9h-3zM410.4 457.8l1.5 2.9h-3zM435.1 458l1.5 2.9h-3zM404.8 458.6l1.5 2.9h-3zM440 457.8l1.5 2.9h-3zM436.6 458l1.5 2.9h-3zM435.7 457.9l1.5 2.9h-3zM420.2 458.5l1.5 2.9h-3zM412.7 458.1l1.5 2.9h-3zM462.1 457.8l1.5 2.9h-3zM466.2 458.5l1.5 2.9h-3zM440 457.2l1.5 2.9h-3zM466.9 457.3l1.5 2.9h-3zM429.9 458.4l1.5 2.9h-3zM428.8 459.2l1.5 2.9h-3zM427.8 458l1.5 2.9h-3zM409.1 458.5l1.5 2.9h-3zM426 457.6l1.5 2.9h-3zM431.6 458.3l1.5 2.9h-3zM450.4 458.4l1.5 2.9h-3zM423.8 458.6l1.5 2.9h-3zM429.3 457.9l1.5 2.9h-3zM453.8 459.3l1.5 2.9h-3zM436.4 457.8l1.5 2.9h-3zM444.1 459.1l1.5 2.9h-3zM431.5 457.7l1.5 2.9h-3zM416.3 458.7l1.5 2.9h-3zM430.3 459l1.5 2.9h-3zM440.3 459.4l1.5 2.9h-3zM460.8 458.2l1.5 2.9h-3zM428.4 457.4l1.5 2.9h-3zM412 458.7l1.5 2.9h-3zM405.3 457.9l1.5 2.9h-3zM468.6 457.7l1.5 2.9h-3zM445 458l1.5 2.9h-3zM458.5 457.8l1.5 2.9h-3zM457.5 458.7l1.5 2.9h-3zM440.7 458.4l1.5 2.9h-3zM417.3 458.6l1.5 2.9h-3zM435.7 458.7l1.5 2.9h-3zM409.4 458.1l1.5 2.9h-3zM440.4 458.7l1.5 2.9h-3zM465.2 458.9l1.5 2.9h-3zM431.5 459.3l1.5 2.9h-3zM435.8 458.4l1.5 2.9h-3zM421.5 458.1l1.5 2.9h-3zM458.5 457.8l1.5 2.9h-3zM462.8 458.1l1.5 2.9h-3zM441.2 458.3l1.5 2.9h-3zM432.3 458.4l1.5 2.9h-3zM413 457.6l1.5 2.9h-3zM444.4 458.1l1.5 2.9h-3zM415.5 458.2l1.5 2.9h-3zM422.2 458l1.5 2.9h-3zM426 458l1.5 2.9h-3zM420.6 458.5l1.5 2.9h-3zM449.4 457.8l1.5 2.9h-3zM444.1 458.5l1.5 2.9h-3zM460.7 457.7l1.5 2.9h-3zM454.8 458.4l1.5 2.9h-3zM457.2 457.7l1.5 2.9h-3zM419.8 458.9l1.5 2.9h-3zM442.3 458.7l1.5 2.9h-3zM460.4 459l1.5 2.9h-3zM443.3 457.8l1.5 2.9h-3zM420.8 457.6l1.5 2.9h-3zM451.6 457.6l1.5 2.9h-3zM427.2 458.2l1.5 2.9h-3zM445.4 458.8l1.5 2.9h-3zM458.9 458.7l1.5 2.9h-3zM438.9 458.6l1.5 2.9h-3zM434.1 457.6l1.5 2.9h-3zM434.9 458.9l1.5 2.9h-3zM446.1 458.7l1.5 2.9h-3zM464.3 458l1.5 2.9h-3zM436.4 457l1.5 2.9h-3zM446 457.9l1.5 2.9h-3zM449 458.2l1.5 2.9h-3zM456 459.1l1.5 2.9h-3zM409.9 458.4l1.5 2.9h-3zM440.6 458.3l1.5 2.9h-3zM411.2 459.1l1.5 2.9h-3zM405.4 459.1l1.5 2.9h-3zM413.7 458.5l1.5 2.9h-3zM468.9 458.6l1.5 2.9h-3zM443.5 458.9l1.5 2.9h-3zM455.6 457.9l1.5 2.9h-3zM442.2 458.5l1.5 2.9h-3zM445.4 458.1l1.5 2.9h-3zM426.8 457.8l1.5 2.9h-3zM447.7 458.5l1.5 2.9h-3zM421.9 458.9l1.5 2.9h-3zM439.9 459.3l1.5 2.9h-3zM438.1 458.7l1.5 2.9h-3zM439 458.9l1.5 2.9h-3zM411.8 458.2l1.5 2.9h-3zM437.6 457.5l1.5 2.9h-3zM421.9 458l1.5 2.9h-3zM404.9 458.5l1.5 2.9h-3zM453.9 458l1.5 2.9h-3zM411.8 459.3l1.5 2.9h-3zM466.6 458.9l1.5 2.9h-3zM437.3 458.2l1.5 2.9h-3zM427.8 459.2l1.5 2.9h-3zM405.7 458.6l1.5 2.9h-3zM404.4 459.2l1.5 2.9h-3zM448.8 458.2l1.5 2.9h-3zM449.7 458.7l1.5 2.9h-3zM427.1 458.2l1.5 2.9h-3zM460.3 458.3l1.5 2.9h-3zM423.1 458.9l1.5 2.9h-3zM438.4 459.3l1.5 2.9h-3zM413 458.4l1.5 2.9h-3zM427 458.4l1.5 2.9h-3zM451.7 457.8l1.5 2.9h-3zM432.4 458.2l1.5 2.9h-3zM421.5 458.6l1.5 2.9h-3zM437 457.6l1.5 2.9h-3zM459.3 458.1l1.5 2.9h-3zM442.4 457.7l1.5 2.9h-3zM421.3 458.4l1.5 2.9h-3zM462.8 458.8l1.5 2.9h-3zM410.8 458.5l1.5 2.9h-3zM453.5 458.1l1.5 2.9h-3zM433.1 457.8l1.5 2.9h-3zM438.6 457.4l1.5 2.9h-3zM420.6 458.3l1.5 2.9h-3zM420.9 459.1l1.5 2.9h-3zM413.8 458.2l1.5 2.9h-3zM439.8 458.3l1.5 2.9h-3zM451.5 458.1l1.5 2.9h-3zM404.1 457.7l1.5 2.9h-3zM422.3 458.9l1.5 2.9h-3zM436 458.7l1.5 2.9h-3zM468 457.5l1.5 2.9h-3zM437 457.6l1.5 2.9h-3zM440 459l1.5 2.9h-3zM439.2 457.8l1.5 2.9h-3zM414.6 458.3l1.5 2.9h-3zM438.6 457.8l1.5 2.9h-3zM414.2 458.5l1.5 2.9h-3zM456.5 457.9l1.5 2.9h-3zM455.4 458l1.5 2.9h-3zM454.5 457.7l1.5 2.9h-3zM418.2 459.3l1.5 2.9h-3zM432.3 459.7l1.5 2.9h-3zM409.5 458.4l1.5 2.9h-3zM442.1 458.6l1.5 2.9h-3zM416.9 458.6l1.5 2.9h-3zM458.2 458.3l1.5 2.9h-3zM439.6 458.2l1.5 2.9h-3zM418.2 458.1l1.5 2.9h-3zM441.7 458.7l1.5 2.9h-3zM430.4 457.7l1.5 2.9h-3zM447.7 457.9l1.5 2.9h-3zM462.6 458.7l1.5 2.9h-3zM404.9 457.6l1.5 2.9h-3zM421.2 459.1l1.5 2.9h-3zM461.3 458.2l1.5 2.9h-3zM411.7 458.4l1.5 2.9h-3zM441.2 459l1.5 2.9h-3zM467.1 458.3l1.5 2.9h-3zM418 458.4l1.5 2.9h-3zM463.5 458l1.5 2.9h-3zM421.1 458.6l1.5 2.9h-3zM441.6 458.7l1.5 2.9h-3zM448 457.8l1.5 2.9h-3zM408.8 458.6l1.5 2.9h-3zM460.3 458.8l1.5 2.9h-3zM458.6 458.5l1.5 2.9h-3zM405.2 457.9l1.5 2.9h-3zM435.6 458.8l1.5 2.9h-3zM465 459l1.5 2.9h-3zM426.9 458l1.5 2.9h-3zM432.8 457.3l1.5 2.9h-3zM424.9 457.9l1.5 2.9h-3zM408.2 458.3l1.5 2.9h-3zM410 459l1.5 2.9h-3zM448 458.9l1.5 2.9h-3zM421.5 458.7l1.5 2.9h-3zM466.9 458l1.5 2.9h-3zM463.4 458.7l1.5 2.9h-3zM451.9 458.3l1.5 2.9h-3zM436.7 457.8l1.5 2.9h-3zM454.3 457.4l1.5 2.9h-3zM404.3 458.8l1.5 2.9h-3zM466.5 457.4l1.5 2.9h-3zM468.4 459l1.5 2.9h-3zM443 459.5l1.5 2.9h-3zM441.3 458.3l1.5 2.9h-3zM453.1 457.9l1.5 2.9h-3zM403.6 458l1.5 2.9h-3zM449.8 457.9l1.5 2.9h-3zM428.6 458.5l1.5 2.9h-3zM403.8 458.8l1.5 2.9h-3zM432.5 457.9l1.5 2.9h-3zM465 458.1l1.5 2.9h-3zM442.7 458l1.5 2.9h-3zM421 458.9l1.5 2.9h-3zM436.9 458.8l1.5 2.9h-3zM458.4 457.8l1.5 2.9h-3zM413.2 458.1l1.5 2.9h-3zM467.3 458.4l1.5 2.9h-3zM413.9 457.3l1.5 2.9h-3zM412.3 458l1.5 2.9h-3zM405.3 458.4l1.5 2.9h-3zM462.6 457.6l1.5 2.9h-3zM444.6 458.4l1.5 2.9h-3zM446.7 458.3l1.5 2.9h-3zM430.2 458l1.5 2.9h-3zM410.5 458.8l1.5 2.9h-3zM428.1 457.8l1.5 2.9h-3zM414.6 458.5l1.5 2.9h-3zM441.7 458.2l1.5 2.9h-3zM447.3 458.9l1.5 2.9h-3zM439.1 457.9l1.5 2.9h-3zM428.7 458.6l1.5 2.9h-3zM420.9 458.6l1.5 2.9h-3zM448.8 458.9l1.5 2.9h-3zM415.5 459.1l1.5 2.9h-3zM465.4 457.5l1.5 2.9h-3zM436.8 458.3l1.5 2.9h-3zM439.1 457.7l1.5 2.9h-3zM460.2 458.8l1.5 2.9h-3zM411.4 459l1.5 2.9h-3zM464.6 458.1l1.5 2.9h-3zM463 458.4l1.5 2.9h-3zM428.5 459l1.5 2.9h-3zM414.8 458.4l1.5 2.9h-3zM456.5 458.2l1.5 2.9h-3zM406.4 457.4l1.5 2.9h-3zM453.5 457.9l1.5 2.9h-3zM451.8 458.8l1.5 2.9h-3zM412.5 457.5l1.5 2.9h-3zM403.6 458.4l1.5 2.9h-3zM406.9 456.7l1.5 2.9h-3zM405.6 455.9l1.5 2.9h-3zM404.3 456.7l1.5 2.9h-3zM406.1 457.2l1.5 2.9h-3zM406.6 457.8l1.5 2.9h-3zM407.2 457.6l1.5 2.9h-3zM410.6 458l1.5 2.9h-3zM407.2 457.2l1.5 2.9h-3zM409 456.3l1.5 2.9h-3zM404.9 456.6l1.5 2.9h-3zM406.6 458.1l1.5 2.9h-3zM411.4 457l1.5 2.9h-3zM405 458l1.5 2.9h-3zM404.4 455.7l1.5 2.9h-3zM404.1 456.5l1.5 2.9h-3zM403.5 456.3l1.5 2.9h-3zM425.5 452.9l1.5 2.9h-3zM421 468.4l1.5 2.9h-3zM428 469.9l1.5 2.9h-3zM437 468.9l1.5 2.9h-3zM439 471.2l1.5 2.9h-3zM441.5 468.4l1.5 2.9h-3zM431 461.9l1.5 2.9h-3zM436 464.4l1.5 2.9h-3zM443 461.9l1.5 2.9h-3zM471 473.4l1.5 2.9h-3zM480 471.4l1.5 2.9h-3zM491.5 468.9l1.5 2.9h-3zM400.5 465.4l1.5 2.9h-3zM407.5 464.4l1.5 2.9h-3zM495.4 459.3l1.5 2.9h-3zM476.2 456.6l1.5 2.9h-3zM458.7 462.4l1.5 2.9h-3zM487.7 447.8l1.5 2.9h-3zM507.6 447.3l1.5 2.9h-3zM489.6 466l1.5 2.9h-3zM503.5 449.7l1.5 2.9h-3zM463.9 460.3l1.5 2.9h-3zM480.7 449.9l1.5 2.9h-3zM469.6 456.9l1.5 2.9h-3zM504.9 449l1.5 2.9h-3zM461.3 459.3l1.5 2.9h-3zM454.4 461.5l1.5 2.9h-3zM482.4 449.8l1.5 2.9h-3zM475.9 462.6l1.5 2.9h-3zM464.8 462.5l1.5 2.9h-3zM503.8 455.8l1.5 2.9h-3zM469 457.1l1.5 2.9h-3zM466 463.8l1.5 2.9h-3zM490.2 448.3l1.5 2.9h-3zM506.5 456l1.5 2.9h-3zM476 457.7l1.5 2.9h-3zM494.8 451.9l1.5 2.9h-3zM456.1 460l1.5 2.9h-3zM499.4 455.5l1.5 2.9h-3zM482.6 459.6l1.5 2.9h-3zM488.7 451.6l1.5 2.9h-3zM478.7 458.1l1.5 2.9h-3zM454 458.3l1.5 2.9h-3zM474.3 458.9l1.5 2.9h-3zM461.9 463.8l1.5 2.9h-3zM462.9 464.4l1.5 2.9h-3zM498.8 448.3l1.5 2.9h-3zM472.1 454.1l1.5 2.9h-3zM498.4 457.7l1.5 2.9h-3zM495.1 446.4l1.5 2.9h-3zM491.3 456.3l1.5 2.9h-3zM479.3 466.3l1.5 2.9h-3zM456.7 459.7l1.5 2.9h-3zM498 453.8l1.5 2.9h-3zM454.6 457.4l1.5 2.9h-3zM474.1 464.2l1.5 2.9h-3zM501.8 446.4l1.5 2.9h-3zM494.5 451.6l1.5 2.9h-3zM485 452.1l1.5 2.9h-3zM487.7 461.7l1.5 2.9h-3zM504.4 442.5l1.5 2.9h-3zM495.5 443.7l1.5 2.9h-3zM482.8 451.3l1.5 2.9h-3zM473.4 453.6l1.5 2.9h-3zM459.2 461l1.5 2.9h-3zM498.7 449.1l1.5 2.9h-3zM496.7 445.5l1.5 2.9h-3zM488.6 456.6l1.5 2.9h-3zM502.1 452.4l1.5 2.9h-3zM454.7 459.7l1.5 2.9h-3zM458.7 460.4l1.5 2.9h-3zM486 453.2l1.5 2.9h-3zM507.9 448.7l1.5 2.9h-3zM504.3 450.5l1.5 2.9h-3zM488.3 461.4l1.5 2.9h-3zM458.9 458.1l1.5 2.9h-3zM483.3 456l1.5 2.9h-3zM486.9 456.5l1.5 2.9h-3zM495.9 451.5l1.5 2.9h-3zM507.1 447.5l1.5 2.9h-3zM495.7 444.4l1.5 2.9h-3zM481.3 458.4l1.5 2.9h-3zM494.4 456.2l1.5 2.9h-3zM472.5 454.8l1.5 2.9h-3zM478.6 454l1.5 2.9h-3zM482.3 455l1.5 2.9h-3zM473.3 458.2l1.5 2.9h-3zM507 456.4l1.5 2.9h-3zM468.8 463.8l1.5 2.9h-3zM488.5 448.1l1.5 2.9h-3zM465.8 462.6l1.5 2.9h-3zM507.9 445.8l1.5 2.9h-3zM472.1 455.8l1.5 2.9h-3zM486.3 465l1.5 2.9h-3zM504.3 446.2l1.5 2.9h-3zM490.6 451.9l1.5 2.9h-3zM485 456.1l1.5 2.9h-3zM457.3 461.4l1.5 2.9h-3zM476.2 465.5l1.5 2.9h-3zM477.4 453.6l1.5 2.9h-3zM491.2 446.1l1.5 2.9h-3zM479.7 459.5l1.5 2.9h-3zM467.9 455.6l1.5 2.9h-3zM482.2 456.2l1.5 2.9h-3zM473.8 458.8l1.5 2.9h-3zM498 460.3l1.5 2.9h-3zM478.7 462.6l1.5 2.9h-3zM478 458.4l1.5 2.9h-3zM492.1 463.9l1.5 2.9h-3zM482.5 455.8l1.5 2.9h-3zM476.9 460.4l1.5 2.9h-3zM457.5 459.2l1.5 2.9h-3zM478.3 459.8l1.5 2.9h-3zM500.6 458.8l1.5 2.9h-3zM506.4 445.7l1.5 2.9h-3zM499.9 456.8l1.5 2.9h-3zM458.9 461.6l1.5 2.9h-3zM501.6 456.4l1.5 2.9h-3zM480.3 461.5l1.5 2.9h-3zM491.2 450.8l1.5 2.9h-3zM487.4 462.1l1.5 2.9h-3zM480.3 460.1l1.5 2.9h-3zM464.6 464.9l1.5 2.9h-3zM472.8 458.3l1.5 2.9h-3zM472.4 456.3l1.5 2.9h-3zM495.3 444.7l1.5 2.9h-3zM461.3 462.7l1.5 2.9h-3zM456.7 458.7l1.5 2.9h-3zM499.8 448.8l1.5 2.9h-3zM489.4 449l1.5 2.9h-3zM484 465.4l1.5 2.9h-3zM461.2 461.1l1.5 2.9h-3zM460 463l1.5 2.9h-3zM489.7 457l1.5 2.9h-3zM461.4 460.5l1.5 2.9h-3zM500 450.9l1.5 2.9h-3zM462.3 455.6l1.5 2.9h-3zM487.3 458.5l1.5 2.9h-3zM466 463.5l1.5 2.9h-3zM470.2 455.7l1.5 2.9h-3zM470.9 454l1.5 2.9h-3zM454.4 460.8l1.5 2.9h-3zM476.1 461.8l1.5 2.9h-3zM500.6 449.6l1.5 2.9h-3zM480.4 452l1.5 2.9h-3zM463.5 458.4l1.5 2.9h-3zM481.5 461.4l1.5 2.9h-3zM504.4 458l1.5 2.9h-3zM478.6 466.2l1.5 2.9h-3zM479.6 450.8l1.5 2.9h-3zM495.4 449.9l1.5 2.9h-3zM456.7 456.2l1.5 2.9h-3zM470.3 460.1l1.5 2.9h-3zM474.7 457.8l1.5 2.9h-3zM470 465.9l1.5 2.9h-3zM483.1 464.8l1.5 2.9h-3zM495.9 461.4l1.5 2.9h-3zM475.5 461.2l1.5 2.9h-3zM496.2 446.3l1.5 2.9h-3zM477.3 453.6l1.5 2.9h-3zM502.2 451.1l1.5 2.9h-3zM470.9 456.8l1.5 2.9h-3zM477.4 462.5l1.5 2.9h-3zM490.7 456.6l1.5 2.9h-3zM453.5 457.6l1.5 2.9h-3zM501.7 457.6l1.5 2.9h-3zM477.4 460.2l1.5 2.9h-3zM473.4 457.6l1.5 2.9h-3zM459.4 461.4l1.5 2.9h-3zM458.4 463.6l1.5 2.9h-3zM479 456l1.5 2.9h-3zM498 450.3l1.5 2.9h-3zM486.3 463.5l1.5 2.9h-3zM503.1 453.3l1.5 2.9h-3zM507.1 449.6l1.5 2.9h-3zM481.3 449.9l1.5 2.9h-3zM463.7 463.4l1.5 2.9h-3zM504.8 443.7l1.5 2.9h-3zM465.2 465.6l1.5 2.9h-3zM483.9 453.7l1.5 2.9h-3zM464.1 465.4l1.5 2.9h-3zM501.5 445.8l1.5 2.9h-3zM495.2 445.9l1.5 2.9h-3zM481.8 459.3l1.5 2.9h-3zM500.8 447.1l1.5 2.9h-3zM490.6 460.7l1.5 2.9h-3zM487.6 449.4l1.5 2.9h-3zM490.1 456.3l1.5 2.9h-3zM502 449l1.5 2.9h-3zM475 466.6l1.5 2.9h-3zM491.5 454.4l1.5 2.9h-3zM472.5 458l1.5 2.9h-3zM489.7 463.3l1.5 2.9h-3zM482.2 462.1l1.5 2.9h-3zM494.3 452.2l1.5 2.9h-3zM483.2 461.6l1.5 2.9h-3zM480.2 467.3l1.5 2.9h-3zM458 463.9l1.5 2.9h-3zM455.8 459.6l1.5 2.9h-3zM500.2 444.1l1.5 2.9h-3zM477.8 459l1.5 2.9h-3zM506.7 445.6l1.5 2.9h-3zM477.6 457.4l1.5 2.9h-3zM458.2 460.4l1.5 2.9h-3zM493.9 456.5l1.5 2.9h-3zM470.6 464.1l1.5 2.9h-3zM487.3 456.8l1.5 2.9h-3zM455.2 458.5l1.5 2.9h-3zM502.2 443.3l1.5 2.9h-3zM463.2 458.2l1.5 2.9h-3zM473.3 463.4l1.5 2.9h-3zM475.9 460.1l1.5 2.9h-3zM482.2 459.3l1.5 2.9h-3zM504.5 446.9l1.5 2.9h-3zM500.8 455.5l1.5 2.9h-3zM473.8 454.4l1.5 2.9h-3zM473.6 464.3l1.5 2.9h-3zM493.7 450.6l1.5 2.9h-3zM471.3 456.8l1.5 2.9h-3zM465.7 465.8l1.5 2.9h-3zM504.7 453.1l1.5 2.9h-3zM494.2 452.7l1.5 2.9h-3zM475.5 453.1l1.5 2.9h-3zM464.2 457.4l1.5 2.9h-3zM480.5 460.5l1.5 2.9h-3zM476.2 459.1l1.5 2.9h-3zM469.4 463l1.5 2.9h-3zM484.8 466.8l1.5 2.9h-3zM462.4 459.3l1.5 2.9h-3zM467.5 460.7l1.5 2.9h-3zM483.5 448.8l1.5 2.9h-3zM475.4 465.7l1.5 2.9h-3zM475.7 463.7l1.5 2.9h-3zM489.7 450.1l1.5 2.9h-3zM457.1 455.8l1.5 2.9h-3zM494.5 450.6l1.5 2.9h-3zM505.6 441.1l1.5 2.9h-3zM503 450.4l1.5 2.9h-3zM501.6 454.7l1.5 2.9h-3zM455.5 460.7l1.5 2.9h-3zM470 454l1.5 2.9h-3zM458.4 459.7l1.5 2.9h-3zM458.8 456.3l1.5 2.9h-3zM462.7 463.3l1.5 2.9h-3zM456.1 457.4l1.5 2.9h-3zM504.2 456.4l1.5 2.9h-3zM485.7 458.1l1.5 2.9h-3zM470.7 459.3l1.5 2.9h-3zM466.6 459.7l1.5 2.9h-3zM453.2 460.4l1.5 2.9h-3zM454.7 458.7l1.5 2.9h-3zM488.5 459.2l1.5 2.9h-3zM479.3 451.4l1.5 2.9h-3zM470.4 459.8l1.5 2.9h-3zM478.7 451.3l1.5 2.9h-3zM473.5 458.2l1.5 2.9h-3zM491.8 454.8l1.5 2.9h-3zM483.4 455.2l1.5 2.9h-3zM476.1 455.4l1.5 2.9h-3zM453.2 461.8l1.5 2.9h-3zM483.1 461.1l1.5 2.9h-3zM500.8 455l1.5 2.9h-3zM466.8 456.9l1.5 2.9h-3zM471.7 452.9l1.5 2.9h-3zM494.6 460.1l1.5 2.9h-3zM461.9 459l1.5 2.9h-3zM485.1 456.6l1.5 2.9h-3zM487 457.7l1.5 2.9h-3zM496.5 448.2l1.5 2.9h-3zM502.1 446.7l1.5 2.9h-3zM499.3 442.8l1.5 2.9h-3zM463.2 461l1.5 2.9h-3zM495.6 447l1.5 2.9h-3zM485.9 465.4l1.5 2.9h-3zM475.6 463.3l1.5 2.9h-3zM455.6 459.9l1.5 2.9h-3zM485.5 461.8l1.5 2.9h-3zM476.5 467.1l1.5 2.9h-3zM491.5 456.1l1.5 2.9h-3zM485.4 449.7l1.5 2.9h-3zM460.7 462.2l1.5 2.9h-3zM491.8 446.9l1.5 2.9h-3zM460.6 459.1l1.5 2.9h-3zM460.3 456.2l1.5 2.9h-3zM489.8 457.1l1.5 2.9h-3zM503.1 451l1.5 2.9h-3zM492.4 464.4l1.5 2.9h-3zM504.8 456.8l1.5 2.9h-3zM461 458.5l1.5 2.9h-3zM458 458l1.5 2.9h-3zM479.2 467l1.5 2.9h-3zM467.4 458.2l1.5 2.9h-3zM468.2 457.9l1.5 2.9h-3zM463.3 456.1l1.5 2.9h-3zM469.2 460.8l1.5 2.9h-3zM493.6 457.2l1.5 2.9h-3zM475.3 460.5l1.5 2.9h-3zM480.4 460l1.5 2.9h-3zM461.5 464.4l1.5 2.9h-3zM487.8 464.1l1.5 2.9h-3zM491.1 451.1l1.5 2.9h-3zM472.1 465.1l1.5 2.9h-3zM483.1 465l1.5 2.9h-3zM466.9 467l1.5 2.9h-3zM457.5 461.5l1.5 2.9h-3zM462 458.9l1.5 2.9h-3zM453.3 461.5l1.5 2.9h-3zM502.6 445.6l1.5 2.9h-3zM505.6 454.5l1.5 2.9h-3zM461.9 459.9l1.5 2.9h-3zM498.1 454.7l1.5 2.9h-3zM484.8 458.7l1.5 2.9h-3zM495.1 454.7l1.5 2.9h-3zM486.1 463.4l1.5 2.9h-3zM481.1 452.9l1.5 2.9h-3zM473.2 466.9l1.5 2.9h-3zM473.9 456.7l1.5 2.9h-3zM501.4 448.6l1.5 2.9h-3zM469.1 458.3l1.5 2.9h-3zM461.7 462.5l1.5 2.9h-3zM507.6 443l1.5 2.9h-3zM468.7 466.8l1.5 2.9h-3zM458.7 463.8l1.5 2.9h-3zM467.9 454.8l1.5 2.9h-3zM497.3 455.2l1.5 2.9h-3zM496.2 457.7l1.5 2.9h-3zM501.9 452.4l1.5 2.9h-3zM502.5 452.8l1.5 2.9h-3zM507.9 440.2l1.5 2.9h-3zM471.1 454.1l1.5 2.9h-3zM465.5 458.8l1.5 2.9h-3zM505 451.3l1.5 2.9h-3zM503.4 441.9l1.5 2.9h-3zM481.6 449.9l1.5 2.9h-3zM470.2 467.1l1.5 2.9h-3zM463.9 460.1l1.5 2.9h-3zM506.9 442.1l1.5 2.9h-3zM488.2 452.9l1.5 2.9h-3zM486.6 463.1l1.5 2.9h-3zM463.2 463.6l1.5 2.9h-3zM463.1 458.1l1.5 2.9h-3zM476.1 467.4l1.5 2.9h-3zM502.3 448.4l1.5 2.9h-3zM497.7 444.4l1.5 2.9h-3zM465.6 470.5l1.5 2.9h-3zM458.5 468.5l1.5 2.9h-3zM467.7 471.6l1.5 2.9h-3zM467.3 472.9l1.5 2.9h-3zM467.7 467.5l1.5 2.9h-3zM460.9 470.6l1.5 2.9h-3zM466.1 473.2l1.5 2.9h-3zM464 470l1.5 2.9h-3zM459 466.1l1.5 2.9h-3zM458.1 469.9l1.5 2.9h-3zM459.2 470.7l1.5 2.9h-3zM455.1 467.7l1.5 2.9h-3zM456.1 467.3l1.5 2.9h-3zM465.6 472.5l1.5 2.9h-3zM468.8 464.8l1.5 2.9h-3zM468.5 463.8l1.5 2.9h-3zM467.7 471.3l1.5 2.9h-3zM459.8 465.3l1.5 2.9h-3zM458.5 466.9l1.5 2.9h-3zM461.1 465.7l1.5 2.9h-3zM465.1 472.2l1.5 2.9h-3zM468.5 470.3l1.5 2.9h-3zM462 464.1l1.5 2.9h-3zM468.4 467.3l1.5 2.9h-3zM468 470.6l1.5 2.9h-3zM496.7 443l1.5 2.9h-3zM498.7 443.1l1.5 2.9h-3zM502.7 439.3l1.5 2.9h-3zM498.6 439.2l1.5 2.9h-3zM500 443.6l1.5 2.9h-3zM497.9 441.9l1.5 2.9h-3zM500.9 439.1l1.5 2.9h-3zM493.5 441.1l1.5 2.9h-3zM497 442.3l1.5 2.9h-3zM495.1 443.6l1.5 2.9h-3zM496.5 439.5l1.5 2.9h-3zM496 442.7l1.5 2.9h-3zM500 440.1l1.5 2.9h-3zM499.1 444.1l1.5 2.9h-3zM499.6 442.9l1.5 2.9h-3zM497.4 442.3l1.5 2.9h-3zM494.8 442.4l1.5 2.9h-3zM495.2 440.6l1.5 2.9h-3zM498.4 439.4l1.5 2.9h-3zM495.5 440.7l1.5 2.9h-3zM497.4 443.9l1.5 2.9h-3zM502.3 440.9l1.5 2.9h-3z"/>
<path fill="#e03fcb" d="M480 462.4l1.5 2.9h-3zM507.5 450.4l1.5 2.9h-3zM387 496.4l1.5 2.9h-3z"/>
<path fill="#9c0f22" d="M498 463.4l1.5 2.9h-3z"/>
<path fill="#c9b5b2" d="M550.6 409.5l1.5 2.9h-3zM509 433.1l1.5 2.9h-3zM530.3 427.4l1.5 2.9h-3zM536 427.8l1.5 2.9h-3zM540.8 428.5l1.5 2.9h-3zM521.1 430.6l1.5 2.9h-3zM526.3 423l1.5 2.9h-3zM559.8 405.5l1.5 2.9h-3zM513.1 432.3l1.5 2.9h-3zM551 420.5l1.5 2.9h-3zM538.8 423.1l1.5 2.9h-3zM559.4 405.2l1.5 2.9h-3zM538.6 429.4l1.5 2.9h-3zM529.4 423.6l1.5 2.9h-3zM558.1 413.5l1.5 2.9h-3zM539.6 411.2l1.5 2.9h-3zM539.4 427.3l1.5 2.9h-3zM551.3 417.6l1.5 2.9h-3zM526.6 433.8l1.5 2.9h-3zM539.6 421l1.5 2.9h-3zM549.2 419.7l1.5 2.9h-3zM520.2 434.7l1.5 2.9h-3zM521.5 433.3l1.5 2.9h-3zM547.4 423.5l1.5 2.9h-3zM552.5 412.8l1.5 2.9h-3zM544.9 428.1l1.5 2.9h-3zM541.7 421.3l1.5 2.9h-3zM515.9 430.3l1.5 2.9h-3zM552.2 423.4l1.5 2.9h-3zM559.1 406.5l1.5 2.9h-3zM554.1 419.8l1.5 2.9h-3zM535.9 424.8l1.5 2.9h-3zM515.4 430l1.5 2.9h-3zM531.7 419l1.5 2.9h-3zM555.7 414.3l1.5 2.9h-3zM543.4 417.6l1.5 2.9h-3zM516.8 424.1l1.5 2.9h-3zM557.5 413.2l1.5 2.9h-3zM542.4 416.1l1.5 2.9h-3zM547.9 419.2l1.5 2.9h-3zM514.5 432.5l1.5 2.9h-3zM539.8 424.5l1.5 2.9h-3zM549.4 420.8l1.5 2.9h-3zM517.2 424.4l1.5 2.9h-3zM523.1 427.9l1.5 2.9h-3zM553.3 411.8l1.5 2.9h-3zM536.1 420.2l1.5 2.9h-3zM548.7 412.8l1.5 2.9h-3zM548.3 415.3l1.5 2.9h-3zM535.8 414.8l1.5 2.9h-3zM530.6 419.9l1.5 2.9h-3zM546.8 423.5l1.5 2.9h-3zM528.2 421.2l1.5 2.9h-3zM543.4 414l1.5 2.9h-3zM513.7 437l1.5 2.9h-3zM547 423.5l1.5 2.9h-3zM548 424.9l1.5 2.9h-3zM551.4 412.2l1.5 2.9h-3zM534.7 419.6l1.5 2.9h-3zM550.7 414.4l1.5 2.9h-3zM520.3 421.5l1.5 2.9h-3zM509.9 437.1l1.5 2.9h-3zM554.3 407.3l1.5 2.9h-3zM515.6 434l1.5 2.9h-3zM520.7 425.8l1.5 2.9h-3zM523.2 420.8l1.5 2.9h-3zM510.2 434.3l1.5 2.9h-3zM521 432.8l1.5 2.9h-3zM529.5 426.7l1.5 2.9h-3zM517.6 432.6l1.5 2.9h-3zM556 416.1l1.5 2.9h-3zM511.9 439.6l1.5 2.9h-3zM523.8 427.4l1.5 2.9h-3zM519.9 432l1.5 2.9h-3zM536.4 427l1.5 2.9h-3zM513.1 436.4l1.5 2.9h-3zM536.6 426.8l1.5 2.9h-3zM517.4 425.5l1.5 2.9h-3zM547.5 419.4l1.5 2.9h-3zM528.7 422.4l1.5 2.9h-3zM527.9 418.7l1.5 2.9h-3zM552.8 416.4l1.5 2.9h-3zM517.3 423l1.5 2.9h-3zM535.3 425.9l1.5 2.9h-3zM546.2 410.2l1.5 2.9h-3zM533.8 425.2l1.5 2.9h-3zM559.8 404l1.5 2.9h-3zM559.8 414.6l1.5 2.9h-3zM513.1 439.1l1.5 2.9h-3zM557.3 415.1l1.5 2.9h-3zM554.4 407.7l1.5 2.9h-3zM514.5 427.9l1.5 2.9h-3zM547.6 419.2l1.5 2.9h-3zM526.2 421.9l1.5 2.9h-3zM522.4 433.3l1.5 2.9h-3zM536 431l1.5 2.9h-3zM513.1 430.4l1.5 2.9h-3zM549.3 413.3l1.5 2.9h-3zM558.1 418.6l1.5 2.9h-3zM523.8 435.8l1.5 2.9h-3zM559.3 408.8l1.5 2.9h-3zM557 419.5l1.5 2.9h-3zM531.5 425.7l1.5 2.9h-3zM532.6 423.9l1.5 2.9h-3zM541.9 413.7l1.5 2.9h-3zM512.4 431.3l1.5 2.9h-3zM519.6 431.1l1.5 2.9h-3zM537.5 423.1l1.5 2.9h-3zM527.3 420.1l1.5 2.9h-3zM535 416.7l1.5 2.9h-3zM517.8 436.1l1.5 2.9h-3zM557.7 416.4l1.5 2.9h-3zM531 421.9l1.5 2.9h-3zM521.2 435l1.5 2.9h-3zM511.3 437.4l1.5 2.9h-3zM538.6 420.7l1.5 2.9h-3zM529.9 433.7l1.5 2.9h-3zM543.9 426.2l1.5 2.9h-3zM544.4 415.9l1.5 2.9h-3zM512.4 425.4l1.5 2.9h-3zM514.3 425.4l1.5 2.9h-3zM532.3 427.8l1.5 2.9h-3zM530.9 420.3l1.5 2.9h-3zM530.5 430.9l1.5 2.9h-3zM535.8 425l1.5 2.9h-3zM531.5 423.8l1.5 2.9h-3zM552 415.2l1.5 2.9h-3zM539.3 416.7l1.5 2.9h-3zM524.1 436.4l1.5 2.9h-3zM529.5 419.5l1.5 2.9h-3zM520.9 434l1.5 2.9h-3zM537.9 430.7l1.5 2.9h-3zM553.4 409.6l1.5 2.9h-3zM542.1 415.5l1.5 2.9h-3zM556 409l1.5 2.9h-3zM547.5 414.5l1.5 2.9h-3zM539.2 415.3l1.5 2.9h-3zM551.3 422l1.5 2.9h-3zM543.2 413.2l1.5 2.9h-3zM509.7 433.1l1.5 2.9h-3zM542.1 426.6l1.5 2.9h-3zM548.4 424.1l1.5 2.9h-3zM548.5 411.2l1.5 2.9h-3zM523.5 420.5l1.5 2.9h-3zM518.1 426.4l1.5 2.9h-3zM509 438.5l1.5 2.9h-3zM520.7 420.9l1.5 2.9h-3zM518.7 432.1l1.5 2.9h-3zM523.7 422.6l1.5 2.9h-3zM514 431.2l1.5 2.9h-3zM518.4 432.5l1.5 2.9h-3zM515.4 433.3l1.5 2.9h-3zM521.2 429.8l1.5 2.9h-3zM529.4 425l1.5 2.9h-3zM550.5 423.1l1.5 2.9h-3zM555.8 416.5l1.5 2.9h-3zM539.1 418.3l1.5 2.9h-3zM535.1 417.2l1.5 2.9h-3zM533.9 421.7l1.5 2.9h-3zM557 409.3l1.5 2.9h-3zM554.3 418.2l1.5 2.9h-3zM541.5 418l1.5 2.9h-3zM526.7 421.2l1.5 2.9h-3zM551.9 421.5l1.5 2.9h-3zM557.4 419.7l1.5 2.9h-3zM534.3 418l1.5 2.9h-3zM518.8 435.1l1.5 2.9h-3zM533.8 419.4l1.5 2.9h-3zM525.8 425l1.5 2.9h-3zM512.7 437.5l1.5 2.9h-3zM541.8 420.8l1.5 2.9h-3zM539.7 422.2l1.5 2.9h-3zM538.5 422.2l1.5 2.9h-3zM514 433.9l1.5 2.9h-3zM543.1 427l1.5 2.9h-3zM530.5 417.2l1.5 2.9h-3zM525.7 426.4l1.5 2.9h-3zM525.8 431.2l1.5 2.9h-3zM531.8 431.8l1.5 2.9h-3zM536.2 424.9l1.5 2.9h-3zM549.8 418.8l1.5 2.9h-3zM539.3 426l1.5 2.9h-3zM510.8 434.5l1.5 2.9h-3zM531.5 421.8l1.5 2.9h-3zM545.2 410.6l1.5 2.9h-3zM527.9 427.4l1.5 2.9h-3zM511.1 435l1.5 2.9h-3zM557.5 405.3l1.5 2.9h-3zM535.6 422.7l1.5 2.9h-3zM518.3 429.7l1.5 2.9h-3zM556.9 406.2l1.5 2.9h-3zM511.6 436.9l1.5 2.9h-3zM512.6 432.1l1.5 2.9h-3zM515.7 435.2l1.5 2.9h-3zM518.9 421.9l1.5 2.9h-3zM539.4 418.3l1.5 2.9h-3zM556.6 409.3l1.5 2.9h-3zM527.6 431.3l1.5 2.9h-3zM555.7 413.9l1.5 2.9h-3zM522.8 423.4l1.5 2.9h-3zM525.4 420.2l1.5 2.9h-3zM536.7 413.7l1.5 2.9h-3zM551.7 415.9l1.5 2.9h-3zM543.9 414.6l1.5 2.9h-3zM528.4 432.9l1.5 2.9h-3zM523.8 423.6l1.5 2.9h-3zM526.5 431.3l1.5 2.9h-3zM553.6 409.8l1.5 2.9h-3zM524.9 425.8l1.5 2.9h-3zM517.8 423l1.5 2.9h-3zM522.5 433l1.5 2.9h-3zM529.1 427.7l1.5 2.9h-3zM557.7 412.9l1.5 2.9h-3zM533.3 427l1.5 2.9h-3zM553.8 414.5l1.5 2.9h-3zM554.6 415.7l1.5 2.9h-3zM539 425l1.5 2.9h-3zM546.2 414.3l1.5 2.9h-3zM515.9 435.4l1.5 2.9h-3zM530.2 434.9l1.5 2.9h-3zM514.4 429.4l1.5 2.9h-3zM514.5 428l1.5 2.9h-3zM534 427.6l1.5 2.9h-3zM551.5 410l1.5 2.9h-3zM513.4 426.8l1.5 2.9h-3zM510.7 430.4l1.5 2.9h-3zM551.7 415.2l1.5 2.9h-3zM531.9 429.5l1.5 2.9h-3zM515.3 428.4l1.5 2.9h-3zM554.8 411.8l1.5 2.9h-3zM537 423.2l1.5 2.9h-3zM547.3 425.2l1.5 2.9h-3zM555.7 416.1l1.5 2.9h-3zM515.8 438.8l1.5 2.9h-3zM516.9 425l1.5 2.9h-3zM556.8 414.4l1.5 2.9h-3zM525.5 427.9l1.5 2.9h-3zM539.1 417.1l1.5 2.9h-3zM537 414.6l1.5 2.9h-3zM520.1 428.2l1.5 2.9h-3zM524.2 424.9l1.5 2.9h-3zM514.7 429.3l1.5 2.9h-3zM535.2 420.7l1.5 2.9h-3zM541.2 413.6l1.5 2.9h-3zM509.8 428.9l1.5 2.9h-3zM551 415.4l1.5 2.9h-3zM522 428.5l1.5 2.9h-3zM535.9 415.7l1.5 2.9h-3zM512.3 427.1l1.5 2.9h-3zM525.9 421l1.5 2.9h-3zM513.7 429.9l1.5 2.9h-3zM539 419.9l1.5 2.9h-3zM525.4 426.6l1.5 2.9h-3zM555.8 420.6l1.5 2.9h-3zM515.7 433.4l1.5 2.9h-3zM536.7 423l1.5 2.9h-3zM557.7 411.4l1.5 2.9h-3zM523.7 422.1l1.5 2.9h-3zM553.4 411.4l1.5 2.9h-3zM559.5 414.5l1.5 2.9h-3zM513.3 435.6l1.5 2.9h-3zM536.5 423.7l1.5 2.9h-3zM530.3 418l1.5 2.9h-3zM533.5 424.7l1.5 2.9h-3zM550.5 410.1l1.5 2.9h-3zM549.6 423.3l1.5 2.9h-3zM522.2 427.7l1.5 2.9h-3zM538.5 412.8l1.5 2.9h-3zM557.8 409.7l1.5 2.9h-3zM520.8 436.3l1.5 2.9h-3zM518.9 433.4l1.5 2.9h-3zM537.6 423.6l1.5 2.9h-3zM529.5 429l1.5 2.9h-3zM523.7 421l1.5 2.9h-3zM548.6 411.5l1.5 2.9h-3zM557.5 411.2l1.5 2.9h-3zM521.7 419.6l1.5 2.9h-3zM515.3 423.5l1.5 2.9h-3zM532.1 416.9l1.5 2.9h-3zM536.1 413.6l1.5 2.9h-3zM554 414.1l1.5 2.9h-3zM557.7 407.9l1.5 2.9h-3zM536.4 422.1l1.5 2.9h-3zM542.1 422.8l1.5 2.9h-3zM537.6 419l1.5 2.9h-3zM509.2 428.9l1.5 2.9h-3zM537.9 423.3l1.5 2.9h-3zM544.2 418.3l1.5 2.9h-3zM526.8 425l1.5 2.9h-3zM540.4 423.8l1.5 2.9h-3zM530.6 417.6l1.5 2.9h-3zM555.8 413.1l1.5 2.9h-3zM533.4 419.5l1.5 2.9h-3zM537.8 421l1.5 2.9h-3zM517.9 430.7l1.5 2.9h-3zM546.1 413l1.5 2.9h-3zM532.6 427.2l1.5 2.9h-3zM516.8 437l1.5 2.9h-3zM535.1 422l1.5 2.9h-3zM519.9 422l1.5 2.9h-3zM526.7 422.5l1.5 2.9h-3zM523.3 427.1l1.5 2.9h-3zM535.1 430.9l1.5 2.9h-3zM538 415.5l1.5 2.9h-3zM549.6 415.4l1.5 2.9h-3zM535.2 422.8l1.5 2.9h-3zM553.9 416.9l1.5 2.9h-3zM551.6 410.6l1.5 2.9h-3zM511.3 438.7l1.5 2.9h-3zM526.7 423l1.5 2.9h-3zM514 434.6l1.5 2.9h-3zM553.2 416.2l1.5 2.9h-3zM511.1 431.4l1.5 2.9h-3zM521.3 430l1.5 2.9h-3zM538.9 411.5l1.5 2.9h-3zM515.3 423.6l1.5 2.9h-3zM556.9 415l1.5 2.9h-3zM522.7 427.8l1.5 2.9h-3zM514.5 426.7l1.5 2.9h-3zM515.3 424.8l1.5 2.9h-3zM530 420.1l1.5 2.9h-3zM533.6 419.6l1.5 2.9h-3zM540.1 416.8l1.5 2.9h-3zM514 435.9l1.5 2.9h-3zM517.9 438l1.5 2.9h-3zM524.9 421.3l1.5 2.9h-3zM512.4 439.6l1.5 2.9h-3zM513.4 433.9l1.5 2.9h-3zM526.6 428l1.5 2.9h-3zM528 423.8l1.5 2.9h-3zM546.9 410.9l1.5 2.9h-3zM558.7 405l1.5 2.9h-3zM516.9 424l1.5 2.9h-3zM547.1 426.5l1.5 2.9h-3zM510.9 431.9l1.5 2.9h-3zM518.5 425l1.5 2.9h-3zM512.2 436.4l1.5 2.9h-3zM512.2 429.8l1.5 2.9h-3zM517.9 431.8l1.5 2.9h-3zM536.8 419.2l1.5 2.9h-3zM548.5 418l1.5 2.9h-3zM555 417.9l1.5 2.9h-3zM555.9 415l1.5 2.9h-3zM525.2 422.4l1.5 2.9h-3zM552 414l1.5 2.9h-3zM539.1 417.7l1.5 2.9h-3zM543.2 421.9l1.5 2.9h-3zM543.7 415.6l1.5 2.9h-3zM521.9 427.1l1.5 2.9h-3zM556.9 410.1l1.5 2.9h-3zM527.8 419.9l1.5 2.9h-3zM513.8 434l1.5 2.9h-3zM533.9 425l1.5 2.9h-3zM537.8 428.2l1.5 2.9h-3zM537.9 427.3l1.5 2.9h-3zM539.2 420.4l1.5 2.9h-3zM558.9 411.7l1.5 2.9h-3zM536.6 424.2l1.5 2.9h-3zM548 411.3l1.5 2.9h-3zM546.3 420.9l1.5 2.9h-3zM537.2 422.9l1.5 2.9h-3zM538.9 414.9l1.5 2.9h-3zM554.7 412.7l1.5 2.9h-3zM521.4 435.9l1.5 2.9h-3zM548.3 416.7l1.5 2.9h-3zM528.7 434.6l1.5 2.9h-3zM542.8 418.7l1.5 2.9h-3zM559.6 408.8l1.5 2.9h-3zM530.9 421.7l1.5 2.9h-3zM550.8 414l1.5 2.9h-3zM530.4 430.2l1.5 2.9h-3zM521.6 425.1l1.5 2.9h-3zM517.3 432.1l1.5 2.9h-3zM554 416.7l1.5 2.9h-3zM558.7 409.3l1.5 2.9h-3zM547.8 411.2l1.5 2.9h-3zM526.6 428.6l1.5 2.9h-3zM556.9 416.7l1.5 2.9h-3zM533.7 425l1.5 2.9h-3zM534.3 418.7l1.5 2.9h-3zM553.6 415.8l1.5 2.9h-3zM509.9 433.4l1.5 2.9h-3zM546.7 408.9l1.5 2.9h-3zM530.6 417.9l1.5 2.9h-3zM549.1 411.9l1.5 2.9h-3zM526.5 423.9l1.5 2.9h-3zM517.6 437.7l1.5 2.9h-3zM539.6 427.2l1.5 2.9h-3zM540.3 428.3l1.5 2.9h-3zM529 429.9l1.5 2.9h-3zM527 430.7l1.5 2.9h-3zM557.1 411.8l1.5 2.9h-3zM517.4 429l1.5 2.9h-3zM544 426.6l1.5 2.9h-3zM528.6 426.5l1.5 2.9h-3zM559.5 408.4l1.5 2.9h-3zM558.8 414.6l1.5 2.9h-3zM547.8 415.7l1.5 2.9h-3zM536.7 429l1.5 2.9h-3zM533.5 418.2l1.5 2.9h-3zM516.1 434.9l1.5 2.9h-3zM538.3 420.3l1.5 2.9h-3zM552.3 409.8l1.5 2.9h-3zM548.8 424.7l1.5 2.9h-3zM528.1 421.3l1.5 2.9h-3zM518.1 425.5l1.5 2.9h-3zM532.9 432.4l1.5 2.9h-3zM510.9 431.7l1.5 2.9h-3zM537.9 425.2l1.5 2.9h-3zM545 422.3l1.5 2.9h-3zM509.3 432.4l1.5 2.9h-3zM549.1 414.1l1.5 2.9h-3zM527.8 426.1l1.5 2.9h-3zM539.1 410.8l1.5 2.9h-3zM542.2 416.8l1.5 2.9h-3zM553.1 410.2l1.5 2.9h-3zM558.9 413.8l1.5 2.9h-3zM542.4 417l1.5 2.9h-3zM531.8 420.5l1.5 2.9h-3zM547.3 422.3l1.5 2.9h-3zM545.3 417l1.5 2.9h-3zM528 428l1.5 2.9h-3zM554.9 412.1l1.5 2.9h-3zM515.7 431.7l1.5 2.9h-3zM509.9 436.4l1.5 2.9h-3zM518.7 432.2l1.5 2.9h-3zM542.5 423.3l1.5 2.9h-3zM559.4 403.2l1.5 2.9h-3zM529.6 417.8l1.5 2.9h-3zM515.7 425.8l1.5 2.9h-3zM558 402.7l1.5 2.9h-3zM559 403.2l1.5 2.9h-3zM567.4 389.4l1.5 2.9h-3zM587.1 388.1l1.5 2.9h-3zM575.9 390l1.5 2.9h-3zM586.7 391.1l1.5 2.9h-3zM574.1 396.9l1.5 2.9h-3zM576.2 394l1.5 2.9h-3zM570.7 404.7l1.5 2.9h-3zM581.2 382.5l1.5 2.9h-3zM578.4 374.3l1.5 2.9h-3zM560.2 414.7l1.5 2.9h-3zM569.2 401.9l1.5 2.9h-3zM574.8 374.6l1.5 2.9h-3zM573.8 378l1.5 2.9h-3zM559.5 405.3l1.5 2.9h-3zM567.8 406.3l1.5 2.9h-3zM580.6 380.4l1.5 2.9h-3zM571.5 401.7l1.5 2.9h-3zM583 392.2l1.5 2.9h-3zM566.3 410.9l1.5 2.9h-3zM579.6 373l1.5 2.9h-3zM559.4 410.3l1.5 2.9h-3zM582.3 385.3l1.5 2.9h-3zM575.5 389.8l1.5 2.9h-3zM589 380.8l1.5 2.9h-3zM576.3 394.8l1.5 2.9h-3zM575.3 380.3l1.5 2.9h-3zM562.8 409.7l1.5 2.9h-3zM586.1 374.8l1.5 2.9h-3zM563.4 397.1l1.5 2.9h-3zM571.1 404l1.5 2.9h-3zM588 392.7l1.5 2.9h-3zM561.4 410.5l1.5 2.9h-3zM584.9 383.9l1.5 2.9h-3zM579.7 386.2l1.5 2.9h-3zM562.1 409.1l1.5 2.9h-3zM579.1 385l1.5 2.9h-3zM577.1 388.2l1.5 2.9h-3zM588 380l1.5 2.9h-3zM586.8 372.3l1.5 2.9h-3zM562.5 394.5l1.5 2.9h-3zM589.1 381.3l1.5 2.9h-3zM562.5 415.5l1.5 2.9h-3zM583.3 380.1l1.5 2.9h-3zM571.5 379.4l1.5 2.9h-3zM586.1 386.2l1.5 2.9h-3zM572.2 374.9l1.5 2.9h-3zM559.5 411.7l1.5 2.9h-3zM586.6 376.4l1.5 2.9h-3zM568.4 397.7l1.5 2.9h-3zM580.3 379.4l1.5 2.9h-3zM585.8 372.4l1.5 2.9h-3zM569 381l1.5 2.9h-3zM580.1 383.8l1.5 2.9h-3zM568.9 385l1.5 2.9h-3zM584.3 393.8l1.5 2.9h-3zM589.1 390.2l1.5 2.9h-3zM564.9 396.1l1.5 2.9h-3zM583.7 385.8l1.5 2.9h-3zM588 384.7l1.5 2.9h-3zM570 397.9l1.5 2.9h-3zM561.7 412.7l1.5 2.9h-3zM576.5 377.7l1.5 2.9h-3zM580 383l1.5 2.9h-3zM567.4 400.9l1.5 2.9h-3zM558.2 403.9l1.5 2.9h-3zM576.6 389.4l1.5 2.9h-3zM563.5 402.3l1.5 2.9h-3zM570 384.1l1.5 2.9h-3zM581.4 380.6l1.5 2.9h-3zM562.3 401.2l1.5 2.9h-3zM574.4 389.1l1.5 2.9h-3zM564.5 402.8l1.5 2.9h-3zM578.5 381.7l1.5 2.9h-3zM571.8 395.6l1.5 2.9h-3zM578.2 384.7l1.5 2.9h-3zM566.2 401l1.5 2.9h-3zM579 388.2l1.5 2.9h-3zM561.9 403.9l1.5 2.9h-3zM576.8 373.1l1.5 2.9h-3zM559.2 412.5l1.5 2.9h-3zM579.7 377.2l1.5 2.9h-3zM584.8 390l1.5 2.9h-3zM576.5 370.8l1.5 2.9h-3zM573.1 401.3l1.5 2.9h-3zM587.1 386.6l1.5 2.9h-3zM581.5 378.8l1.5 2.9h-3zM586.6 376.6l1.5 2.9h-3zM578.3 378.4l1.5 2.9h-3zM585.9 370.8l1.5 2.9h-3zM588.6 376.6l1.5 2.9h-3zM569.6 404.2l1.5 2.9h-3zM588 382.8l1.5 2.9h-3zM586.1 386.7l1.5 2.9h-3zM566.6 389.6l1.5 2.9h-3zM563.9 409.8l1.5 2.9h-3zM573.8 393.7l1.5 2.9h-3zM584.9 391.1l1.5 2.9h-3zM560 419.6l1.5 2.9h-3zM580.4 391.3l1.5 2.9h-3zM571.9 375.3l1.5 2.9h-3zM583.9 376l1.5 2.9h-3zM558.9 407.4l1.5 2.9h-3zM578.7 375.4l1.5 2.9h-3zM567.3 391l1.5 2.9h-3zM578.7 381.4l1.5 2.9h-3zM560.4 417.3l1.5 2.9h-3zM589.1 393.8l1.5 2.9h-3zM587.4 384.9l1.5 2.9h-3zM570 382.1l1.5 2.9h-3zM572.2 394.6l1.5 2.9h-3zM587.4 384l1.5 2.9h-3zM581.4 374.2l1.5 2.9h-3zM573.6 390.5l1.5 2.9h-3zM561.5 416.3l1.5 2.9h-3zM566.7 401.1l1.5 2.9h-3zM578.1 371.1l1.5 2.9h-3zM585.5 375.3l1.5 2.9h-3zM563.8 393.2l1.5 2.9h-3zM578.5 388.4l1.5 2.9h-3zM570.5 398.9l1.5 2.9h-3zM584.9 373.1l1.5 2.9h-3zM561 419l1.5 2.9h-3zM559.1 419.4l1.5 2.9h-3zM581.2 394.8l1.5 2.9h-3zM561.4 413.1l1.5 2.9h-3zM584.4 373.6l1.5 2.9h-3zM587.3 380.7l1.5 2.9h-3zM579.7 381.3l1.5 2.9h-3zM587.2 389.2l1.5 2.9h-3zM578.8 379.9l1.5 2.9h-3zM587.4 379.9l1.5 2.9h-3zM587.5 383.7l1.5 2.9h-3zM559.9 413.2l1.5 2.9h-3zM560.6 407.2l1.5 2.9h-3zM559.2 408.4l1.5 2.9h-3zM580.1 380l1.5 2.9h-3zM589.1 388.3l1.5 2.9h-3zM585.2 391.4l1.5 2.9h-3zM563 410.7l1.5 2.9h-3zM589 381.6l1.5 2.9h-3zM585.5 370.2l1.5 2.9h-3zM561.9 412.5l1.5 2.9h-3zM565.6 397l1.5 2.9h-3zM561.3 411.9l1.5 2.9h-3zM582.1 379.4l1.5 2.9h-3zM585.8 387l1.5 2.9h-3zM564.8 396l1.5 2.9h-3zM587.3 378l1.5 2.9h-3zM570.6 394.1l1.5 2.9h-3zM581.5 370.7l1.5 2.9h-3zM579.3 391l1.5 2.9h-3zM567.7 400.7l1.5 2.9h-3zM586.3 385.9l1.5 2.9h-3zM567.3 393.2l1.5 2.9h-3zM585.3 388.8l1.5 2.9h-3zM568.4 405.9l1.5 2.9h-3zM567.6 392l1.5 2.9h-3zM562.4 402.9l1.5 2.9h-3zM571.7 375.8l1.5 2.9h-3zM575.6 383l1.5 2.9h-3zM570.7 380.1l1.5 2.9h-3zM584.2 371.1l1.5 2.9h-3zM588.5 383.5l1.5 2.9h-3zM563.2 406.4l1.5 2.9h-3zM578.1 373.4l1.5 2.9h-3zM560.2 397.9l1.5 2.9h-3zM585.7 377.4l1.5 2.9h-3zM564.5 409.3l1.5 2.9h-3zM571.1 394.3l1.5 2.9h-3zM566 389.5l1.5 2.9h-3zM567.5 407.7l1.5 2.9h-3zM585 377.2l1.5 2.9h-3zM567.6 392.1l1.5 2.9h-3zM565.6 405.5l1.5 2.9h-3zM584.5 369.1l1.5 2.9h-3zM573.5 397.2l1.5 2.9h-3zM581.2 384l1.5 2.9h-3zM579.6 391.4l1.5 2.9h-3zM560.5 410.8l1.5 2.9h-3zM580.7 386.3l1.5 2.9h-3zM559.2 407.3l1.5 2.9h-3zM578.8 379.6l1.5 2.9h-3zM581 387.3l1.5 2.9h-3zM577.8 389.7l1.5 2.9h-3zM576 376.4l1.5 2.9h-3zM582.2 377.7l1.5 2.9h-3zM586 383.5l1.5 2.9h-3zM568.5 387.7l1.5 2.9h-3zM581.2 376.3l1.5 2.9h-3zM580.5 390.2l1.5 2.9h-3zM572.3 394.5l1.5 2.9h-3zM585.6 383l1.5 2.9h-3zM589.1 380.6l1.5 2.9h-3zM572.3 375.7l1.5 2.9h-3zM587.9 390.5l1.5 2.9h-3zM570.9 382.1l1.5 2.9h-3zM581.4 378.3l1.5 2.9h-3zM559.5 417.9l1.5 2.9h-3zM583.4 390l1.5 2.9h-3zM563.9 396.4l1.5 2.9h-3zM585.8 384.5l1.5 2.9h-3zM559.9 415l1.5 2.9h-3zM577 387.6l1.5 2.9h-3zM558.1 413.1l1.5 2.9h-3zM573.7 401.3l1.5 2.9h-3zM572.1 403.1l1.5 2.9h-3zM588.3 379.2l1.5 2.9h-3zM586.9 385.1l1.5 2.9h-3zM578.4 388l1.5 2.9h-3zM576.4 374.9l1.5 2.9h-3zM586 392.6l1.5 2.9h-3zM575.3 378.1l1.5 2.9h-3zM572.3 388.2l1.5 2.9h-3zM533.7 459.7l1.5 2.9h-3zM517.9 459.2l1.5 2.9h-3zM520.7 458.3l1.5 2.9h-3zM531.6 458.9l1.5 2.9h-3zM518.8 460l1.5 2.9h-3zM529.5 459l1.5 2.9h-3zM534.9 459.3l1.5 2.9h-3zM524.3 458.4l1.5 2.9h-3zM527.9 459l1.5 2.9h-3zM519.3 458.9l1.5 2.9h-3zM531.1 459.5l1.5 2.9h-3zM528.6 459.5l1.5 2.9h-3zM566.5 459.2l1.5 2.9h-3zM567 459.2l1.5 2.9h-3zM562.1 459.6l1.5 2.9h-3zM554.8 458.6l1.5 2.9h-3zM555.7 458.8l1.5 2.9h-3zM556.1 459l1.5 2.9h-3zM559.4 458.5l1.5 2.9h-3zM569 459.4l1.5 2.9h-3zM555.7 459l1.5 2.9h-3zM563.8 458.8l1.5 2.9h-3zM557.4 458.5l1.5 2.9h-3zM560.3 458.8l1.5 2.9h-3zM565 432.4l1.5 2.9h-3zM584.5 404.4l1.5 2.9h-3zM579 405.4l1.5 2.9h-3zM584.5 367.9l1.5 2.9h-3zM540.5 449.4l1.5 2.9h-3zM567 448.9l1.5 2.9h-3zM566 452.4l1.5 2.9h-3zM572.5 454.9l1.5 2.9h-3zM565.5 431.9l1.5 2.9h-3zM509 439.4l1.5 2.9h-3zM510.5 458.9l1.5 2.9h-3zM517 458.9l1.5 2.9h-3zM573 370.9l1.5 2.9h-3z"/>
<text x="242.3" y="9.2" font-size="6.5" text-anchor="start" fill="#d8d0cf">Phylum</text>
<path fill="#1f70ff" d="M247.3 16.6l1.5 2.9h-3z"/>
<text x="255.8" y="19.9" font-size="5.3" text-anchor="start" fill="#c8c0bf" font-style="italic">Acidobacteriota</text>
<path fill="#e03fcb" d="M247.3 26.8l1.5 2.9h-3z"/>
<text x="255.8" y="30.1" font-size="5.3" text-anchor="start" fill="#c8c0bf" font-style="italic">Actinomycetota</text>
<path fill="#5a86f2" d="M247.3 37l1.5 2.9h-3z"/>
<text x="255.8" y="40.3" font-size="5.3" text-anchor="start" fill="#c8c0bf" font-style="italic">Candidatus Neomarinimicrobiota</text>
<path fill="#8c1468" d="M247.3 47.1l1.5 2.9h-3z"/>
<text x="255.8" y="50.4" font-size="5.3" text-anchor="start" fill="#c8c0bf" font-style="italic">Chloroflexota</text>
<path fill="#0f6b3f" d="M247.3 57.3l1.5 2.9h-3z"/>
<text x="255.8" y="60.6" font-size="5.3" text-anchor="start" fill="#c8c0bf" font-style="italic">Gemmatimonadota</text>
<path fill="#a6e326" d="M247.3 67.5l1.5 2.9h-3z"/>
<text x="255.8" y="70.8" font-size="5.3" text-anchor="start" fill="#c8c0bf" font-style="italic">Myxococcota</text>
<path fill="#d48f12" d="M247.3 77.7l1.5 2.9h-3z"/>
<text x="255.8" y="81" font-size="5.3" text-anchor="start" fill="#c8c0bf" font-style="italic">Nitrospinota</text>
<path fill="#9a2cf0" d="M247.3 87.9l1.5 2.9h-3z"/>
<text x="255.8" y="91.2" font-size="5.3" text-anchor="start" fill="#c8c0bf" font-style="italic">Planctomycetota</text>
<path fill="#740c42" d="M247.3 98l1.5 2.9h-3z"/>
<text x="255.8" y="101.3" font-size="5.3" text-anchor="start" fill="#c8c0bf" font-style="italic">Proteobacteria</text>
<path fill="#7d2dff" d="M247.3 108.2l1.5 2.9h-3z"/>
<text x="255.8" y="111.5" font-size="5.3" text-anchor="start" fill="#c8c0bf" font-style="italic">Pseudomonadota</text>
<path fill="#3fd2ee" d="M247.3 118.4l1.5 2.9h-3z"/>
<text x="255.8" y="121.7" font-size="5.3" text-anchor="start" fill="#c8c0bf" font-style="italic">Spirochaetota</text>
<path fill="#111a7c" d="M247.3 128.6l1.5 2.9h-3z"/>
<text x="255.8" y="131.9" font-size="5.3" text-anchor="start" fill="#c8c0bf">unclassified Bacteria</text>
<text x="594.5" y="34.9" font-size="6.5" text-anchor="start" fill="#d8d0cf">Phylum</text>
<path fill="#e03fcb" d="M599.5 41.9l1.5 2.9h-3z"/>
<text x="608" y="45.2" font-size="5.3" text-anchor="start" fill="#c8c0bf" font-style="italic">Actinomycetota</text>
<path fill="#7dff1a" d="M599.5 52.2l1.5 2.9h-3z"/>
<text x="608" y="55.5" font-size="5.3" text-anchor="start" fill="#c8c0bf" font-style="italic">Bacteroidota</text>
<path fill="#5a86f2" d="M599.5 62.4l1.5 2.9h-3z"/>
<text x="608" y="65.7" font-size="5.3" text-anchor="start" fill="#c8c0bf" font-style="italic">Candidatus Neomarinimicrobiota</text>
<path fill="#1418f0" d="M599.5 72.7l1.5 2.9h-3z"/>
<text x="608" y="76" font-size="5.3" text-anchor="start" fill="#c8c0bf" font-style="italic">Cyanobacteriota</text>
<path fill="#a6e326" d="M599.5 83l1.5 2.9h-3z"/>
<text x="608" y="86.3" font-size="5.3" text-anchor="start" fill="#c8c0bf" font-style="italic">Myxococcota</text>
<path fill="#7d2dff" d="M599.5 93.2l1.5 2.9h-3z"/>
<text x="608" y="96.5" font-size="5.3" text-anchor="start" fill="#c8c0bf" font-style="italic">Pseudomonadota</text>
<path fill="#111a7c" d="M599.5 103.5l1.5 2.9h-3z"/>
<text x="608" y="106.8" font-size="5.3" text-anchor="start" fill="#c8c0bf">unclassified Bacteria</text>
<text x="276.4" y="224.7" font-size="6.5" text-anchor="start" fill="#d8d0cf">Phylum</text>
<path fill="#1f70ff" d="M281.4 231.9l1.5 2.9h-3z"/>
<text x="289.9" y="235.2" font-size="5.3" text-anchor="start" fill="#c8c0bf" font-style="italic">Acidobacteriota</text>
<path fill="#e03fcb" d="M281.4 242.3l1.5 2.9h-3z"/>
<text x="289.9" y="245.6" font-size="5.3" text-anchor="start" fill="#c8c0bf" font-style="italic">Actinomycetota</text>
<path fill="#a6e326" d="M281.4 252.7l1.5 2.9h-3z"/>
<text x="289.9" y="256" font-size="5.3" text-anchor="start" fill="#c8c0bf" font-style="italic">Myxococcota</text>
<path fill="#7d2dff" d="M281.4 263.1l1.5 2.9h-3z"/>
<text x="289.9" y="266.4" font-size="5.3" text-anchor="start" fill="#c8c0bf" font-style="italic">Pseudomonadota</text>
<path fill="#8c0e1a" d="M281.4 273.5l1.5 2.9h-3z"/>
<text x="289.9" y="276.8" font-size="5.3" text-anchor="start" fill="#c8c0bf" font-style="italic">Verrucomicrobiota</text>
<text x="591.4" y="224.7" font-size="6.5" text-anchor="start" fill="#d8d0cf">Phylum</text>
<path fill="#e03fcb" d="M596.4 231.9l1.5 2.9h-3z"/>
<text x="604.9" y="235.2" font-size="5.3" text-anchor="start" fill="#c8c0bf" font-style="italic">Actinomycetota</text>
<path fill="#5a86f2" d="M596.4 242.2l1.5 2.9h-3z"/>
<text x="604.9" y="245.5" font-size="5.3" text-anchor="start" fill="#c8c0bf" font-style="italic">Candidatus Neomarinimicrobiota</text>
<path fill="#740c42" d="M596.4 252.5l1.5 2.9h-3z"/>
<text x="604.9" y="255.8" font-size="5.3" text-anchor="start" fill="#c8c0bf" font-style="italic">Proteobacteria</text>
<path fill="#7d2dff" d="M596.4 262.7l1.5 2.9h-3z"/>
<text x="604.9" y="266" font-size="5.3" text-anchor="start" fill="#c8c0bf" font-style="italic">Pseudomonadota</text>
<path fill="#111a7c" d="M596.4 273l1.5 2.9h-3z"/>
<text x="604.9" y="276.3" font-size="5.3" text-anchor="start" fill="#c8c0bf">unclassified Bacteria</text>
<text x="276.4" y="417.9" font-size="6.5" text-anchor="start" fill="#d8d0cf">Phylum</text>
<path fill="#e03fcb" d="M281.4 425.2l1.5 2.9h-3z"/>
<text x="289.9" y="428.5" font-size="5.3" text-anchor="start" fill="#c8c0bf" font-style="italic">Actinomycetota</text>
<path fill="#7d2dff" d="M281.4 435.4l1.5 2.9h-3z"/>
<text x="289.9" y="438.8" font-size="5.3" text-anchor="start" fill="#c8c0bf" font-style="italic">Pseudomonadota</text>
<path fill="#8c0e1a" d="M281.4 445.7l1.5 2.9h-3z"/>
<text x="289.9" y="449" font-size="5.3" text-anchor="start" fill="#c8c0bf" font-style="italic">Verrucomicrobiota</text>
<text x="621.9" y="412.6" font-size="6.5" text-anchor="start" fill="#d8d0cf">Phylum</text>
<path fill="#e03fcb" d="M626.9 420.1l1.5 2.9h-3z"/>
<text x="635.4" y="423.4" font-size="5.3" text-anchor="start" fill="#c8c0bf" font-style="italic">Actinomycetota</text>
<path fill="#8c0e1a" d="M626.9 430.3l1.5 2.9h-3z"/>
<text x="635.4" y="433.6" font-size="5.3" text-anchor="start" fill="#c8c0bf" font-style="italic">Verrucomicrobiota</text>
<path fill="#7d2dff" d="M626.9 440.6l1.5 2.9h-3z"/>
<text x="635.4" y="443.9" font-size="5.3" text-anchor="start" fill="#c8c0bf" font-style="italic">Pseudomonadota</text>
<path fill="#111a7c" d="M626.9 450.8l1.5 2.9h-3z"/>
<text x="635.4" y="454.1" font-size="5.3" text-anchor="start" fill="#c8c0bf">unclassified Bacteria</text>
</svg>
</body></html>
